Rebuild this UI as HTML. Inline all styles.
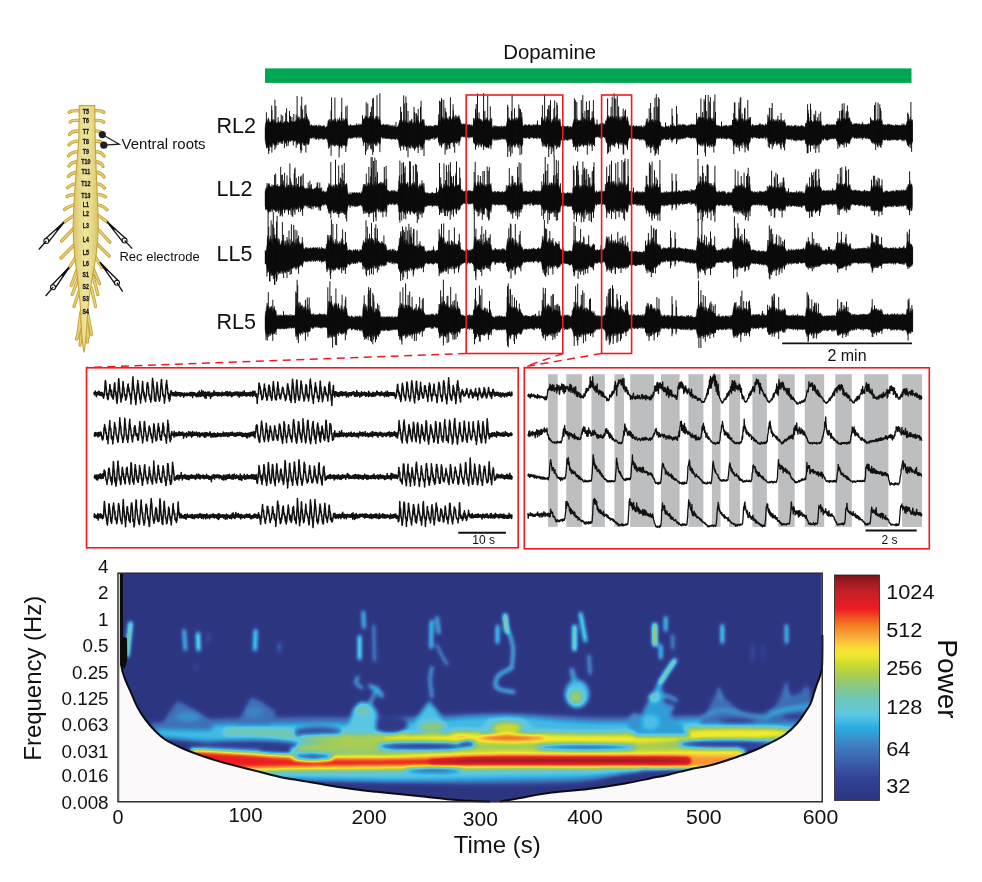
<!DOCTYPE html><html><head><meta charset="utf-8"><title>Dopamine figure</title><style>html,body{margin:0;padding:0;background:#fff;}svg{display:block;}</style></head><body><svg width="982" height="882" viewBox="0 0 982 882" font-family='"Liberation Sans", Arial, sans-serif' fill="#111"><defs><linearGradient id="cg" x1="0" x2="1" y1="0" y2="0"><stop offset="0" stop-color="#D9C467"/><stop offset="0.25" stop-color="#E6D988"/><stop offset="0.5" stop-color="#EDE49D"/><stop offset="0.75" stop-color="#E6D988"/><stop offset="1" stop-color="#D9C467"/></linearGradient></defs><path d="M83 111.2 Q72 109.9 69.4 112.3 M91 111.2 Q101 109.9 103.7 112.3 M83 120.7 Q72 119.4 70.3 122.0 M91 120.7 Q101 119.4 103.7 122.0 M83 131.3 Q72 130.0 69.5 134.5 M91 131.3 Q101 130.0 102.0 133.8 M83 141.3 Q72 140.0 69.0 144.8 M91 141.3 Q101 140.0 103.0 144.5 M83 151.8 Q72 150.5 68.5 155.8 M91 151.8 Q101 150.5 104.0 156.0 M83 162.0 Q72 160.7 69.0 166.0 M91 162.0 Q101 160.7 103.0 166.5 M83 172.5 Q72 171.2 68.5 176.5 M91 172.5 Q101 171.2 104.0 177.0 M83 183.8 Q72 182.5 67.5 187.8 M91 183.8 Q101 182.5 104.5 188.0 M83 194.8 Q72 193.5 67.0 196.5 M91 194.8 Q101 193.5 105.5 196.8 M83 204.5 Q72 203.2 64.5 209.5 M91 204.5 Q101 203.2 107.0 209.8 M77 213 L63.9 222.5 M95 213 L107.5 222.3 M76 226 L61.6 241 M96 227 L109.8 242.2 M76 243 L61 258 M95 242 L109.3 256 M77 255 L69 268 M94 254.5 L101.9 267.5 M78.5 266 L71.2 285.5 M79 276 L72.3 294.5 M80.5 287 L74 306.5 M92 266 L99.5 283.5 M93 276 L97.8 294.5 M91.5 288 L95.5 306.5 M81 312 L77.4 338 M87.5 313 L91.6 334.5 M83 318 L76.5 339 M86 318 L88.5 337 M82.5 325 L80 345 M85.5 325 L87.5 342" fill="none" stroke="#C9A136" stroke-width="3.3" stroke-linecap="round"/><path d="M83 111.2 Q72 109.9 69.4 112.3 M91 111.2 Q101 109.9 103.7 112.3 M83 120.7 Q72 119.4 70.3 122.0 M91 120.7 Q101 119.4 103.7 122.0 M83 131.3 Q72 130.0 69.5 134.5 M91 131.3 Q101 130.0 102.0 133.8 M83 141.3 Q72 140.0 69.0 144.8 M91 141.3 Q101 140.0 103.0 144.5 M83 151.8 Q72 150.5 68.5 155.8 M91 151.8 Q101 150.5 104.0 156.0 M83 162.0 Q72 160.7 69.0 166.0 M91 162.0 Q101 160.7 103.0 166.5 M83 172.5 Q72 171.2 68.5 176.5 M91 172.5 Q101 171.2 104.0 177.0 M83 183.8 Q72 182.5 67.5 187.8 M91 183.8 Q101 182.5 104.5 188.0 M83 194.8 Q72 193.5 67.0 196.5 M91 194.8 Q101 193.5 105.5 196.8 M83 204.5 Q72 203.2 64.5 209.5 M91 204.5 Q101 203.2 107.0 209.8 M77 213 L63.9 222.5 M95 213 L107.5 222.3 M76 226 L61.6 241 M96 227 L109.8 242.2 M76 243 L61 258 M95 242 L109.3 256 M77 255 L69 268 M94 254.5 L101.9 267.5 M78.5 266 L71.2 285.5 M79 276 L72.3 294.5 M80.5 287 L74 306.5 M92 266 L99.5 283.5 M93 276 L97.8 294.5 M91.5 288 L95.5 306.5 M81 312 L77.4 338 M87.5 313 L91.6 334.5 M83 318 L76.5 339 M86 318 L88.5 337 M82.5 325 L80 345 M85.5 325 L87.5 342" fill="none" stroke="#E4D37E" stroke-width="1.5" stroke-linecap="round"/><path d="M79.3 105.6 L94.8 105.6 L95.2 140 C96 175, 98 200, 98.2 225 C98.3 245, 96 258, 93.5 270 C91.5 282, 89.5 295, 88 308 C87 325, 86 342, 84 352.5 C82 342, 81 325, 80.5 308 C79.5 295, 78 282, 76.5 270 C74.5 258, 73 245, 73.2 225 C73.5 200, 76 175, 78.8 140 Z" fill="url(#cg)" stroke="#C9A136" stroke-width="1.1"/><text x="85.8" y="113.7" font-size="6.4" font-weight="bold" text-anchor="middle" stroke="#111" stroke-width="0.25" transform="translate(85.8 0) scale(0.82 1) translate(-85.8 0)">T5</text><text x="85.8" y="122.9" font-size="6.4" font-weight="bold" text-anchor="middle" stroke="#111" stroke-width="0.25" transform="translate(85.8 0) scale(0.82 1) translate(-85.8 0)">T6</text><text x="85.8" y="133.8" font-size="6.4" font-weight="bold" text-anchor="middle" stroke="#111" stroke-width="0.25" transform="translate(85.8 0) scale(0.82 1) translate(-85.8 0)">T7</text><text x="85.8" y="144.2" font-size="6.4" font-weight="bold" text-anchor="middle" stroke="#111" stroke-width="0.25" transform="translate(85.8 0) scale(0.82 1) translate(-85.8 0)">T8</text><text x="85.8" y="153.8" font-size="6.4" font-weight="bold" text-anchor="middle" stroke="#111" stroke-width="0.25" transform="translate(85.8 0) scale(0.82 1) translate(-85.8 0)">T9</text><text x="85.8" y="163.9" font-size="6.4" font-weight="bold" text-anchor="middle" stroke="#111" stroke-width="0.25" transform="translate(85.8 0) scale(0.82 1) translate(-85.8 0)">T10</text><text x="85.8" y="174.2" font-size="6.4" font-weight="bold" text-anchor="middle" stroke="#111" stroke-width="0.25" transform="translate(85.8 0) scale(0.82 1) translate(-85.8 0)">T11</text><text x="85.8" y="186" font-size="6.4" font-weight="bold" text-anchor="middle" stroke="#111" stroke-width="0.25" transform="translate(85.8 0) scale(0.82 1) translate(-85.8 0)">T12</text><text x="85.8" y="197.8" font-size="6.4" font-weight="bold" text-anchor="middle" stroke="#111" stroke-width="0.25" transform="translate(85.8 0) scale(0.82 1) translate(-85.8 0)">T13</text><text x="85.8" y="206.9" font-size="6.4" font-weight="bold" text-anchor="middle" stroke="#111" stroke-width="0.25" transform="translate(85.8 0) scale(0.82 1) translate(-85.8 0)">L1</text><text x="85.8" y="215.8" font-size="6.4" font-weight="bold" text-anchor="middle" stroke="#111" stroke-width="0.25" transform="translate(85.8 0) scale(0.82 1) translate(-85.8 0)">L2</text><text x="85.8" y="227.6" font-size="6.4" font-weight="bold" text-anchor="middle" stroke="#111" stroke-width="0.25" transform="translate(85.8 0) scale(0.82 1) translate(-85.8 0)">L3</text><text x="85.8" y="242" font-size="6.4" font-weight="bold" text-anchor="middle" stroke="#111" stroke-width="0.25" transform="translate(85.8 0) scale(0.82 1) translate(-85.8 0)">L4</text><text x="85.8" y="254.7" font-size="6.4" font-weight="bold" text-anchor="middle" stroke="#111" stroke-width="0.25" transform="translate(85.8 0) scale(0.82 1) translate(-85.8 0)">L5</text><text x="85.8" y="265.8" font-size="6.4" font-weight="bold" text-anchor="middle" stroke="#111" stroke-width="0.25" transform="translate(85.8 0) scale(0.82 1) translate(-85.8 0)">L6</text><text x="85.8" y="276.8" font-size="6.4" font-weight="bold" text-anchor="middle" stroke="#111" stroke-width="0.25" transform="translate(85.8 0) scale(0.82 1) translate(-85.8 0)">S1</text><text x="85.8" y="289.1" font-size="6.4" font-weight="bold" text-anchor="middle" stroke="#111" stroke-width="0.25" transform="translate(85.8 0) scale(0.82 1) translate(-85.8 0)">S2</text><text x="85.8" y="301.5" font-size="6.4" font-weight="bold" text-anchor="middle" stroke="#111" stroke-width="0.25" transform="translate(85.8 0) scale(0.82 1) translate(-85.8 0)">S3</text><text x="85.8" y="313.9" font-size="6.4" font-weight="bold" text-anchor="middle" stroke="#111" stroke-width="0.25" transform="translate(85.8 0) scale(0.82 1) translate(-85.8 0)">S4</text><path d="M63.9 222.3 L44.6 239.4 M63.9 222.3 L48.0 242.6" stroke="#111" stroke-width="1.35" fill="none"/><path d="M64.3 222.7 L63.5 221.9 L55.4 229.4 L57.3 231.2 Z" fill="#111"/><circle cx="46.3" cy="241.0" r="2.5" fill="#fff" stroke="#111" stroke-width="1.1"/><line x1="46.3" y1="241.0" x2="38.8" y2="249.5" stroke="#111" stroke-width="1.3"/><path d="M107.0 221.7 L122.9 242.1 M107.0 221.7 L126.3 238.9" stroke="#111" stroke-width="1.35" fill="none"/><path d="M107.4 221.3 L106.6 222.1 L113.6 230.6 L115.5 228.8 Z" fill="#111"/><circle cx="124.6" cy="240.5" r="2.5" fill="#fff" stroke="#111" stroke-width="1.1"/><line x1="124.6" y1="240.5" x2="132.3" y2="248.6" stroke="#111" stroke-width="1.3"/><path d="M69.0 267.5 L51.2 285.7 M69.0 267.5 L54.8 288.7" stroke="#111" stroke-width="1.35" fill="none"/><path d="M69.5 267.9 L68.5 267.1 L61.1 275.2 L63.1 276.9 Z" fill="#111"/><circle cx="53.0" cy="287.2" r="2.5" fill="#fff" stroke="#111" stroke-width="1.1"/><line x1="53.0" y1="287.2" x2="45.7" y2="296" stroke="#111" stroke-width="1.3"/><path d="M100.0 262.4 L115.2 284.2 M100.0 262.4 L118.8 281.2" stroke="#111" stroke-width="1.35" fill="none"/><path d="M100.5 262.0 L99.5 262.8 L106.1 271.7 L108.1 270.0 Z" fill="#111"/><circle cx="117.0" cy="282.7" r="2.5" fill="#fff" stroke="#111" stroke-width="1.1"/><line x1="117.0" y1="282.7" x2="122.6" y2="291.7" stroke="#111" stroke-width="1.3"/><circle cx="102.3" cy="134.6" r="3.6" fill="#231F20"/><circle cx="103.8" cy="145.2" r="3.6" fill="#231F20"/><path d="M102.3 134.6 L119.2 144.2 L103.8 145.2" fill="none" stroke="#231F20" stroke-width="1.2"/><text x="121.6" y="148.8" font-size="14.2" textLength="84" lengthAdjust="spacingAndGlyphs">Ventral roots</text><text x="119.4" y="260.6" font-size="12.9" textLength="80.5" lengthAdjust="spacingAndGlyphs">Rec electrode</text><text x="549.7" y="59.4" font-size="20.5" text-anchor="middle" textLength="93" lengthAdjust="spacingAndGlyphs">Dopamine</text>
<rect x="265" y="68.4" width="646.5" height="14.5" fill="#00A651"/>
<text x="216.6" y="133" font-size="21.5">RL2</text>
<text x="216.6" y="195.7" font-size="21.5">LL2</text>
<text x="216.6" y="261.1" font-size="21.5">LL5</text>
<text x="216.6" y="329.1" font-size="21.5">RL5</text>
<path d="M265 128.6l.5 -5l.5 -1.4l.5 -3.4l.5 3.7l.5 -1.5l.5 -2.1l.5 -1.2l.5 2.3l.5 2.8l.5 -1.5l.5 1.3l.5 -.6l.5 -3.3l.5 1.3l.5 .9l.5 -1.6l.5 .1l.5 2.9l.5 -.1l.5 -2.6l.5 2l.5 1.4l.5 .5l.5 -1.2l.5 .1l.5 .6l.5 -1.7l.5 .4l.5 1l.5 -.4l.5 -1.8l.5 2.1l.5 -.4l.5 1.3l.5 0l.5 -.5l.5 -.1l.5 -1l.5 -.6l.5 2.4l.5 -3l.5 1.2l.5 0l.5 -.8l.5 .6l.5 .7l.5 .2l.5 0l.5 1l.5 -2.9l.5 .9l.5 -1l.5 .9l.5 .2l.5 .4l.5 -.8l.5 .8l.5 .2l.5 -.9l.5 .6l.5 -.4l.5 -1.9l.5 1.2l.5 -.2l.5 -3.1l.5 -1.5l.5 2.2l.5 -.5l.5 -.7l.5 4.3l.5 -2.6l.5 1.2l.5 -.8l.5 -1.3l.5 -.3l.5 2.6l.5 -2l.5 .7l.5 -1.7l.5 3.3l.5 -1.9l.5 1.8l.5 -2.1l.5 2l.5 -3.9l.5 4.7l.5 -1.8l.5 1.4l.5 1.1l.5 3.7l.5 .2l.5 -.4l.5 -.8l.5 .9l.5 .3l.5 .6l.5 -.5l.5 -.9l.5 1l.5 .5l.5 -1.3l.5 .6l.5 -.9l.5 1l.5 .6l.5 .4l.5 -1.4l.5 -.8l.5 1.9l.5 -1.1l.5 .1l.5 1l.5 -.3l.5 .1l.5 0l.5 -.5l.5 .1l.5 -.7l.5 1.4l.5 -.2l.5 1.5l.5 -.7l.5 -1.1l.5 .8l.5 -1.8l.5 -4.3l.5 -.9l.5 1.9l.5 -2.9l.5 4.2l.5 -3.9l.5 3.8l.5 -.1l.5 -3.4l.5 1.7l.5 -.3l.5 -.8l.5 -.9l.5 3.1l.5 -2.8l.5 -1.3l.5 2.4l.5 1.7l.5 -.4l.5 -3.2l.5 2.1l.5 -.5l.5 -.9l.5 -2.1l.5 2.7l.5 1.7l.5 -1.4l.5 2.1l.5 -.4l.5 -1.2l.5 -2.7l.5 3.5l.5 -2.2l.5 .3l.5 2l.5 -3.1l.5 -.2l.5 -.1l.5 1.3l.5 2.9l.5 2.8l.5 .6l.5 -.7l.5 .9l.5 -.6l.5 -1.2l.5 .8l.5 1.1l.5 -1.2l.5 .7l.5 .2l.5 -.7l.5 .3l.5 -.4l.5 .1l.5 .3l.5 .1l.5 -2.3l.5 1.1l.5 1.2l.5 -.9l.5 1.1l.5 -2.3l.5 2.3l.5 -1.3l.5 0l.5 .8l.5 -1.2l.5 -.5l.5 -1.8l.5 -2.9l.5 1.1l.5 -1.7l.5 1l.5 -2.8l.5 -.9l.5 1.8l.5 0l.5 -1.1l.5 2.4l.5 -.8l.5 .1l.5 1.3l.5 -3.1l.5 .3l.5 -.5l.5 4.7l.5 -3l.5 -.3l.5 -1.3l.5 1.3l.5 2l.5 .6l.5 -1.6l.5 1.9l.5 -2.9l.5 -1.4l.5 1.2l.5 -1.2l.5 2l.5 1.7l.5 .1l.5 -3.3l.5 2.4l.5 .9l.5 1.8l.5 3.4l.5 .1l.5 .1l.5 -.8l.5 1.1l.5 -1.5l.5 .3l.5 1.1l.5 -.6l.5 .2l.5 -.5l.5 .1l.5 1l.5 -1l.5 -.4l.5 1.2l.5 .5l.5 -.4l.5 -.9l.5 1.3l.5 .5l.5 -1l.5 .3l.5 -.3l.5 1l.5 .9l.5 -2.5l.5 1.5l.5 .5l.5 -.5l.5 .4l.5 .8l.5 -.3l.5 -.9l.5 .3l.5 -2l.5 -1.2l.5 -3.2l.5 2.2l.5 -2.8l.5 3.6l.5 -3.1l.5 -.4l.5 3.3l.5 -1.8l.5 -1.2l.5 -.9l.5 4l.5 -.4l.5 -1.3l.5 -1l.5 .9l.5 1.1l.5 .6l.5 -.3l.5 1.7l.5 -2.6l.5 -1.2l.5 2.5l.5 -2l.5 -.7l.5 -1.1l.5 -.4l.5 5.6l.5 -1.6l.5 -.9l.5 2.1l.5 -2l.5 .8l.5 .9l.5 -3.4l.5 -2l.5 2.4l.5 -.3l.5 1.2l.5 -1.6l.5 3.6l.5 -.4l.5 -1.2l.5 -1.1l.5 .9l.5 0l.5 -1.7l.5 -.8l.5 -.3l.5 2.5l.5 -2.3l.5 4.7l.5 2.3l.5 0l.5 -1l.5 .6l.5 .1l.5 .5l.5 -.2l.5 -.2l.5 -.7l.5 .6l.5 .7l.5 -1.2l.5 .7l.5 .1l.5 -.4l.5 .5l.5 -.5l.5 1.7l.5 -2.6l.5 .6l.5 -.2l.5 -.3l.5 .3l.5 -.2l.5 1l.5 -.6l.5 -.7l.5 -2.6l.5 -1.7l.5 -1.1l.5 2.6l.5 .3l.5 -5.1l.5 .1l.5 2.3l.5 -3.1l.5 4l.5 -1.4l.5 -1.3l.5 2.5l.5 -2.1l.5 .7l.5 -.3l.5 -1.4l.5 .8l.5 1.6l.5 -2.2l.5 3.5l.5 -2.2l.5 -2.8l.5 2.6l.5 -1.5l.5 3l.5 -1.3l.5 1.7l.5 -4.1l.5 3.6l.5 -3.7l.5 4.2l.5 -3.8l.5 .4l.5 -2.3l.5 5.2l.5 -4.3l.5 2.3l.5 -1.3l.5 1.7l.5 -2.1l.5 -1.1l.5 2.5l.5 1.5l.5 1.3l.5 3.4l.5 -.3l.5 .9l.5 -.3l.5 0l.5 -.3l.5 -.2l.5 .5l.5 .1l.5 -.6l.5 -.1l.5 -.6l.5 1.4l.5 .3l.5 .4l.5 -.2l.5 -.6l.5 .2l.5 .8l.5 -.4l.5 .9l.5 -1.2l.5 1.3l.5 0l.5 -1l.5 -1.6l.5 -1.8l.5 -2.3l.5 -1.1l.5 .2l.5 -.2l.5 -.1l.5 2.3l.5 -.1l.5 -1.6l.5 -.6l.5 .8l.5 1.2l.5 -1l.5 0l.5 1.9l.5 -1.3l.5 2.1l.5 -.1l.5 -1.1l.5 -2.6l.5 1.9l.5 1.8l.5 -1.6l.5 .1l.5 -1.7l.5 1.5l.5 -2.6l.5 3.7l.5 -1.2l.5 1.6l.5 -.8l.5 1.9l.5 -3.2l.5 2l.5 -3.7l.5 5.4l.5 3.6l.5 .4l.5 1.2l.5 -2.1l.5 -.8l.5 1.7l.5 -1l.5 -.3l.5 1.9l.5 -1.4l.5 -.4l.5 .7l.5 .3l.5 -.5l.5 .8l.5 -.2l.5 -.8l.5 1.5l.5 -1.5l.5 -.4l.5 2.3l.5 -1.5l.5 .4l.5 -.9l.5 1.3l.5 -1.6l.5 1.2l.5 -.5l.5 0l.5 -1.9l.5 -3.1l.5 .5l.5 -2.9l.5 .4l.5 -2l.5 1.1l.5 1.5l.5 1.1l.5 -1.1l.5 -.7l.5 2.3l.5 -3l.5 2.8l.5 -2.7l.5 1.4l.5 .4l.5 .7l.5 -3.5l.5 3.5l.5 -3.9l.5 3.1l.5 -2.2l.5 .3l.5 -.7l.5 -1.6l.5 5.3l.5 -1.1l.5 -1.7l.5 1.2l.5 -2l.5 -1.1l.5 5.7l.5 3.8l.5 -.3l.5 -.7l.5 .5l.5 -1.8l.5 .9l.5 .6l.5 -.8l.5 .9l.5 .1l.5 -.2l.5 -1.1l.5 .7l.5 -.5l.5 -.1l.5 1.7l.5 -1l.5 -.2l.5 1.1l.5 -.4l.5 -1.5l.5 .5l.5 0l.5 .3l.5 .4l.5 -.8l.5 .9l.5 -.6l.5 -1.1l.5 1.8l.5 -.9l.5 .6l.5 -.1l.5 -.1l.5 -.1l.5 -.1l.5 1.7l.5 -2.7l.5 -1.4l.5 -2.4l.5 1l.5 -.5l.5 -2.2l.5 2.3l.5 1.4l.5 -.6l.5 -5.4l.5 2.5l.5 .7l.5 -1.9l.5 1.4l.5 1.3l.5 .1l.5 1.2l.5 -.8l.5 .8l.5 .3l.5 1.7l.5 -4.3l.5 1.9l.5 .3l.5 -3.4l.5 3.4l.5 -4.2l.5 6.2l.5 -5.7l.5 5.8l.5 -2.4l.5 -.2l.5 .4l.5 -.3l.5 -.5l.5 -1.8l.5 3.6l.5 -3.3l.5 3.4l.5 4.9l.5 -.8l.5 -.3l.5 1.7l.5 -1.9l.5 -.7l.5 2.3l.5 -1.7l.5 1.1l.5 .2l.5 -1.1l.5 .9l.5 -.6l.5 -.2l.5 0l.5 .3l.5 1.5l.5 -.2l.5 -1.8l.5 .9l.5 0l.5 .6l.5 -.7l.5 -1l.5 -2.7l.5 -1.8l.5 -2.1l.5 .2l.5 .8l.5 -.3l.5 2.1l.5 .6l.5 -4.2l.5 1.3l.5 1.2l.5 -.3l.5 -.1l.5 .9l.5 -1.6l.5 0l.5 1.7l.5 .4l.5 -2.3l.5 -.1l.5 2.8l.5 -5.1l.5 1.9l.5 -.1l.5 .3l.5 2.5l.5 -4.1l.5 .1l.5 3l.5 -.3l.5 3.1l.5 -4.8l.5 -2l.5 4.4l.5 .9l.5 -2.2l.5 2.1l.5 -3.8l.5 0l.5 -.3l.5 .7l.5 -2l.5 1.1l.5 3.9l.5 4.2l.5 -1.2l.5 -.7l.5 1.3l.5 -.4l.5 -1l.5 2l.5 -1l.5 .2l.5 -1.2l.5 1l.5 -1.1l.5 -.1l.5 1.5l.5 -1.9l.5 -.1l.5 .3l.5 1.6l.5 -1.5l.5 1.4l.5 -.5l.5 -3.6l.5 .8l.5 -2.1l.5 -1.4l.5 -2.2l.5 3.5l.5 -4l.5 2.6l.5 -1.1l.5 .7l.5 -1.6l.5 1.1l.5 1.9l.5 -1.8l.5 -1l.5 0l.5 1.8l.5 .8l.5 -1.1l.5 1.5l.5 -1.1l.5 -1.8l.5 .3l.5 2.3l.5 1.3l.5 .4l.5 -5.5l.5 5.8l.5 -3.3l.5 -1l.5 2.1l.5 2.8l.5 -3.9l.5 -1.4l.5 2.2l.5 -1.4l.5 2l.5 -3.4l.5 1.5l.5 -.3l.5 2.6l.5 2.5l.5 -2.8l.5 -2.6l.5 .4l.5 3.8l.5 1.3l.5 3l.5 .9l.5 -.1l.5 1l.5 -1.9l.5 1.4l.5 0l.5 .1l.5 0l.5 -1.2l.5 .9l.5 .2l.5 .3l.5 .1l.5 -1.1l.5 .2l.5 .5l.5 .6l.5 -.3l.5 -.7l.5 .7l.5 -.7l.5 1.5l.5 -.4l.5 -1.6l.5 .8l.5 .4l.5 .4l.5 1.1l.5 -1.3l.5 -1.4l.5 1.7l.5 -1.2l.5 -.2l.5 -3.5l.5 -3.2l.5 4.2l.5 -4.8l.5 5.7l.5 -1.9l.5 0l.5 -2.1l.5 2.5l.5 -1l.5 -1.1l.5 -.2l.5 1.2l.5 -2.4l.5 1.1l.5 2.8l.5 -2.9l.5 .9l.5 1l.5 -2.3l.5 4.5l.5 -3.9l.5 2.8l.5 -2.5l.5 .3l.5 -2.3l.5 3.7l.5 -1.1l.5 1.9l.5 -.9l.5 4l.5 .2l.5 .8l.5 -.9l.5 1.8l.5 -1.4l.5 .9l.5 -.1l.5 -.9l.5 .1l.5 -.6l.5 .2l.5 -.3l.5 1.5l.5 -1.1l.5 -.4l.5 0l.5 1.2l.5 1.2l.5 -2.1l.5 -1.5l.5 1.1l.5 .2l.5 -.1l.5 -.2l.5 .4l.5 .2l.5 -.8l.5 .6l.5 .5l.5 0l.5 -1.4l.5 .1l.5 .1l.5 -.1l.5 .2l.5 -1.7l.5 1.9l.5 -1.1l.5 0l.5 1.1l.5 -.2l.5 -.5l.5 -1l.5 1.1l.5 -.5l.5 -.2l.5 .7l.5 -.6l.5 .8l.5 .8l.5 -.7l.5 1l.5 -1l.5 0l.5 .2l.5 -1.2l.5 1.2l.5 -.5l.5 -.3l.5 -.6l.5 -.5l.5 .9l.5 .3l.5 .2l.5 -1.2l.5 1.2l.5 -.3l.5 .1l.5 -.1l.5 -.1l.5 -3.4l.5 1.5l.5 -3.8l.5 -.1l.5 -2l.5 .1l.5 1l.5 -1.7l.5 1.6l.5 .3l.5 -.7l.5 1.2l.5 -.6l.5 .6l.5 -1.4l.5 .1l.5 1.5l.5 1.7l.5 -4.5l.5 5l.5 -1.9l.5 2.2l.5 -1.3l.5 -2.1l.5 -.6l.5 3.5l.5 -3.2l.5 1.4l.5 -2.4l.5 3.5l.5 -1.6l.5 -.4l.5 .4l.5 3l.5 -.5l.5 -4.1l.5 3.9l.5 .7l.5 .4l.5 4l.5 -1.1l.5 .4l.5 0l.5 1.5l.5 -1.6l.5 1.2l.5 -.7l.5 .4l.5 .6l.5 -.1l.5 -1l.5 -.2l.5 1.3l.5 .5l.5 -1.4l.5 -.3l.5 .5l.5 -.2l.5 -.4l.5 -.2l.5 -.1l.5 1.3l.5 -.5l.5 .3l.5 .7l.5 -2l.5 1.2l.5 .1l.5 -1.2l.5 .5l.5 -.2l.5 -.3l.5 -1.2l.5 -.7l.5 -3.6l.5 .7l.5 1.3l.5 -1.3l.5 -2l.5 -.4l.5 3.5l.5 -2.4l.5 2.9l.5 -.3l.5 -1.9l.5 1.1l.5 -3.4l.5 4.2l.5 -.5l.5 -1.2l.5 -1.4l.5 .4l.5 .8l.5 -1.3l.5 3.9l.5 -3.1l.5 .8l.5 .8l.5 .8l.5 -1.8l.5 -.2l.5 2.2l.5 -2.1l.5 1.7l.5 -3l.5 2l.5 -3.1l.5 2.7l.5 4.4l.5 2.2l.5 -.6l.5 -1l.5 -.9l.5 .9l.5 .3l.5 1.5l.5 -1.3l.5 -.1l.5 .1l.5 -.5l.5 .1l.5 .6l.5 .1l.5 -1l.5 .4l.5 -.2l.5 -1.2l.5 1.3l.5 -.8l.5 1.5l.5 -.6l.5 -1.1l.5 .8l.5 .1l.5 0l.5 .1l.5 .7l.5 .3l.5 -2.4l.5 .5l.5 1l.5 .4l.5 -.7l.5 -2.9l.5 -.8l.5 -1.4l.5 -.4l.5 1l.5 -.1l.5 1.9l.5 -4.4l.5 4.1l.5 -.3l.5 -1.8l.5 -.7l.5 .6l.5 1.3l.5 .4l.5 -.4l.5 -1.7l.5 2.2l.5 -1.8l.5 -.1l.5 3.5l.5 -1.2l.5 -2.3l.5 .5l.5 0l.5 2.4l.5 -3.2l.5 1.1l.5 1l.5 1.2l.5 -2.5l.5 1.6l.5 -.3l.5 -1.8l.5 4l.5 -.8l.5 2.8l.5 1.7l.5 -1.4l.5 .1l.5 -.9l.5 1.2l.5 -.8l.5 .7l.5 -.2l.5 -.1l.5 1.5l.5 -2.4l.5 2.3l.5 -1.1l.5 -.1l.5 .2l.5 -.5l.5 -.3l.5 0l.5 .6l.5 -1.3l.5 2.4l.5 -.7l.5 -.2l.5 .3l.5 -.8l.5 0l.5 1l.5 .4l.5 -1.4l.5 .6l.5 -1.1l.5 -.2l.5 1.4l.5 -.1l.5 -.1l.5 .2l.5 1.1l.5 -1.1l.5 -.7l.5 -2.3l.5 .3l.5 -3.4l.5 2.8l.5 -2.3l.5 .2l.5 0l.5 .2l.5 1l.5 -1.3l.5 .3l.5 -1.2l.5 1.2l.5 1.2l.5 -1.1l.5 .1l.5 .9l.5 -.3l.5 -1.3l.5 0l.5 -.7l.5 .9l.5 .8l.5 1l.5 -1.9l.5 1.3l.5 -1.1l.5 1.3l.5 -2.4l.5 2.5l.5 -1.6l.5 3.4l.5 2.2l.5 -1.2l.5 .3l.5 -.3l.5 .1l.5 1.8l.5 -1.8l.5 0l.5 -.7l.5 .3l.5 -1.2l.5 .8l.5 0l.5 .1l.5 1.2l.5 -1.3l.5 .1l.5 .8l.5 -.6l.5 -.1l.5 -.1l.5 .4l.5 -.3l.5 -.1l.5 .2l.5 -.4l.5 1.3l.5 -.9l.5 .3l.5 -1.7l.5 -1.3l.5 -1.8l.5 -2.3l.5 3.1l.5 -2.6l.5 2.9l.5 -2.5l.5 2.9l.5 -.8l.5 -2l.5 1.4l.5 -1.3l.5 -1.2l.5 2.1l.5 -2.3l.5 .4l.5 .8l.5 .3l.5 1.8l.5 -1.9l.5 .8l.5 -1.6l.5 -.4l.5 .8l.5 -1.1l.5 0l.5 1.6l.5 2l.5 1.7l.5 -1.2l.5 2l.5 .7l.5 .2l.5 -.4l.5 -.7l.5 .1l.5 .2l.5 .3l.5 -.8l.5 .5l.5 -.4l.5 1.4l.5 -1.4l.5 1.4l.5 -1.2l.5 .3l.5 0l.5 .8l.5 -.4l.5 -.1l.5 0l.5 -2.3l.5 2.3l.5 0l.5 .2l.5 -.2l.5 1.2l.5 -1l.5 -.4l.5 1.1l.5 -1.1l.5 .5l.5 -.1l.5 -1.1l.5 .6l.5 -.1l.5 1l.5 -2.4l.5 -.9l.5 -2.3l.5 1.1l.5 .4l.5 -.3l.5 .2l.5 .8l.5 -2l.5 3.1l.5 -2.3l.5 1.9l.5 -1.5l.5 -.5l.5 -1.6l.5 1.1l.5 2.6l.5 -2.3l.5 -.8l.5 -.1l.5 1l.5 1.8l.5 -1.3l.5 -.9l.5 4.5l.5 .9l.5 -.5l.5 .5l.5 -.1l.5 -.5l.5 0l.5 .5l.5 .9l.5 -1.1l.5 -.3l.5 -.7l.5 1.3l.5 -1l.5 .2l.5 .2l.5 .6l.5 -.1l.5 -.1l.5 .1l.5 .4l.5 -.4l.5 .5l.5 0l.5 .5l.5 -.3l.5 -1.4l.5 1.2l.5 -.3l.5 0l.5 -.1l.5 -.1l.5 1l.5 -1l.5 .3l.5 .5l.5 -.3l.5 -.1l.5 .5l.5 -2.3l.5 1.9l.5 -.5l.5 0l.5 -1.4l.5 2.2l.5 -.8l.5 .6l.5 -.4l.5 -1.5l.5 -2.4l.5 .4l.5 -.6l.5 -1.5l.5 0l.5 -.5l.5 2.2l.5 .2l.5 -.4l.5 -1.6l.5 2l.5 2.2L912.5 140.7l-.5 2.6l-.5 1.7l-.5 -.8l-.5 -2.4l-.5 2.6l-.5 -1.2l-.5 2.9l-.5 .7l-.5 -2.9l-.5 1.3l-.5 -2.2l-.5 -1.6l-.5 -1.6l-.5 -.3l-.5 .7l-.5 -1l-.5 2.3l-.5 -1.7l-.5 -.1l-.5 .9l-.5 .7l-.5 -2l-.5 .4l-.5 -.4l-.5 -.1l-.5 .4l-.5 .2l-.5 0l-.5 .5l-.5 -.2l-.5 .6l-.5 -.8l-.5 -.1l-.5 .2l-.5 -.5l-.5 -.2l-.5 .9l-.5 -.3l-.5 -.4l-.5 0l-.5 .8l-.5 -1l-.5 1l-.5 -.3l-.5 .6l-.5 -.2l-.5 -.6l-.5 -.3l-.5 1.6l-.5 -.7l-.5 -.5l-.5 -1l-.5 .5l-.5 .8l-.5 -.1l-.5 0l-.5 .2l-.5 -.7l-.5 -.2l-.5 2l-.5 3.6l-.5 -.1l-.5 -3.4l-.5 1.3l-.5 2.8l-.5 -.4l-.5 -2.2l-.5 -.4l-.5 3.6l-.5 -.4l-.5 -.8l-.5 -1.2l-.5 -1.7l-.5 2.2l-.5 -2.7l-.5 2.7l-.5 -.6l-.5 -1.3l-.5 0l-.5 1.1l-.5 -1.4l-.5 .4l-.5 -2l-.5 -.3l-.5 -1.7l-.5 .2l-.5 .2l-.5 .2l-.5 -.8l-.5 -.8l-.5 1.4l-.5 -1.2l-.5 1.3l-.5 -.5l-.5 -1.9l-.5 1.2l-.5 .1l-.5 .1l-.5 -.3l-.5 2.2l-.5 -2.6l-.5 1.1l-.5 -.9l-.5 .3l-.5 .6l-.5 -.8l-.5 .7l-.5 -1.4l-.5 1.8l-.5 -1.9l-.5 1.9l-.5 0l-.5 -1.1l-.5 .3l-.5 0l-.5 .8l-.5 -.6l-.5 -.5l-.5 -1l-.5 .7l-.5 .1l-.5 1.3l-.5 .6l-.5 .7l-.5 2.3l-.5 1.3l-.5 .7l-.5 -1.3l-.5 -.3l-.5 .5l-.5 -1.2l-.5 1.7l-.5 .1l-.5 -2.3l-.5 .9l-.5 -.7l-.5 2.9l-.5 -2.5l-.5 2.9l-.5 -1.1l-.5 -.5l-.5 -.4l-.5 -.2l-.5 .7l-.5 .3l-.5 -1.8l-.5 3.4l-.5 -1.4l-.5 -.2l-.5 -1.7l-.5 -1.5l-.5 -1.6l-.5 -1.7l-.5 1.6l-.5 -1.7l-.5 1.7l-.5 -.6l-.5 1l-.5 -.5l-.5 -.4l-.5 -.1l-.5 .8l-.5 -.2l-.5 -.4l-.5 .6l-.5 .7l-.5 -1.9l-.5 1.8l-.5 .4l-.5 .4l-.5 -.2l-.5 -.4l-.5 .4l-.5 -1l-.5 -.5l-.5 -1.4l-.5 2.2l-.5 .9l-.5 -1l-.5 0l-.5 -.5l-.5 3.3l-.5 .5l-.5 1.3l-.5 -.2l-.5 -1.2l-.5 2.5l-.5 -.3l-.5 -1.1l-.5 1.9l-.5 -2.3l-.5 1.4l-.5 .6l-.5 -.9l-.5 .9l-.5 -2.7l-.5 1.4l-.5 .9l-.5 -.2l-.5 .7l-.5 -.2l-.5 -.4l-.5 -.5l-.5 .5l-.5 .8l-.5 -.8l-.5 -1.4l-.5 1.5l-.5 .9l-.5 -1.4l-.5 2.6l-.5 -4.2l-.5 1.1l-.5 -2.7l-.5 -.8l-.5 -1.3l-.5 .5l-.5 .4l-.5 -.4l-.5 .1l-.5 .5l-.5 .8l-.5 -.8l-.5 .1l-.5 -.3l-.5 -.3l-.5 .8l-.5 -.4l-.5 -.7l-.5 .3l-.5 .9l-.5 -1.2l-.5 2.1l-.5 -1.5l-.5 .1l-.5 .1l-.5 -.1l-.5 .3l-.5 -.6l-.5 -.9l-.5 -.6l-.5 2.1l-.5 -2.2l-.5 .9l-.5 .2l-.5 -.2l-.5 .2l-.5 -.1l-.5 .2l-.5 -.6l-.5 .4l-.5 -1.8l-.5 1.5l-.5 1.5l-.5 3.6l-.5 -1.2l-.5 1.6l-.5 -1.7l-.5 -1.2l-.5 1l-.5 2.3l-.5 -1.2l-.5 -1.9l-.5 -1l-.5 4.4l-.5 -2l-.5 -.1l-.5 .5l-.5 -.4l-.5 1.2l-.5 -1.2l-.5 .6l-.5 .2l-.5 -3l-.5 .1l-.5 2.8l-.5 -.2l-.5 1l-.5 -.8l-.5 -2.2l-.5 -.5l-.5 3.2l-.5 -1.4l-.5 .8l-.5 -2.2l-.5 .9l-.5 -1.3l-.5 1.1l-.5 -.2l-.5 -3.4l-.5 -2.1l-.5 1.3l-.5 .4l-.5 1.4l-.5 -3.7l-.5 1.5l-.5 .1l-.5 1l-.5 -.9l-.5 .7l-.5 -.3l-.5 .1l-.5 -1.2l-.5 1.2l-.5 -.4l-.5 1.2l-.5 -1l-.5 .3l-.5 .4l-.5 -1.2l-.5 -.3l-.5 1.1l-.5 -.2l-.5 -.8l-.5 .2l-.5 .1l-.5 -.5l-.5 -.2l-.5 1.3l-.5 0l-.5 .2l-.5 -1.2l-.5 -.2l-.5 2l-.5 3.5l-.5 -.3l-.5 1.5l-.5 1.2l-.5 -1.6l-.5 1.9l-.5 .4l-.5 -2.7l-.5 .8l-.5 1.8l-.5 1.9l-.5 -5.1l-.5 3.3l-.5 -3.5l-.5 .1l-.5 .8l-.5 -.2l-.5 2.7l-.5 -1.4l-.5 -1.3l-.5 -.1l-.5 3.1l-.5 -3l-.5 3.6l-.5 -1.7l-.5 -.6l-.5 1.3l-.5 -2.4l-.5 3.9l-.5 -4.4l-.5 .9l-.5 1.5l-.5 -.1l-.5 1.2l-.5 -5.3l-.5 .4l-.5 -2.2l-.5 .2l-.5 0l-.5 .3l-.5 -1.2l-.5 .2l-.5 .5l-.5 -1.5l-.5 .9l-.5 .4l-.5 -.6l-.5 1.5l-.5 -.6l-.5 -.2l-.5 -.7l-.5 .3l-.5 .6l-.5 -.9l-.5 -.9l-.5 1l-.5 1l-.5 -.6l-.5 -.3l-.5 -1.2l-.5 1.5l-.5 -.5l-.5 0l-.5 .6l-.5 -1.5l-.5 1.4l-.5 -1.2l-.5 1.7l-.5 -1.6l-.5 4.5l-.5 4.3l-.5 -.8l-.5 .5l-.5 -2.5l-.5 3.6l-.5 -2.6l-.5 -.7l-.5 3.4l-.5 -1l-.5 -.8l-.5 -1.3l-.5 3.7l-.5 -3.4l-.5 1.5l-.5 -.1l-.5 .7l-.5 -.3l-.5 -4.7l-.5 1.8l-.5 4.2l-.5 -4.9l-.5 2l-.5 -.8l-.5 -.2l-.5 -.3l-.5 2l-.5 1.1l-.5 -4.1l-.5 3.5l-.5 -.3l-.5 -1l-.5 0l-.5 -.8l-.5 -.6l-.5 2.5l-.5 -.8l-.5 -2l-.5 -2.5l-.5 -2.7l-.5 1l-.5 -1.4l-.5 1l-.5 -1.2l-.5 1.5l-.5 -1.2l-.5 .2l-.5 .6l-.5 .2l-.5 .3l-.5 -.4l-.5 -.5l-.5 -.8l-.5 1.2l-.5 -1.1l-.5 .6l-.5 -.7l-.5 -.4l-.5 1.2l-.5 -.5l-.5 .3l-.5 1.4l-.5 -2l-.5 1.2l-.5 .5l-.5 .1l-.5 .4l-.5 -.5l-.5 -.5l-.5 .3l-.5 1l-.5 -.8l-.5 -.1l-.5 1.6l-.5 -1.5l-.5 .3l-.5 -.4l-.5 .6l-.5 -.5l-.5 -.3l-.5 -.1l-.5 .4l-.5 0l-.5 .2l-.5 .6l-.5 -.3l-.5 .1l-.5 .1l-.5 .7l-.5 .4l-.5 -1.8l-.5 -1.5l-.5 1.2l-.5 1.5l-.5 -.1l-.5 -.1l-.5 -.9l-.5 .7l-.5 .5l-.5 .1l-.5 -.3l-.5 -.9l-.5 -.4l-.5 .5l-.5 .8l-.5 -1.7l-.5 1.8l-.5 -.1l-.5 .2l-.5 1l-.5 4.2l-.5 1.3l-.5 -1.7l-.5 .5l-.5 2.2l-.5 1.3l-.5 -2l-.5 1.8l-.5 .9l-.5 -1.7l-.5 -1.3l-.5 -.7l-.5 2.1l-.5 1l-.5 -3.7l-.5 -.5l-.5 2.2l-.5 -.8l-.5 1.9l-.5 -.9l-.5 -1.3l-.5 2.4l-.5 -3.9l-.5 2l-.5 .7l-.5 -2.5l-.5 0l-.5 3.8l-.5 -2.3l-.5 -1.1l-.5 -3.7l-.5 -.2l-.5 -2.1l-.5 1.7l-.5 -1l-.5 -.1l-.5 -.3l-.5 .1l-.5 0l-.5 1.2l-.5 -1.6l-.5 .4l-.5 1.3l-.5 -2.5l-.5 1.2l-.5 -.2l-.5 -.5l-.5 .6l-.5 -.3l-.5 .8l-.5 -.7l-.5 -.7l-.5 -.2l-.5 .8l-.5 .3l-.5 -1.4l-.5 1l-.5 -.7l-.5 -.4l-.5 1.4l-.5 -1.8l-.5 1.1l-.5 -.6l-.5 .3l-.5 2.1l-.5 1.5l-.5 5.3l-.5 .5l-.5 -2.4l-.5 -.9l-.5 .9l-.5 .4l-.5 -2.5l-.5 .8l-.5 2.7l-.5 -.5l-.5 -3.4l-.5 0l-.5 1l-.5 1.4l-.5 -2.8l-.5 2.4l-.5 -2.3l-.5 0l-.5 4.7l-.5 -2.7l-.5 -.5l-.5 -.9l-.5 -1.5l-.5 1.8l-.5 .1l-.5 .2l-.5 1.6l-.5 .2l-.5 -.3l-.5 1.1l-.5 -2.3l-.5 -2.1l-.5 2.8l-.5 .9l-.5 -.6l-.5 2.3l-.5 -4.4l-.5 0l-.5 0l-.5 1.7l-.5 -1.4l-.5 -.2l-.5 .3l-.5 -1.7l-.5 -1.9l-.5 -2.6l-.5 .9l-.5 -.4l-.5 -.9l-.5 .6l-.5 .8l-.5 -.3l-.5 -1.1l-.5 0l-.5 2.2l-.5 -2.6l-.5 2l-.5 -1.5l-.5 .9l-.5 -1.5l-.5 1.2l-.5 -.3l-.5 .3l-.5 .3l-.5 .1l-.5 -1l-.5 4.5l-.5 2.5l-.5 .5l-.5 .6l-.5 -2.9l-.5 5l-.5 -2l-.5 -2l-.5 1.7l-.5 -1.4l-.5 2.9l-.5 -.2l-.5 -4.8l-.5 3.6l-.5 1.4l-.5 -1.4l-.5 -1.8l-.5 2.6l-.5 -1.4l-.5 1.5l-.5 -.8l-.5 .3l-.5 1.9l-.5 -.4l-.5 -2.7l-.5 1.1l-.5 -1.8l-.5 3.1l-.5 -.6l-.5 1l-.5 .5l-.5 -3.9l-.5 .3l-.5 2.5l-.5 -1.3l-.5 2.9l-.5 -.4l-.5 -2.2l-.5 .6l-.5 -1.1l-.5 -1l-.5 1.5l-.5 -.4l-.5 .1l-.5 -3.8l-.5 -1.7l-.5 -.4l-.5 .5l-.5 -.6l-.5 1.6l-.5 -1.3l-.5 -.5l-.5 1.5l-.5 .4l-.5 .1l-.5 -.4l-.5 -.1l-.5 .2l-.5 -.8l-.5 0l-.5 1.5l-.5 -2.2l-.5 1.6l-.5 .4l-.5 -2.3l-.5 1.9l-.5 .1l-.5 -1.4l-.5 4.8l-.5 2.4l-.5 1.2l-.5 0l-.5 -2.9l-.5 2.9l-.5 -1l-.5 1.5l-.5 -4.4l-.5 2.6l-.5 -1.8l-.5 1.5l-.5 -.7l-.5 -2.4l-.5 5.4l-.5 -2.6l-.5 2.9l-.5 -2l-.5 .3l-.5 -.5l-.5 1.2l-.5 -1.1l-.5 -.3l-.5 -2.3l-.5 .3l-.5 -1.2l-.5 1.5l-.5 2.4l-.5 .8l-.5 -.4l-.5 -.8l-.5 -2.8l-.5 2.4l-.5 .7l-.5 -.8l-.5 -3.9l-.5 4.8l-.5 -2.8l-.5 -3.8l-.5 -2.8l-.5 1.3l-.5 -.6l-.5 .5l-.5 0l-.5 -.6l-.5 -.3l-.5 .2l-.5 1.4l-.5 -1.2l-.5 0l-.5 .3l-.5 -.5l-.5 0l-.5 .6l-.5 .6l-.5 -.7l-.5 -.6l-.5 -.8l-.5 1.1l-.5 -.3l-.5 -.8l-.5 2.3l-.5 -1.2l-.5 1l-.5 -.7l-.5 -1l-.5 .4l-.5 -.6l-.5 1.4l-.5 -.2l-.5 -.3l-.5 .4l-.5 -.5l-.5 .1l-.5 -.2l-.5 -.8l-.5 5.8l-.5 3.5l-.5 -.1l-.5 .9l-.5 -3.1l-.5 .6l-.5 -2.3l-.5 3l-.5 -.6l-.5 -.1l-.5 2.6l-.5 -3.9l-.5 -.1l-.5 1.7l-.5 .5l-.5 2.2l-.5 -.5l-.5 -3.3l-.5 1.2l-.5 .6l-.5 -.7l-.5 2.2l-.5 -2.7l-.5 -1.6l-.5 2l-.5 -1.5l-.5 .2l-.5 3.1l-.5 -1.8l-.5 2.1l-.5 -.8l-.5 -3l-.5 -1.5l-.5 -1.6l-.5 -.7l-.5 -.9l-.5 1.3l-.5 -.9l-.5 .6l-.5 -.1l-.5 -.1l-.5 -1.1l-.5 .8l-.5 .9l-.5 -.8l-.5 .9l-.5 -.6l-.5 -.8l-.5 1.8l-.5 -1.2l-.5 .6l-.5 .8l-.5 -.3l-.5 -1.7l-.5 1.2l-.5 1l-.5 -2l-.5 1.8l-.5 -.9l-.5 -1.6l-.5 1.3l-.5 .5l-.5 4.2l-.5 5.4l-.5 -3.2l-.5 -1.4l-.5 0l-.5 3.8l-.5 -.5l-.5 -1l-.5 .5l-.5 -.3l-.5 .5l-.5 -.1l-.5 -.5l-.5 -1.3l-.5 -.8l-.5 1.8l-.5 -.9l-.5 -2.1l-.5 .3l-.5 .5l-.5 2.6l-.5 -.2l-.5 -2.4l-.5 -1.7l-.5 1.9l-.5 0l-.5 2.6l-.5 -5.8l-.5 3.4l-.5 -1.4l-.5 1.8l-.5 1.1l-.5 -2.8l-.5 -.2l-.5 .8l-.5 -1.9l-.5 -2.8l-.5 -1.9l-.5 -.9l-.5 -.1l-.5 .7l-.5 -.3l-.5 .3l-.5 -.9l-.5 1l-.5 .9l-.5 -1.1l-.5 -.2l-.5 -.1l-.5 1l-.5 -.4l-.5 .5l-.5 -.5l-.5 -1.1l-.5 .3l-.5 .4l-.5 -.3l-.5 -.3l-.5 -.3l-.5 .1l-.5 .8l-.5 -1l-.5 3.4l-.5 2l-.5 .1l-.5 4.1l-.5 -4.7l-.5 -.1l-.5 2.1l-.5 -.8l-.5 1.5l-.5 -3.5l-.5 2.5l-.5 -1.6l-.5 2.2l-.5 -2.8l-.5 2.9l-.5 -2.1l-.5 .9l-.5 .8l-.5 -.3l-.5 -.8l-.5 1.4l-.5 -2.1l-.5 1.6l-.5 -.4l-.5 .7l-.5 2.4l-.5 -.9l-.5 -1.9l-.5 0l-.5 -1.3l-.5 3.8l-.5 -3.2l-.5 .4l-.5 .4l-.5 .6l-.5 .1l-.5 -.9l-.5 2.8l-.5 .3l-.5 -1.8l-.5 -3.4l-.5 1.2l-.5 3.9l-.5 -2.3l-.5 -2.5l-.5 -2.8l-.5 -.6l-.5 -1l-.5 1.8l-.5 -.2l-.5 .6l-.5 -.7l-.5 .5l-.5 1.5l-.5 -3.2l-.5 1l-.5 .9l-.5 .2l-.5 -.6l-.5 .4l-.5 .9l-.5 -.8l-.5 .4l-.5 1.7l-.5 -1.1l-.5 -.8l-.5 .7l-.5 0l-.5 .1l-.5 .5l-.5 -1.2l-.5 .7l-.5 2.5l-.5 1.7l-.5 .1l-.5 4l-.5 -2.7l-.5 2l-.5 -.9l-.5 -.2l-.5 -1.4l-.5 2.7l-.5 -3.1l-.5 -.6l-.5 2.1l-.5 1.5l-.5 .6l-.5 -3.1l-.5 .6l-.5 -.9l-.5 4.1l-.5 -1l-.5 -.9l-.5 .8l-.5 -2.2l-.5 2.7l-.5 -1.9l-.5 1.5l-.5 -2.9l-.5 -.1l-.5 3.8l-.5 0l-.5 -1.2l-.5 -.3l-.5 -2.2l-.5 3.2l-.5 -1.6l-.5 -1l-.5 1l-.5 0l-.5 .5l-.5 -1.1l-.5 -1.8l-.5 2.7l-.5 -1.1l-.5 -1.4l-.5 1.6l-.5 .5l-.5 -.6l-.5 0l-.5 -.8l-.5 -.9l-.5 4l-.5 -3.3l-.5 -3.5l-.5 -1.5l-.5 -.4l-.5 -.7l-.5 -.7l-.5 1l-.5 1l-.5 -1.6l-.5 .7l-.5 .4l-.5 -1l-.5 .7l-.5 -.3l-.5 -.6l-.5 1.4l-.5 -1.3l-.5 .4l-.5 .4l-.5 -.6l-.5 -.4l-.5 .4l-.5 .5l-.5 -.5l-.5 -.8l-.5 .9l-.5 .1l-.5 -.4l-.5 -.2l-.5 -.8l-.5 1.4l-.5 -.7l-.5 -.7l-.5 1l-.5 -.9l-.5 -.7l-.5 .3l-.5 4.8l-.5 2.7l-.5 -1.4l-.5 .3l-.5 -.4l-.5 -1.5l-.5 .2l-.5 4.3l-.5 -2.5l-.5 1.8l-.5 .3l-.5 -2.7l-.5 1.3l-.5 -1.7l-.5 -.1l-.5 .1l-.5 1.3l-.5 -3.9l-.5 3.9l-.5 -.7l-.5 -.3l-.5 1l-.5 1.2l-.5 -3.4l-.5 4.9l-.5 -4.2l-.5 1.1l-.5 -1.9l-.5 .9l-.5 -.7l-.5 -.2l-.5 -.2l-.5 1l-.5 -.1l-.5 3.7l-.5 -4l-.5 -2.1l-.5 -2.3l-.5 .2l-.5 -1.4l-.5 .8l-.5 .8l-.5 -1.9l-.5 2.3l-.5 -2.3l-.5 1.2l-.5 -.1l-.5 .4l-.5 1l-.5 -1.6l-.5 -.3l-.5 1l-.5 -.1l-.5 -.5l-.5 .5l-.5 .1l-.5 .3l-.5 .4l-.5 -.8l-.5 1.2l-.5 -.5l-.5 .2l-.5 -.9l-.5 .4l-.5 .3l-.5 0l-.5 2.1l-.5 5.4l-.5 -.9l-.5 2.1l-.5 -1.8l-.5 .5l-.5 -.3l-.5 -1l-.5 1l-.5 .4l-.5 -2.6l-.5 3.8l-.5 .5l-.5 -3.6l-.5 1.9l-.5 -.2l-.5 .7l-.5 .2l-.5 -2.7l-.5 2.3l-.5 -.6l-.5 -1.1l-.5 .3l-.5 .3l-.5 1.1l-.5 -2.1l-.5 2.5l-.5 -.9l-.5 -1.2l-.5 1.4l-.5 -.8l-.5 -2.1l-.5 2.2l-.5 -1.6l-.5 1.4l-.5 1.5l-.5 .7l-.5 1.3l-.5 .2l-.5 -5.4l-.5 -2.2l-.5 -2.5l-.5 1l-.5 -1.4l-.5 -.2l-.5 1.2l-.5 -.2l-.5 .8l-.5 -1.1l-.5 1.2l-.5 -1l-.5 -.3l-.5 0l-.5 0l-.5 .4l-.5 -.5l-.5 -.5l-.5 2.3l-.5 -.6l-.5 -1.7l-.5 .3l-.5 .4l-.5 1l-.5 -.9l-.5 1l-.5 -2.6l-.5 .9l-.5 .8l-.5 -1.2l-.5 -.4l-.5 .9l-.5 .1l-.5 .3l-.5 -.6l-.5 .1l-.5 -.3l-.5 2.7l-.5 3.6l-.5 .6l-.5 .2l-.5 -2.1l-.5 2.2l-.5 -3.4l-.5 2.4l-.5 -1l-.5 2.3l-.5 -.1l-.5 -1.6l-.5 -.2l-.5 -1.6l-.5 .9l-.5 1.5l-.5 -.5l-.5 -.8l-.5 .8l-.5 1l-.5 -1.9l-.5 1l-.5 -1.4l-.5 .7l-.5 2.1l-.5 -1.6l-.5 .1l-.5 -2.7l-.5 -1.1l-.5 1.2l-.5 .6l-.5 -.4l-.5 -.8l-.5 -.5l-.5 0l-.5 1.4l-.5 -1.5l-.5 .8l-.5 .7l-.5 .7l-.5 -1.2l-.5 -.2l-.5 -.6l-.5 1.1l-.5 -.7l-.5 -.4l-.5 2.5l-.5 .4l-.5 -1.3l-.5 -1.9l-.5 3l-.5 -2.2l-.5 -.2l-.5 0l-.5 1.4l-.5 -.1l-.5 -.5l-.5 -.3l-.5 .9l-.5 .7l-.5 -1.3l-.5 2.1l-.5 -1.3l-.5 -1.7l-.5 .8l-.5 4.5l-.5 -2.3l-.5 1.8l-.5 -.3l-.5 .8l-.5 -.3l-.5 -1.2l-.5 .4l-.5 -2l-.5 .9l-.5 3.5l-.5 .3l-.5 -2.8l-.5 3l-.5 -1.1l-.5 -1.3l-.5 -.8l-.5 2.3l-.5 1.4l-.5 -1.6l-.5 2.1l-.5 -1.2l-.5 -2.1l-.5 -2l-.5 -4.5Z" fill="#0b0b0b" stroke="#0b0b0b" stroke-width="0.4"/>
<path d="M266.4 112.3V133.5M266.8 133.4V148.1M268.6 133.3V153.9M269.2 133.2V151M271.7 105.6V146.6M271.9 110V152.6M274.9 99.7V149.9M275.9 105.9V147.7M277.3 132.2V141.7M278.1 117.2V144.9M281.2 114.4V143.8M281.4 131.8V143.2M282.7 115.8V143.8M284.4 131.5V148.1M285.7 112.9V143.6M286.6 108.3V146.4M288.1 131.2V146M288.5 131.2V143.2M289.5 110.9V131.1M290.5 116.2V131M292 117V131M293.3 130.9V145.5M293.8 114V130.9M296.2 114.5V147.8M297.1 96V130.9M300.5 130.9V149.9M301 105.8V153.1M301.7 96.7V150.6M302.6 109.3V131M303.6 131.1V145.2M304.9 105.6V146M305.9 104.8V152.6M306.5 113.5V131.2M331.1 110.3V155.8M331.6 97.4V132.9M334.9 97.5V132.8M339.1 132.7V157.4M339.6 132.6V148.4M340.5 132.6V146.1M341.4 112.1V145.7M341.8 97.8V148.3M345.8 106.6V152M347.1 105.5V132.1M362.5 115.3V139.3M365.5 130.6V154.9M366.2 102.2V151.4M367.8 103.5V149.5M370.6 112V148.5M371.4 106.7V149.6M372.7 98.7V154.9M373.4 97.9V151.9M377 95.2V130.8M379.9 93.2V152.1M396 122V132.9M400.6 106.8V150.7M401.5 111.8V133.5M403.7 95.4V149.6M404.3 103.4V133.7M405.9 96.5V133.8M406.6 102.9V150.7M408 111V157.2M414 106.9V148.8M414.6 112V150.7M416.1 113.8V147.5M416.3 113.2V133.9M416.9 133.9V146.3M417.6 115.6V133.8M418.2 108.8V153M420.5 106.9V133.6M421.1 100.7V150.2M422.7 133.4V149.6M424 133.3V156.1M438.7 114.3V142.1M439.6 100.7V131.3M440.3 101.6V145.5M441.5 98.2V147.6M441.9 99.7V131M443.8 99.8V130.8M445.1 107.9V154.6M445.7 111.3V130.6M446.2 130.6V148.1M446.3 112.4V150.1M447.8 130.5V149.3M448.5 130.4V144.8M449.5 130.4V148.2M449.9 130.3V148.8M450.4 97.3V130.3M453.1 104.2V130.2M453.3 110.3V146.8M454.7 130.2V152.7M473.5 118.1V142.7M475.5 108.9V149.8M476.2 104.1V131.7M477 113.4V131.8M477.5 93.5V131.9M479.1 112.4V132M483.6 93.1V149.9M483.8 111.8V132.5M484.9 110.9V132.6M487.7 96.1V132.7M490.3 106.3V145M491.7 118.7V145.1M507.7 104.8V157.1M507.9 106.9V132.6M509.2 132.5V151.6M510.7 132.4V156.5M511.4 111.1V147.2M512.1 94.4V153.5M514.5 108.2V132.1M518.8 104.5V148.3M519.4 108.3V131.8M520 131.8V155.1M520.5 109.1V144.8M521.7 112.2V154.3M522.6 131.7V145.1M537.5 120.4V131.6M541.5 117.3V141M542.4 105.2V131.8M544.6 94.3V131.9M547.6 109.1V132.2M548.7 105.4V157.1M549 110.2V149.3M549.9 104.7V132.3M550.5 100.2V132.4M551.3 132.4V154.1M553.1 132.5V151.6M553.9 108.3V156.5M554.7 100.4V132.6M556.3 115.3V149.3M556.9 102.4V132.8M557.3 105V132.8M573.5 132.9V147.2M574.4 98.4V146.7M575.6 100.3V150.4M576.8 102.1V132.7M577.7 132.7V151.8M579.1 132.6V146.3M581.3 100.1V132.4M582.7 113V132.3M582.8 95.1V132.3M584.9 110.8V132.1M586.4 101.4V145.2M587.3 110V154.7M588.4 109.9V131.7M589.4 100.7V131.6M592.2 111.3V151M593.4 100.2V144.9M594.5 131.1V146.1M597 119.5V130.9M607.6 98.4V153.8M608.5 130.3V152.5M609.3 130.3V146.7M610.2 130.3V151.6M611.1 106.8V144.1M612.2 96.8V144.7M614.1 93.3V130.4M614.7 98.5V147.2M615.8 98.5V130.5M617.3 95.6V130.6M618.6 106.4V148.7M623.2 108.5V153.7M623.7 131.1V154.7M624.9 110.9V131.3M625.5 109.5V131.3M627.5 131.5V149.7M649.2 108.3V133.5M650.6 103V147.2M650.8 112.7V152.9M654.1 107.1V150.5M655 97.9V155.7M655.5 133.5V154.2M656.3 94.1V153.3M657.2 107V148.3M658.1 106.4V150.8M658.3 97.1V154.7M659.2 98.8V133.4M665.5 122.4V133.1M670.5 124.7V132.7M673 123.3V132.5M696.6 113V131.2M697.5 131.2V155.1M700.9 98.4V131.3M702.6 112.1V145.1M704.1 99.3V145.9M704.9 101.6V152.7M705.5 95V156.4M706.7 111.1V131.4M708.2 94.8V131.5M709.3 101.6V131.6M710.4 97.1V131.6M713.8 101.3V152.5M714.9 94.5V145.4M715.5 112V142.8M721.5 121.6V132.1M732.5 119.9V132.2M733.8 113.1V154.1M734.4 102.4V132.2M734.9 102.4V132.1M736.4 132.1V147.2M738 132.1V147.8M738.9 102.5V132.1M739.4 108.7V151.3M740.2 98.3V132M740.4 115V145.6M740.8 97.1V132M742.1 113.4V148.1M744.6 108.7V144.2M745 107.6V152.4M746.9 131.8V147.9M747.8 100.1V149.5M748.3 131.7V150.9M750.5 117.2V131.6M760 123.2V131.4M767.6 122.4V131.4M767.9 114.7V131.4M768.3 116.8V146.7M769.4 107.7V148.1M770.4 131.5V144.2M771.2 108V131.5M772.2 103V149.1M773.3 131.6V146.4M776.8 131.8V145.5M777.9 115.8V131.8M780.6 132V147.7M781.1 112.9V149.5M783.5 132.2V147.4M784.6 132.3V150.4M805.7 123V143.7M807.2 133.2V153M807.6 104.3V153.4M808 110V153M808.5 113.5V133.2M808.9 117.4V133.2M810.5 103.6V151.6M810.9 109.5V146M814 114V149.1M814.7 115.6V133M815.7 110.7V152.9M816.6 132.9V145.8M817 132.9V148.5M817.6 117.3V132.9M819 113.9V152.6M820.7 111.6V132.7M836.6 121.2V140.8M837.9 131.3V148.9M839.7 110.9V147.3M839.9 131.2V145.6M841.4 110.5V144.1M842.2 103.6V144.9M842.5 110.3V131M842.9 109.4V131M844.1 103.2V147.6M846.1 113.4V130.9M846.4 111.2V146.9M847.4 105.5V130.8M848.1 111.5V130.8M870.5 117.4V131.5M874.5 105.1V131.7M875.7 102.2V150M878 102.6V147.6M879.8 104.2V132M880.4 108.1V147.1M881 110.8V147.8M907.7 112.6V144.3M908.4 114.3V145.9M910.2 116.8V148M910.9 102V132.4M911.6 132.4V151.8M912.3 119.6V142M672 108.5V142.5M672.6 115.7V140.5M676.5 106.2V144.2M677.1 114V141.8" stroke="#0b0b0b" stroke-width="0.95" fill="none"/>
<path d="M265 191.7l.5 -1.9l.5 -2.1l.5 1l.5 -5.8l.5 5.8l.5 -5.1l.5 .9l.5 -1.4l.5 1.3l.5 1.4l.5 1.1l.5 -.3l.5 .3l.5 -2.6l.5 3.1l.5 -1.8l.5 -.5l.5 1.6l.5 -2.9l.5 .6l.5 2.9l.5 -2.4l.5 1.6l.5 -.3l.5 -2.2l.5 1.8l.5 1.6l.5 -1.5l.5 .9l.5 -1l.5 .8l.5 -2.4l.5 2.4l.5 -2.7l.5 .4l.5 .3l.5 1.7l.5 -1.1l.5 .3l.5 1.4l.5 .8l.5 .3l.5 -4.7l.5 5l.5 -2.5l.5 -.3l.5 -.6l.5 -.2l.5 1.6l.5 -.3l.5 1l.5 0l.5 -3.4l.5 2.6l.5 -1.3l.5 3.7l.5 -3l.5 -.2l.5 1.8l.5 .8l.5 -1.7l.5 -.7l.5 2.1l.5 -.1l.5 -3.6l.5 0l.5 2.2l.5 .7l.5 .4l.5 -.6l.5 -1l.5 -.4l.5 2.2l.5 -2.2l.5 1.9l.5 -1.1l.5 2.4l.5 0l.5 -.8l.5 1.2l.5 -.6l.5 .5l.5 .1l.5 -1.4l.5 1.4l.5 -.4l.5 .2l.5 -.2l.5 .9l.5 -1.1l.5 1.3l.5 -.4l.5 -1.3l.5 1.6l.5 -.8l.5 .7l.5 .2l.5 -.8l.5 -.5l.5 0l.5 0l.5 -.8l.5 .7l.5 .6l.5 .7l.5 -1.6l.5 .6l.5 -.2l.5 .3l.5 1.7l.5 -2.5l.5 .6l.5 2.8l.5 1.4l.5 -1.2l.5 .6l.5 -1.6l.5 1.8l.5 -.2l.5 -.6l.5 1.1l.5 -.1l.5 -1.7l.5 1.5l.5 -1.4l.5 -2.8l.5 -2.4l.5 -2.5l.5 2.7l.5 -1.7l.5 2.7l.5 -.1l.5 -1.2l.5 1.3l.5 .9l.5 -3.1l.5 1.3l.5 -.7l.5 3.9l.5 -4.8l.5 1.6l.5 -.1l.5 -1.7l.5 1.5l.5 -.4l.5 3.6l.5 -5.5l.5 -.9l.5 2.6l.5 -1.5l.5 .5l.5 5.1l.5 -2.5l.5 2.3l.5 -1.6l.5 -3.4l.5 .4l.5 2.1l.5 .3l.5 -2.7l.5 .2l.5 1.4l.5 -2.5l.5 1.2l.5 6l.5 2.9l.5 .8l.5 1l.5 -1l.5 -1.8l.5 1.5l.5 1l.5 -.8l.5 -1.6l.5 1l.5 -.7l.5 .7l.5 -.9l.5 .2l.5 0l.5 .6l.5 -.5l.5 -.5l.5 .9l.5 0l.5 -.3l.5 .8l.5 -1.4l.5 .4l.5 .5l.5 .3l.5 0l.5 -1.9l.5 1.9l.5 -3.7l.5 -3l.5 -2.7l.5 1.1l.5 -.9l.5 2.3l.5 -2.3l.5 1.7l.5 .9l.5 -.4l.5 -1.4l.5 -2.5l.5 .5l.5 1.1l.5 3.3l.5 -4.3l.5 .9l.5 -2.3l.5 4.4l.5 -1.8l.5 .5l.5 1.8l.5 1.1l.5 -2l.5 -4l.5 4.6l.5 -1.5l.5 1.6l.5 -1.4l.5 -3.1l.5 3.3l.5 -1l.5 -.5l.5 -.5l.5 .1l.5 .2l.5 -1.8l.5 3.2l.5 -2.4l.5 .1l.5 .5l.5 1.9l.5 -2.7l.5 1.3l.5 .9l.5 2.1l.5 0l.5 -1.4l.5 3.1l.5 1.4l.5 1.1l.5 -.6l.5 .3l.5 .4l.5 1l.5 -.7l.5 .7l.5 -1.4l.5 .8l.5 -1.4l.5 .9l.5 1.2l.5 -1l.5 -.7l.5 -.1l.5 1.6l.5 -.7l.5 .4l.5 .1l.5 .6l.5 -.3l.5 -2.3l.5 -.1l.5 -1.2l.5 -4.9l.5 1.3l.5 -2l.5 3.5l.5 .4l.5 -3.4l.5 1.8l.5 -1.5l.5 1.9l.5 -.3l.5 -1.9l.5 -.5l.5 .1l.5 1.2l.5 .6l.5 -.7l.5 -1.6l.5 -.2l.5 5.2l.5 .3l.5 -1.9l.5 -1.6l.5 -.2l.5 1.2l.5 1.3l.5 -2.9l.5 -.5l.5 1l.5 1.3l.5 -.1l.5 -3.2l.5 2.9l.5 2.1l.5 -2.9l.5 2.4l.5 2.8l.5 -1.6l.5 -1.9l.5 3.8l.5 -3.5l.5 -.3l.5 -2.4l.5 3.8l.5 -1.9l.5 .3l.5 -1.7l.5 2l.5 -3l.5 6l.5 -5.7l.5 7.2l.5 2.2l.5 -.2l.5 1.3l.5 -.9l.5 -.1l.5 0l.5 .2l.5 .2l.5 1.5l.5 -1l.5 -.6l.5 .3l.5 .6l.5 -1.2l.5 -.5l.5 .1l.5 .8l.5 .5l.5 -.4l.5 -.2l.5 .6l.5 -.6l.5 -.4l.5 -.4l.5 1.9l.5 -2.1l.5 .6l.5 -2l.5 -.8l.5 -3.2l.5 -.2l.5 .4l.5 -1.4l.5 -1.8l.5 5.2l.5 -.6l.5 0l.5 -2.2l.5 -2.3l.5 1.3l.5 3.3l.5 -1.3l.5 -3.2l.5 2.2l.5 1.6l.5 -2.7l.5 1.6l.5 -.8l.5 2.1l.5 -1.7l.5 .9l.5 .9l.5 -.7l.5 -3l.5 -.8l.5 -.2l.5 2.3l.5 .2l.5 .7l.5 .9l.5 -1.7l.5 .2l.5 .5l.5 .7l.5 -.4l.5 -1.8l.5 1.3l.5 -1.5l.5 -.1l.5 .2l.5 .3l.5 2.3l.5 3.5l.5 -.8l.5 -.6l.5 1.6l.5 -.1l.5 .7l.5 -.4l.5 .2l.5 -.4l.5 .3l.5 -1.5l.5 1.7l.5 -.9l.5 1.1l.5 -.7l.5 -1.1l.5 1.4l.5 -.7l.5 .6l.5 -.4l.5 -.1l.5 .9l.5 -.5l.5 -.1l.5 .8l.5 -1.7l.5 -3.6l.5 -4.3l.5 -.1l.5 2.1l.5 2.1l.5 -.5l.5 -.3l.5 -3.7l.5 2.3l.5 -1l.5 2.2l.5 1.3l.5 -5.3l.5 4l.5 1l.5 -3.8l.5 2l.5 -.7l.5 .9l.5 .8l.5 -.4l.5 .6l.5 .9l.5 -.6l.5 -2l.5 2.8l.5 -.5l.5 -2l.5 1.2l.5 -.3l.5 -1.3l.5 .9l.5 -.2l.5 .3l.5 -1.7l.5 5.1l.5 3.3l.5 .7l.5 -.7l.5 1.1l.5 -.4l.5 -1.1l.5 -.1l.5 .2l.5 1.6l.5 -.9l.5 0l.5 -.7l.5 -.1l.5 1.1l.5 -1.1l.5 .5l.5 .5l.5 .2l.5 -.4l.5 .4l.5 -1.1l.5 .4l.5 0l.5 1l.5 -.8l.5 .2l.5 -1l.5 .3l.5 .4l.5 -2.5l.5 .7l.5 -3.9l.5 .4l.5 -1.5l.5 1.1l.5 -.7l.5 1l.5 .8l.5 -3.8l.5 3.5l.5 -1.3l.5 -3.1l.5 3.5l.5 -1.1l.5 -1.1l.5 -1.4l.5 .8l.5 -1l.5 4.9l.5 -2.2l.5 .8l.5 -3.8l.5 5.3l.5 -2.6l.5 2.2l.5 -.3l.5 -2.9l.5 -.7l.5 .7l.5 2.7l.5 -4l.5 4.5l.5 4.9l.5 -.5l.5 .8l.5 -.3l.5 -1l.5 .3l.5 .8l.5 -1.1l.5 1.2l.5 -.1l.5 -.1l.5 0l.5 .2l.5 .2l.5 -1.6l.5 1.4l.5 -.1l.5 1.4l.5 -2.1l.5 -.2l.5 -.2l.5 -.8l.5 .1l.5 .4l.5 1.3l.5 -.8l.5 -.1l.5 .3l.5 .3l.5 .2l.5 -1l.5 1.2l.5 -1.3l.5 2.3l.5 -2l.5 .8l.5 -.9l.5 -1.3l.5 -1.1l.5 -1.8l.5 -1.4l.5 .8l.5 -2.2l.5 2.8l.5 -4.7l.5 -.3l.5 2.3l.5 1.1l.5 .7l.5 .8l.5 -.9l.5 0l.5 -.6l.5 -2.4l.5 2.1l.5 1.6l.5 -3.4l.5 0l.5 -.1l.5 3.2l.5 -2.8l.5 3.9l.5 -1.4l.5 .3l.5 -2.9l.5 3.9l.5 -3.6l.5 -.4l.5 .3l.5 .6l.5 4.3l.5 -2.6l.5 -.1l.5 2l.5 2.1l.5 -1.1l.5 4.1l.5 .9l.5 -.9l.5 .3l.5 -.5l.5 1.3l.5 -1l.5 .7l.5 .4l.5 -.5l.5 .1l.5 .2l.5 -1.1l.5 -.2l.5 1.8l.5 -1l.5 -.4l.5 .6l.5 -.3l.5 .9l.5 -1.5l.5 1.9l.5 -.5l.5 -.8l.5 -5.6l.5 .7l.5 -.8l.5 2.2l.5 -3.4l.5 .5l.5 -1.3l.5 4.6l.5 -4.6l.5 .7l.5 1.9l.5 -1.2l.5 -2.1l.5 4.3l.5 -2.3l.5 -1.2l.5 4.3l.5 -3.6l.5 .9l.5 -1.9l.5 1.7l.5 -2.1l.5 4l.5 -3.7l.5 1.5l.5 -.9l.5 -.5l.5 .9l.5 1.2l.5 -.5l.5 -1.2l.5 2.8l.5 -.5l.5 -1.6l.5 -2.7l.5 4.3l.5 -.1l.5 -1.8l.5 -.4l.5 -1.8l.5 4.3l.5 -1.6l.5 -3.1l.5 7.1l.5 2.3l.5 .3l.5 -1.8l.5 -.4l.5 1l.5 1.2l.5 -1.3l.5 .3l.5 -.2l.5 .2l.5 -1.6l.5 1.6l.5 0l.5 -1.1l.5 -.2l.5 .8l.5 0l.5 -.1l.5 .4l.5 -.7l.5 .3l.5 -2.6l.5 -2l.5 -4.2l.5 .6l.5 -.3l.5 -1.1l.5 4.5l.5 -3.9l.5 -.3l.5 4.7l.5 -4.1l.5 -.7l.5 .7l.5 -1.3l.5 3.7l.5 -3.9l.5 1.9l.5 -2.1l.5 3.7l.5 .5l.5 -1.5l.5 -1.2l.5 2l.5 2.6l.5 .1l.5 -2.9l.5 2.8l.5 -4.7l.5 2.3l.5 .2l.5 -3.6l.5 3.7l.5 -.2l.5 -2.2l.5 .7l.5 2.7l.5 -2.2l.5 2.3l.5 .7l.5 -4.4l.5 4.2l.5 .2l.5 -1.9l.5 -.6l.5 .2l.5 -1.6l.5 4.6l.5 4.6l.5 -1l.5 .7l.5 -1l.5 .6l.5 -.3l.5 1l.5 .4l.5 -.9l.5 -.5l.5 1.6l.5 .4l.5 -.5l.5 -.2l.5 .1l.5 -.7l.5 -.9l.5 .6l.5 1l.5 .7l.5 -1.5l.5 1.5l.5 -1.6l.5 .8l.5 .5l.5 -.4l.5 .2l.5 -1.3l.5 1.7l.5 -1.2l.5 .5l.5 -.5l.5 1.8l.5 -3.5l.5 -3.8l.5 -2l.5 1.1l.5 -1.2l.5 2.4l.5 1.8l.5 -3.2l.5 -1.1l.5 3.4l.5 .4l.5 -2l.5 3.1l.5 -.4l.5 -5.1l.5 5.3l.5 -2.9l.5 -2.7l.5 1.6l.5 .8l.5 2.2l.5 -3.6l.5 .1l.5 -.4l.5 5l.5 -1.6l.5 0l.5 .3l.5 -.9l.5 -2.8l.5 6.6l.5 2.7l.5 -.5l.5 .4l.5 -.4l.5 0l.5 .6l.5 -1.7l.5 .3l.5 1.6l.5 -1.2l.5 .7l.5 -2l.5 1.3l.5 .1l.5 .3l.5 -1l.5 .9l.5 -.1l.5 -.7l.5 .8l.5 -1.3l.5 .5l.5 .7l.5 -.4l.5 .6l.5 -1l.5 1.2l.5 -1.1l.5 -1l.5 1.1l.5 .3l.5 -.5l.5 .3l.5 .1l.5 -.7l.5 .2l.5 -1.6l.5 1.2l.5 -.1l.5 .6l.5 -.1l.5 .7l.5 -1.1l.5 -.4l.5 .2l.5 .6l.5 -1.1l.5 .2l.5 -.3l.5 .5l.5 -.3l.5 .3l.5 -.1l.5 -.3l.5 0l.5 1.6l.5 -1.6l.5 .4l.5 1.5l.5 -.8l.5 -2.5l.5 1.6l.5 -.9l.5 1.4l.5 -1.5l.5 .8l.5 .2l.5 -.1l.5 -1.2l.5 -.4l.5 .9l.5 -.6l.5 -3.6l.5 -1.7l.5 -.3l.5 -.8l.5 -1.3l.5 1.8l.5 1.2l.5 -3.8l.5 3.9l.5 .8l.5 -3.9l.5 1.2l.5 -2.3l.5 1.2l.5 -.8l.5 2l.5 1.9l.5 -3.3l.5 1.4l.5 -1.4l.5 1.1l.5 .8l.5 -.8l.5 .3l.5 2.8l.5 -2.6l.5 2.8l.5 -2.8l.5 3.7l.5 -3.4l.5 4.3l.5 -2.7l.5 1.4l.5 .6l.5 -4.6l.5 .8l.5 2.6l.5 1.6l.5 3.5l.5 1.2l.5 -.7l.5 1.6l.5 -.7l.5 -.1l.5 -1.7l.5 1.3l.5 -.3l.5 .9l.5 -.5l.5 -.1l.5 -.5l.5 .5l.5 -.5l.5 1.5l.5 -2.2l.5 1.5l.5 -.4l.5 .4l.5 1.7l.5 .1l.5 -.2l.5 -1.2l.5 -.4l.5 .9l.5 -1.5l.5 1.8l.5 -.6l.5 0l.5 -.1l.5 .2l.5 -.4l.5 -1.5l.5 -2.4l.5 .7l.5 -.5l.5 .6l.5 -4.4l.5 1.5l.5 .4l.5 -1.3l.5 2.1l.5 -.8l.5 -.1l.5 -2l.5 2.4l.5 -1.9l.5 .6l.5 -.5l.5 2.2l.5 -3.9l.5 -.3l.5 1.9l.5 3l.5 -1.6l.5 -1.2l.5 2.9l.5 .1l.5 0l.5 -1.3l.5 1.6l.5 -3.2l.5 -.1l.5 -2.8l.5 5.9l.5 -2l.5 .2l.5 -2.1l.5 5.2l.5 1.7l.5 -.4l.5 .5l.5 -.4l.5 .8l.5 .3l.5 1l.5 -1.9l.5 .4l.5 .3l.5 -.3l.5 1.5l.5 -1.7l.5 .1l.5 2l.5 -1.3l.5 -.7l.5 -.9l.5 1l.5 -.4l.5 -.6l.5 1l.5 .5l.5 -.5l.5 .3l.5 .4l.5 -1.4l.5 1.4l.5 -1l.5 -.7l.5 -.2l.5 .9l.5 -.3l.5 -1.3l.5 -.4l.5 -2.6l.5 -.2l.5 -1.5l.5 -.4l.5 2.2l.5 -.2l.5 .3l.5 -1.5l.5 2.6l.5 -.2l.5 -1.5l.5 1l.5 -1l.5 -.5l.5 2.7l.5 .5l.5 -2.1l.5 1.7l.5 -1.8l.5 .6l.5 -.2l.5 .9l.5 -1l.5 .5l.5 .9l.5 -3.4l.5 3.3l.5 -1.2l.5 -.5l.5 -1l.5 3.3l.5 -1.8l.5 -.1l.5 .3l.5 1.8l.5 2.8l.5 -.9l.5 2.1l.5 -1.9l.5 -.2l.5 1.3l.5 -.6l.5 2.2l.5 -2.4l.5 .5l.5 .2l.5 -.4l.5 .2l.5 .7l.5 -.7l.5 .5l.5 -.7l.5 .1l.5 .9l.5 -.7l.5 .5l.5 -2.3l.5 1.6l.5 1.1l.5 -.7l.5 -.8l.5 .3l.5 -1.2l.5 2.7l.5 -2l.5 .6l.5 0l.5 -1.1l.5 2l.5 .2l.5 -.7l.5 1l.5 .3l.5 -2l.5 -1.5l.5 -.3l.5 -3l.5 -3.8l.5 2.7l.5 2l.5 -1.6l.5 1l.5 1l.5 -1l.5 -.3l.5 -.2l.5 -1.7l.5 0l.5 3.7l.5 -.2l.5 -3.7l.5 2.5l.5 1.1l.5 -2.6l.5 2.1l.5 -1.8l.5 -.6l.5 .5l.5 2.5l.5 -3.4l.5 1l.5 1.8l.5 -.8l.5 -.4l.5 -.1l.5 1.3l.5 1l.5 2l.5 0l.5 -.6l.5 -.1l.5 -.3l.5 .7l.5 .2l.5 -.1l.5 -.1l.5 -.1l.5 .1l.5 -.6l.5 .8l.5 -.2l.5 -1l.5 2.1l.5 -.8l.5 -.8l.5 .2l.5 .8l.5 -1.1l.5 -2l.5 2.3l.5 -.1l.5 -.1l.5 .2l.5 .4l.5 -1.6l.5 1.9l.5 -2.7l.5 -2.4l.5 -2.7l.5 .6l.5 .9l.5 .5l.5 -2.1l.5 .5l.5 1.4l.5 .9l.5 .1l.5 -2.1l.5 .6l.5 -.7l.5 2.5l.5 -2.3l.5 -.4l.5 -.6l.5 4.3l.5 -4l.5 0l.5 3.2l.5 1l.5 -2.7l.5 -.5l.5 1.8l.5 -.9l.5 -1.1l.5 3.8l.5 2.7l.5 -1.5l.5 1.3l.5 -.1l.5 .3l.5 -.2l.5 -.1l.5 -.2l.5 -.3l.5 .1l.5 -.5l.5 1.1l.5 .5l.5 -.7l.5 1l.5 -1.1l.5 -.2l.5 .4l.5 .7l.5 0l.5 -.4l.5 .7l.5 .3l.5 -.8l.5 .1l.5 .5l.5 -1.6l.5 -.3l.5 .8l.5 1l.5 .1l.5 -1.1l.5 .8l.5 -.7l.5 .7l.5 0l.5 -.5l.5 .8l.5 -.6l.5 .3l.5 -3.7l.5 -2.8l.5 .8l.5 3.2l.5 -2.7l.5 4l.5 -3.2l.5 -.3l.5 1l.5 -1.9l.5 -1l.5 2.5l.5 .2l.5 -.3l.5 2.3l.5 -2.9l.5 -.9l.5 2.6l.5 -2.1l.5 2.7l.5 -3.8l.5 1.2l.5 2.4l.5 .6l.5 2.6l.5 .4l.5 .4l.5 -.4l.5 -1.2l.5 1l.5 -1.6l.5 .8l.5 -.7l.5 1.1l.5 -.5l.5 1l.5 -.3l.5 -.4l.5 .8l.5 -1l.5 -.4l.5 .7l.5 -1l.5 1.4l.5 -1.7l.5 .5l.5 .9l.5 -.2l.5 -.3l.5 .9l.5 -2.4l.5 .5l.5 .8l.5 -1.1l.5 1.6l.5 -.4l.5 -1.2l.5 1.1l.5 -.3l.5 .9l.5 -1.8l.5 0l.5 1.6l.5 -.8l.5 .2l.5 -1.3l.5 1.2l.5 .1l.5 -.6l.5 -.6l.5 1.4l.5 -1.3l.5 -2.7l.5 .5l.5 -3.1l.5 -.1l.5 1.7l.5 -1.9l.5 1.6l.5 -1l.5 -1.1l.5 .4l.5 .8l.5 3.3L912.5 205.4l-.5 5.1l-.5 -.4l-.5 -2.2l-.5 -.3l-.5 1l-.5 3.3l-.5 -2.3l-.5 .1l-.5 -1.4l-.5 -.4l-.5 1.6l-.5 -3.1l-.5 -2.3l-.5 1.8l-.5 -.7l-.5 0l-.5 0l-.5 1.1l-.5 .2l-.5 -.8l-.5 -.8l-.5 1.7l-.5 -.7l-.5 -.1l-.5 0l-.5 -.2l-.5 1.3l-.5 -.8l-.5 -.5l-.5 1.4l-.5 -.8l-.5 .6l-.5 .2l-.5 -1.8l-.5 .4l-.5 .5l-.5 -.8l-.5 1.3l-.5 .7l-.5 -1.8l-.5 1.2l-.5 -.1l-.5 .4l-.5 -.7l-.5 -.8l-.5 .9l-.5 -.4l-.5 .6l-.5 -.4l-.5 .3l-.5 .5l-.5 -.7l-.5 1.7l-.5 -1.3l-.5 .6l-.5 -1.3l-.5 -.4l-.5 1l-.5 -.3l-.5 2.4l-.5 2.6l-.5 0l-.5 .8l-.5 -.8l-.5 -1.5l-.5 1.7l-.5 .7l-.5 -.6l-.5 -2.4l-.5 1.5l-.5 -.3l-.5 .4l-.5 -.3l-.5 .3l-.5 0l-.5 -2.4l-.5 .9l-.5 1.6l-.5 -.4l-.5 .7l-.5 -.8l-.5 -1.1l-.5 1.7l-.5 -5.4l-.5 .7l-.5 -.5l-.5 .8l-.5 -1.3l-.5 .5l-.5 .5l-.5 -.2l-.5 1.3l-.5 -2.3l-.5 .1l-.5 1.1l-.5 .4l-.5 -.3l-.5 -1l-.5 .2l-.5 .2l-.5 -1.5l-.5 .6l-.5 .9l-.5 -1.1l-.5 .8l-.5 .4l-.5 -.3l-.5 0l-.5 -1.7l-.5 .9l-.5 -.1l-.5 -.2l-.5 .8l-.5 0l-.5 -.3l-.5 -.1l-.5 -.3l-.5 .2l-.5 -.7l-.5 -.2l-.5 .6l-.5 .9l-.5 -1.8l-.5 3l-.5 3.6l-.5 -.2l-.5 -2.5l-.5 2.2l-.5 .1l-.5 -2.3l-.5 1.4l-.5 1.2l-.5 -2.7l-.5 .5l-.5 2.6l-.5 .1l-.5 -4.7l-.5 .5l-.5 3.1l-.5 -2.1l-.5 1.2l-.5 .1l-.5 .7l-.5 .6l-.5 -1.4l-.5 .6l-.5 1.9l-.5 -4.4l-.5 2.4l-.5 -1l-.5 -2.4l-.5 -.7l-.5 -2l-.5 1.4l-.5 -.7l-.5 .9l-.5 -.5l-.5 .2l-.5 -.3l-.5 1.7l-.5 -2.1l-.5 .8l-.5 -.3l-.5 -.1l-.5 -.3l-.5 -.3l-.5 1.8l-.5 -.8l-.5 -.2l-.5 .8l-.5 -1l-.5 .4l-.5 -.5l-.5 .5l-.5 .5l-.5 .4l-.5 0l-.5 -.2l-.5 .5l-.5 -.4l-.5 -.6l-.5 .6l-.5 2.7l-.5 .8l-.5 3.1l-.5 -1.9l-.5 -.5l-.5 .1l-.5 1.6l-.5 -.1l-.5 -.7l-.5 1.5l-.5 -1.2l-.5 .7l-.5 -2.9l-.5 1.9l-.5 -1.1l-.5 2.4l-.5 -2.4l-.5 .1l-.5 -.5l-.5 2.9l-.5 .2l-.5 -2l-.5 1.7l-.5 -1.8l-.5 1l-.5 .9l-.5 0l-.5 -.4l-.5 -.3l-.5 .8l-.5 -2.7l-.5 -1.6l-.5 -1.4l-.5 -1l-.5 .1l-.5 .8l-.5 -1l-.5 .6l-.5 2.1l-.5 -.2l-.5 -.8l-.5 -.1l-.5 -1.7l-.5 2.2l-.5 -.9l-.5 .2l-.5 .7l-.5 -1.5l-.5 .3l-.5 1.1l-.5 -2l-.5 1.3l-.5 -.6l-.5 .5l-.5 .1l-.5 -.6l-.5 -.2l-.5 -.2l-.5 .9l-.5 .3l-.5 -.5l-.5 -.1l-.5 .8l-.5 -2.2l-.5 1.3l-.5 -.1l-.5 .9l-.5 .5l-.5 -1.6l-.5 .1l-.5 -.2l-.5 2.9l-.5 3l-.5 -2.5l-.5 .6l-.5 .3l-.5 1.2l-.5 -1.1l-.5 1.1l-.5 -1.6l-.5 -.7l-.5 -.8l-.5 2.5l-.5 -.7l-.5 1.1l-.5 -1.8l-.5 -1.2l-.5 -.3l-.5 .9l-.5 .1l-.5 -.7l-.5 1.9l-.5 .7l-.5 1.1l-.5 -3.6l-.5 .8l-.5 .2l-.5 -.4l-.5 .4l-.5 .5l-.5 .8l-.5 -1.3l-.5 2.5l-.5 .5l-.5 -2.3l-.5 -.1l-.5 -1.2l-.5 -1.9l-.5 -1.1l-.5 -.3l-.5 .6l-.5 .5l-.5 -.7l-.5 -.9l-.5 1.4l-.5 -1.6l-.5 .8l-.5 -.3l-.5 -.3l-.5 1.2l-.5 0l-.5 -.8l-.5 -.8l-.5 1.6l-.5 -.7l-.5 -.4l-.5 -1.5l-.5 2l-.5 .4l-.5 -1.5l-.5 .8l-.5 .3l-.5 .2l-.5 -.2l-.5 -1.2l-.5 1.5l-.5 -.7l-.5 .3l-.5 .7l-.5 .5l-.5 .1l-.5 1.5l-.5 3.8l-.5 -2.6l-.5 2.2l-.5 .5l-.5 2.1l-.5 -3.7l-.5 2.2l-.5 -.5l-.5 -.6l-.5 -1.2l-.5 2.5l-.5 .3l-.5 -4l-.5 -.6l-.5 4.7l-.5 1.1l-.5 -1l-.5 .2l-.5 -3.3l-.5 1.6l-.5 1.7l-.5 -2.8l-.5 1.3l-.5 -1.8l-.5 .2l-.5 1.2l-.5 .9l-.5 -2.1l-.5 3.4l-.5 -3l-.5 .3l-.5 1l-.5 -1.8l-.5 2.9l-.5 -5.4l-.5 .5l-.5 -2.7l-.5 -.1l-.5 .1l-.5 -.5l-.5 .2l-.5 -.7l-.5 2.4l-.5 -1.7l-.5 .7l-.5 -.7l-.5 -.6l-.5 -.1l-.5 .3l-.5 .7l-.5 .9l-.5 -.9l-.5 1l-.5 -1.7l-.5 1l-.5 0l-.5 .2l-.5 -.4l-.5 -.7l-.5 -.1l-.5 .9l-.5 -.2l-.5 .9l-.5 -1.2l-.5 0l-.5 -1.2l-.5 1.5l-.5 -.1l-.5 .9l-.5 .6l-.5 6.5l-.5 -3.1l-.5 -.3l-.5 1.5l-.5 .6l-.5 -2.8l-.5 .2l-.5 1.3l-.5 -.4l-.5 1.3l-.5 0l-.5 1.2l-.5 -3.4l-.5 -1.6l-.5 5l-.5 -3.2l-.5 1l-.5 1.7l-.5 -.2l-.5 -2.2l-.5 1.6l-.5 -2.3l-.5 2.7l-.5 -.9l-.5 .1l-.5 -1.1l-.5 3.1l-.5 -1.4l-.5 -3.4l-.5 1.3l-.5 -.1l-.5 1.1l-.5 2.5l-.5 -1.6l-.5 1.3l-.5 0l-.5 -4.3l-.5 -3.5l-.5 -1.4l-.5 2.8l-.5 -1.7l-.5 -.7l-.5 -1.1l-.5 .8l-.5 .6l-.5 -1.1l-.5 1l-.5 -.3l-.5 1.3l-.5 -3l-.5 .1l-.5 1.4l-.5 -.3l-.5 -.9l-.5 .9l-.5 .3l-.5 -.1l-.5 .4l-.5 .3l-.5 -.6l-.5 .2l-.5 .5l-.5 -.4l-.5 0l-.5 .8l-.5 -.1l-.5 -.1l-.5 -1.8l-.5 .8l-.5 .4l-.5 .4l-.5 .1l-.5 1.5l-.5 -2.2l-.5 .8l-.5 -1l-.5 .1l-.5 .9l-.5 -.3l-.5 .2l-.5 .7l-.5 -1l-.5 -.6l-.5 1.3l-.5 -1l-.5 1.4l-.5 -.9l-.5 .4l-.5 .7l-.5 -1.1l-.5 .4l-.5 -.4l-.5 .1l-.5 .7l-.5 .5l-.5 -.3l-.5 -.1l-.5 .8l-.5 -1.3l-.5 .6l-.5 -.4l-.5 1.1l-.5 .6l-.5 -1.9l-.5 1.1l-.5 -.3l-.5 -.6l-.5 .4l-.5 .2l-.5 3.2l-.5 4.2l-.5 .7l-.5 1.1l-.5 -3.3l-.5 3.4l-.5 -3.8l-.5 -.5l-.5 3.3l-.5 -.7l-.5 -.3l-.5 1l-.5 1l-.5 -1.4l-.5 .7l-.5 -1.3l-.5 .9l-.5 -.1l-.5 -.4l-.5 -1.3l-.5 .1l-.5 -2.1l-.5 4.6l-.5 -2.4l-.5 .2l-.5 -2.5l-.5 .4l-.5 .4l-.5 3.6l-.5 -3.9l-.5 -2.9l-.5 -2.7l-.5 1l-.5 -.5l-.5 .2l-.5 -1l-.5 1.6l-.5 -.3l-.5 -.5l-.5 -1.1l-.5 1.3l-.5 .5l-.5 -2.2l-.5 2l-.5 -1.7l-.5 .9l-.5 -.2l-.5 1.5l-.5 -1.8l-.5 0l-.5 0l-.5 -.1l-.5 -.3l-.5 .1l-.5 1l-.5 -.9l-.5 -.9l-.5 .9l-.5 .7l-.5 .4l-.5 .3l-.5 -1.6l-.5 1.2l-.5 -2.2l-.5 3.8l-.5 3l-.5 2.9l-.5 -1.5l-.5 1.1l-.5 -1.6l-.5 -1.1l-.5 -1.3l-.5 -.5l-.5 .7l-.5 0l-.5 1.2l-.5 2.9l-.5 -.5l-.5 -4.2l-.5 -.1l-.5 3.4l-.5 .5l-.5 -3.4l-.5 2.5l-.5 .5l-.5 -1.4l-.5 .7l-.5 1.2l-.5 -.9l-.5 -1.6l-.5 -.7l-.5 1.2l-.5 -2l-.5 5.4l-.5 -3.5l-.5 2.5l-.5 -1.2l-.5 -.2l-.5 1.1l-.5 -.3l-.5 -2.5l-.5 .2l-.5 2.4l-.5 -2.7l-.5 2.6l-.5 -2.5l-.5 1.5l-.5 -.7l-.5 1.1l-.5 -1.9l-.5 -3l-.5 -1.9l-.5 .8l-.5 -.9l-.5 .1l-.5 -.2l-.5 .6l-.5 .3l-.5 -.4l-.5 -.7l-.5 -.6l-.5 1.3l-.5 -.5l-.5 .4l-.5 0l-.5 .1l-.5 -1.2l-.5 1.5l-.5 .8l-.5 -.2l-.5 -1.6l-.5 -.1l-.5 3.7l-.5 4.4l-.5 1l-.5 -4.1l-.5 2.5l-.5 1.6l-.5 -1.2l-.5 -.2l-.5 2.4l-.5 -2.5l-.5 .8l-.5 -.7l-.5 2.7l-.5 -3.8l-.5 3.4l-.5 -2.3l-.5 1.3l-.5 -2.9l-.5 -.3l-.5 -.3l-.5 3.7l-.5 -1.6l-.5 0l-.5 3.4l-.5 -.7l-.5 -.9l-.5 1.5l-.5 -2.5l-.5 .4l-.5 -1.4l-.5 .4l-.5 -.1l-.5 1.3l-.5 -1.6l-.5 3.5l-.5 -1.3l-.5 -1.1l-.5 -.4l-.5 .4l-.5 .7l-.5 -1.4l-.5 -1.1l-.5 3.5l-.5 -3.7l-.5 -3.3l-.5 -.6l-.5 -.4l-.5 1.1l-.5 -1.3l-.5 .7l-.5 -.5l-.5 1.1l-.5 -.7l-.5 -1l-.5 1.6l-.5 -.4l-.5 -1.4l-.5 1l-.5 .1l-.5 -1.1l-.5 .6l-.5 .8l-.5 -.4l-.5 .3l-.5 .1l-.5 -.8l-.5 -.7l-.5 1.4l-.5 1.8l-.5 4l-.5 -2.3l-.5 3.3l-.5 -.7l-.5 -1.1l-.5 1.9l-.5 -2.3l-.5 -.5l-.5 -.8l-.5 .2l-.5 3.8l-.5 -3l-.5 -.1l-.5 2.2l-.5 -2.9l-.5 2.6l-.5 -1.9l-.5 3l-.5 -.8l-.5 1.1l-.5 -3.9l-.5 2.5l-.5 -3.1l-.5 3.6l-.5 -1.3l-.5 -.9l-.5 -1.6l-.5 .5l-.5 1.2l-.5 -.1l-.5 2.6l-.5 0l-.5 -4.5l-.5 1l-.5 -.4l-.5 .1l-.5 -2.5l-.5 -.3l-.5 -1.6l-.5 -.3l-.5 .2l-.5 -1.2l-.5 .7l-.5 0l-.5 .6l-.5 0l-.5 -1.2l-.5 .4l-.5 -.1l-.5 .5l-.5 -.5l-.5 .4l-.5 .4l-.5 .7l-.5 -.6l-.5 -.2l-.5 -.5l-.5 -2l-.5 .9l-.5 .3l-.5 2.5l-.5 -2.9l-.5 .3l-.5 .7l-.5 -.3l-.5 .3l-.5 -.8l-.5 2l-.5 -1.8l-.5 1.1l-.5 .2l-.5 -.7l-.5 .1l-.5 .3l-.5 -1l-.5 4.8l-.5 .8l-.5 0l-.5 3.5l-.5 -3.1l-.5 -.5l-.5 3.6l-.5 -.2l-.5 -3.1l-.5 .1l-.5 2.6l-.5 -.4l-.5 -.7l-.5 -1.5l-.5 2.8l-.5 -2.1l-.5 -.2l-.5 3.1l-.5 -1.1l-.5 .6l-.5 -1.6l-.5 2.3l-.5 -4.1l-.5 3.5l-.5 -1.7l-.5 -1.8l-.5 2.4l-.5 -3l-.5 1.7l-.5 -.7l-.5 2.4l-.5 -5.5l-.5 .1l-.5 -2.1l-.5 .5l-.5 .4l-.5 -.7l-.5 -.7l-.5 .5l-.5 -.2l-.5 .7l-.5 .4l-.5 -1.2l-.5 .5l-.5 -.1l-.5 -.1l-.5 .2l-.5 .8l-.5 -1l-.5 .2l-.5 .2l-.5 -.8l-.5 .3l-.5 -.5l-.5 1.7l-.5 -1l-.5 .5l-.5 -.9l-.5 -.7l-.5 1.4l-.5 -1l-.5 -.2l-.5 4.8l-.5 4.3l-.5 -3.6l-.5 2.4l-.5 -.6l-.5 1.3l-.5 -.9l-.5 -1l-.5 -.4l-.5 -.5l-.5 -.6l-.5 -1.2l-.5 0l-.5 .9l-.5 -.3l-.5 3l-.5 -.3l-.5 -1l-.5 -.2l-.5 -.6l-.5 3.7l-.5 -5.6l-.5 2.3l-.5 3.6l-.5 -3l-.5 -1l-.5 1.6l-.5 1.6l-.5 -.9l-.5 -.3l-.5 .4l-.5 -2.8l-.5 -.4l-.5 2.6l-.5 -1.8l-.5 .4l-.5 -4.5l-.5 -2.1l-.5 0l-.5 .9l-.5 -.9l-.5 1.1l-.5 -.1l-.5 -.3l-.5 .6l-.5 -1.5l-.5 1.6l-.5 -.5l-.5 -1.1l-.5 1l-.5 -.7l-.5 1.7l-.5 -2l-.5 .9l-.5 -.8l-.5 .6l-.5 -.6l-.5 1l-.5 .3l-.5 .7l-.5 .3l-.5 -.8l-.5 2.5l-.5 2.6l-.5 -.1l-.5 -.6l-.5 1.9l-.5 -3.3l-.5 1.3l-.5 1.6l-.5 1.4l-.5 -1.7l-.5 -2.6l-.5 1.3l-.5 .1l-.5 .9l-.5 0l-.5 0l-.5 -.9l-.5 1.8l-.5 .7l-.5 -3l-.5 3l-.5 -1.5l-.5 1.2l-.5 -1l-.5 2.4l-.5 -2.7l-.5 1.2l-.5 -2l-.5 1.5l-.5 .2l-.5 .9l-.5 -2.8l-.5 4l-.5 -2.9l-.5 -1.2l-.5 4.5l-.5 -5.5l-.5 1.2l-.5 1.2l-.5 3.2l-.5 -2.3l-.5 -1l-.5 -.2l-.5 -.3l-.5 -2.3l-.5 -1.8l-.5 .9l-.5 -2l-.5 2l-.5 -.2l-.5 -.8l-.5 .3l-.5 .4l-.5 -.3l-.5 -.3l-.5 .6l-.5 .9l-.5 -.5l-.5 -.5l-.5 -1.2l-.5 1l-.5 .3l-.5 -.3l-.5 -.4l-.5 .4l-.5 .1l-.5 -.4l-.5 1.3l-.5 -.2l-.5 -1.4l-.5 2.1l-.5 -1l-.5 1.4l-.5 4.2l-.5 1.2l-.5 -.2l-.5 -1.5l-.5 2.7l-.5 -2.4l-.5 -1.1l-.5 4.4l-.5 -.8l-.5 -3.6l-.5 3.3l-.5 -4.4l-.5 2.1l-.5 -1.4l-.5 .4l-.5 2.1l-.5 -.5l-.5 .8l-.5 -1l-.5 .7l-.5 .3l-.5 .4l-.5 0l-.5 -2.6l-.5 1.1l-.5 -.4l-.5 -1.6l-.5 4.2l-.5 -.9l-.5 -2.1l-.5 .1l-.5 -.5l-.5 .9l-.5 2.5l-.5 -.9l-.5 -3.6l-.5 3.1l-.5 .9l-.5 .3l-.5 -2.7l-.5 2.3l-.5 -3l-.5 -1.6l-.5 2.6l-.5 .5l-.5 -2.3l-.5 2.4l-.5 .8l-.5 -.5l-.5 -2.3l-.5 -2.1l-.5 -1.6l-.5 -.5l-.5 -1.7l-.5 -.8l-.5 .4l-.5 1l-.5 -.3l-.5 -.4l-.5 1.3l-.5 -.9l-.5 .2l-.5 -1.9l-.5 1.2l-.5 .6l-.5 -.4l-.5 1.1l-.5 -1.7l-.5 .3l-.5 -.3l-.5 1.1l-.5 .2l-.5 .8l-.5 -1.7l-.5 1.4l-.5 3l-.5 2.8l-.5 -.4l-.5 -3.1l-.5 4.2l-.5 .4l-.5 -1.6l-.5 1.2l-.5 -.2l-.5 -.2l-.5 .3l-.5 1.1l-.5 -.7l-.5 -2.5l-.5 .3l-.5 2.3l-.5 -.1l-.5 -3.8l-.5 .5l-.5 1.6l-.5 -1l-.5 -1.7l-.5 4.8l-.5 -1.5l-.5 -1.5l-.5 2.6l-.5 -3.1l-.5 3.7l-.5 .2l-.5 -2.4l-.5 2l-.5 1l-.5 -3.5l-.5 -.6l-.5 .2l-.5 1.6l-.5 2.8l-.5 -1.2l-.5 -1.1l-.5 .9l-.5 -2.7l-.5 1.5l-.5 2.2l-.5 -3.3l-.5 1.1l-.5 2.8l-.5 -.7l-.5 -3.1l-.5 -3.2l-.5 -2.6l-.5 2l-.5 -1.5l-.5 -.1l-.5 0l-.5 .6l-.5 .5l-.5 -.8l-.5 1.2l-.5 0l-.5 -1l-.5 1l-.5 -.1l-.5 .1l-.5 .3l-.5 -.2l-.5 -1.1l-.5 .4l-.5 0l-.5 .1l-.5 .7l-.5 -1.3l-.5 -.3l-.5 1.1l-.5 1.9l-.5 -3.1l-.5 -.4l-.5 1.1l-.5 .4l-.5 2.2l-.5 3.3l-.5 1.9l-.5 -2l-.5 3l-.5 -1.3l-.5 1.8l-.5 -3.6l-.5 2.4l-.5 -.9l-.5 -2.4l-.5 1.9l-.5 -2.6l-.5 .3l-.5 2.5l-.5 1.1l-.5 0l-.5 .6l-.5 -.9l-.5 -.9l-.5 -.9l-.5 2.2l-.5 -2.6l-.5 .7l-.5 .3l-.5 .8l-.5 -.1l-.5 -3.2l-.5 3.4l-.5 -3.9l-.5 .7l-.5 1.8l-.5 -1.5l-.5 .8l-.5 2.3l-.5 -3l-.5 3.7l-.5 -.8l-.5 -.4l-.5 -3.1l-.5 -2.5l-.5 -2.1l-.5 .4l-.5 -.3l-.5 -1.6l-.5 .9l-.5 .3l-.5 -.2l-.5 1.3l-.5 -1.6l-.5 .7l-.5 -1l-.5 1l-.5 1.8l-.5 .1l-.5 -.7l-.5 -.7l-.5 1.2l-.5 .6l-.5 .4l-.5 -1.9l-.5 1.1l-.5 -.8l-.5 2l-.5 -1l-.5 -1l-.5 -.2l-.5 .7l-.5 -.1l-.5 -.2l-.5 0l-.5 -.2l-.5 -.5l-.5 -.9l-.5 -.5l-.5 1.5l-.5 -.6l-.5 -.2l-.5 .9l-.5 -.5l-.5 1.2l-.5 -1.1l-.5 .5l-.5 -.5l-.5 .4l-.5 -1.2l-.5 1.6l-.5 -1.2l-.5 -.4l-.5 2.2l-.5 2.7l-.5 -2.4l-.5 2.5l-.5 -.8l-.5 -.4l-.5 0l-.5 -1.4l-.5 -1.1l-.5 3.5l-.5 .3l-.5 -1.9l-.5 1.7l-.5 -2.5l-.5 2.2l-.5 -2.1l-.5 .6l-.5 -.1l-.5 2.1l-.5 .1l-.5 -3.1l-.5 2l-.5 -1.1l-.5 1.3l-.5 -1.5l-.5 3l-.5 .4l-.5 -1l-.5 .2l-.5 1.7l-.5 -.4l-.5 -2.2l-.5 .5l-.5 -1l-.5 1.7l-.5 -.1l-.5 -.3l-.5 .7l-.5 -2.4l-.5 1.5l-.5 .1l-.5 -.2l-.5 1.8l-.5 -1l-.5 -.5l-.5 2l-.5 -2.3l-.5 -.6l-.5 2.4l-.5 -2.8l-.5 2.7l-.5 -.3l-.5 -1.9l-.5 3l-.5 -2.3l-.5 2.6l-.5 -1.8l-.5 -.6l-.5 -.3l-.5 .7l-.5 -2l-.5 3.7l-.5 -2.9l-.5 -.2l-.5 3l-.5 -1.8l-.5 2.1l-.5 -.9l-.5 -.8l-.5 3l-.5 -2.6l-.5 .2l-.5 -1.5l-.5 -.8l-.5 .7l-.5 -2.7l-.5 -.9Z" fill="#0b0b0b" stroke="#0b0b0b" stroke-width="0.4"/>
<path d="M265.6 198.4V209.7M274.6 174.8V198.3M275.7 173.6V198.3M278.7 198.2V213.1M280.2 198.1V216.4M280.7 166.9V215.7M281.7 175V214.3M282.4 174.7V216.4M283.3 180.6V198M284.6 172.8V213.1M287 175.4V197.8M288.5 197.7V214.7M289.9 163.4V197.6M290.3 178.2V197.6M291.1 181.7V214.9M292.2 197.5V216.5M292.8 197.5V216.7M294.2 173.5V212.1M294.7 169V197.4M295 167.5V214.6M296.2 197.3V209.9M296.3 177.8V197.3M298.6 176.2V212.2M300.6 176.5V211.8M301.8 175.4V209.4M302.6 197.1V215.8M303.2 173.5V197.1M303.7 186.4V208.4M306.8 197.1V206.9M308.2 182.6V208.4M309.7 185.8V208M309.9 180.7V206.9M310.5 197.2V208.3M311 185.3V205.3M311.3 184.1V209.3M313.1 197.3V209.2M316.6 186.3V197.5M317.2 182.5V197.6M317.8 182.5V197.6M319 197.7V210.5M319.8 182.6V208.5M320.6 197.8V210.6M321.7 187.5V206.4M327.7 187.4V208.5M330.8 162.1V218.5M333.4 199V213.3M335.5 159.7V199.1M337.4 199.3V214M338.7 165.5V217.6M340.4 177.6V199.4M341.3 178.9V213.2M342.1 164.8V199.5M342.8 173.1V212.6M343.5 180.7V199.5M344.3 163V199.6M345.9 199.6V218.5M346.7 199.6V221.5M366.3 173.7V198.6M366.8 198.6V213.2M368.9 166.8V217.1M369.4 198.3V214M370.3 176.5V212.9M371.1 157.2V212.9M371.5 168.4V198.2M372.2 157V198.1M373.6 161V221.9M374.8 157.8V211.8M375.7 176.8V217.3M376.1 160V221M377.5 172.2V197.7M382.9 197.5V217.3M384.3 167V197.5M384.9 179.4V197.5M386.1 165.8V216.7M386.7 178.9V212.6M398.9 180.7V212M399.3 175.6V220M399.9 160.7V222.6M401.7 174.6V220.5M401.9 162.9V198.1M403.5 162.2V211.7M403.9 167.8V218.9M404.7 172.8V198.3M405.2 166.2V214.9M405.8 198.4V219.3M409.6 161.2V198.7M410.2 172.1V214.9M410.4 161.6V212.8M413.3 165.6V211.8M414.6 199V214.2M415.4 164V199.1M416.6 164.7V199.2M417.1 174.6V216.1M417.3 171.6V223.1M418.7 199.3V219.4M422 180.2V217.7M436.5 187.8V199.1M439.5 163V215M440.7 177.4V198.9M441.2 198.8V212.9M444 163.4V198.6M444.7 198.5V216M445.6 180.2V216.1M446.4 165.2V198.4M446.9 171.8V198.3M447.4 198.3V216.2M448.7 164.6V198.2M450.2 171.3V219.7M450.4 162.2V198M451.4 176.2V198M451.8 177.2V214.7M453.5 175.9V216.7M455.7 175.4V197.7M456 172.8V213.2M456.5 161.4V214.2M459.7 167.6V197.4M460.3 177.9V197.4M474.2 172V214M475.2 161.8V197.3M478.1 175.1V216.5M479 197.5V215.8M480.4 176V197.6M482.3 197.7V219.8M482.9 171.1V213.5M483.5 197.7V214.3M484.3 171V214.7M487.2 166.5V216.8M488.2 170.9V217.9M488.7 198V220.6M489.3 167.2V219.4M506.3 185.2V198.4M509 198.3V211.6M509.3 168.1V198.3M511 198.3V214.4M512 175.7V198.3M512.7 176.1V218.6M512.8 179.4V198.2M515.9 198.2V215.8M517.6 166.7V219.3M518.3 177.3V198.1M519.1 162.2V216.6M520.9 163.3V198M541.8 181.4V215.9M543.6 173.8V219.6M545.2 156.9V198.2M545.5 171V198.2M547 170.7V198.3M547.8 163.9V223.8M549.4 198.5V220M552.2 198.6V211.9M553.5 175.5V198.7M554.2 156V216.8M555.9 175.1V216.9M556.3 159.8V220.8M557.1 172.9V199M557.6 178.8V220.2M558.3 160.6V199.1M560.4 183.3V199.2M572.4 199.7V210M573.4 165.6V199.7M574.1 169.9V219.4M574.8 199.7V214.8M576.5 165.7V221.6M577.7 161.3V199.6M578.1 170.3V199.6M578.6 175V212.8M579.6 199.5V215.5M581.3 199.4V222.4M582.1 174.5V215.7M582.9 161.5V217.4M583.8 169.4V222M584.7 167.7V199.3M584.9 170.2V219M585.9 179.7V199.2M586.7 169V215.2M588.3 174.1V199M589.1 178.5V220.8M589.8 177.2V212.7M591.1 198.7V221M591.5 198.7V222.2M592.2 171.2V211.7M593 170.9V211.5M593.5 167V217.9M594 162.3V198.5M594.6 198.4V208.4M605.3 184V197.5M606.7 166.6V217.8M607.8 197.4V212.9M608.6 176.2V197.4M608.9 176.2V212.8M609.5 175.4V213.9M609.8 164.5V197.3M611.5 160.7V218.8M615.7 163.3V219.1M617.3 197.2V210.4M617.9 161.8V211.5M619.1 177.7V217.2M621.9 160.1V212.8M623.7 162.1V218.6M624.6 161.1V220.6M625 158.4V197.5M628 159V197.7M628.3 176.1V197.7M633.5 187.6V198.1M645.3 187V208.3M646.2 175.7V199M646.8 175.9V199.1M649.2 199.1V212.7M649.4 162.6V216.6M649.8 167.5V199.2M650.7 164.8V212.7M651.7 199.2V218.3M652.1 161.5V220.8M652.9 199.2V215.7M654.5 170.2V218.5M656.1 177.3V215.7M656.9 199.2V214.5M657.4 179.5V213M657.8 199.1V220.4M659.9 160.1V220.9M696.5 185.7V197.1M698 158.9V221M699 197.1V211.3M700.2 175.8V197.1M701 177.1V220M702.6 165.8V221.2M703.3 173V216.8M705.7 175.9V214.5M707.1 164.9V197.5M707.6 164.3V218.2M708.1 165.4V197.6M711 197.8V220.4M713.6 198V215.5M714.9 165.7V221.8M735.2 169.3V199M738 171.2V214.3M741.2 176V198.9M743 198.9V215M744.1 172.6V215.9M745.4 198.8V220.2M746.6 176V217.1M747.5 173.8V198.8M748.2 167.8V220.8M749.6 176.3V198.7M750 198.7V216.2M767.3 186.1V198.3M768.9 198.3V211.4M771.1 198.4V216.1M771.6 170.7V198.4M774.3 176.7V217.8M774.8 179V217.4M775.9 172.7V198.5M777.5 174.3V198.6M778.2 183.8V209.7M780.1 182.6V211.4M782.1 182.3V217.4M783.2 177.7V198.8M783.7 177.7V198.8M784 181.4V198.8M788.5 188.3V199M806 185.5V210.2M809.6 177.3V217.9M811.6 172.5V216.5M812.2 198.8V216.9M812.6 175.2V211.1M813.5 179.9V198.7M813.9 172.2V198.6M815.5 170.4V213.3M816 168.8V212M816.9 180.6V198.4M818.8 169.1V198.2M819.5 178.7V215.8M820 198.1V212.3M836.8 182.8V197M837.9 174V214.7M839.2 196.9V215.2M840.3 167.9V196.9M840.9 176.6V209M841.8 167.2V196.9M845 197V210.5M845.6 166.4V197M846.6 170.5V212.6M848.6 169.3V209.7M871.5 179.7V198.9M873.4 175.7V199M874.6 175.8V215.2M876.2 179.8V199.1M877.5 181.6V199.1M878.1 177.7V199.2M878.9 199.2V216.5M879.3 178.5V199.2M882 179.5V215M908.3 197.7V209.9M909.6 171.4V215.1M909.9 180.5V210.3M911.3 197.5V211.1M672 173.3V210.3M672.6 180.8V207.9M676 173.9V209.9M676.6 181.1V207.5" stroke="#0b0b0b" stroke-width="0.95" fill="none"/>
<path d="M265 250.6l.5 .2l.5 .4l.5 -2.8l.5 -3.8l.5 -8.9l.5 4.7l.5 -3.6l.5 2.1l.5 3.5l.5 -5l.5 -1.6l.5 6.2l.5 -3l.5 4.1l.5 .4l.5 -5.8l.5 .4l.5 2.1l.5 -.8l.5 -.6l.5 -.4l.5 .4l.5 -.9l.5 5l.5 -2.5l.5 -2.6l.5 2.3l.5 2l.5 -3l.5 6.8l.5 -1.7l.5 .3l.5 -3l.5 -.9l.5 -.9l.5 1.3l.5 0l.5 5.3l.5 -1.6l.5 -4.1l.5 4.5l.5 -4.5l.5 5.2l.5 .1l.5 -5.5l.5 -.9l.5 5.2l.5 -1.9l.5 4.2l.5 -1.4l.5 -.7l.5 -1.7l.5 -.2l.5 .4l.5 -2.1l.5 -.4l.5 -.5l.5 7.7l.5 -5.6l.5 3.7l.5 -3.2l.5 -1.1l.5 3.1l.5 -1.5l.5 1.8l.5 -.7l.5 -2.7l.5 -.4l.5 1.5l.5 2l.5 -1.4l.5 1.1l.5 -1.4l.5 -.5l.5 -1.2l.5 1.3l.5 4.8l.5 1.2l.5 .4l.5 -.8l.5 -1.2l.5 1.1l.5 -1.1l.5 1.5l.5 -.6l.5 -.8l.5 1.8l.5 -1l.5 .3l.5 -.5l.5 -.6l.5 .3l.5 1.5l.5 -1.2l.5 .1l.5 -.2l.5 -.9l.5 1.4l.5 -.7l.5 .4l.5 -.7l.5 .7l.5 0l.5 -.3l.5 -.9l.5 2l.5 -.2l.5 .1l.5 -1.9l.5 1.5l.5 .8l.5 -.3l.5 -2l.5 1.4l.5 -.2l.5 .2l.5 .3l.5 .7l.5 -.4l.5 -.6l.5 1.8l.5 -2.7l.5 -3.5l.5 .7l.5 -9.5l.5 -.1l.5 5.7l.5 -5.7l.5 5.8l.5 -.3l.5 -2.7l.5 -.8l.5 2.5l.5 -1.9l.5 5l.5 1.1l.5 -3.4l.5 2.9l.5 1.4l.5 -2.7l.5 -2.9l.5 5.9l.5 -.6l.5 .6l.5 -3.8l.5 4.3l.5 -2.3l.5 1.2l.5 -1.7l.5 -1.9l.5 4.1l.5 1.5l.5 -3.5l.5 .6l.5 -1.2l.5 1.6l.5 .7l.5 .4l.5 -.2l.5 -1l.5 -.1l.5 .2l.5 2.2l.5 -.4l.5 4.1l.5 1.2l.5 -.9l.5 .5l.5 -1.4l.5 1l.5 .1l.5 -.3l.5 .4l.5 1.2l.5 .3l.5 -1.7l.5 -.5l.5 .5l.5 .4l.5 -.4l.5 -1.3l.5 1.4l.5 1l.5 -1.4l.5 -.6l.5 1.3l.5 .8l.5 .4l.5 -1l.5 -1.5l.5 .7l.5 .2l.5 .5l.5 -1.2l.5 -3l.5 -3.3l.5 -2.8l.5 3.2l.5 -1.3l.5 .9l.5 -5.3l.5 5.7l.5 -.8l.5 -4l.5 4.6l.5 -3.4l.5 -1l.5 -.7l.5 4.5l.5 .4l.5 -1.5l.5 -3.2l.5 2l.5 -.9l.5 -1.6l.5 3.4l.5 .1l.5 -.9l.5 5l.5 -1.7l.5 -2.1l.5 1.4l.5 .5l.5 -3l.5 3l.5 -1.6l.5 -.9l.5 .2l.5 2.8l.5 -1.5l.5 1.5l.5 -.8l.5 -.7l.5 .8l.5 -.9l.5 1.7l.5 -1.1l.5 1.4l.5 2.5l.5 -3.1l.5 .5l.5 .9l.5 2.4l.5 3.3l.5 -1l.5 .6l.5 -.6l.5 -.3l.5 .1l.5 -.2l.5 -.2l.5 2l.5 -.5l.5 -1.8l.5 -.1l.5 1l.5 .9l.5 -2.2l.5 2.8l.5 -1.3l.5 .6l.5 -.3l.5 1.2l.5 -.7l.5 -.7l.5 .5l.5 -2.4l.5 -4.1l.5 -6.4l.5 3.5l.5 -3.3l.5 1.3l.5 2.7l.5 3.5l.5 -3.8l.5 -2.4l.5 5.9l.5 -4.9l.5 1.5l.5 -1.9l.5 4.3l.5 -.2l.5 1.1l.5 -1.1l.5 -3.3l.5 .9l.5 4l.5 -1.6l.5 .5l.5 -.5l.5 .6l.5 -.9l.5 .3l.5 -.6l.5 .1l.5 1.3l.5 .3l.5 .9l.5 0l.5 .5l.5 -1.3l.5 1.6l.5 -.7l.5 1.2l.5 -2.4l.5 3.9l.5 -3l.5 -2.3l.5 1.7l.5 2.2l.5 -2.5l.5 1.4l.5 -.8l.5 1.3l.5 -.3l.5 .1l.5 0l.5 -.8l.5 2.3l.5 3.8l.5 -.8l.5 -.8l.5 2.3l.5 -1.2l.5 -.4l.5 -.4l.5 0l.5 .4l.5 -.5l.5 .2l.5 .3l.5 .5l.5 -1.4l.5 .3l.5 -.7l.5 1.2l.5 -2l.5 1.3l.5 -.2l.5 1.4l.5 -.1l.5 -.4l.5 -.9l.5 .7l.5 -.8l.5 .1l.5 -2.6l.5 -6.2l.5 -1.5l.5 -3.1l.5 0l.5 1.4l.5 3.1l.5 -.2l.5 -3.5l.5 .6l.5 -.5l.5 .7l.5 5.7l.5 -.6l.5 -1.7l.5 2.9l.5 -.5l.5 -1.7l.5 -1.5l.5 .3l.5 4l.5 -.7l.5 -3.5l.5 3.3l.5 .6l.5 .8l.5 -2.1l.5 .9l.5 -1.3l.5 -1l.5 4.5l.5 -2.4l.5 .3l.5 -1.2l.5 1.5l.5 -1.2l.5 .7l.5 1.3l.5 -1.6l.5 1.5l.5 -.6l.5 1l.5 .2l.5 .9l.5 .3l.5 2.9l.5 -.3l.5 0l.5 -.5l.5 .8l.5 .1l.5 .5l.5 .8l.5 -1.5l.5 0l.5 .7l.5 -.3l.5 .4l.5 -2l.5 1.2l.5 .9l.5 -.9l.5 .3l.5 -.6l.5 1.8l.5 -2.6l.5 1.5l.5 -1.1l.5 -.4l.5 .4l.5 -1.4l.5 -4.1l.5 -5.8l.5 -1.7l.5 .9l.5 1.5l.5 5.1l.5 -4.8l.5 1.3l.5 .4l.5 -.1l.5 -2l.5 .6l.5 5l.5 -3.7l.5 1.3l.5 2.7l.5 -5.3l.5 6.3l.5 -1l.5 .1l.5 -.9l.5 -1.8l.5 -.2l.5 4.4l.5 -2.4l.5 -3.3l.5 3.8l.5 .4l.5 -2.2l.5 1l.5 3.3l.5 -2.8l.5 -.2l.5 1.2l.5 -.5l.5 3l.5 2.2l.5 .9l.5 -1.1l.5 .5l.5 .1l.5 .3l.5 -2.7l.5 .8l.5 .5l.5 .5l.5 .4l.5 -.3l.5 -.4l.5 .3l.5 -.2l.5 -.4l.5 2.3l.5 -1.5l.5 -.1l.5 -.1l.5 -.5l.5 -.8l.5 1.8l.5 -1.5l.5 .8l.5 -.4l.5 1l.5 1.2l.5 -.9l.5 -4.3l.5 -2l.5 -5.5l.5 4.7l.5 -1.8l.5 .7l.5 -4.5l.5 1.1l.5 .5l.5 .4l.5 4.4l.5 -5.7l.5 0l.5 2.6l.5 -1.7l.5 4.6l.5 2.8l.5 -7l.5 2.3l.5 -2l.5 3.7l.5 -1l.5 .8l.5 3.7l.5 -1.5l.5 -4l.5 3.1l.5 1.2l.5 -1.9l.5 .6l.5 3l.5 -.7l.5 .8l.5 1.8l.5 1.1l.5 -1.2l.5 -.3l.5 -.1l.5 -.1l.5 .7l.5 -.9l.5 .4l.5 .6l.5 -.1l.5 .1l.5 -1.2l.5 .9l.5 .2l.5 -.5l.5 .1l.5 -.7l.5 1.1l.5 -.3l.5 -.8l.5 -.7l.5 .2l.5 1.4l.5 -.4l.5 .1l.5 .1l.5 .2l.5 -.5l.5 -.4l.5 -.4l.5 -.7l.5 .9l.5 1l.5 -.5l.5 .1l.5 -1.1l.5 -2.4l.5 -3.9l.5 -5.7l.5 4.6l.5 .8l.5 -5.1l.5 .8l.5 1.4l.5 -.2l.5 1.6l.5 3.9l.5 -2.4l.5 1.3l.5 .4l.5 -2.5l.5 -2.2l.5 4.3l.5 -3.7l.5 4.3l.5 .5l.5 -3.2l.5 .3l.5 .1l.5 3.2l.5 -.7l.5 3.4l.5 -.8l.5 .1l.5 -4.6l.5 1.1l.5 .7l.5 .2l.5 .8l.5 -.2l.5 1.9l.5 -1.9l.5 2.6l.5 1.4l.5 1.3l.5 .1l.5 .3l.5 .2l.5 .6l.5 .2l.5 -.2l.5 .3l.5 .9l.5 -1.3l.5 1l.5 0l.5 -.6l.5 1.1l.5 -.5l.5 -.2l.5 -.4l.5 .7l.5 -1.1l.5 .2l.5 .5l.5 0l.5 .3l.5 .2l.5 -2.6l.5 -4.2l.5 -1l.5 -4l.5 4.3l.5 .4l.5 -1.5l.5 -2.6l.5 2.6l.5 -.4l.5 -.7l.5 -.6l.5 2l.5 0l.5 -2.7l.5 .7l.5 5.9l.5 -2.3l.5 -1.3l.5 -1.5l.5 .1l.5 1l.5 3.4l.5 -2.2l.5 0l.5 1.1l.5 -1.3l.5 1.4l.5 -1.6l.5 2.7l.5 -2.1l.5 3l.5 -3.9l.5 2l.5 .7l.5 -.8l.5 1.8l.5 .6l.5 -1.4l.5 0l.5 -1.9l.5 .8l.5 1.1l.5 1.3l.5 .1l.5 3.3l.5 -1.3l.5 .3l.5 -.2l.5 -.5l.5 -.1l.5 .8l.5 .3l.5 -.5l.5 -.3l.5 .3l.5 -.9l.5 -.3l.5 .9l.5 -.6l.5 1.5l.5 -1.9l.5 1.5l.5 -.1l.5 -2.1l.5 .7l.5 -3.1l.5 -4.5l.5 -5l.5 3.4l.5 -1.2l.5 -1.5l.5 7.8l.5 -8.1l.5 5.3l.5 1.8l.5 -3.1l.5 2.6l.5 -3.5l.5 3.4l.5 .8l.5 -3.6l.5 1.5l.5 -.6l.5 3.5l.5 -3.8l.5 -1.3l.5 3.9l.5 -.3l.5 -.4l.5 -.4l.5 2.1l.5 -3.2l.5 1.1l.5 .1l.5 4l.5 -3.2l.5 -.5l.5 2.6l.5 -2.3l.5 4.3l.5 -2.2l.5 2.6l.5 -3.8l.5 1.7l.5 1.5l.5 -3.6l.5 1.2l.5 1.4l.5 .2l.5 -.4l.5 1l.5 2.2l.5 2.4l.5 -.1l.5 -.1l.5 -.3l.5 .1l.5 .7l.5 -.7l.5 .1l.5 1.5l.5 -1.2l.5 .1l.5 -.1l.5 -.6l.5 .5l.5 .3l.5 -1l.5 1.5l.5 -.2l.5 -.3l.5 .4l.5 .2l.5 -1l.5 .7l.5 -.2l.5 .4l.5 0l.5 -.2l.5 .7l.5 -.7l.5 -1l.5 -.2l.5 .8l.5 1.8l.5 -6.8l.5 .2l.5 -1.4l.5 -.7l.5 .7l.5 -5.7l.5 1.1l.5 1.8l.5 3.6l.5 -6.9l.5 5.9l.5 -2.2l.5 -3.1l.5 1.7l.5 2.7l.5 -1.1l.5 -.9l.5 -.2l.5 -.6l.5 4.9l.5 -1.1l.5 -1.6l.5 1.4l.5 -.5l.5 -1.1l.5 1.3l.5 1.5l.5 -2.1l.5 2.6l.5 -2.6l.5 2.2l.5 2.1l.5 .5l.5 .9l.5 -1.7l.5 .4l.5 -1.3l.5 1.7l.5 -1.3l.5 .1l.5 -.1l.5 1.5l.5 -.8l.5 .8l.5 -1.3l.5 -.6l.5 -.2l.5 .8l.5 -.9l.5 1.5l.5 -.9l.5 .7l.5 .3l.5 .6l.5 -1.7l.5 1.5l.5 -1.6l.5 1.1l.5 -1.7l.5 1.5l.5 -1l.5 .7l.5 .9l.5 -.7l.5 1l.5 -1.7l.5 -.2l.5 .7l.5 -.3l.5 -.1l.5 .8l.5 -.7l.5 .6l.5 .7l.5 -.8l.5 1.1l.5 -.5l.5 -.4l.5 1.1l.5 -.5l.5 -1l.5 0l.5 1.7l.5 -.9l.5 .2l.5 -.1l.5 .9l.5 -.9l.5 1.3l.5 -.7l.5 -.6l.5 .7l.5 1.1l.5 -1.6l.5 .4l.5 -.2l.5 .9l.5 .6l.5 -1.1l.5 .9l.5 -.6l.5 1.4l.5 -3.9l.5 -2.7l.5 -7.6l.5 4.8l.5 -1.3l.5 -.4l.5 -2.3l.5 4l.5 .6l.5 0l.5 -.9l.5 1.6l.5 -.8l.5 .6l.5 .3l.5 -3.5l.5 3.8l.5 2.1l.5 -.6l.5 1.9l.5 -3.6l.5 .4l.5 2.1l.5 1.7l.5 -3.5l.5 -2.8l.5 3l.5 .5l.5 -.2l.5 -.2l.5 .3l.5 2.1l.5 -.4l.5 -1.6l.5 1.1l.5 -1.5l.5 2.6l.5 -.3l.5 .9l.5 2.4l.5 -.2l.5 .4l.5 .6l.5 -.8l.5 -.2l.5 .1l.5 .2l.5 .3l.5 -.8l.5 .2l.5 -.8l.5 -.5l.5 -.4l.5 .2l.5 1.4l.5 .3l.5 -1.4l.5 1.1l.5 0l.5 -1.8l.5 1.8l.5 -1.9l.5 .4l.5 -1.7l.5 1.3l.5 -.3l.5 1.6l.5 .1l.5 -1.5l.5 1.3l.5 -1.4l.5 1.2l.5 -3.4l.5 -6.1l.5 1.3l.5 -2l.5 4.9l.5 -2.5l.5 -4.9l.5 1.3l.5 2.3l.5 -1.3l.5 2.2l.5 -4.2l.5 2.3l.5 1.4l.5 2l.5 -4.3l.5 2.6l.5 -1.7l.5 2.1l.5 .4l.5 1.2l.5 -2.7l.5 5.9l.5 -2.4l.5 -1.3l.5 2.6l.5 -1.7l.5 -1.5l.5 0l.5 4.2l.5 -3.2l.5 2.4l.5 -.7l.5 .3l.5 .3l.5 .1l.5 3.1l.5 2.3l.5 .5l.5 -.7l.5 -.2l.5 -.1l.5 0l.5 .4l.5 .1l.5 .2l.5 -.6l.5 .9l.5 .5l.5 .1l.5 -.3l.5 .6l.5 -1.8l.5 1.8l.5 -1.2l.5 1.8l.5 -.5l.5 -.9l.5 .4l.5 -.5l.5 1.1l.5 -.8l.5 .2l.5 -.8l.5 1.8l.5 -.4l.5 -.3l.5 .3l.5 -1l.5 -.1l.5 -2.8l.5 -3l.5 1.7l.5 -6.7l.5 3.2l.5 -1.3l.5 1l.5 -.1l.5 -.9l.5 .2l.5 .3l.5 3.3l.5 -1.8l.5 .6l.5 -.9l.5 1.9l.5 -2.4l.5 1.4l.5 3l.5 -2.7l.5 .9l.5 1l.5 -2.4l.5 1.6l.5 .9l.5 -.2l.5 -.5l.5 1.1l.5 -3.2l.5 .7l.5 2.1l.5 -.8l.5 .9l.5 -.6l.5 .4l.5 1.2l.5 .9l.5 1.9l.5 0l.5 .8l.5 -.3l.5 -.9l.5 -1.5l.5 1.6l.5 -.6l.5 1l.5 -.7l.5 -.2l.5 -1.1l.5 2.5l.5 -1.5l.5 .9l.5 -1.4l.5 1l.5 -.3l.5 .6l.5 -.9l.5 -.4l.5 -.4l.5 .6l.5 .3l.5 .3l.5 -1.5l.5 1.6l.5 -.4l.5 .2l.5 -.8l.5 -.2l.5 .3l.5 0l.5 .3l.5 -1l.5 1.1l.5 -.2l.5 .5l.5 -1l.5 -1.5l.5 -3.1l.5 -2.9l.5 .5l.5 2.6l.5 -3.3l.5 1l.5 .2l.5 -1.5l.5 3.9l.5 .6l.5 -1.8l.5 2.6l.5 -3.1l.5 3.5l.5 -2.7l.5 1.9l.5 .8l.5 -1.7l.5 .3l.5 -.9l.5 3.6l.5 -2.4l.5 -.7l.5 3.3l.5 -3.2l.5 2l.5 .3l.5 -1.6l.5 .8l.5 2.7l.5 -2.3l.5 1.1l.5 1.8l.5 .9l.5 -.1l.5 .1l.5 -.9l.5 1.2l.5 0l.5 -1.4l.5 -.9l.5 1l.5 -.1l.5 1l.5 .4l.5 -.4l.5 -.5l.5 1.2l.5 -1.2l.5 -.7l.5 1l.5 -1.1l.5 -.3l.5 2l.5 -.1l.5 -.5l.5 -.9l.5 0l.5 1l.5 -.5l.5 -.7l.5 -1.2l.5 -3l.5 -3.7l.5 4.8l.5 -3.2l.5 .4l.5 -.8l.5 .9l.5 1.6l.5 -2.6l.5 2.1l.5 -2.4l.5 2.4l.5 -.8l.5 .6l.5 -2.4l.5 2.3l.5 .6l.5 -.9l.5 1l.5 .1l.5 -.5l.5 1.2l.5 1.3l.5 -.3l.5 -1.6l.5 .6l.5 -1.9l.5 3.2l.5 .2l.5 1.6l.5 .5l.5 .2l.5 -1.6l.5 1l.5 .7l.5 .4l.5 -1.2l.5 -.1l.5 -.5l.5 1.1l.5 -.3l.5 -.7l.5 -.1l.5 .1l.5 .3l.5 -.2l.5 -.3l.5 .8l.5 -.9l.5 .4l.5 -.6l.5 .6l.5 .2l.5 -.9l.5 .2l.5 -.1l.5 .3l.5 .1l.5 -.6l.5 1.2l.5 .3l.5 -1.1l.5 1.4l.5 -1.7l.5 -.6l.5 .6l.5 1.5l.5 -2.8l.5 -3.6l.5 1.7l.5 -1.4l.5 1.5l.5 -1.4l.5 -1.4l.5 1.3l.5 -.1l.5 -1.6l.5 3.6l.5 .9l.5 -.7l.5 -3.8l.5 2.3l.5 1l.5 -.4l.5 1.1l.5 -1.4l.5 1.7l.5 -.9l.5 -1.2l.5 2l.5 -.7l.5 2.1l.5 .7l.5 .2l.5 .1l.5 -.4l.5 .8l.5 -1.5l.5 1l.5 -.7l.5 1.6l.5 -1.1l.5 1.1l.5 -1l.5 1l.5 -.4l.5 -.4l.5 -.3l.5 .2l.5 .1l.5 -.1l.5 .6l.5 -1.2l.5 .1l.5 .9l.5 .6l.5 -.9l.5 -.9l.5 1.1l.5 -.4l.5 1l.5 -.3l.5 .2l.5 .1l.5 -1.7l.5 -.1l.5 1l.5 .1l.5 -.5l.5 .5l.5 -.1l.5 -.4l.5 .5l.5 -1.4l.5 -1.1l.5 2.8l.5 -.2l.5 -.1l.5 .4l.5 -2.1l.5 -3.3l.5 -2.9l.5 4.3l.5 -3l.5 .2l.5 -.2l.5 2.4l.5 .1l.5 -.1l.5 .8l.5 0l.5 3.4L912.5 263.8l-.5 2.2l-.5 -1.8l-.5 2.7l-.5 -.6l-.5 .1l-.5 1.9l-.5 -1.8l-.5 -.1l-.5 .4l-.5 0l-.5 -.4l-.5 -1.2l-.5 -2.4l-.5 -.1l-.5 .9l-.5 -.3l-.5 1.7l-.5 -1.1l-.5 -.9l-.5 1.4l-.5 -1.4l-.5 1.2l-.5 -.5l-.5 -.1l-.5 .3l-.5 0l-.5 0l-.5 -1.2l-.5 .2l-.5 -.1l-.5 -.2l-.5 .3l-.5 0l-.5 1.6l-.5 -.9l-.5 -.5l-.5 -.4l-.5 1.7l-.5 -.7l-.5 -1l-.5 .4l-.5 .6l-.5 -.1l-.5 -.2l-.5 -.6l-.5 .4l-.5 -1l-.5 1.3l-.5 -.2l-.5 .5l-.5 -1.1l-.5 1.3l-.5 -1.1l-.5 .5l-.5 -.6l-.5 1.3l-.5 -.8l-.5 .1l-.5 .1l-.5 .2l-.5 .9l-.5 -.6l-.5 1.9l-.5 -.3l-.5 -.8l-.5 1l-.5 .4l-.5 1.2l-.5 -1.6l-.5 -.1l-.5 2.2l-.5 -1.3l-.5 -.5l-.5 .4l-.5 .9l-.5 .9l-.5 -2.4l-.5 .6l-.5 1.7l-.5 -.4l-.5 .9l-.5 -1.7l-.5 -.2l-.5 -2.7l-.5 -1.9l-.5 .8l-.5 .7l-.5 -.8l-.5 -.8l-.5 1.7l-.5 -2.2l-.5 1.2l-.5 .4l-.5 -.5l-.5 .6l-.5 -.2l-.5 -.2l-.5 .3l-.5 .2l-.5 -.3l-.5 -.9l-.5 1.5l-.5 -.2l-.5 -1l-.5 .9l-.5 -.7l-.5 .3l-.5 1.3l-.5 -1.2l-.5 0l-.5 -.3l-.5 -.1l-.5 .2l-.5 -.4l-.5 .8l-.5 -1.2l-.5 .3l-.5 .1l-.5 1.3l-.5 -1l-.5 .3l-.5 -.3l-.5 2.7l-.5 -.9l-.5 1.7l-.5 -.2l-.5 -.8l-.5 -.5l-.5 0l-.5 1.5l-.5 -1.6l-.5 2l-.5 .4l-.5 -1.4l-.5 -.3l-.5 .8l-.5 .8l-.5 .1l-.5 .5l-.5 .5l-.5 .6l-.5 -.9l-.5 .3l-.5 .2l-.5 -.5l-.5 1.3l-.5 -.2l-.5 -1.4l-.5 1.9l-.5 -2.3l-.5 -2.1l-.5 1l-.5 -1.3l-.5 -.8l-.5 -.4l-.5 .5l-.5 .3l-.5 -.5l-.5 -.7l-.5 .3l-.5 1.4l-.5 .2l-.5 -1.4l-.5 1.1l-.5 -1.1l-.5 -.6l-.5 .9l-.5 -.4l-.5 -.1l-.5 0l-.5 1.2l-.5 -.4l-.5 .5l-.5 -.4l-.5 -.4l-.5 -.1l-.5 .5l-.5 -.5l-.5 -.1l-.5 .4l-.5 -.4l-.5 1.1l-.5 .3l-.5 -.1l-.5 .9l-.5 .7l-.5 -.8l-.5 .5l-.5 .8l-.5 -2.5l-.5 2.4l-.5 -.1l-.5 -2.2l-.5 2.1l-.5 .6l-.5 -.4l-.5 -.9l-.5 .8l-.5 -1.5l-.5 1.1l-.5 .1l-.5 -.8l-.5 -.2l-.5 2.7l-.5 -.6l-.5 .3l-.5 -.7l-.5 -1.6l-.5 .8l-.5 1.3l-.5 -1.1l-.5 .5l-.5 -1l-.5 -1.7l-.5 -1.5l-.5 -.8l-.5 .7l-.5 -.3l-.5 .2l-.5 .3l-.5 .1l-.5 .1l-.5 .1l-.5 -.3l-.5 -.9l-.5 -.2l-.5 -.4l-.5 2.2l-.5 0l-.5 -.6l-.5 .3l-.5 .7l-.5 -.9l-.5 -.8l-.5 .2l-.5 .5l-.5 .4l-.5 0l-.5 -.7l-.5 .7l-.5 -1.3l-.5 2.3l-.5 -1l-.5 -.2l-.5 -1.1l-.5 1.6l-.5 -.4l-.5 1.2l-.5 -1.4l-.5 -.5l-.5 .8l-.5 1.4l-.5 -.6l-.5 .6l-.5 1.7l-.5 .1l-.5 1.1l-.5 -2.6l-.5 .8l-.5 2.1l-.5 .4l-.5 -.8l-.5 -1.1l-.5 2l-.5 1l-.5 -.5l-.5 -1.1l-.5 -1.7l-.5 1.2l-.5 2.5l-.5 -1.9l-.5 2.1l-.5 -.6l-.5 -.3l-.5 -1.6l-.5 3.2l-.5 .1l-.5 -2.7l-.5 2.7l-.5 1.3l-.5 -1l-.5 -.6l-.5 -.4l-.5 1.4l-.5 -.3l-.5 -1.6l-.5 2.6l-.5 .2l-.5 -5.7l-.5 -.1l-.5 -2.3l-.5 1l-.5 -.7l-.5 -.1l-.5 -.9l-.5 .3l-.5 1.4l-.5 -.5l-.5 -.9l-.5 0l-.5 .7l-.5 0l-.5 -.8l-.5 -.4l-.5 -.4l-.5 1.7l-.5 -1.1l-.5 .2l-.5 -.7l-.5 .5l-.5 -.1l-.5 -1.4l-.5 1l-.5 .8l-.5 -.2l-.5 -.9l-.5 .3l-.5 .7l-.5 -1.2l-.5 .6l-.5 -1l-.5 .6l-.5 .7l-.5 1.1l-.5 -.9l-.5 2.1l-.5 .5l-.5 -.9l-.5 -.7l-.5 1.8l-.5 0l-.5 -.2l-.5 -.5l-.5 -.2l-.5 -1.6l-.5 2.4l-.5 -.2l-.5 -.2l-.5 1.3l-.5 -.1l-.5 -.1l-.5 .6l-.5 .1l-.5 .4l-.5 -2.4l-.5 -.4l-.5 2l-.5 -1.6l-.5 2.3l-.5 .1l-.5 .9l-.5 -.8l-.5 .6l-.5 -1.1l-.5 1.4l-.5 -4.6l-.5 5.2l-.5 -3.5l-.5 .5l-.5 -4.9l-.5 -1.5l-.5 .9l-.5 -1.4l-.5 1.6l-.5 -1l-.5 .2l-.5 1.8l-.5 -.4l-.5 .6l-.5 -.9l-.5 .6l-.5 -2l-.5 1.1l-.5 -.9l-.5 .1l-.5 .9l-.5 -1.4l-.5 .7l-.5 1.8l-.5 -.5l-.5 0l-.5 .2l-.5 -.6l-.5 .3l-.5 -.7l-.5 .2l-.5 .8l-.5 .3l-.5 -.5l-.5 -.4l-.5 0l-.5 1l-.5 -.1l-.5 .8l-.5 2.8l-.5 .1l-.5 .7l-.5 -.3l-.5 -.8l-.5 .3l-.5 1.9l-.5 -1l-.5 .8l-.5 -1.1l-.5 .6l-.5 -.4l-.5 1.5l-.5 -1.2l-.5 .5l-.5 -.4l-.5 1.8l-.5 .4l-.5 -3.7l-.5 1.3l-.5 1.5l-.5 0l-.5 .5l-.5 1.3l-.5 -2.1l-.5 1.3l-.5 -1.5l-.5 -.1l-.5 .6l-.5 3.3l-.5 -2l-.5 .9l-.5 -3.6l-.5 4.2l-.5 .9l-.5 -2.5l-.5 -2.4l-.5 -3.6l-.5 -2l-.5 .7l-.5 -.1l-.5 .7l-.5 -1.1l-.5 .6l-.5 .6l-.5 -1.2l-.5 .3l-.5 -.7l-.5 1.1l-.5 -.8l-.5 1.1l-.5 -1.8l-.5 1l-.5 -.9l-.5 .1l-.5 -.2l-.5 1.2l-.5 -1.7l-.5 1.7l-.5 -.9l-.5 -.5l-.5 -.8l-.5 1.4l-.5 -.6l-.5 -1.2l-.5 1.1l-.5 -.6l-.5 .5l-.5 -.2l-.5 -1l-.5 1.6l-.5 -.7l-.5 0l-.5 1.2l-.5 -1.3l-.5 -.6l-.5 -.2l-.5 .2l-.5 0l-.5 .5l-.5 0l-.5 .2l-.5 -1.1l-.5 1.6l-.5 -1.6l-.5 1.6l-.5 -1.7l-.5 1.5l-.5 -.8l-.5 .8l-.5 -1.1l-.5 1.2l-.5 -.6l-.5 .7l-.5 -.3l-.5 .7l-.5 -1.8l-.5 .1l-.5 .3l-.5 .9l-.5 .9l-.5 -.5l-.5 -.9l-.5 .6l-.5 .9l-.5 .2l-.5 -1.6l-.5 .6l-.5 .6l-.5 1.3l-.5 .5l-.5 1.7l-.5 -1.2l-.5 -.3l-.5 .4l-.5 1.5l-.5 .1l-.5 .7l-.5 -.6l-.5 -.7l-.5 1.8l-.5 0l-.5 -.3l-.5 -.4l-.5 3.2l-.5 .7l-.5 -2.3l-.5 3.5l-.5 0l-.5 -.1l-.5 -.3l-.5 -1.1l-.5 2.3l-.5 -3.1l-.5 .1l-.5 .3l-.5 3.5l-.5 -4.5l-.5 1.7l-.5 -3.5l-.5 -4.2l-.5 1.7l-.5 .9l-.5 -.2l-.5 -1.2l-.5 -.8l-.5 1.2l-.5 .2l-.5 -.3l-.5 .6l-.5 0l-.5 .1l-.5 -.1l-.5 -.9l-.5 1.2l-.5 -.3l-.5 -.4l-.5 1.2l-.5 .1l-.5 -.4l-.5 .7l-.5 -1.1l-.5 -.5l-.5 .4l-.5 -.8l-.5 1.1l-.5 -.2l-.5 -.9l-.5 .2l-.5 1.1l-.5 -1.2l-.5 .5l-.5 .3l-.5 .8l-.5 1.4l-.5 -1.6l-.5 2.8l-.5 -1.2l-.5 -1.3l-.5 3.2l-.5 -2.9l-.5 1.5l-.5 .1l-.5 .5l-.5 -.4l-.5 .2l-.5 -1.8l-.5 .1l-.5 2.2l-.5 -2.1l-.5 .8l-.5 .1l-.5 1.4l-.5 0l-.5 -1l-.5 -.1l-.5 -.7l-.5 -.2l-.5 .3l-.5 1.5l-.5 -2.9l-.5 2.2l-.5 -2.7l-.5 2l-.5 2.7l-.5 -.6l-.5 -2.1l-.5 .1l-.5 -.5l-.5 2.7l-.5 -2.1l-.5 2.1l-.5 .6l-.5 -4.4l-.5 3.7l-.5 .3l-.5 -1.2l-.5 -1.4l-.5 -1.2l-.5 -1.1l-.5 -2.2l-.5 -.6l-.5 -.3l-.5 -.9l-.5 1.9l-.5 -1l-.5 .8l-.5 -.3l-.5 .3l-.5 .9l-.5 -1.3l-.5 -.3l-.5 .7l-.5 -.7l-.5 .5l-.5 .8l-.5 .5l-.5 -.6l-.5 -.2l-.5 .2l-.5 -1.2l-.5 1.8l-.5 1.6l-.5 2.2l-.5 -2l-.5 2.8l-.5 -.5l-.5 -.7l-.5 -.1l-.5 -.9l-.5 1.2l-.5 -2l-.5 .2l-.5 1l-.5 1.9l-.5 .1l-.5 -1.5l-.5 -.6l-.5 2.5l-.5 -1.3l-.5 2.3l-.5 -1.8l-.5 .4l-.5 1.4l-.5 -2.2l-.5 3.2l-.5 .5l-.5 -.1l-.5 -2.5l-.5 -1.7l-.5 2l-.5 3l-.5 -3.1l-.5 1.8l-.5 -1.5l-.5 -.8l-.5 2.1l-.5 -1.3l-.5 1.7l-.5 -1.9l-.5 1.3l-.5 2.5l-.5 -.8l-.5 -.6l-.5 -3.9l-.5 -.7l-.5 -3l-.5 .2l-.5 .6l-.5 0l-.5 .5l-.5 .4l-.5 -1.2l-.5 -.3l-.5 .3l-.5 -.6l-.5 -.4l-.5 .5l-.5 -.6l-.5 .4l-.5 .1l-.5 -.9l-.5 .1l-.5 .6l-.5 -.9l-.5 1l-.5 -.3l-.5 1l-.5 -.8l-.5 .9l-.5 2l-.5 -1.8l-.5 2.2l-.5 .4l-.5 -1l-.5 2.8l-.5 -1.8l-.5 -.4l-.5 -1.6l-.5 .4l-.5 -1l-.5 2.7l-.5 -3.1l-.5 2l-.5 -.5l-.5 3.2l-.5 -1.9l-.5 -.5l-.5 -.2l-.5 -1.4l-.5 3.5l-.5 -3.2l-.5 .3l-.5 1l-.5 -.2l-.5 -.1l-.5 -.7l-.5 3.8l-.5 -1.9l-.5 -.7l-.5 1.8l-.5 1.2l-.5 -2.2l-.5 2.4l-.5 -3l-.5 1.4l-.5 -2.5l-.5 -3l-.5 -1l-.5 -.5l-.5 -.1l-.5 0l-.5 1l-.5 .1l-.5 .5l-.5 -1.3l-.5 -.6l-.5 .4l-.5 -1.1l-.5 1l-.5 0l-.5 0l-.5 .4l-.5 1.3l-.5 -1.3l-.5 -.8l-.5 .2l-.5 .9l-.5 -.4l-.5 .6l-.5 -.7l-.5 0l-.5 .8l-.5 -.4l-.5 -.3l-.5 -.2l-.5 .6l-.5 .1l-.5 -1.2l-.5 1.4l-.5 0l-.5 .6l-.5 -.5l-.5 -1.3l-.5 1.3l-.5 1.4l-.5 .9l-.5 1l-.5 -1.3l-.5 1.2l-.5 -1.4l-.5 3.2l-.5 -.2l-.5 -.7l-.5 -1.4l-.5 1.6l-.5 -.1l-.5 1.7l-.5 -.7l-.5 -.6l-.5 2.7l-.5 -4.6l-.5 1.7l-.5 .1l-.5 3.7l-.5 -1.1l-.5 .8l-.5 -2.8l-.5 1.4l-.5 -.5l-.5 -.4l-.5 2.5l-.5 -.4l-.5 1.5l-.5 -2l-.5 1.5l-.5 -3.9l-.5 -1.7l-.5 -3.5l-.5 -.2l-.5 .2l-.5 .5l-.5 1l-.5 .1l-.5 -.8l-.5 .6l-.5 -1.1l-.5 -.2l-.5 .8l-.5 -.8l-.5 -1.5l-.5 2.6l-.5 -.5l-.5 -.1l-.5 .1l-.5 0l-.5 -.6l-.5 .5l-.5 .6l-.5 .5l-.5 1.3l-.5 -3.4l-.5 0l-.5 0l-.5 .6l-.5 -.9l-.5 .9l-.5 1.2l-.5 1.3l-.5 1.2l-.5 -.8l-.5 .5l-.5 -.3l-.5 1.8l-.5 -1l-.5 -.9l-.5 2.1l-.5 .2l-.5 .6l-.5 -2.8l-.5 -.2l-.5 4l-.5 -3.2l-.5 .3l-.5 -1l-.5 .7l-.5 2.6l-.5 .4l-.5 -1.7l-.5 2.1l-.5 -1.3l-.5 1.5l-.5 .7l-.5 -.6l-.5 -.6l-.5 -.7l-.5 .9l-.5 -.6l-.5 1.2l-.5 1.9l-.5 -3.4l-.5 2.9l-.5 -4.8l-.5 -1.5l-.5 -1.7l-.5 .7l-.5 -1.1l-.5 -.5l-.5 .7l-.5 -1.1l-.5 2l-.5 -.8l-.5 -.5l-.5 -.4l-.5 .3l-.5 1.9l-.5 -2.3l-.5 1l-.5 -.3l-.5 0l-.5 .4l-.5 -.7l-.5 .2l-.5 .2l-.5 .4l-.5 .5l-.5 .1l-.5 .8l-.5 -2l-.5 2.5l-.5 -.1l-.5 1.8l-.5 .8l-.5 1l-.5 -2.7l-.5 -.3l-.5 .8l-.5 1.4l-.5 .4l-.5 -2.2l-.5 3l-.5 -2.6l-.5 2.7l-.5 -.5l-.5 -2.5l-.5 -.6l-.5 4.1l-.5 -2.2l-.5 -1l-.5 2.2l-.5 -2.3l-.5 2.6l-.5 -.1l-.5 -.8l-.5 -2.2l-.5 1.5l-.5 2.6l-.5 1.8l-.5 -1.6l-.5 1.4l-.5 -4.2l-.5 2.3l-.5 1.8l-.5 0l-.5 1.2l-.5 -2.1l-.5 1.1l-.5 .8l-.5 1.1l-.5 -4.3l-.5 3.9l-.5 -.4l-.5 -4.8l-.5 -2.6l-.5 -1.8l-.5 -.2l-.5 -.3l-.5 .4l-.5 -.4l-.5 -.5l-.5 -.1l-.5 1.5l-.5 -.8l-.5 1.3l-.5 -1.1l-.5 .8l-.5 -.4l-.5 -.2l-.5 -.4l-.5 -.4l-.5 .7l-.5 .3l-.5 -.9l-.5 1.1l-.5 .3l-.5 -1l-.5 .2l-.5 -1.6l-.5 1.6l-.5 .2l-.5 -1.3l-.5 3.1l-.5 1l-.5 .9l-.5 -1.1l-.5 .8l-.5 .7l-.5 .9l-.5 -.7l-.5 -2.2l-.5 .3l-.5 1l-.5 1.8l-.5 -1l-.5 -1.1l-.5 2.3l-.5 .3l-.5 -1.8l-.5 .7l-.5 -.6l-.5 .3l-.5 2.3l-.5 -.5l-.5 .1l-.5 -.2l-.5 -1l-.5 .2l-.5 1.7l-.5 -3.4l-.5 1.4l-.5 -1.5l-.5 4l-.5 .1l-.5 -1.4l-.5 -.1l-.5 .6l-.5 1.8l-.5 -3.1l-.5 2.1l-.5 1.2l-.5 -3.9l-.5 2.7l-.5 -.7l-.5 -1.6l-.5 2.7l-.5 -.9l-.5 1l-.5 -2.8l-.5 3.9l-.5 -5.1l-.5 2.5l-.5 1.6l-.5 -1.9l-.5 -5.2l-.5 -1l-.5 .3l-.5 -.3l-.5 -1l-.5 .8l-.5 -.5l-.5 .5l-.5 -1.5l-.5 2.5l-.5 -2.6l-.5 .8l-.5 .8l-.5 .8l-.5 -1.9l-.5 -1.5l-.5 1.6l-.5 .7l-.5 -.9l-.5 .5l-.5 -.6l-.5 -1.1l-.5 1.3l-.5 -1.8l-.5 3.4l-.5 1.7l-.5 -.9l-.5 .5l-.5 .5l-.5 -1.5l-.5 1.2l-.5 .2l-.5 -.7l-.5 -.8l-.5 2.4l-.5 -1.8l-.5 -.8l-.5 2.6l-.5 -.9l-.5 .7l-.5 -1.8l-.5 1.7l-.5 -1.2l-.5 2.7l-.5 -2.1l-.5 -.1l-.5 3.2l-.5 -1.7l-.5 -2.8l-.5 3.9l-.5 -2.2l-.5 -1l-.5 3.3l-.5 -1.2l-.5 1.7l-.5 -.9l-.5 .8l-.5 -1.3l-.5 -.1l-.5 2.6l-.5 -.2l-.5 -.3l-.5 -2.3l-.5 -.2l-.5 -.2l-.5 2.4l-.5 .3l-.5 -3.7l-.5 3.1l-.5 -1.3l-.5 -.8l-.5 -1.7l-.5 -.1l-.5 -2.8l-.5 -.2l-.5 .6l-.5 -.1l-.5 .6l-.5 -1.3l-.5 -.1l-.5 -.4l-.5 1.1l-.5 1.2l-.5 -.4l-.5 -.9l-.5 1.1l-.5 .7l-.5 -.5l-.5 -.8l-.5 1.2l-.5 -.1l-.5 .4l-.5 -2l-.5 .2l-.5 .9l-.5 .8l-.5 .3l-.5 -.4l-.5 1.6l-.5 -1.7l-.5 .3l-.5 0l-.5 -.5l-.5 3.6l-.5 0l-.5 -.3l-.5 1l-.5 -.9l-.5 0l-.5 -.4l-.5 .5l-.5 .9l-.5 -1.1l-.5 -1.5l-.5 2.1l-.5 -.7l-.5 .4l-.5 1.2l-.5 1.4l-.5 -1.4l-.5 1.5l-.5 -1.4l-.5 -1.8l-.5 1.7l-.5 -1.6l-.5 .9l-.5 2.3l-.5 -.3l-.5 .5l-.5 -2.8l-.5 3.9l-.5 -1.9l-.5 -.3l-.5 1.1l-.5 -3.6l-.5 6.2l-.5 -1.9l-.5 -3.9l-.5 2.9l-.5 -2.9l-.5 1.2l-.5 2.1l-.5 .1l-.5 -3.9l-.5 -1.5l-.5 -1.5l-.5 -3.5l-.5 1l-.5 .1l-.5 -.4l-.5 1.1l-.5 -.4l-.5 .5l-.5 -1.1l-.5 2.1l-.5 -2.1l-.5 -.4l-.5 0l-.5 1.6l-.5 -2l-.5 .1l-.5 .1l-.5 1.1l-.5 -.8l-.5 .1l-.5 .5l-.5 .7l-.5 -1.6l-.5 .9l-.5 -.7l-.5 1.4l-.5 -1.8l-.5 .1l-.5 1.4l-.5 -1.7l-.5 1.6l-.5 .4l-.5 -.7l-.5 0l-.5 -.1l-.5 -1.1l-.5 2.3l-.5 -1l-.5 -.2l-.5 .8l-.5 -.4l-.5 .7l-.5 -.8l-.5 -.8l-.5 1l-.5 .6l-.5 1.7l-.5 1.7l-.5 .5l-.5 -2.4l-.5 .4l-.5 1l-.5 1l-.5 .2l-.5 .2l-.5 .7l-.5 1.9l-.5 -2.5l-.5 .2l-.5 1.2l-.5 .4l-.5 -1.3l-.5 1.5l-.5 -1.9l-.5 -.4l-.5 1.9l-.5 -.4l-.5 .9l-.5 .3l-.5 -1l-.5 0l-.5 .1l-.5 2.2l-.5 -2.3l-.5 1.5l-.5 2.1l-.5 .4l-.5 -1.5l-.5 1.4l-.5 -3.2l-.5 4.5l-.5 0l-.5 -1.1l-.5 .3l-.5 -1.6l-.5 -1.6l-.5 1l-.5 3.5l-.5 -3.2l-.5 .4l-.5 3.1l-.5 -2.9l-.5 2l-.5 .3l-.5 -.6l-.5 2.1l-.5 -3.7l-.5 .8l-.5 -2.5l-.5 1.6l-.5 2.7l-.5 -.1l-.5 -2.5l-.5 2.6l-.5 -2.5l-.5 3.7l-.5 -.1l-.5 .7l-.5 -4.7l-.5 5.3l-.5 -.6l-.5 -2l-.5 .6l-.5 1.3l-.5 -5.2l-.5 1.7l-.5 -1.1l-.5 2.2l-.5 -4.4l-.5 -3.1l-.5 -1.9l-.5 .5l-.5 -.2Z" fill="#0b0b0b" stroke="#0b0b0b" stroke-width="0.4"/>
<path d="M266.9 257.5V276.7M268.1 210V257.6M268.7 226.9V257.7M269.5 257.8V281.3M270 257.9V281.4M271.1 220.4V258M272.3 224.5V275.2M272.8 258.2V275.2M273.3 211.9V279M274 227.7V276.5M274.5 235.5V284.4M274.9 234.4V285.1M276 258.5V277.1M276.5 221.6V281.5M277.1 215.9V279.5M282.4 222.1V272.1M283.6 234.8V278M287 237V278.1M289 230.5V272.1M290.1 239.2V274.8M291.4 224.4V274M293.7 225V257.1M295 229.7V256.8M296 239.4V269.8M296.9 230.4V256.5M297.6 238.2V256.4M298.6 235.5V273.7M301.6 255.7V264.8M302.3 237.1V267.1M326.6 255.3V269.1M327 255.3V272.2M330.2 255.8V275.2M330.6 235.1V279M331.4 219.3V256M332.9 223.9V256.2M336.7 223.9V256.6M341 242.7V257M341.7 238.5V273.2M341.9 242.2V269.8M342.6 229.4V257M342.8 239.8V257.1M343.4 257.1V270.5M345 257.1V270.1M345.4 231.8V274M346.5 242.5V267.3M362.4 245.6V264.3M362.9 255.9V269.6M366 220.3V274.6M366.6 255.6V276.3M367.3 226.6V270.7M369.6 233.8V275.3M370.3 238.5V255.3M371.5 222.8V273.9M373.3 239.6V274.7M374.9 228V255.2M375.6 237.7V255.2M375.8 224.3V255.2M376.9 238.4V268.4M377.4 228.5V272.5M378.8 255.3V270.1M381.8 241V265.6M383.9 235.5V266.4M398.5 246.1V268.7M400.6 232.4V280.9M401 231.1V274.2M401.5 236.1V272.7M402.5 226.5V257.5M402.8 234.9V280.1M403.7 229.9V277.2M404.6 232V257.7M405.9 226.7V257.7M406.3 239.5V257.8M407.3 230.5V279.1M408.9 223.8V257.9M409.8 229.9V257.9M410.7 234.7V257.9M411 227V257.9M411.5 237.2V257.9M413.2 232.9V276.4M413.6 228.7V274M413.9 229.3V257.9M417 230.3V257.8M420 241.2V268.1M423.4 257.5V272.2M433.5 246.5V257M438.6 241.5V268.2M439.1 229.2V276.1M439.8 233.6V273.5M441.5 223.9V271.1M443.7 223.4V256.8M448.2 256.8V273.9M449 229.9V256.8M451.5 240.5V256.9M452.8 241.2V256.9M454.4 227.5V273.5M458.5 240.7V272.5M458.8 256.8V270M459.3 233.8V256.8M460.1 242.6V256.8M473.6 256.5V264.8M474.3 213.3V271.1M475.7 256.4V276.5M475.9 228.7V280.2M479.9 256.2V270M480.7 256.2V269M480.8 234.6V272M481.8 226.2V275.9M483.2 256.1V269.2M483.4 256.1V268.2M483.8 233.7V269.6M485.7 229.9V256.1M485.9 237.9V256.1M487.3 240.6V268.4M488.3 237.9V268.9M489.4 237.7V268.9M490.2 234.4V271.3M490.4 256V266M506.7 256.2V266.4M508.8 228.4V272.3M510.3 223.5V256.3M511 224.3V278.6M512.7 237.6V256.2M515.1 256.2V274.8M515.3 223.9V273.1M519.3 234.7V267.9M520.2 231V268.4M520.9 256V271.3M542.5 255.1V269.7M543.2 255.1V272.8M544.4 220V275M545.4 228.3V276.3M545.8 230.2V276.6M546.7 228.9V272.8M548.3 255.3V275.2M549.8 231.1V255.5M550.6 255.5V268.3M552.9 238V274.5M559 241.4V267.1M563 247.7V257M573.4 258V272M574 221.8V276.4M574.6 258V275.3M575.3 225.9V258.1M578.1 258.1V278.8M580.6 229V274.6M583.7 236.5V275.2M584 238.2V257.8M585.4 257.7V273.7M586.5 257.6V269M587.8 243.9V273.3M588.7 235.4V257.4M593.4 243.6V270.3M593.8 244.2V256.7M594.5 244.8V256.7M601 245.1V256M606.8 255.8V271.6M610 255.8V271.5M611.5 234.3V273.2M615.2 256.2V273.3M615.4 256.2V274.2M617.8 231.8V256.5M620 238.5V268.2M621 237.7V273M622.6 236.4V257.1M623.3 240.8V257.2M625.2 235.6V257.4M627.8 242.2V257.8M628.3 248V267.4M645.5 240.6V267.8M648.4 233V257.7M651.3 225.4V277M652.6 237.6V273.1M653.4 228.4V272.9M653.9 228.4V256.8M655.4 230.1V273.5M656.4 229.1V267.5M698.2 219V278.6M701.4 234.9V257.3M701.9 220.6V257.3M704.6 234.9V273M705.2 257.4V275.3M706.4 236.7V257.4M710.5 231.4V274.9M711.2 238.5V268.7M714.7 236.4V256.8M733.6 254.8V278.4M734.4 216.4V254.8M735.2 228.2V254.8M737.1 254.8V276.7M737.8 223.3V269.6M738.7 228.1V254.9M740.1 255V267.5M740.5 236.1V255M741.9 234.2V255.1M744.5 228.8V255.4M744.8 237.3V271.7M745.5 255.5V270.6M746.6 238.8V255.7M747.1 239.5V255.7M748.3 242.4V270.2M749 241.1V269.1M767.8 240.1V258.4M769.3 225.4V278.4M769.9 240.5V279.5M770.3 229.5V274.5M771.6 228.6V275.1M772.3 238.6V258.4M772.8 234.1V258.4M776.2 237.2V275.9M776.6 234.4V258.2M779.1 235.5V274.8M779.7 258V271.9M780.8 237.4V257.8M781.9 257.7V272.9M782.7 241.1V257.7M784.1 242V257.5M784.5 239.5V269.5M803.5 247.7V256.2M808.3 237.4V269.5M808.9 241.7V256.4M811.2 256.5V268.4M812.3 232.1V271.3M813.8 238.6V268.9M814.6 256.6V266.6M816.2 242.8V256.7M817.1 243V256.8M818.7 256.8V265.8M819.1 243.3V256.9M828.5 246.6V257.1M829.5 247V257.1M836 246.2V257M836.5 243.1V257M837.7 232.2V272.6M841.1 239.6V268M841.4 231.7V256.7M845.7 237.6V256.4M846.1 234V270.4M846.9 243.2V256.3M850.2 243.4V256.1M868 246V255.6M871.7 232.8V255.6M872.2 235.7V272.8M872.7 234.1V271M873 255.6V268.8M876 235V267.6M876.5 235.7V255.7M877 240.2V255.7M877.3 235.7V268.1M878.3 236.2V255.7M880.5 255.7V266M881.6 237.2V268.5M907.2 231.7V255.8M908 234.1V269M909.4 229.2V255.9M912.6 246.9V264.2M670.5 230.4V268.4M671.1 237.6V265.6M675 232.3V266.3M675.6 238.9V263.9" stroke="#0b0b0b" stroke-width="0.95" fill="none"/>
<path d="M265 317.1l.5 -5.7l.5 -.5l.5 -3.9l.5 -4.2l.5 2.2l.5 1.7l.5 3.8l.5 -4l.5 3.3l.5 -2.2l.5 .6l.5 -1.6l.5 3.9l.5 -3.5l.5 5l.5 -1l.5 -2.3l.5 5l.5 -4.9l.5 2.6l.5 -1l.5 -.3l.5 4.6l.5 1.4l.5 .3l.5 -2l.5 1.6l.5 -.9l.5 1.3l.5 -1.6l.5 1.3l.5 -1.5l.5 .8l.5 .8l.5 -.9l.5 .7l.5 -.3l.5 -.8l.5 .6l.5 -.8l.5 1.4l.5 -1.4l.5 .8l.5 -.7l.5 1l.5 -.8l.5 .3l.5 1l.5 -.6l.5 -1.8l.5 2.3l.5 -.1l.5 -1.2l.5 .4l.5 .3l.5 -.8l.5 .9l.5 -.2l.5 0l.5 -.6l.5 -4.2l.5 -3.8l.5 .1l.5 -2.1l.5 4.9l.5 -4.7l.5 -2.6l.5 7.1l.5 -7.4l.5 6.2l.5 -5.7l.5 2.7l.5 .6l.5 -.1l.5 -1l.5 5.4l.5 -3.2l.5 .2l.5 1.9l.5 -3.3l.5 4.8l.5 -3.7l.5 3.7l.5 -.6l.5 -.8l.5 -.4l.5 2l.5 -1.7l.5 2.5l.5 -3.9l.5 4.1l.5 2.7l.5 -.2l.5 -.1l.5 -.3l.5 .7l.5 -1.2l.5 .9l.5 .4l.5 1l.5 -1.5l.5 .6l.5 .1l.5 -.8l.5 .7l.5 0l.5 -.6l.5 .7l.5 -1.8l.5 .8l.5 .3l.5 -.4l.5 .9l.5 -.9l.5 .9l.5 .3l.5 -.8l.5 -.1l.5 -.4l.5 1.6l.5 -1l.5 -.2l.5 1.1l.5 .4l.5 -4.1l.5 -2.7l.5 -7.1l.5 -.8l.5 1.7l.5 -.6l.5 .9l.5 -.4l.5 -2.1l.5 3.8l.5 .7l.5 .9l.5 3.3l.5 -4l.5 -1.3l.5 -1.1l.5 2.6l.5 0l.5 -.7l.5 1.1l.5 4.3l.5 -5.5l.5 -.1l.5 5.5l.5 -1.6l.5 -.5l.5 4.2l.5 -6.8l.5 .9l.5 4l.5 .2l.5 -1.6l.5 1.2l.5 2.3l.5 -1.3l.5 -1.6l.5 1.4l.5 .2l.5 -3l.5 3.6l.5 3.3l.5 1.1l.5 .3l.5 0l.5 -.4l.5 1.3l.5 .3l.5 -1.3l.5 -.4l.5 .2l.5 .5l.5 .7l.5 -.1l.5 .6l.5 -.1l.5 -1.9l.5 1l.5 -.4l.5 .7l.5 -.7l.5 -.6l.5 1.6l.5 -.5l.5 -.1l.5 -1.2l.5 1l.5 .9l.5 -1.8l.5 1.8l.5 .2l.5 -2l.5 -7.9l.5 -2.2l.5 -2l.5 5.7l.5 -2.6l.5 -2.7l.5 7.3l.5 -4.6l.5 -.9l.5 6.3l.5 -1.5l.5 -5.1l.5 .2l.5 4.2l.5 -.8l.5 -2l.5 3.3l.5 1l.5 -2.8l.5 4.3l.5 -3.6l.5 4l.5 -1.3l.5 -.1l.5 1.9l.5 -5.4l.5 2.6l.5 -1.3l.5 1.3l.5 1l.5 .5l.5 -1.4l.5 .5l.5 .7l.5 -.9l.5 5.2l.5 1.1l.5 -1l.5 .4l.5 1.1l.5 -2.1l.5 2l.5 -.9l.5 .1l.5 -.8l.5 1.5l.5 -1.2l.5 .4l.5 -.3l.5 -.2l.5 .7l.5 -.3l.5 -.7l.5 .5l.5 .2l.5 .7l.5 -1.1l.5 1.1l.5 -1.8l.5 1.2l.5 .6l.5 -.1l.5 -.7l.5 .1l.5 -.2l.5 -.2l.5 .6l.5 0l.5 -.4l.5 -.2l.5 -.8l.5 -4l.5 -.5l.5 -5.9l.5 1.5l.5 0l.5 -4.1l.5 1.5l.5 0l.5 3.8l.5 -3.6l.5 2.3l.5 1.7l.5 .1l.5 -4.1l.5 5.6l.5 -3.8l.5 -1.4l.5 .4l.5 4.2l.5 -4.7l.5 .7l.5 -.3l.5 .7l.5 2.5l.5 -1.9l.5 .7l.5 3.5l.5 -3.9l.5 2l.5 1.4l.5 .6l.5 -1.9l.5 0l.5 -.1l.5 -1.5l.5 4.6l.5 -1.7l.5 -.5l.5 2.1l.5 -3l.5 -1.1l.5 .5l.5 2.5l.5 -1.5l.5 .2l.5 -1l.5 4.2l.5 -4.6l.5 3.2l.5 1l.5 -1.5l.5 2.6l.5 -.4l.5 1l.5 1.7l.5 -.3l.5 -.8l.5 .7l.5 -.4l.5 0l.5 .4l.5 -.9l.5 .9l.5 .4l.5 -.9l.5 -1l.5 .3l.5 .5l.5 -.2l.5 -.5l.5 .6l.5 .4l.5 .4l.5 .4l.5 -1.1l.5 -1.2l.5 .3l.5 1.3l.5 -.3l.5 -.7l.5 -3.2l.5 -.3l.5 -6.3l.5 3.8l.5 -3.9l.5 2.3l.5 -2.1l.5 -2.4l.5 1.7l.5 2.2l.5 -4.5l.5 .2l.5 6.9l.5 -4.6l.5 1.2l.5 2l.5 -3l.5 -1.2l.5 4.4l.5 -1.9l.5 2.2l.5 .7l.5 -1.4l.5 1.8l.5 1.7l.5 -5l.5 -.7l.5 5.3l.5 -2.1l.5 -2.2l.5 4.6l.5 -5.4l.5 2.7l.5 3.7l.5 -3.9l.5 1l.5 3.2l.5 -2.1l.5 1.3l.5 -2.1l.5 -.4l.5 1.7l.5 -1.4l.5 1.4l.5 3.6l.5 1.4l.5 .4l.5 -.1l.5 -.4l.5 1l.5 -.1l.5 .2l.5 .3l.5 .1l.5 -.3l.5 .3l.5 -.3l.5 -.8l.5 .3l.5 .7l.5 -1l.5 .5l.5 -1.4l.5 2.7l.5 -1.7l.5 1.5l.5 -1.9l.5 1.3l.5 -1.1l.5 1l.5 -2.7l.5 -4.2l.5 -.2l.5 -4.1l.5 -.2l.5 3.9l.5 .5l.5 -3.3l.5 -.3l.5 1.5l.5 -3.1l.5 1.7l.5 .1l.5 2.6l.5 2.5l.5 -2.7l.5 .7l.5 1.7l.5 -.6l.5 1.4l.5 -.9l.5 -1.2l.5 -1.9l.5 2.8l.5 -2.1l.5 5.1l.5 -2l.5 -2.7l.5 1.9l.5 2.1l.5 .4l.5 .3l.5 .3l.5 -2.8l.5 2.9l.5 -1l.5 1.8l.5 2.6l.5 -.4l.5 .1l.5 .4l.5 .2l.5 .8l.5 -.7l.5 -.4l.5 -1.1l.5 2.1l.5 -1.6l.5 -.2l.5 .7l.5 -.5l.5 -.6l.5 -.2l.5 1.6l.5 -.5l.5 .3l.5 -1.3l.5 1.7l.5 -.4l.5 -.5l.5 1l.5 -.6l.5 -.7l.5 1.2l.5 -.2l.5 .3l.5 -5.2l.5 -.2l.5 -5.3l.5 .2l.5 .3l.5 .7l.5 -4.5l.5 1l.5 2l.5 2.4l.5 -1.6l.5 -.6l.5 3.2l.5 -1.1l.5 -1.8l.5 1.8l.5 -.7l.5 1.6l.5 -2.2l.5 1.7l.5 2.2l.5 1.8l.5 -4.2l.5 2.2l.5 1.2l.5 -2.5l.5 -.5l.5 -.3l.5 .8l.5 2.9l.5 .1l.5 .4l.5 1.4l.5 1l.5 0l.5 1.2l.5 -1l.5 .5l.5 -1.2l.5 1.5l.5 -1.1l.5 .2l.5 .3l.5 .4l.5 -.2l.5 -.1l.5 .1l.5 .6l.5 .1l.5 -.6l.5 -.3l.5 .1l.5 -.9l.5 1.1l.5 -1.4l.5 1.8l.5 -1.9l.5 2.9l.5 -.2l.5 -1.9l.5 1.3l.5 -.9l.5 0l.5 .7l.5 .3l.5 -1.3l.5 0l.5 .3l.5 -.2l.5 .8l.5 -4.9l.5 -.4l.5 -2l.5 -4.9l.5 4.2l.5 -1.7l.5 1.3l.5 1.7l.5 -1l.5 -3.4l.5 5.3l.5 -4.3l.5 -.9l.5 -.6l.5 6.4l.5 -5.9l.5 2.2l.5 -1.9l.5 .9l.5 1.9l.5 -1l.5 4.7l.5 .1l.5 -1.8l.5 .1l.5 -2.1l.5 2l.5 -.5l.5 -.4l.5 .4l.5 2l.5 -1.1l.5 -.3l.5 .6l.5 -.3l.5 1l.5 1.5l.5 -3l.5 5.2l.5 .2l.5 .6l.5 -1.6l.5 1.1l.5 0l.5 .4l.5 .5l.5 -2l.5 .3l.5 .3l.5 0l.5 -.6l.5 .9l.5 -.4l.5 -.7l.5 2.1l.5 -1.4l.5 .9l.5 -.3l.5 1.6l.5 -.6l.5 -1.7l.5 1l.5 -2.9l.5 -4.4l.5 -1.3l.5 -.1l.5 .3l.5 -1.5l.5 -3.3l.5 6.9l.5 -.2l.5 -5.4l.5 5.5l.5 -2.5l.5 -1.3l.5 4.2l.5 -2.7l.5 -.4l.5 -.9l.5 -1.6l.5 1.7l.5 -.1l.5 3.9l.5 .6l.5 -1.7l.5 .2l.5 -.4l.5 -1.1l.5 .9l.5 3.8l.5 -4.7l.5 0l.5 1.2l.5 .4l.5 .6l.5 1.6l.5 -1.2l.5 1.3l.5 -1.2l.5 .9l.5 .9l.5 -1.6l.5 2.3l.5 -.1l.5 .7l.5 -2.4l.5 2.9l.5 2.5l.5 -1.9l.5 1.3l.5 .3l.5 -.6l.5 1.1l.5 -1.7l.5 1.3l.5 .4l.5 -1.2l.5 1.2l.5 -.9l.5 .5l.5 .3l.5 -.6l.5 1.7l.5 -2.3l.5 1.1l.5 -1.1l.5 -.6l.5 1.1l.5 -3.4l.5 -5.5l.5 2.6l.5 -4.7l.5 3.2l.5 .2l.5 -2.2l.5 3.8l.5 -5.6l.5 -.4l.5 .5l.5 3.3l.5 1.3l.5 -3.1l.5 2.1l.5 .2l.5 -1l.5 1.9l.5 1l.5 -3.6l.5 3.2l.5 -1.3l.5 1.8l.5 -3.8l.5 .2l.5 3.4l.5 -.6l.5 2.6l.5 -4.5l.5 .7l.5 -1l.5 4.1l.5 -2.5l.5 3.3l.5 -3.6l.5 1.1l.5 .9l.5 1.4l.5 .8l.5 -1.5l.5 -1.3l.5 .2l.5 -.6l.5 .4l.5 .7l.5 -.8l.5 3.6l.5 1.2l.5 1l.5 -.7l.5 .6l.5 -1l.5 1.6l.5 -.2l.5 -.4l.5 .7l.5 -1.9l.5 -.2l.5 1.2l.5 -.1l.5 1.1l.5 -1.5l.5 1.5l.5 -.9l.5 -.4l.5 .9l.5 -1.4l.5 1.5l.5 -.6l.5 .4l.5 -.7l.5 -.2l.5 1.3l.5 -.3l.5 -.9l.5 -.8l.5 2.7l.5 -1.8l.5 .1l.5 -1.5l.5 -1.4l.5 -5.9l.5 -.6l.5 1.1l.5 2.8l.5 -2.8l.5 -3.6l.5 4.2l.5 3.2l.5 -4.5l.5 -2.2l.5 2.5l.5 -1.6l.5 .6l.5 3.2l.5 .8l.5 -1.2l.5 1.3l.5 -1.5l.5 -.3l.5 4.1l.5 -2.1l.5 1.8l.5 -.9l.5 2l.5 -3.6l.5 .7l.5 .8l.5 1.8l.5 -1.9l.5 3.5l.5 3.5l.5 -3.1l.5 1l.5 .8l.5 0l.5 -.7l.5 .6l.5 -1.6l.5 1.5l.5 -.1l.5 .8l.5 -.5l.5 -1.1l.5 1.4l.5 -1.6l.5 .6l.5 .4l.5 -.7l.5 2l.5 .4l.5 -2l.5 -.6l.5 1.1l.5 .2l.5 .9l.5 -1.4l.5 .7l.5 -.8l.5 .1l.5 1.4l.5 -1.2l.5 .1l.5 .1l.5 -.6l.5 1.5l.5 -1l.5 .6l.5 -.1l.5 -.9l.5 .3l.5 0l.5 .6l.5 -1.6l.5 2.3l.5 -.8l.5 -.6l.5 .8l.5 -.3l.5 -.1l.5 .6l.5 .7l.5 -2.1l.5 1.1l.5 0l.5 -1.6l.5 2.8l.5 -1.2l.5 .8l.5 -1.4l.5 1l.5 -2l.5 1.9l.5 -.2l.5 -.1l.5 .5l.5 .3l.5 -.5l.5 .2l.5 .6l.5 -1.2l.5 .4l.5 -3.1l.5 -4.9l.5 .9l.5 -3.8l.5 -3.2l.5 4.6l.5 .2l.5 -3.1l.5 3.5l.5 2.5l.5 -4.1l.5 -.2l.5 1.7l.5 -1.2l.5 4.7l.5 -4.6l.5 2.2l.5 2l.5 .3l.5 -4l.5 .3l.5 4.5l.5 -1.4l.5 -2.2l.5 -.1l.5 -.1l.5 2.2l.5 2.7l.5 -3.6l.5 1.5l.5 .7l.5 .1l.5 .5l.5 -1.7l.5 3.1l.5 -.8l.5 .2l.5 1.2l.5 .4l.5 2.3l.5 -.5l.5 -.7l.5 -.1l.5 .9l.5 -1.2l.5 1.6l.5 -.2l.5 -.8l.5 1.3l.5 -.9l.5 0l.5 .1l.5 -.6l.5 -.4l.5 .3l.5 .7l.5 .8l.5 -.8l.5 -1l.5 .2l.5 .3l.5 .2l.5 .7l.5 -1.6l.5 1.3l.5 .1l.5 .9l.5 -2.4l.5 .8l.5 1l.5 -1.8l.5 0l.5 -.6l.5 -3.8l.5 -3.2l.5 -2.3l.5 -3.2l.5 3.1l.5 -2.4l.5 7.2l.5 -.7l.5 -1.6l.5 -.4l.5 -1.2l.5 4.3l.5 -5.3l.5 1.1l.5 4.5l.5 -3l.5 3.7l.5 -4.7l.5 5.1l.5 -1.7l.5 -1.1l.5 2.2l.5 -3.5l.5 1.4l.5 -.8l.5 .2l.5 1.5l.5 -.9l.5 -.4l.5 3.4l.5 -3.3l.5 2.2l.5 -.3l.5 .3l.5 1.6l.5 0l.5 2.8l.5 -.3l.5 1l.5 -.9l.5 -1.2l.5 .6l.5 -.1l.5 .7l.5 -.1l.5 -.4l.5 -.6l.5 .9l.5 -.8l.5 .9l.5 -.3l.5 -1l.5 1.2l.5 -1l.5 1.7l.5 -.2l.5 .1l.5 -.2l.5 -2.5l.5 .9l.5 .5l.5 .3l.5 -1.1l.5 1.6l.5 .5l.5 -.3l.5 -.4l.5 .1l.5 .2l.5 -3.8l.5 -1.6l.5 .2l.5 .7l.5 -5.1l.5 3.5l.5 -1.4l.5 2.6l.5 -3.2l.5 -.4l.5 .8l.5 -.9l.5 .3l.5 4.4l.5 -4.3l.5 2.4l.5 2.9l.5 -4.8l.5 1.8l.5 -.6l.5 2.7l.5 -2.1l.5 1.3l.5 -1.7l.5 3.1l.5 -3l.5 3.2l.5 -2.1l.5 .3l.5 1.6l.5 -.8l.5 -1l.5 1.4l.5 -.2l.5 -1l.5 .3l.5 3.7l.5 .7l.5 .1l.5 -.5l.5 1.2l.5 -.5l.5 .6l.5 -.4l.5 -.5l.5 .7l.5 .1l.5 -.4l.5 -.5l.5 .8l.5 .3l.5 -2l.5 1.6l.5 -.3l.5 .4l.5 -.1l.5 -.5l.5 -.2l.5 .8l.5 0l.5 -2.2l.5 1.1l.5 1.6l.5 -.5l.5 -.4l.5 .4l.5 -.1l.5 .4l.5 -.4l.5 .2l.5 -.8l.5 .6l.5 .3l.5 .6l.5 -.3l.5 .3l.5 -1.8l.5 -4l.5 -3.4l.5 2.4l.5 -.6l.5 -1.3l.5 -.1l.5 3l.5 -.3l.5 -1.3l.5 2.8l.5 -3.3l.5 1.3l.5 2.8l.5 -1.3l.5 1.6l.5 -3.7l.5 1.3l.5 .7l.5 1.2l.5 -.7l.5 -.5l.5 -.5l.5 -.1l.5 3.9l.5 -1.4l.5 0l.5 1.1l.5 -1.2l.5 .2l.5 -.8l.5 1.1l.5 1.2l.5 1.2l.5 -.7l.5 .7l.5 .5l.5 -.9l.5 0l.5 .8l.5 -.8l.5 .8l.5 -1.1l.5 .9l.5 -.7l.5 -.3l.5 .5l.5 -.2l.5 -.1l.5 .1l.5 .3l.5 -.1l.5 .3l.5 -1.4l.5 1.2l.5 -.3l.5 .7l.5 -1.6l.5 1l.5 -.3l.5 .4l.5 1.1l.5 -2.3l.5 -2.8l.5 -2.3l.5 2.5l.5 -.8l.5 -1.2l.5 -1.9l.5 3.6l.5 -.2l.5 -.2l.5 -2.7l.5 .4l.5 2l.5 1.7l.5 -3.2l.5 -.5l.5 -.3l.5 2l.5 1.6l.5 -.7l.5 -1l.5 .3l.5 .8l.5 0l.5 1.4l.5 1.1l.5 -2.1l.5 .9l.5 -.2l.5 2.4l.5 -.3l.5 -.8l.5 -.3l.5 1.9l.5 -1l.5 -.6l.5 .3l.5 -.8l.5 2.5l.5 -1.8l.5 .4l.5 .3l.5 0l.5 .2l.5 -.2l.5 -.1l.5 -.4l.5 -.3l.5 .1l.5 .5l.5 -.9l.5 1.3l.5 -1.1l.5 -.3l.5 .1l.5 .6l.5 -.3l.5 0l.5 .2l.5 .6l.5 -.7l.5 .1l.5 0l.5 -.3l.5 .3l.5 -1.4l.5 1.7l.5 -2.3l.5 .9l.5 -3.1l.5 -3l.5 1.4l.5 2.7l.5 -1.9l.5 .3l.5 1.3l.5 -4.2l.5 2.4l.5 -.3l.5 .4l.5 -1.1l.5 2.3l.5 .1l.5 -1.4l.5 .4l.5 1.3l.5 -.1l.5 -.9l.5 .4l.5 1.5l.5 -.6l.5 .3l.5 1.6l.5 1.5l.5 -.7l.5 .9l.5 .4l.5 -1.4l.5 .1l.5 .9l.5 0l.5 -.5l.5 -.9l.5 .6l.5 .9l.5 -.2l.5 .4l.5 -.6l.5 .5l.5 -1.2l.5 .9l.5 -1.3l.5 1l.5 -.1l.5 .3l.5 .1l.5 -1.8l.5 1.5l.5 .4l.5 -.3l.5 -.3l.5 1.1l.5 -2.1l.5 2.1l.5 -.6l.5 -.9l.5 1l.5 .6l.5 -1.1l.5 -.6l.5 1.1l.5 -.4l.5 -.4l.5 -.9l.5 1.7l.5 -.5l.5 -.1l.5 .6l.5 -.1l.5 .3l.5 -2.7l.5 -3.5l.5 2l.5 -2.4l.5 -.5l.5 1.9l.5 2.7l.5 .5l.5 -1.5l.5 -.6l.5 .1l.5 2l.5 .1L912.5 331.5l-.5 -.7l-.5 .8l-.5 1.2l-.5 .6l-.5 -.2l-.5 -1.6l-.5 2.1l-.5 -.9l-.5 .6l-.5 1.3l-.5 -2.1l-.5 -1.2l-.5 -2l-.5 1l-.5 -.4l-.5 -.3l-.5 0l-.5 .4l-.5 1.1l-.5 -.3l-.5 -1.1l-.5 -.2l-.5 1l-.5 -.7l-.5 -.9l-.5 1.1l-.5 -.4l-.5 -.5l-.5 -.5l-.5 1.5l-.5 -1.1l-.5 1.5l-.5 -1.4l-.5 -.3l-.5 0l-.5 1.3l-.5 -.3l-.5 -.9l-.5 1l-.5 -1.2l-.5 1.5l-.5 -1.5l-.5 1.8l-.5 -.9l-.5 -.5l-.5 -.8l-.5 0l-.5 0l-.5 .3l-.5 .8l-.5 -.6l-.5 -.4l-.5 -.7l-.5 1l-.5 .4l-.5 -1l-.5 .1l-.5 .9l-.5 -.7l-.5 1.5l-.5 1.1l-.5 -.5l-.5 -.8l-.5 1.1l-.5 .3l-.5 -.3l-.5 .1l-.5 1.2l-.5 .5l-.5 -1.3l-.5 .2l-.5 .8l-.5 -1.4l-.5 1.4l-.5 -1.1l-.5 2.7l-.5 -1.2l-.5 -.5l-.5 1.1l-.5 -2.5l-.5 1.4l-.5 .5l-.5 -.8l-.5 -2.3l-.5 .4l-.5 -1.4l-.5 1.1l-.5 .1l-.5 -.8l-.5 -.2l-.5 -.2l-.5 .5l-.5 -.6l-.5 .9l-.5 -.5l-.5 .1l-.5 0l-.5 .4l-.5 1.2l-.5 -1.7l-.5 -.6l-.5 1.3l-.5 -1l-.5 1.1l-.5 -.2l-.5 -1.1l-.5 .2l-.5 .2l-.5 -.5l-.5 -.3l-.5 .7l-.5 1.4l-.5 -.6l-.5 -2.1l-.5 2.3l-.5 -.1l-.5 .7l-.5 -1l-.5 -.6l-.5 1.6l-.5 .2l-.5 -1l-.5 -.8l-.5 2.3l-.5 -.6l-.5 .7l-.5 -.1l-.5 -.1l-.5 1.2l-.5 .7l-.5 0l-.5 .1l-.5 -1.3l-.5 .1l-.5 -.5l-.5 2.4l-.5 1.1l-.5 -2l-.5 .6l-.5 0l-.5 -.5l-.5 .1l-.5 1l-.5 -.4l-.5 1.6l-.5 -1.3l-.5 .6l-.5 1.5l-.5 -1.8l-.5 .7l-.5 -2.9l-.5 -1.7l-.5 -.9l-.5 .5l-.5 .2l-.5 -.4l-.5 1.9l-.5 -2.2l-.5 .9l-.5 -.2l-.5 1.6l-.5 -1.2l-.5 -.9l-.5 -.1l-.5 .3l-.5 -.2l-.5 .7l-.5 .2l-.5 0l-.5 .6l-.5 -1.5l-.5 1.4l-.5 -1.2l-.5 .3l-.5 -.5l-.5 .9l-.5 .1l-.5 -1l-.5 1.2l-.5 -.1l-.5 -.6l-.5 1.3l-.5 .5l-.5 1.2l-.5 -2.4l-.5 1.8l-.5 .3l-.5 .9l-.5 -.1l-.5 -.6l-.5 -1.1l-.5 2.6l-.5 -2.4l-.5 .3l-.5 1.4l-.5 -1.7l-.5 -.7l-.5 3.3l-.5 -1.5l-.5 -.5l-.5 1.6l-.5 1.4l-.5 -2.3l-.5 -1.3l-.5 1.7l-.5 -.2l-.5 1.5l-.5 .1l-.5 -1.1l-.5 .6l-.5 2l-.5 -2.3l-.5 -.8l-.5 -2.5l-.5 -1.8l-.5 -.1l-.5 -.3l-.5 .3l-.5 .7l-.5 .2l-.5 -.5l-.5 -.4l-.5 .3l-.5 -.1l-.5 -.1l-.5 .3l-.5 -.4l-.5 -.1l-.5 .1l-.5 1.6l-.5 -1.6l-.5 -.3l-.5 -.1l-.5 1.1l-.5 -.7l-.5 -.5l-.5 .3l-.5 0l-.5 1.2l-.5 -2l-.5 .9l-.5 -.2l-.5 .1l-.5 -.6l-.5 .4l-.5 .4l-.5 -1l-.5 .3l-.5 -.7l-.5 .3l-.5 1.5l-.5 -.4l-.5 -.6l-.5 .7l-.5 3.4l-.5 -.6l-.5 -2.3l-.5 .7l-.5 1l-.5 .7l-.5 -1.6l-.5 -1l-.5 .6l-.5 1.1l-.5 -.4l-.5 -.7l-.5 1.7l-.5 .3l-.5 -.5l-.5 -.5l-.5 1.9l-.5 -2.1l-.5 .4l-.5 .5l-.5 2.3l-.5 -1.4l-.5 -2l-.5 1.6l-.5 -.9l-.5 2.5l-.5 -2.8l-.5 1.8l-.5 -.8l-.5 2l-.5 0l-.5 .9l-.5 -1.4l-.5 1l-.5 -3.8l-.5 -.6l-.5 -2.8l-.5 -.8l-.5 1.3l-.5 -.8l-.5 .1l-.5 -.3l-.5 1.5l-.5 -.9l-.5 .5l-.5 .8l-.5 -.3l-.5 -1l-.5 -1.1l-.5 1.4l-.5 -.8l-.5 .9l-.5 -.7l-.5 2l-.5 -1l-.5 -.5l-.5 .3l-.5 0l-.5 .6l-.5 .1l-.5 -.9l-.5 .1l-.5 -.2l-.5 .6l-.5 .8l-.5 -1.9l-.5 -.1l-.5 .9l-.5 .2l-.5 1l-.5 2.2l-.5 .2l-.5 .4l-.5 -1.9l-.5 2.4l-.5 -.2l-.5 .3l-.5 -1.8l-.5 2.7l-.5 -1.1l-.5 -1.4l-.5 1.1l-.5 .7l-.5 -.9l-.5 .2l-.5 .8l-.5 -1.5l-.5 3.2l-.5 .4l-.5 -1l-.5 -1.1l-.5 .5l-.5 -.6l-.5 2.1l-.5 .5l-.5 .5l-.5 1.9l-.5 -4.7l-.5 3.4l-.5 -1l-.5 .9l-.5 -1.8l-.5 3.4l-.5 -1.8l-.5 -1l-.5 -5.2l-.5 -1.2l-.5 .4l-.5 -1.2l-.5 .9l-.5 .9l-.5 -2.3l-.5 .6l-.5 .1l-.5 1.3l-.5 -1l-.5 .4l-.5 .5l-.5 .1l-.5 .4l-.5 -.9l-.5 -1.5l-.5 2.1l-.5 .1l-.5 -.7l-.5 0l-.5 1.2l-.5 -.6l-.5 -.4l-.5 -.6l-.5 .7l-.5 -.6l-.5 1l-.5 .7l-.5 -1.4l-.5 .8l-.5 -.5l-.5 .3l-.5 -.5l-.5 2.1l-.5 .7l-.5 1.2l-.5 -.7l-.5 1.4l-.5 -.8l-.5 .8l-.5 -1l-.5 -.2l-.5 2.1l-.5 -2.1l-.5 -.1l-.5 -1l-.5 3.9l-.5 -.3l-.5 -1.5l-.5 3.2l-.5 -1.8l-.5 -.9l-.5 .7l-.5 .7l-.5 1.3l-.5 -3.9l-.5 4.1l-.5 -.5l-.5 -.9l-.5 -2.3l-.5 2.6l-.5 -.6l-.5 1.1l-.5 1.1l-.5 -3.1l-.5 3.5l-.5 -4.1l-.5 2.8l-.5 1.4l-.5 -2.9l-.5 -1.4l-.5 -2.7l-.5 -1.7l-.5 -.1l-.5 -.1l-.5 .1l-.5 .2l-.5 -.7l-.5 .1l-.5 1.2l-.5 -.8l-.5 .2l-.5 1.1l-.5 -1.8l-.5 1.3l-.5 -1.7l-.5 .1l-.5 -.1l-.5 1.9l-.5 -1.4l-.5 .2l-.5 .7l-.5 -.5l-.5 -.3l-.5 1.3l-.5 -2l-.5 .3l-.5 1.3l-.5 -.5l-.5 -1.2l-.5 1.7l-.5 -1l-.5 .3l-.5 .4l-.5 -.3l-.5 -.3l-.5 -.5l-.5 .5l-.5 -1.1l-.5 .7l-.5 .3l-.5 .2l-.5 .5l-.5 -1.8l-.5 .9l-.5 .4l-.5 -.5l-.5 .4l-.5 -1.2l-.5 .4l-.5 .2l-.5 .3l-.5 .4l-.5 -1.9l-.5 0l-.5 1.6l-.5 -.8l-.5 1.4l-.5 -.3l-.5 -1l-.5 .5l-.5 -.1l-.5 -.7l-.5 -.4l-.5 .7l-.5 .8l-.5 -.4l-.5 .3l-.5 -.8l-.5 -.1l-.5 .3l-.5 1l-.5 -2.6l-.5 3.1l-.5 2.2l-.5 -2.1l-.5 1.5l-.5 .2l-.5 1l-.5 -1.6l-.5 .4l-.5 -.4l-.5 1.5l-.5 .2l-.5 0l-.5 1.7l-.5 -1.3l-.5 -.9l-.5 3l-.5 -2.2l-.5 -1.2l-.5 .5l-.5 4l-.5 -.3l-.5 -4.1l-.5 1.8l-.5 3.5l-.5 -3.5l-.5 -1l-.5 1.5l-.5 2.1l-.5 -2.3l-.5 -.3l-.5 -2.6l-.5 -2.2l-.5 -.5l-.5 -.3l-.5 -1l-.5 2l-.5 -1.2l-.5 -.1l-.5 -1.4l-.5 2.4l-.5 -.8l-.5 -.6l-.5 .6l-.5 -.3l-.5 .7l-.5 .1l-.5 .5l-.5 -.2l-.5 -1l-.5 .7l-.5 -1.5l-.5 1.8l-.5 -.5l-.5 .7l-.5 -.8l-.5 -.7l-.5 .1l-.5 .7l-.5 -.9l-.5 2.2l-.5 -1.3l-.5 .4l-.5 .1l-.5 -.9l-.5 2.6l-.5 .3l-.5 -.2l-.5 1.4l-.5 -.8l-.5 .2l-.5 1.7l-.5 -1.7l-.5 .1l-.5 -.1l-.5 2.1l-.5 .3l-.5 0l-.5 -1.2l-.5 .6l-.5 .9l-.5 -.5l-.5 .8l-.5 -2l-.5 1.1l-.5 -.3l-.5 1.7l-.5 -.8l-.5 -1.4l-.5 1.5l-.5 1.3l-.5 -3.3l-.5 4l-.5 -1.5l-.5 -1.5l-.5 2.3l-.5 -2.6l-.5 1.3l-.5 0l-.5 2.2l-.5 -1.6l-.5 -.8l-.5 1l-.5 2.7l-.5 -3.3l-.5 -.5l-.5 2.7l-.5 -.3l-.5 -2l-.5 3.2l-.5 -4.4l-.5 -.7l-.5 -3.3l-.5 1.2l-.5 -.3l-.5 -1.4l-.5 .4l-.5 -1.7l-.5 1.7l-.5 -.4l-.5 -.2l-.5 .6l-.5 -.4l-.5 1l-.5 -1.1l-.5 .2l-.5 1.3l-.5 -1.6l-.5 1.2l-.5 -.6l-.5 .1l-.5 2.2l-.5 -2.6l-.5 2.5l-.5 1.6l-.5 -1.5l-.5 1.7l-.5 .1l-.5 .2l-.5 .2l-.5 -.5l-.5 2.5l-.5 -2.2l-.5 -.8l-.5 .6l-.5 .9l-.5 .7l-.5 -.9l-.5 -1l-.5 1.6l-.5 -2.2l-.5 2l-.5 .7l-.5 -2.3l-.5 3.3l-.5 -2.8l-.5 .6l-.5 -.3l-.5 -.2l-.5 1.8l-.5 2.6l-.5 -3.5l-.5 2.1l-.5 .8l-.5 0l-.5 -3.9l-.5 .7l-.5 1.2l-.5 2l-.5 -.3l-.5 -2.9l-.5 1.6l-.5 -2.4l-.5 4.2l-.5 -.4l-.5 -2.4l-.5 -2.5l-.5 -.6l-.5 -3.2l-.5 1.2l-.5 -1.5l-.5 -.9l-.5 1.7l-.5 0l-.5 .1l-.5 -1l-.5 2.3l-.5 -.7l-.5 -.1l-.5 .2l-.5 .1l-.5 -.4l-.5 .1l-.5 1l-.5 -2.8l-.5 .4l-.5 -.2l-.5 1l-.5 -.2l-.5 .2l-.5 0l-.5 -.6l-.5 4.4l-.5 -.7l-.5 1l-.5 -.3l-.5 -2.2l-.5 1.3l-.5 1.6l-.5 -.7l-.5 -.5l-.5 2.3l-.5 -1.2l-.5 .9l-.5 -1.4l-.5 2.3l-.5 -.6l-.5 -1.9l-.5 -.5l-.5 1.6l-.5 .4l-.5 1.3l-.5 -1.8l-.5 .6l-.5 1.6l-.5 -1.7l-.5 2.3l-.5 .6l-.5 -1l-.5 .7l-.5 -3.8l-.5 1.7l-.5 .8l-.5 -1.3l-.5 0l-.5 4.7l-.5 -.6l-.5 -2.8l-.5 -4.7l-.5 1.7l-.5 -4.1l-.5 .2l-.5 .9l-.5 .5l-.5 -1.2l-.5 -1l-.5 .9l-.5 -.2l-.5 .7l-.5 -.2l-.5 .1l-.5 -1.3l-.5 .6l-.5 2.4l-.5 -2.9l-.5 2.2l-.5 0l-.5 -.7l-.5 -.7l-.5 .5l-.5 -.3l-.5 -.4l-.5 0l-.5 1.3l-.5 -.5l-.5 -.1l-.5 -.3l-.5 .3l-.5 .4l-.5 .9l-.5 -1.3l-.5 .6l-.5 -.5l-.5 .6l-.5 -1.5l-.5 1.3l-.5 .9l-.5 .1l-.5 2.2l-.5 1l-.5 1.1l-.5 -.5l-.5 .5l-.5 -1.3l-.5 -1.2l-.5 .9l-.5 .8l-.5 .2l-.5 .3l-.5 .8l-.5 1.8l-.5 -2.9l-.5 1.5l-.5 -2.6l-.5 1.9l-.5 -.2l-.5 .5l-.5 -1.2l-.5 .4l-.5 0l-.5 2.2l-.5 2.6l-.5 -.2l-.5 -3.9l-.5 .5l-.5 -.6l-.5 1.8l-.5 -1.6l-.5 -1.6l-.5 -1.3l-.5 -3.7l-.5 1.2l-.5 -.8l-.5 1l-.5 -.2l-.5 -1.2l-.5 1.9l-.5 -.5l-.5 -1.1l-.5 1.7l-.5 -.6l-.5 -.6l-.5 0l-.5 .8l-.5 .3l-.5 -.6l-.5 -.5l-.5 .8l-.5 .4l-.5 -1.5l-.5 1.5l-.5 -1.7l-.5 .3l-.5 -.7l-.5 1l-.5 -.1l-.5 -.1l-.5 .5l-.5 -.7l-.5 2.5l-.5 2.3l-.5 -3.3l-.5 2.4l-.5 -.8l-.5 1.1l-.5 2.1l-.5 -3.7l-.5 1l-.5 1.9l-.5 -2l-.5 0l-.5 2l-.5 -.6l-.5 1.7l-.5 .3l-.5 -1.7l-.5 1.1l-.5 -1.7l-.5 1l-.5 .1l-.5 -.2l-.5 .6l-.5 -.1l-.5 -.4l-.5 1.5l-.5 .9l-.5 -2.7l-.5 -.1l-.5 -1.2l-.5 4.3l-.5 -1.4l-.5 1.5l-.5 -3l-.5 -1.2l-.5 -3.1l-.5 .8l-.5 -2.1l-.5 .5l-.5 -.7l-.5 1.1l-.5 -2.1l-.5 .8l-.5 -.2l-.5 2l-.5 -1.8l-.5 .2l-.5 -.2l-.5 .6l-.5 0l-.5 -.9l-.5 -.8l-.5 .5l-.5 .6l-.5 -.6l-.5 .2l-.5 .4l-.5 -.2l-.5 .7l-.5 -.9l-.5 .6l-.5 .2l-.5 1.2l-.5 2.3l-.5 1.3l-.5 -2.5l-.5 .8l-.5 0l-.5 -.8l-.5 -.4l-.5 2.1l-.5 -.4l-.5 2l-.5 -1.4l-.5 -1.6l-.5 3.7l-.5 -.5l-.5 -2.9l-.5 -.2l-.5 1.4l-.5 2.2l-.5 -3.1l-.5 1.1l-.5 -.4l-.5 -1.6l-.5 2l-.5 -2.4l-.5 4.7l-.5 -.8l-.5 -2l-.5 .9l-.5 4.1l-.5 -1l-.5 .1l-.5 -.8l-.5 -2.8l-.5 4.7l-.5 -4.5l-.5 -.9l-.5 2.1l-.5 1.6l-.5 -3.2l-.5 3.9l-.5 1.4l-.5 0l-.5 -7.4l-.5 .8l-.5 -3.2l-.5 -.7l-.5 -.6l-.5 1.3l-.5 -.2l-.5 -.6l-.5 -1.1l-.5 .2l-.5 .3l-.5 1.5l-.5 -.2l-.5 .5l-.5 -1.5l-.5 1.3l-.5 .3l-.5 -2.1l-.5 .2l-.5 .2l-.5 .7l-.5 -.7l-.5 .6l-.5 -.3l-.5 -.5l-.5 1l-.5 -.2l-.5 -.1l-.5 .9l-.5 .8l-.5 1.3l-.5 -.6l-.5 1.9l-.5 -.8l-.5 0l-.5 -1l-.5 1.7l-.5 .1l-.5 .2l-.5 -.4l-.5 1.7l-.5 -1.2l-.5 -1.5l-.5 3.3l-.5 -.9l-.5 .7l-.5 -2.9l-.5 3.1l-.5 -3.3l-.5 3.4l-.5 .4l-.5 -1.3l-.5 .2l-.5 2l-.5 -1.6l-.5 .7l-.5 -1l-.5 1l-.5 -.8l-.5 1.5l-.5 .5l-.5 -1.1l-.5 -1.3l-.5 3.6l-.5 -.3l-.5 -.9l-.5 2.6l-.5 0l-.5 -4.8l-.5 1l-.5 .9l-.5 .8l-.5 -1.4l-.5 -.2l-.5 1.9l-.5 .4l-.5 2.4l-.5 -3.2l-.5 3.9l-.5 -1.2l-.5 -4.9l-.5 -1.8l-.5 -1.3l-.5 -1.3l-.5 0l-.5 -.3l-.5 .6l-.5 0l-.5 -.6l-.5 .7l-.5 -.4l-.5 .1l-.5 0l-.5 0l-.5 1l-.5 -1.6l-.5 1.3l-.5 -.8l-.5 1.1l-.5 -.1l-.5 .5l-.5 -.6l-.5 -.4l-.5 .8l-.5 0l-.5 -1.1l-.5 .1l-.5 -.5l-.5 1.7l-.5 -.7l-.5 .4l-.5 -1.2l-.5 1.9l-.5 -2l-.5 .7l-.5 .5l-.5 -.5l-.5 .7l-.5 1.9l-.5 .7l-.5 1.1l-.5 .9l-.5 .4l-.5 -.6l-.5 -.7l-.5 .8l-.5 -.5l-.5 1l-.5 -.1l-.5 1l-.5 -3.7l-.5 3.5l-.5 -2.3l-.5 1.4l-.5 -.5l-.5 1.5l-.5 1.1l-.5 -.7l-.5 -3.2l-.5 3l-.5 -.2l-.5 -.6l-.5 -.3l-.5 .4l-.5 .6l-.5 2.3l-.5 -.8l-.5 -1.2l-.5 2.8l-.5 -.2l-.5 -4.2l-.5 1.3l-.5 -3.6l-.5 -1.8l-.5 -2.2l-.5 .9l-.5 1.2l-.5 -1.7l-.5 1.5l-.5 -.6l-.5 -.8l-.5 -.6l-.5 -.1l-.5 1.9l-.5 -.5l-.5 -1.1l-.5 .8l-.5 -.4l-.5 .7l-.5 -1l-.5 -.9l-.5 .7l-.5 -.5l-.5 .9l-.5 .3l-.5 .4l-.5 -1.2l-.5 -1l-.5 0l-.5 .2l-.5 1.1l-.5 -.4l-.5 -.6l-.5 1.8l-.5 .1l-.5 5l-.5 -3.1l-.5 1.5l-.5 -1.4l-.5 .3l-.5 -.4l-.5 1.8l-.5 -.6l-.5 -.1l-.5 1.6l-.5 -1.4l-.5 0l-.5 0l-.5 -.2l-.5 -.9l-.5 -1l-.5 4.7l-.5 -3l-.5 .9l-.5 -2.1l-.5 3l-.5 -1.9l-.5 -1.6l-.5 5.6l-.5 -1.5l-.5 1.5l-.5 -1.7l-.5 -.1l-.5 -1l-.5 1.8l-.5 1l-.5 .8l-.5 -4l-.5 3.9l-.5 -.3l-.5 -3.8l-.5 4.6l-.5 -3.2l-.5 -4.3l-.5 -3.9l-.5 1.1l-.5 .3l-.5 -.5l-.5 -.6l-.5 0l-.5 .7l-.5 -.4l-.5 -.2l-.5 .4l-.5 1.1l-.5 -1.3l-.5 .8l-.5 .1l-.5 -1.2l-.5 .6l-.5 -.7l-.5 1l-.5 -1l-.5 -.1l-.5 .9l-.5 -1.1l-.5 -.3l-.5 1.4l-.5 -1.5l-.5 1l-.5 .1l-.5 1.1l-.5 -1l-.5 1.5l-.5 -.8l-.5 -.9l-.5 -.1l-.5 1.8l-.5 2.9l-.5 -.2l-.5 -.3l-.5 .6l-.5 -.3l-.5 .3l-.5 -.3l-.5 1l-.5 -.8l-.5 1.2l-.5 -.4l-.5 -.7l-.5 .9l-.5 -.3l-.5 -2.2l-.5 4.3l-.5 -1.1l-.5 -.6l-.5 -.4l-.5 3.2l-.5 -3.3l-.5 1.5l-.5 -1.9l-.5 1.7l-.5 2.6l-.5 -.8l-.5 1.3l-.5 -3.3l-.5 .9l-.5 -3.5l-.5 -3l-.5 -.7l-.5 .5l-.5 .6l-.5 -.4l-.5 -.4l-.5 .8l-.5 .2l-.5 -.8l-.5 -.6l-.5 1.4l-.5 -.9l-.5 -.3l-.5 1l-.5 .1l-.5 -1l-.5 1.4l-.5 0l-.5 .2l-.5 -1.3l-.5 1.2l-.5 -.2l-.5 .5l-.5 -.3l-.5 -1l-.5 1.1l-.5 -1.4l-.5 1.2l-.5 .3l-.5 -.7l-.5 1l-.5 -1.5l-.5 1.1l-.5 -.5l-.5 .6l-.5 -.9l-.5 .8l-.5 .4l-.5 1.5l-.5 1.1l-.5 .2l-.5 .7l-.5 -2.2l-.5 1.6l-.5 1.9l-.5 .6l-.5 .1l-.5 -2.6l-.5 1.3l-.5 2.1l-.5 -3.1l-.5 2.2l-.5 1.6l-.5 .6l-.5 -3.4l-.5 -.2l-.5 3.5l-.5 -2l-.5 -.9l-.5 -1.7l-.5 -3.6Z" fill="#0b0b0b" stroke="#0b0b0b" stroke-width="0.4"/>
<path d="M266 322.8V340.1M267.3 322.8V340.6M268.3 292.2V322.7M271.3 306.1V322.6M272.8 299.8V340.9M274 308.2V333.8M274.3 306.2V334M276 322.4V334.9M283.5 311.2V322M295.8 291.5V336.6M296.3 293.1V321.3M297.1 279.8V339.9M297.7 285.2V321.3M298.4 321.2V343.1M305.4 299.8V340.6M307.3 297.4V321M307.9 304.7V336.7M309.2 297.5V321M327.8 287.3V337.9M329.9 281.3V321.4M331.2 295.9V321.4M332.6 321.5V347.6M335.4 321.7V344.9M335.9 288.5V335.1M336.6 303.5V345.3M338.6 303.3V321.9M342.1 294.7V322.1M344.2 306.8V322.3M345.1 305.7V322.3M345.3 299.7V340.3M345.8 296.8V333.7M364.2 295.4V323.5M368.2 294.2V340.1M368.6 287.1V323.7M369.3 290.4V323.7M370.2 297.9V323.7M370.6 287.9V340.9M371.5 306.4V341.9M372.8 293V344.3M373.7 295.3V339.5M373.9 301.7V323.8M375.5 323.8V342.3M376.5 308.7V339.4M377.6 303.4V323.8M378.4 309.5V336.9M378.9 305.2V323.8M379.8 323.8V334M398.7 308.1V336M400.1 291.7V323M401.6 322.9V341.3M401.9 322.8V344.6M402.9 287.3V322.8M405.6 283.4V322.6M408.1 295V322.4M409.7 291.4V322.3M410.1 322.3V336.4M412.1 296.8V338.5M414.4 322V341M416.3 304.1V340.9M419 306.1V321.7M419.7 297.1V334.5M422.3 299.5V336.7M423.3 298V321.4M424.1 321.4V330.8M439.1 304.1V333.2M439.7 321V335.7M440.6 290.3V321M442 296.6V336.2M443.4 279.7V345.4M444.4 301.1V335.6M447.1 296.1V343.1M447.9 295.8V321.1M448.7 321.1V342.2M450.7 287V321.2M452.9 301.3V339.5M454.3 300.1V339.7M455.4 321.4V333.5M455.9 293.7V339.2M457.4 301.7V336.8M457.9 306V321.5M473.6 310.4V333.8M474.5 322.3V344.3M475 298.9V338.1M475.5 287.9V339.1M476.1 300.9V336.7M479.4 285.6V341.4M479.9 305.2V322.6M480.3 295.2V341.7M481.9 288.9V335M488.4 322.9V339.8M489.5 300.9V335.2M490.4 309.6V323M491.2 323V335.3M507.2 296.9V341.4M507.5 286.3V345.7M508.2 296.7V339.7M508.3 283.4V347.3M510.2 288.9V323M510.4 289.6V323M512.1 294.9V322.9M514.1 322.9V341.2M514.5 297.4V344M516.5 300.3V338.9M516.8 307.5V322.8M519.3 303.5V322.7M535.5 313.7V322.3M539 310.8V322.2M542.3 300V335.8M543.2 287.7V322.1M544 293.5V322.1M545.4 288.1V340.6M548.2 303.6V322.1M548.6 322V334.4M551.2 295.8V336.2M552.1 322V333.1M552.8 294.4V340.1M553.3 294V322M554.1 322V337M555 305V338.8M556.2 305.4V331.9M557.1 303.8V336.1M557.9 304.3V322.1M558.9 305.8V322.1M559.6 306.2V331.4M560.4 322.1V330M572.3 310.4V322.3M574.2 301.9V345.9M575 322.3V336.1M575.6 286.2V335.8M577.1 302.3V340.8M577.7 283.5V345.6M578 322.4V339.9M581.3 295V322.4M582.7 290.5V334.7M583.4 322.5V343.4M584 292.9V322.5M585.7 322.5V341.3M589.5 299.2V322.5M590.5 298.4V336.1M593 322.5V337.3M606.1 322.5V340.6M606.8 296.5V340.3M608.2 293.4V322.4M609 289.5V339.4M609.3 288.9V344.9M610.1 299.7V343.2M610.6 288.1V341.5M612.5 285.2V322.3M613.2 322.3V344.1M613.3 288.6V338.4M616.9 293.9V342.8M617.4 299.1V333.9M617.9 301.1V341.5M620.5 295.1V341M621.3 306.1V338.7M625.4 304.2V322M626 322V336.2M626.8 301.3V321.9M627.4 302.2V321.9M645.5 321.7V332.1M647.3 303.1V321.7M649 321.7V340.9M651.1 321.7V336.1M651.4 304.3V334.9M654.1 321.7V340.6M656.9 297V332.4M657.5 308.2V337.1M659 298.6V335.3M659.6 309.6V321.8M688.5 315.3V322.9M698.5 280.5V323.2M698.9 323.2V348M700.7 302.2V323.2M700.9 290.2V348.1M701.8 302.6V323.2M702.5 323.2V335.5M703.2 295V338.8M705.3 296.2V341.7M709.7 305.4V323.2M709.9 303.2V338.7M710.9 301.4V323.2M711.9 303.8V323.2M713.7 305.9V337.4M715.2 304.2V332.9M715.4 323.1V333M719 313.8V323M736 302.2V322.2M740.8 296.3V341.9M741.9 290.7V321.9M743.7 301.1V321.8M744.8 321.8V336.1M746.4 301.5V335.7M748.7 301.9V333.7M749.5 300.5V336.5M749.9 304.9V321.6M750.3 308.4V331M762.5 310.8V321.3M767.6 304.7V332.1M772.1 295.6V336.5M772.4 297.1V333.9M773.7 300.6V321.5M774.1 293.8V333.5M774.3 293.8V336.7M778.7 297V339M782.8 308.8V321.8M783.6 310.4V332.7M784.6 308.4V321.9M785.2 309.7V321.9M807.1 292.3V322.9M808.1 294.5V342M808.4 295.6V340.4M808.9 298.2V334.8M810 308.2V323M811.8 299.5V323.1M813.2 323.1V338.6M813.7 306.2V334M814 323.1V337.9M814.5 302.7V323.1M814.9 303.5V323.1M816.2 302.6V323.1M816.4 305.1V338.6M816.8 323.1V335.5M818.4 303.5V333.1M836.4 312.7V322.9M837.7 299.3V335.3M841 302V322.7M841.8 302.3V322.7M842.6 322.6V337.8M843.9 305.3V322.6M845 306.8V322.5M845.6 322.5V333.2M845.9 308V337M846.5 301.5V335.2M848 307V335.7M848.5 312V332.5M872.2 299.2V336.9M872.9 321.6V337.1M874.5 305.3V321.6M876.6 321.5V335.2M879.4 321.6V332.7M881 308.8V321.6M881.9 310.2V333.8M908.1 299.7V340.6M908.6 302.3V322.5M909 298.5V322.5M910.7 308.3V322.6M911.9 305.1V322.6M912.6 309.3V332M672 296.3V336.3M672.6 304.1V333.5M676 300.4V334.4M676.6 307V332" stroke="#0b0b0b" stroke-width="0.95" fill="none"/>
<rect x="466.2" y="95" width="96.6" height="258.5" fill="none" stroke="#ED1C24" stroke-width="1.6"/>
<rect x="601.6" y="95" width="30" height="258.5" fill="none" stroke="#ED1C24" stroke-width="1.6"/>
<line x1="782.2" y1="343.4" x2="912" y2="343.4" stroke="#111" stroke-width="1.7"/>
<text x="847" y="361" font-size="16" text-anchor="middle">2 min</text>
<line x1="466.2" y1="353.5" x2="86.5" y2="367.5" stroke="#ED1C24" stroke-width="1.5" stroke-dasharray="8 5.5"/>
<line x1="563" y1="353.5" x2="524.3" y2="366.8" stroke="#ED1C24" stroke-width="1.5" stroke-dasharray="8 5.5"/>
<line x1="601.6" y1="353.5" x2="524.3" y2="366.8" stroke="#ED1C24" stroke-width="1.5" stroke-dasharray="8 5.5"/>
<rect x="86.5" y="367.8" width="431.7" height="180" fill="none" stroke="#ED1C24" stroke-width="1.6"/>
<path d="M94 392.6 L95 393.2 L96 393.5 L97 393.4 L98 393.6 L99 393.5 L100 393.6 L101 394 L102 394.8M172 393.9 L173 393.5 L174 394.2 L175 394.3 L176 394 L177 394 L178 394 L179 393.9 L180 393.9 L181 394.1 L182 394.5 L183 394.4 L184 394.5 L185 394.6 L186 394.4 L187 394.3 L188 394.3 L189 394.3 L190 394.2 L191 394.2 L192 394.1 L193 393.9 L194 394.1 L195 394.3 L196 394.5 L197 394.6 L198 394.5 L199 394.3 L200 394 L201 393.7 L202 393.4 L203 393.5 L204 393.8 L205 394 L206 394 L207 394.2 L208 394.2 L209 394.3 L210 394.4 L211 394.6 L212 394.5 L213 394.1 L214 394 L215 393.8 L216 394 L217 394 L218 394.1 L219 394.1 L220 394.1 L221 394.3 L222 394.1 L223 394.2 L224 393.9 L225 393.9 L226 393.7 L227 393.8 L228 393.7 L229 393.7 L230 393.9 L231 394.2 L232 394.2 L233 394.2 L234 393.9 L235 393.6 L236 393.6 L237 393.8 L238 394 L239 394.4 L240 394.3 L241 394.4 L242 394.1 L243 393.9 L244 394 L245 394.1 L246 394 L247 394.1 L248 394.2 L249 394 L250 393.9 L251 393.9 L252 393.9 L253 393.8 L254 394 L255 394.8M334 393.7 L335 392.8 L336 394.1 L337 394.1 L338 394.1 L339 394 L340 394 L341 394 L342 394 L343 393.8 L344 393.7 L345 393.9 L346 394.1 L347 394.2 L348 394.1 L349 394.2 L350 394 L351 393.6 L352 393.4 L353 393.5 L354 393.7 L355 393.9 L356 394.2 L357 394 L358 394.3 L359 394.1 L360 394 L361 394.2 L362 394.3 L363 393.8 L364 394 L365 394.1 L366 394.1 L367 394.4 L368 394.3 L369 394.3 L370 394.4 L371 394.5 L372 394.5 L373 394.6 L374 394.5 L375 394.1 L376 393.9 L377 393.7 L378 393.6 L379 393.7 L380 393.8 L381 393.8 L382 394 L383 394 L384 394.1 L385 393.9 L386 394 L387 393.9 L388 394 L389 394 L390 394 L391 394.1 L392 393.9 L393 394.2 L394 395M496 393.6 L497 394.1 L498 394.2 L499 394.4 L500 394.6 L501 394.7 L502 394.6 L503 394.7 L504 394.6 L505 394.6 L506 394.4 L507 394.4 L508 394.3 L509 394.3 L510 394.4 L511 394.7 L512 395" fill="none" stroke="#111" stroke-width="3.2" stroke-linejoin="round"/>
<path d="M94 391.8l.2 1.1l.2 .4l.2 1.5l.2 -.2l.2 .2l.2 -3.8l.2 2.8l.2 .9l.2 -1.1l.2 -1.1l.2 .4l.2 3.8l.2 -2.9l.2 .8l.2 -1.5l.2 .4l.2 -.2l.2 1.2l.2 -.8l.2 -.5l.2 -1.4l.2 1.6l.2 -.1l.2 -2l.2 1.3l.2 -1.2l.2 2.9l.2 .1l.2 .8l.2 -1.3l.2 .9l.2 -.3l.2 -1.2l.2 1.1l.2 -1l.2 -1.2l.2 3.1l.2 .4l.2 -1l.2 -.8l.2 -1.2l.2 1.8l.2 -1.5l.2 1.9l.2 1.9l.2 -1.5l.2 .6l.2 2.3l.2 -3l.2 .9l.2 -.3l.2 -3.7l.2 -.6l.2 -2.3l.2 -3.8l.2 -4.4l.2 -.5l.2 4.2l.2 -2.9l.2 4.7l.2 1.1l.2 1.7l.2 5.8l.2 -.3l.2 -.6l.2 -.6l.2 5l.2 -.3l.2 .9l.2 .4l.2 -.9l.2 -.8l.2 -5l.2 1.7l.2 -.9l.2 -3l.2 -1.1l.2 1.8l.2 -7l.2 .5l.2 3.4l.2 1.1l.2 .9l.2 -.5l.2 1.8l.2 4.2l.2 -4.9l.2 -.4l.2 3.1l.2 1.7l.2 2.1l.2 -2.2l.2 0l.2 1.7l.2 1.9l.2 .3l.2 -1.7l.2 -.2l.2 -4.9l.2 -3.4l.2 -2.1l.2 -2.8l.2 -.7l.2 -.4l.2 3.7l.2 3.8l.2 1.7l.2 -1l.2 3.8l.2 -2.6l.2 3.4l.2 2.6l.2 2.8l.2 -.9l.2 3.3l.2 -1.7l.2 -2.1l.2 -2l.2 -5.9l.2 .2l.2 -5.6l.2 -3.1l.2 -4l.2 -.7l.2 2.4l.2 3.6l.2 1.3l.2 3.6l.2 2.7l.2 .8l.2 1.7l.2 .8l.2 3.2l.2 -.1l.2 3.5l.2 -1.4l.2 -.8l.2 -1.7l.2 -4.4l.2 1.1l.2 2.4l.2 -5.6l.2 -3.8l.2 -1.6l.2 -4.8l.2 .9l.2 4.1l.2 .9l.2 0l.2 1.8l.2 1.4l.2 3l.2 2.1l.2 -1.3l.2 .4l.2 0l.2 .8l.2 4.6l.2 -1.4l.2 -3.8l.2 4.4l.2 -1.5l.2 -2.7l.2 1.8l.2 -2.9l.2 -5.1l.2 -.3l.2 -1.7l.2 -1l.2 -1.4l.2 -.7l.2 4.3l.2 2.9l.2 -3.6l.2 3l.2 -.8l.2 2.9l.2 1.6l.2 -.9l.2 2.7l.2 -2.1l.2 2.2l.2 2.3l.2 .2l.2 5.3l.2 -5.5l.2 1.1l.2 -3.6l.2 -3.6l.2 -1l.2 -2.1l.2 -5l.2 -2.8l.2 -2.8l.2 -1.9l.2 5.5l.2 2.5l.2 .9l.2 3.9l.2 .9l.2 -.5l.2 2.8l.2 1.9l.2 .8l.2 3.5l.2 .8l.2 -2.8l.2 4.6l.2 3.1l.2 -1.6l.2 -4.2l.2 -2.4l.2 -3.8l.2 1.7l.2 -2.2l.2 -4.9l.2 -2.4l.2 -.3l.2 -3.9l.2 3.2l.2 .5l.2 -.4l.2 5.3l.2 .9l.2 2.7l.2 .1l.2 1l.2 2l.2 3.3l.2 -.4l.2 .9l.2 -.9l.2 4.3l.2 -3.8l.2 -.1l.2 -.8l.2 -4.3l.2 -.2l.2 -1.2l.2 -2l.2 -4.3l.2 -1.8l.2 -3l.2 2l.2 3.8l.2 3.7l.2 -.9l.2 1.7l.2 3.8l.2 -2.7l.2 -.3l.2 5.3l.2 -1.3l.2 .2l.2 .6l.2 2.7l.2 -2l.2 3.6l.2 -4.3l.2 -2.5l.2 1.1l.2 -1.4l.2 -2.1l.2 -4.7l.2 -3.2l.2 -1.3l.2 -.7l.2 -.2l.2 1.2l.2 1.9l.2 2.6l.2 -1.8l.2 3.6l.2 2.9l.2 2.1l.2 1.1l.2 -.2l.2 -1.4l.2 2.7l.2 2.3l.2 -1.6l.2 .5l.2 0l.2 3.7l.2 -2.4l.2 -1.4l.2 1.1l.2 -3.8l.2 -4.3l.2 -1.8l.2 -6l.2 -2.7l.2 -2.5l.2 2.9l.2 -.3l.2 3.4l.2 1.5l.2 .6l.2 2.4l.2 2.3l.2 1.2l.2 5.4l.2 2l.2 1.1l.2 -.7l.2 .2l.2 -.6l.2 -2.1l.2 3.6l.2 -6.1l.2 -2.1l.2 .1l.2 -5.2l.2 .9l.2 -6.5l.2 3.3l.2 -.3l.2 2.9l.2 2.5l.2 2.6l.2 2.3l.2 .6l.2 .4l.2 1.2l.2 1.1l.2 .6l.2 1.7l.2 -1l.2 -.7l.2 -2.2l.2 -.1l.2 -4.1l.2 -3.2l.2 -2.4l.2 -4l.2 -1.1l.2 -2.8l.2 0l.2 5.6l.2 .4l.2 1.8l.2 .9l.2 2.7l.2 4.2l.2 -1.4l.2 2.2l.2 .1l.2 -1.1l.2 .7l.2 1.9l.2 1.1l.2 4.5l.2 -2.6l.2 -.3l.2 -2.5l.2 -.9l.2 -1.6l.2 -5.6l.2 -.5l.2 -5.1l.2 .1l.2 -.8l.2 -3.2l.2 2.5l.2 2.5l.2 -.2l.2 4.3l.2 -.7l.2 5.1l.2 .2l.2 -1l.2 1.3l.2 4.2l.2 -4.2l.2 2.5l.2 2.4l.2 2.1l.2 -1.3l.2 -3.6l.2 3.5l.2 -4.7l.2 -1.9l.2 3.3l.2 -5.2l.2 -.4l.2 -.2l.2 .4l.2 .9l.2 1.2l.2 1l.2 .1l.2 .7l.2 .1l.2 -2.4l.2 1.1l.2 1.9l.2 -2l.2 1.1l.2 -1l.2 -.9l.2 .4l.2 .8l.2 1.6l.2 -1l.2 -1.6l.2 2l.2 -.8l.2 -2.9l.2 4.5l.2 -.3l.2 -.3l.2 .2l.2 -2.9l.2 1.5l.2 1.9l.2 -1.9l.2 -1l.2 -.5l.2 1l.2 -.9l.2 .1l.2 -.2l.2 2.3l.2 -2.2l.2 2.4l.2 -1.7l.2 2l.2 -2.4l.2 .3l.2 2.6l.2 -3.1l.2 1.6l.2 2.1l.2 -3.2l.2 1.6l.2 -1.7l.2 0l.2 0l.2 1.5l.2 -.4l.2 -.8l.2 -.3l.2 .9l.2 .7l.2 -.3l.2 -.7l.2 1.4l.2 2.1l.2 -1.1l.2 .3l.2 -2.7l.2 -.8l.2 1.2l.2 -.2l.2 .2l.2 1l.2 -1.1l.2 .4l.2 .5l.2 -1.6l.2 1.4l.2 0l.2 -1.6l.2 .5l.2 2.2l.2 -2.3l.2 .1l.2 -.2l.2 .4l.2 -.2l.2 1.4l.2 .1l.2 -.8l.2 .4l.2 .5l.2 -1.8l.2 -.1l.2 1.9l.2 .4l.2 -3.1l.2 2.7l.2 -1l.2 1.5l.2 -1.2l.2 -2l.2 .1l.2 1.7l.2 1l.2 -2.6l.2 -.6l.2 2l.2 -.3l.2 3.6l.2 -4.5l.2 .3l.2 -.5l.2 .3l.2 .6l.2 1.5l.2 -.5l.2 .3l.2 -2.2l.2 .6l.2 1.4l.2 -.7l.2 -.8l.2 .5l.2 1.4l.2 .4l.2 .5l.2 -1.8l.2 2.4l.2 -2.6l.2 .6l.2 .6l.2 -2l.2 1l.2 -.6l.2 2.7l.2 -1.1l.2 -2.9l.2 2.1l.2 .7l.2 1.3l.2 -2.2l.2 -3.2l.2 3.1l.2 1.6l.2 -1.3l.2 -1.6l.2 .7l.2 0l.2 2.9l.2 -2.2l.2 -1.7l.2 .8l.2 2.6l.2 -5.7l.2 1.3l.2 1.3l.2 1l.2 -2l.2 3.7l.2 -2.4l.2 -.9l.2 1l.2 -2.1l.2 2l.2 3l.2 -3.7l.2 1.5l.2 -.1l.2 -.7l.2 2.5l.2 2.2l.2 -5.9l.2 1.9l.2 -1l.2 .7l.2 1.5l.2 3l.2 -3.8l.2 -.3l.2 -1.5l.2 .9l.2 2l.2 -1.9l.2 -1l.2 .4l.2 -1.1l.2 1.2l.2 2.2l.2 .6l.2 .2l.2 -2.5l.2 -.4l.2 2.7l.2 -3.9l.2 3.6l.2 -.1l.2 -1.9l.2 .2l.2 4.8l.2 -4.1l.2 -.2l.2 2.5l.2 -2.6l.2 -1.2l.2 1.6l.2 .7l.2 -1.2l.2 .9l.2 1.2l.2 -2.5l.2 -.1l.2 1.1l.2 .8l.2 -3.2l.2 3.1l.2 -4.6l.2 4.2l.2 -3l.2 2.7l.2 .6l.2 -2.9l.2 .1l.2 2.1l.2 .2l.2 -.4l.2 -1.7l.2 1.6l.2 -.3l.2 1.2l.2 -.3l.2 0l.2 -2.2l.2 2.8l.2 .7l.2 -1.4l.2 -.8l.2 -1.2l.2 .8l.2 -.9l.2 2.5l.2 -.7l.2 -1.2l.2 2.4l.2 -1.4l.2 .5l.2 -1.8l.2 .8l.2 .2l.2 -.2l.2 1.7l.2 -1.4l.2 -.4l.2 2.4l.2 -1.2l.2 1.1l.2 -2.4l.2 -1.6l.2 .7l.2 1.9l.2 -.1l.2 .7l.2 .2l.2 -1.3l.2 -.4l.2 1.3l.2 -1.6l.2 -.3l.2 .9l.2 .9l.2 -.4l.2 -1l.2 1l.2 -1.6l.2 1.7l.2 -2.7l.2 3.7l.2 -2.7l.2 1.3l.2 -1.3l.2 1.1l.2 .8l.2 -3.2l.2 4.4l.2 -3.2l.2 -.4l.2 2.4l.2 -2.1l.2 1.3l.2 0l.2 1.8l.2 -1.6l.2 -.2l.2 -2l.2 1.3l.2 0l.2 1l.2 .9l.2 -3.2l.2 1.9l.2 1.8l.2 -2.7l.2 1.4l.2 .3l.2 2.2l.2 -1.7l.2 -1.5l.2 -.4l.2 .8l.2 1.3l.2 .6l.2 -2.2l.2 .6l.2 -1.2l.2 1.4l.2 -1.8l.2 1.5l.2 -.6l.2 -.1l.2 1.7l.2 -3.2l.2 2.9l.2 -1.1l.2 .9l.2 -1.3l.2 -1.1l.2 1.2l.2 -.8l.2 -.2l.2 0l.2 1.5l.2 -2.3l.2 1.7l.2 2.4l.2 -.5l.2 -2.1l.2 2.2l.2 -2.7l.2 1.6l.2 -.1l.2 1.2l.2 -3.3l.2 5l.2 -2.3l.2 .1l.2 -.2l.2 -.1l.2 1l.2 -.9l.2 -1.3l.2 -1.2l.2 3.8l.2 -.9l.2 -1.4l.2 -.3l.2 1.2l.2 -1.8l.2 1.8l.2 1.1l.2 -3.6l.2 1.5l.2 1.2l.2 .6l.2 -.5l.2 -.9l.2 -1.1l.2 1.1l.2 -3.3l.2 2l.2 2.2l.2 -1.3l.2 -.4l.2 2.5l.2 -2.6l.2 1.7l.2 .2l.2 -.8l.2 -.1l.2 -1.2l.2 3.3l.2 -2.1l.2 -.7l.2 2.1l.2 -1l.2 .6l.2 -2.1l.2 2.3l.2 -1.6l.2 -.8l.2 2.1l.2 -1.6l.2 0l.2 -.4l.2 2.8l.2 -3.3l.2 .7l.2 1.2l.2 .9l.2 -3.1l.2 3.7l.2 -1.4l.2 -2.2l.2 2l.2 .1l.2 -.6l.2 .1l.2 -1.2l.2 2.3l.2 .1l.2 1.3l.2 -5.2l.2 3.4l.2 -1.1l.2 1.9l.2 -3.5l.2 -.5l.2 3.1l.2 -.6l.2 .1l.2 .8l.2 -.7l.2 -2.9l.2 2.5l.2 .9l.2 1.7l.2 -1.9l.2 .5l.2 -1.2l.2 3.1l.2 -.3l.2 1.2l.2 .6l.2 5.1l.2 -2.9l.2 -3.9l.2 .8l.2 -2.3l.2 -2l.2 1.6l.2 -5.3l.2 -2.9l.2 -3.4l.2 .2l.2 1.6l.2 .2l.2 3l.2 -.8l.2 -.4l.2 2.4l.2 4.4l.2 -1.5l.2 -1.7l.2 4.1l.2 -.1l.2 2l.2 2.1l.2 1.2l.2 -.7l.2 -.3l.2 .4l.2 -1.5l.2 -.2l.2 -2.2l.2 -1.4l.2 -2.7l.2 -2l.2 -.7l.2 -1.9l.2 -2.7l.2 2.6l.2 4l.2 -2.3l.2 .6l.2 .7l.2 2.7l.2 4.1l.2 -3.3l.2 .2l.2 4l.2 -1.7l.2 4.1l.2 .6l.2 -.4l.2 -2.2l.2 -1.3l.2 -.4l.2 .1l.2 -4.1l.2 -.7l.2 -4.2l.2 -1.3l.2 -.7l.2 1.1l.2 2.1l.2 -.3l.2 -.4l.2 5.4l.2 2.8l.2 -4.6l.2 5.4l.2 -.4l.2 1.8l.2 -.5l.2 .6l.2 1.1l.2 1.2l.2 -2.3l.2 -.4l.2 -4.9l.2 -.8l.2 -3.2l.2 -3.2l.2 -1.9l.2 -2.1l.2 4.1l.2 1.2l.2 .6l.2 2.7l.2 1.1l.2 0l.2 2.6l.2 4.2l.2 0l.2 -1.8l.2 3.4l.2 -1l.2 1l.2 -.6l.2 .9l.2 -5.1l.2 1.3l.2 -.9l.2 -7.5l.2 .3l.2 -1.2l.2 -4.8l.2 5.3l.2 -2.4l.2 5.3l.2 -1.6l.2 1.5l.2 4.9l.2 -.6l.2 -.3l.2 .1l.2 4l.2 .3l.2 -3.3l.2 2.8l.2 .9l.2 -1.3l.2 -.9l.2 -2.3l.2 -1.3l.2 -1l.2 1.2l.2 -3l.2 -.7l.2 -2.3l.2 -.1l.2 1.2l.2 -.4l.2 .1l.2 2.2l.2 .3l.2 3.5l.2 -1l.2 .7l.2 .9l.2 2.6l.2 -2.7l.2 1.5l.2 1.1l.2 3.4l.2 -3.1l.2 1.1l.2 -2.2l.2 2.8l.2 -2.6l.2 -1.4l.2 -.7l.2 -3.3l.2 -2.6l.2 -3.7l.2 .2l.2 -1.4l.2 4.5l.2 -1.7l.2 .9l.2 1.1l.2 3.4l.2 3.1l.2 0l.2 -4l.2 4.4l.2 .7l.2 3.8l.2 -2.1l.2 -2.2l.2 1.8l.2 -.1l.2 5.2l.2 -1.7l.2 -1.4l.2 -2.6l.2 -6l.2 -3.2l.2 -2.9l.2 -4l.2 -1.5l.2 5.2l.2 -1.7l.2 2.9l.2 2.2l.2 1.6l.2 1.8l.2 2.5l.2 .2l.2 5l.2 -2.3l.2 1.9l.2 .1l.2 4l.2 -4.2l.2 1.1l.2 -5.4l.2 .5l.2 -8.4l.2 -1l.2 -3.7l.2 -1.5l.2 1l.2 4.7l.2 .3l.2 3.3l.2 3.3l.2 1.6l.2 2.5l.2 -.8l.2 .6l.2 3.2l.2 .3l.2 .4l.2 -.4l.2 -1.2l.2 -1.2l.2 -1.2l.2 -4.2l.2 -1.8l.2 -3.1l.2 -2.1l.2 -4.2l.2 .6l.2 3l.2 .8l.2 -.7l.2 2.6l.2 2.7l.2 3.7l.2 -1.6l.2 2.2l.2 .1l.2 .2l.2 2.4l.2 1.4l.2 -.2l.2 2.9l.2 -1.2l.2 -.6l.2 -.2l.2 -.7l.2 -3.6l.2 .1l.2 -3.3l.2 -4.5l.2 -.6l.2 -1.9l.2 1.8l.2 1.6l.2 -2.6l.2 4.5l.2 5.5l.2 -2l.2 3.2l.2 -2.8l.2 4l.2 -1.1l.2 1.8l.2 -.2l.2 2.6l.2 -2.7l.2 -.6l.2 -2.4l.2 -.7l.2 -4.9l.2 -2.3l.2 -6.5l.2 .9l.2 -2.6l.2 3.2l.2 1.8l.2 3.2l.2 -2.1l.2 3.1l.2 .4l.2 3.9l.2 2.7l.2 .6l.2 1.3l.2 2.1l.2 -.9l.2 .8l.2 3.1l.2 1.1l.2 -7.8l.2 2.2l.2 -.3l.2 -3l.2 -.7l.2 -1.1l.2 -4.6l.2 -1.2l.2 -1.9l.2 -2.2l.2 3.5l.2 1.1l.2 -1.1l.2 5.4l.2 -4.2l.2 4l.2 -.1l.2 1l.2 1.7l.2 3.7l.2 -1l.2 -.8l.2 .3l.2 1.5l.2 -.5l.2 4.3l.2 -3l.2 -2.6l.2 1.2l.2 1.6l.2 -7.3l.2 -3.9l.2 -2.6l.2 -3.9l.2 1l.2 3.4l.2 2.1l.2 -.5l.2 3.2l.2 4.2l.2 -2.9l.2 2.6l.2 2.8l.2 .8l.2 4l.2 -2.1l.2 .6l.2 -2.9l.2 -2l.2 2.6l.2 -4.4l.2 1l.2 -2.1l.2 -1.6l.2 -3l.2 -1.2l.2 .8l.2 -.3l.2 1.3l.2 .4l.2 2l.2 3.8l.2 -.5l.2 .3l.2 -1.4l.2 1.8l.2 -.6l.2 1.5l.2 1.3l.2 -1.3l.2 1.2l.2 3.9l.2 -2.6l.2 -2.5l.2 0l.2 -3l.2 -8.2l.2 -.6l.2 -.2l.2 -1.8l.2 .1l.2 2.4l.2 2.6l.2 5.1l.2 1.8l.2 .4l.2 .3l.2 .5l.2 4.1l.2 1.6l.2 -2.4l.2 7.1l.2 -4.2l.2 -2.9l.2 -8.3l.2 5l.2 -4.4l.2 -.5l.2 -3.6l.2 -1.2l.2 3.9l.2 5.6l.2 -1l.2 .2l.2 -1l.2 1.5l.2 2.4l.2 -3.6l.2 -.1l.2 -1.7l.2 2.6l.2 -.1l.2 -2.5l.2 2.8l.2 -1.7l.2 2.9l.2 -.7l.2 -1l.2 -1.6l.2 1.5l.2 -.9l.2 3.3l.2 -1.2l.2 -.7l.2 -1.1l.2 .9l.2 -.8l.2 3.2l.2 -2l.2 -2l.2 -.1l.2 3.3l.2 -1.7l.2 -.3l.2 -2.1l.2 3.2l.2 -2.7l.2 2.4l.2 -.1l.2 .5l.2 -.7l.2 -.2l.2 -2.7l.2 2.3l.2 2.3l.2 -1.7l.2 .9l.2 -1.2l.2 -.6l.2 1l.2 -2l.2 2l.2 -1.8l.2 2.6l.2 -2.1l.2 .7l.2 -.3l.2 -1.3l.2 1.4l.2 .8l.2 0l.2 -1.2l.2 -1.5l.2 2.7l.2 2.6l.2 -1.5l.2 -2l.2 .6l.2 .6l.2 -1l.2 1.2l.2 .3l.2 -1.4l.2 .4l.2 2.7l.2 -3.6l.2 .5l.2 -1l.2 2l.2 -1.5l.2 -.5l.2 1.6l.2 -.7l.2 -.4l.2 2.3l.2 0l.2 -2l.2 -.5l.2 1.4l.2 1.3l.2 -2.6l.2 .4l.2 -.7l.2 -.2l.2 -.3l.2 .8l.2 -1.2l.2 1.4l.2 -1.4l.2 1.4l.2 -1l.2 0l.2 -.5l.2 2l.2 2.3l.2 -.1l.2 -1.5l.2 -.6l.2 -1.3l.2 3.1l.2 -2.9l.2 3.5l.2 -1.5l.2 -.4l.2 -.1l.2 .8l.2 -4.7l.2 3.1l.2 2.7l.2 -2.1l.2 0l.2 -1.8l.2 1.8l.2 .9l.2 -1.9l.2 -.6l.2 .8l.2 -.3l.2 1.3l.2 -1.1l.2 1.4l.2 2.4l.2 -1l.2 -1.4l.2 -.5l.2 0l.2 -.7l.2 1.8l.2 -1.7l.2 -1.8l.2 4.4l.2 -2.8l.2 -.8l.2 1.4l.2 .3l.2 .6l.2 -1.4l.2 1.3l.2 -.5l.2 .1l.2 -.1l.2 .2l.2 -.1l.2 -2.3l.2 .1l.2 .3l.2 2.2l.2 -.8l.2 -1.1l.2 1.8l.2 1.6l.2 -1.7l.2 -1.3l.2 3.1l.2 -3.6l.2 2.1l.2 .6l.2 -.3l.2 -1.1l.2 -.3l.2 .5l.2 -.1l.2 .2l.2 -.5l.2 2.7l.2 -5.2l.2 5.2l.2 -3.2l.2 1l.2 1.1l.2 -2.9l.2 3.1l.2 -1.9l.2 -.1l.2 .2l.2 2l.2 -2.1l.2 2l.2 -2.2l.2 .9l.2 .9l.2 1.2l.2 -3l.2 .8l.2 .2l.2 -.7l.2 -1.5l.2 3.6l.2 .4l.2 -3.8l.2 2.9l.2 -1.5l.2 -1l.2 2.9l.2 -1.6l.2 1.7l.2 -1.5l.2 1.3l.2 .3l.2 -1.9l.2 -.5l.2 1.6l.2 -.9l.2 -1.5l.2 -.6l.2 1l.2 -2.3l.2 3.1l.2 -1.2l.2 -1.3l.2 2.6l.2 0l.2 -.5l.2 1.1l.2 -1.5l.2 .2l.2 .6l.2 -.6l.2 .4l.2 .9l.2 -1.5l.2 .9l.2 1.8l.2 -1.4l.2 .5l.2 -1.9l.2 1.8l.2 -1.6l.2 -.7l.2 -1.2l.2 .6l.2 3.3l.2 -.5l.2 -1.1l.2 .1l.2 -.2l.2 .5l.2 -.7l.2 .6l.2 .7l.2 -1.2l.2 1l.2 1.2l.2 -1.3l.2 2.3l.2 -1.6l.2 -1.2l.2 -.5l.2 -.5l.2 -.8l.2 .6l.2 .9l.2 .1l.2 -.2l.2 2.9l.2 -3.7l.2 2.6l.2 -2.3l.2 -1.9l.2 1.8l.2 2.9l.2 -1.8l.2 -1.5l.2 3.6l.2 -3.7l.2 4.1l.2 -2.2l.2 1.2l.2 -.9l.2 -1.6l.2 1.8l.2 -1.6l.2 .4l.2 .4l.2 1.3l.2 -2.9l.2 .8l.2 2l.2 -.8l.2 -1.6l.2 -.1l.2 .9l.2 -.3l.2 1.6l.2 .4l.2 -1.8l.2 .4l.2 .6l.2 .8l.2 -2.7l.2 .7l.2 .8l.2 .4l.2 .3l.2 1.1l.2 -3l.2 1.9l.2 .9l.2 .2l.2 2.3l.2 .2l.2 -.9l.2 -1l.2 0l.2 -1l.2 -2.7l.2 -1.9l.2 -1.5l.2 -.5l.2 -4.2l.2 1.5l.2 -2l.2 4.6l.2 2.9l.2 -1.3l.2 .9l.2 2.3l.2 -.5l.2 2.4l.2 -3l.2 4.3l.2 -.9l.2 -.9l.2 4.5l.2 -2.1l.2 -1.2l.2 5.6l.2 -2.5l.2 .5l.2 -4.4l.2 -1.2l.2 -4.8l.2 -1.2l.2 -3.9l.2 -1l.2 3.6l.2 -1.2l.2 .8l.2 2.7l.2 1.9l.2 .6l.2 2.4l.2 1.8l.2 -1.1l.2 .5l.2 2.2l.2 -1.1l.2 -.2l.2 1.1l.2 3.2l.2 -4l.2 2.6l.2 -3.8l.2 -3l.2 -.5l.2 -3.4l.2 -5.4l.2 -1.1l.2 2.1l.2 -.4l.2 2.8l.2 2.8l.2 0l.2 1.4l.2 2l.2 3.8l.2 -.6l.2 0l.2 1.7l.2 .3l.2 1.3l.2 .8l.2 1.1l.2 -2.7l.2 .2l.2 -.1l.2 -4.9l.2 -1l.2 -3.9l.2 -3.4l.2 -2.8l.2 -1.7l.2 2.5l.2 .4l.2 1.8l.2 2.3l.2 0l.2 4.4l.2 -.7l.2 .9l.2 5l.2 -.1l.2 .7l.2 2.7l.2 -.7l.2 3l.2 -5l.2 -.2l.2 .1l.2 -3.8l.2 -.8l.2 -5.1l.2 .3l.2 -5.9l.2 -1.2l.2 .2l.2 2.8l.2 3.6l.2 1.2l.2 2.9l.2 2.5l.2 -3.7l.2 2.3l.2 1.6l.2 5.3l.2 -1.7l.2 -.3l.2 -.1l.2 1.3l.2 -3.3l.2 -.4l.2 -2.9l.2 -1.2l.2 -4.7l.2 -1.2l.2 -3.3l.2 5.8l.2 0l.2 -.7l.2 4.3l.2 .4l.2 2l.2 .4l.2 -1.6l.2 3.9l.2 .3l.2 .6l.2 .5l.2 -1.5l.2 1.3l.2 -1.4l.2 -.5l.2 -2.1l.2 -1l.2 -6.3l.2 -.8l.2 .4l.2 .2l.2 1.5l.2 -1.8l.2 5.4l.2 -.2l.2 .1l.2 -1l.2 3.7l.2 -.4l.2 .8l.2 2.1l.2 .3l.2 .7l.2 .5l.2 3.4l.2 -2.2l.2 -3.8l.2 1.3l.2 -5.8l.2 -4.6l.2 1l.2 3.3l.2 -7.8l.2 4.1l.2 -1.2l.2 3l.2 -3.7l.2 6.6l.2 .9l.2 2.8l.2 .2l.2 -1.6l.2 4.3l.2 .3l.2 2.3l.2 -2.7l.2 -2.6l.2 .1l.2 -1.3l.2 -.9l.2 1.9l.2 -5.2l.2 -1.7l.2 1.9l.2 -4.8l.2 -1.5l.2 1.9l.2 3.6l.2 .4l.2 .8l.2 2.8l.2 1.3l.2 .2l.2 -.7l.2 -.2l.2 1.6l.2 .5l.2 -1.4l.2 3.8l.2 1.9l.2 2.1l.2 -1.3l.2 -2.8l.2 -2.3l.2 .2l.2 -5.7l.2 -1.3l.2 -2.7l.2 -.6l.2 -3.9l.2 .7l.2 2.1l.2 -.9l.2 4.8l.2 -2.9l.2 4.8l.2 1.5l.2 1l.2 1.8l.2 1.1l.2 1.2l.2 -2.2l.2 2l.2 1l.2 2.3l.2 .6l.2 -.2l.2 -4.9l.2 0l.2 .1l.2 -5.3l.2 -4.7l.2 -3.4l.2 -2.1l.2 0l.2 2.2l.2 -.3l.2 3.9l.2 -.1l.2 2.2l.2 5.1l.2 .1l.2 .4l.2 1.6l.2 2.6l.2 .4l.2 -.5l.2 1.4l.2 2.4l.2 1.7l.2 -6.8l.2 3.2l.2 -6l.2 -.7l.2 -.6l.2 -4.4l.2 -3.9l.2 -2l.2 -4.8l.2 2.3l.2 5.4l.2 -.8l.2 1.3l.2 2.8l.2 3.4l.2 3.6l.2 -2.4l.2 1.9l.2 2.8l.2 -.4l.2 1.6l.2 -2.3l.2 2.6l.2 .9l.2 -1.2l.2 -1.6l.2 -2.8l.2 .2l.2 -1.2l.2 -4.9l.2 1.2l.2 -4.8l.2 1.3l.2 2.6l.2 -1.6l.2 4.1l.2 -.9l.2 4.5l.2 -2.1l.2 -1.3l.2 2.2l.2 4.6l.2 -1.5l.2 2.2l.2 4.1l.2 -2.5l.2 -.8l.2 -6.4l.2 1.9l.2 -4.3l.2 -7.3l.2 3.4l.2 -2.8l.2 -3.8l.2 -.1l.2 2.2l.2 3l.2 4l.2 -2.6l.2 .1l.2 4.1l.2 2.3l.2 1.7l.2 2.4l.2 -2l.2 -.7l.2 2.4l.2 3.9l.2 .3l.2 -5.8l.2 -3.7l.2 2.8l.2 -1.4l.2 -.5l.2 -2.4l.2 1l.2 -2.4l.2 1.3l.2 1.9l.2 -.7l.2 1l.2 1.4l.2 -3.1l.2 2.7l.2 2l.2 -.1l.2 -.6l.2 -1.2l.2 1.8l.2 -1.5l.2 .6l.2 .2l.2 -.2l.2 -.6l.2 -2.4l.2 .4l.2 -2.2l.2 .5l.2 2.4l.2 -4.8l.2 2.2l.2 .1l.2 2.7l.2 -.1l.2 .3l.2 .8l.2 -.2l.2 2.2l.2 .2l.2 1l.2 .2l.2 -1.9l.2 -1.2l.2 -1l.2 .7l.2 -.6l.2 -2.6l.2 -1l.2 2l.2 -.6l.2 -2l.2 3.9l.2 -2.3l.2 .2l.2 2.5l.2 .4l.2 1.9l.2 -.3l.2 2.1l.2 -5.2l.2 4.7l.2 -.3l.2 -1.8l.2 -1.2l.2 1.7l.2 -1.2l.2 -.8l.2 1.3l.2 -2.5l.2 1.2l.2 -2.7l.2 1.9l.2 -3.6l.2 -.9l.2 5l.2 2.7l.2 -4.1l.2 2.1l.2 1.6l.2 -.9l.2 -.2l.2 .4l.2 -.9l.2 1.2l.2 4.5l.2 -5.3l.2 0l.2 -2.1l.2 2.9l.2 -1.7l.2 -2.7l.2 -3l.2 .1l.2 .7l.2 2.2l.2 -.5l.2 2.2l.2 .4l.2 1l.2 -1.1l.2 2.8l.2 .4l.2 .4l.2 -1.1l.2 2.2l.2 -2.3l.2 -.1l.2 2.2l.2 -2.3l.2 -2.3l.2 .1l.2 2.9l.2 -4.6l.2 .2l.2 1.2l.2 -5.2l.2 3.4l.2 -.4l.2 1l.2 2.6l.2 -5l.2 6l.2 -2.7l.2 1.5l.2 -.9l.2 3.5l.2 0l.2 1.5l.2 -.3l.2 -1.8l.2 1.1l.2 -2.2l.2 .1l.2 -.7l.2 -2l.2 -.4l.2 -1.4l.2 -2.5l.2 -.6l.2 2.3l.2 1.3l.2 1.6l.2 .2l.2 1.9l.2 -2.4l.2 2.1l.2 1.4l.2 0l.2 .8l.2 -4.4l.2 3l.2 -2.6l.2 3.8l.2 2.1l.2 -3.9l.2 .1l.2 -2.1l.2 -.6l.2 3.4l.2 -6l.2 .9l.2 -.8l.2 3.6l.2 -1.6l.2 1l.2 -1.1l.2 .8l.2 2.5l.2 -1.3l.2 2.8l.2 -3.5l.2 1.3l.2 .5l.2 1l.2 -2.5l.2 1.6l.2 -1.2l.2 1.8l.2 -3l.2 1.8l.2 -1l.2 1.5l.2 .1l.2 -1.3l.2 -.3l.2 -.7l.2 1.2l.2 1.9l.2 -.8l.2 -1.6l.2 3.3l.2 -1.2l.2 .3l.2 -.5l.2 .7l.2 -2l.2 1.7l.2 -.7l.2 -1.9l.2 2l.2 2.5l.2 -3l.2 -.2l.2 .3l.2 1.2l.2 .6l.2 -2.7l.2 1.1l.2 -.6l.2 -1.1l.2 1.8l.2 .6l.2 -1.6l.2 2.2l.2 -1l.2 -.9l.2 .6l.2 -.1l.2 2.5l.2 -1.1l.2 -.7l.2 -1.7l.2 0l.2 .6l.2 .5l.2 .4l.2 .2l.2 -1l.2 0l.2 2.5l.2 -2.8l.2 .2l.2 -.6l.2 -.4l.2 1.9l.2 -2.3l.2 .5l.2 1.6l.2 .2l.2 .1l.2 .3l.2 0l.2 -.7l.2 -2.6l.2 2.6l.2 -.5l.2 -.6l.2 .7l.2 1.6l.2 -1.1l.2 .7l.2 -1.6l.2 1.3l.2 -1.4l.2 -1.6l.2 3.6" fill="none" stroke="#111" stroke-width="1.5" stroke-linejoin="round"/>
<path d="M94 435.3 L95 435 L96 434.7 L97 434.4 L98 434.4 L99 434.1 L100 434.6M172 435.4 L173 434.3 L174 434.2 L175 434.5 L176 434.4 L177 434.3 L178 434.2 L179 434.1 L180 434 L181 433.9 L182 434.2 L183 434.4 L184 434.4 L185 434.7 L186 434.5 L187 434.5 L188 434.3 L189 434.3 L190 434.3 L191 434.4 L192 434.3 L193 434.4 L194 434.3 L195 434.3 L196 434.5 L197 434.4 L198 434.3 L199 434.5 L200 434.5 L201 434.4 L202 434.6 L203 434.6 L204 434.6 L205 434.7 L206 434.7 L207 434.4 L208 434.3 L209 434.5 L210 434.7 L211 434.6 L212 434.7 L213 435 L214 435 L215 435 L216 435 L217 435.3 L218 435 L219 434.7 L220 434.8 L221 434.7 L222 434.8 L223 434.8 L224 434.7 L225 434.4 L226 434.5 L227 434.2 L228 434.2 L229 434.3 L230 434.2 L231 434.1 L232 434.3 L233 434.4 L234 434.3 L235 434.6 L236 434.5 L237 434.4 L238 434.2 L239 434.4 L240 434.3 L241 434.4 L242 434.6 L243 434.7 L244 434.6 L245 435.2 L246 434.8 L247 434.8 L248 434.8 L249 434.6 L250 434.2 L251 434.1 L252 434 L253 434.1 L254 433.3 L255 431.7M335 435.3 L336 434.6 L337 434.8 L338 434.9 L339 434.9 L340 434.7 L341 434.4 L342 434.7 L343 434.4 L344 434.6 L345 434.5 L346 434.6 L347 434.6 L348 434.6 L349 434.5 L350 434.6 L351 434.7 L352 434.6 L353 434.7 L354 434.9 L355 434.5 L356 434.6 L357 434.8 L358 434.7 L359 434.5 L360 434.4 L361 434.1 L362 434.1 L363 434 L364 434.4 L365 434.3 L366 434.6 L367 434.6 L368 434.6 L369 434.7 L370 434.7 L371 434.5 L372 434.6 L373 434.4 L374 434.1 L375 433.9 L376 434.2 L377 434.2 L378 434.2 L379 434.3 L380 434.4 L381 434.4 L382 434.5 L383 434.5 L384 434.6 L385 434.4 L386 434.2 L387 434.1 L388 434.2 L389 434.2 L390 434.1 L391 434.2 L392 434.4 L393 434.1 L394 434.4 L395 434.4 L396 434.6 L397 433.1M490 434.5 L491 435.1 L492 434.7 L493 434.5 L494 434.4 L495 434.5 L496 434.4 L497 434.5 L498 434.3 L499 434.2 L500 434.3 L501 434.4 L502 434.6 L503 434.6 L504 434.4 L505 434.4 L506 434.4 L507 434.4 L508 434.7 L509 434.7 L510 434.7 L511 434.1 L512 433.8" fill="none" stroke="#111" stroke-width="3.2" stroke-linejoin="round"/>
<path d="M94 435.8l.2 .1l.2 -.7l.2 0l.2 -2.4l.2 3.3l.2 -.6l.2 -.3l.2 -2.6l.2 2.6l.2 -1.1l.2 .4l.2 .4l.2 -.6l.2 .9l.2 -2.3l.2 .9l.2 1.1l.2 -.1l.2 -1.7l.2 3.8l.2 -2.4l.2 -1.9l.2 1.5l.2 1.8l.2 -2.7l.2 1.7l.2 -2.4l.2 3.6l.2 -1.3l.2 -2l.2 2l.2 .2l.2 -2.9l.2 1.3l.2 -1.2l.2 1.9l.2 1.7l.2 -.4l.2 .5l.2 3.1l.2 -2.8l.2 3.8l.2 -1l.2 .7l.2 -1.4l.2 .5l.2 -2.7l.2 -.6l.2 -3.1l.2 -4.4l.2 1.8l.2 -.8l.2 -4.4l.2 2.6l.2 -.8l.2 4l.2 .4l.2 -2.3l.2 4.4l.2 .5l.2 -.5l.2 -.4l.2 2.7l.2 4l.2 .3l.2 -3.3l.2 .8l.2 1.1l.2 1l.2 4.6l.2 -4.9l.2 -.9l.2 -1.1l.2 -4.2l.2 -2.3l.2 -3.3l.2 -1.4l.2 -1.8l.2 -3.4l.2 5.6l.2 1.7l.2 2l.2 -1.3l.2 .2l.2 2.7l.2 2.7l.2 4.7l.2 -1.9l.2 -.4l.2 2.5l.2 -1.5l.2 1.7l.2 2.4l.2 2.4l.2 -3.4l.2 -4.2l.2 3.5l.2 -3.3l.2 -4.4l.2 1.5l.2 -5.4l.2 -3.2l.2 -2.4l.2 2.5l.2 -.4l.2 2.7l.2 .1l.2 0l.2 .9l.2 3.8l.2 2.4l.2 1.1l.2 -.9l.2 1.8l.2 1.8l.2 .3l.2 1.2l.2 -1.7l.2 4l.2 -2l.2 1.5l.2 -3.9l.2 -2.8l.2 -1.8l.2 -1.7l.2 -1.4l.2 -3.8l.2 -5.6l.2 -3l.2 4.2l.2 .3l.2 3l.2 3l.2 -1.9l.2 4.1l.2 3.1l.2 1.3l.2 .3l.2 -.3l.2 1l.2 2.8l.2 .2l.2 -1.4l.2 5l.2 -.5l.2 -4.4l.2 2.1l.2 -2.7l.2 1.3l.2 -2.3l.2 -7.2l.2 -1.2l.2 -5.5l.2 -3.7l.2 1l.2 3.6l.2 1.6l.2 4.6l.2 -.4l.2 1l.2 5.6l.2 -.4l.2 1.9l.2 -1.9l.2 4.9l.2 -1.5l.2 1.2l.2 .5l.2 2.5l.2 -3.3l.2 -.7l.2 .5l.2 -5.9l.2 -1.7l.2 -2.8l.2 -4.4l.2 -.9l.2 -2l.2 -2l.2 5.9l.2 -.5l.2 3.3l.2 1.6l.2 -.6l.2 2.6l.2 2.7l.2 .7l.2 1.3l.2 -.9l.2 4.1l.2 -1.7l.2 4.2l.2 -.5l.2 -4l.2 0l.2 -1.1l.2 -2.2l.2 1.6l.2 -.9l.2 -2.2l.2 -5.3l.2 1.7l.2 -.5l.2 -3.2l.2 1.2l.2 .6l.2 4.8l.2 -2.8l.2 5.4l.2 -.9l.2 1.7l.2 .5l.2 -1.2l.2 1.1l.2 -2.3l.2 1.7l.2 -.4l.2 5.1l.2 -2.1l.2 1.9l.2 -.6l.2 1l.2 -3.5l.2 -2.2l.2 -1.2l.2 -3.2l.2 -3.3l.2 -.8l.2 -4.4l.2 2.4l.2 .4l.2 1.5l.2 3.6l.2 -.8l.2 3.6l.2 -1.1l.2 4.5l.2 -.3l.2 1.7l.2 .8l.2 -.1l.2 2.6l.2 2.7l.2 -1.7l.2 -1.9l.2 -1l.2 -1.3l.2 -1l.2 -4.9l.2 -4.1l.2 -3.8l.2 -1.9l.2 .6l.2 2.6l.2 4.5l.2 -1.2l.2 3.6l.2 -.2l.2 1.6l.2 .7l.2 2.9l.2 -1l.2 4.5l.2 -1.6l.2 2.6l.2 -1l.2 .7l.2 -4.1l.2 .1l.2 -.2l.2 -2.5l.2 -1l.2 -1.3l.2 -1.2l.2 -3.4l.2 -1l.2 1.6l.2 2.3l.2 -1l.2 -1l.2 1.8l.2 2.1l.2 3.2l.2 -1.5l.2 -.3l.2 1.2l.2 3.8l.2 -1.2l.2 -.2l.2 0l.2 1.6l.2 4.1l.2 -3.5l.2 -.3l.2 -2.8l.2 -.4l.2 -4.7l.2 -3.7l.2 -3.5l.2 .6l.2 1.2l.2 1.9l.2 2.6l.2 .3l.2 1.5l.2 3.8l.2 1.7l.2 .8l.2 .7l.2 2.1l.2 -1.7l.2 .9l.2 0l.2 -.1l.2 -1.8l.2 -4.7l.2 .7l.2 -4.8l.2 .5l.2 -3.9l.2 -.6l.2 -1.9l.2 3.1l.2 4.4l.2 -1.8l.2 -1.7l.2 4.6l.2 -.7l.2 5.3l.2 -1.1l.2 0l.2 3.5l.2 .1l.2 .7l.2 -1.7l.2 -1.2l.2 3.1l.2 -5.2l.2 1.5l.2 -5.5l.2 2.7l.2 -2l.2 -2.4l.2 -2.8l.2 -3.5l.2 1.6l.2 2.9l.2 1.7l.2 -2.9l.2 6.6l.2 .3l.2 1.9l.2 .9l.2 -.1l.2 -1.3l.2 .5l.2 .3l.2 1.9l.2 .2l.2 3.1l.2 1l.2 1.7l.2 -5.3l.2 .5l.2 -4.2l.2 -2.8l.2 -3.7l.2 -1l.2 -6.5l.2 4.1l.2 2l.2 -2.6l.2 1.9l.2 5.8l.2 0l.2 3.9l.2 2.5l.2 -.2l.2 -2.4l.2 5l.2 1.5l.2 -1.3l.2 -1.8l.2 -.5l.2 1.3l.2 -5.9l.2 -.3l.2 -.3l.2 -1.3l.2 2.2l.2 -.5l.2 .6l.2 .3l.2 -.2l.2 -.3l.2 .6l.2 0l.2 1l.2 -.8l.2 2.8l.2 -6l.2 2l.2 1.2l.2 1.1l.2 -2.1l.2 1l.2 -1.2l.2 2.1l.2 .7l.2 -.1l.2 -3.2l.2 .6l.2 1.9l.2 -1.1l.2 -.2l.2 1.7l.2 -2.3l.2 0l.2 2.4l.2 -2.5l.2 1.6l.2 -1.2l.2 1.1l.2 .3l.2 -3.3l.2 2.2l.2 .6l.2 -2.5l.2 1.9l.2 -.3l.2 1.9l.2 -2.8l.2 1.5l.2 .4l.2 -.2l.2 -.3l.2 -1.6l.2 1.3l.2 .3l.2 -1l.2 1.4l.2 .2l.2 -2.9l.2 2.7l.2 .3l.2 -1.7l.2 .3l.2 4.7l.2 -3.3l.2 -1l.2 -.5l.2 2.4l.2 -1.6l.2 .7l.2 .9l.2 -1.5l.2 .3l.2 -.8l.2 .3l.2 -.5l.2 1.7l.2 -2.5l.2 4.7l.2 -2.2l.2 -1.2l.2 1l.2 -.6l.2 .5l.2 -1l.2 -.5l.2 .6l.2 1.6l.2 -4.1l.2 3.4l.2 -.7l.2 .3l.2 -1.2l.2 2.2l.2 -2.4l.2 1.9l.2 -3.2l.2 3.5l.2 -.5l.2 -.4l.2 -1.3l.2 1.8l.2 1.3l.2 .9l.2 -2.5l.2 -2.4l.2 1.9l.2 -1.2l.2 -1.6l.2 4.6l.2 -.9l.2 .3l.2 -2.5l.2 .1l.2 2.1l.2 .2l.2 -1.9l.2 1.8l.2 -2.9l.2 2.8l.2 .1l.2 -.1l.2 .1l.2 -.1l.2 -.1l.2 0l.2 -1.1l.2 -1.9l.2 1.5l.2 .7l.2 -1.6l.2 1.8l.2 1l.2 -.6l.2 1.9l.2 -1.6l.2 -.4l.2 -1l.2 -.7l.2 .8l.2 .2l.2 0l.2 -1.4l.2 .9l.2 3.6l.2 -2.8l.2 2.1l.2 -2.7l.2 1.2l.2 -.3l.2 .8l.2 .1l.2 -.9l.2 .1l.2 -1.5l.2 2.1l.2 -1.4l.2 1l.2 -2l.2 1.7l.2 -.8l.2 .1l.2 1.2l.2 .7l.2 -2.6l.2 1.7l.2 -.8l.2 3.2l.2 -.5l.2 -3.6l.2 -.7l.2 3.6l.2 -1.9l.2 -1.1l.2 3.6l.2 .3l.2 -4.2l.2 2.1l.2 -1.1l.2 .6l.2 .2l.2 .1l.2 -1.7l.2 2.2l.2 -.1l.2 -1.4l.2 2.2l.2 -1.3l.2 -.9l.2 .8l.2 -.4l.2 0l.2 .7l.2 -1.8l.2 1.8l.2 -3.1l.2 1.3l.2 1l.2 1.6l.2 .8l.2 .8l.2 -2.5l.2 .3l.2 .2l.2 .5l.2 -.1l.2 -.1l.2 1.2l.2 -3.3l.2 0l.2 .3l.2 .4l.2 0l.2 2.9l.2 -2.9l.2 .7l.2 -1.9l.2 1.1l.2 -.6l.2 1.7l.2 1.3l.2 -.1l.2 .6l.2 -3.2l.2 1.8l.2 .7l.2 .3l.2 -1.4l.2 .5l.2 1.2l.2 -2l.2 .2l.2 0l.2 -2.3l.2 3.2l.2 -1l.2 -.6l.2 1.1l.2 -.2l.2 .7l.2 -1.2l.2 -.1l.2 -.7l.2 .1l.2 .6l.2 -1.2l.2 1.1l.2 .2l.2 0l.2 -1.3l.2 3.4l.2 -2.7l.2 .2l.2 1.2l.2 -.7l.2 .6l.2 -.1l.2 -.2l.2 .1l.2 -.6l.2 1.1l.2 -3.8l.2 2.9l.2 0l.2 1.3l.2 .1l.2 -.7l.2 -2.5l.2 2.8l.2 -1.9l.2 .3l.2 -.9l.2 1l.2 1.8l.2 -1.5l.2 .3l.2 -1.9l.2 -.1l.2 .5l.2 .9l.2 -1l.2 .6l.2 2.3l.2 -2.1l.2 1.3l.2 1.3l.2 -3.4l.2 .7l.2 -1.1l.2 1.1l.2 -.2l.2 .4l.2 1.8l.2 -2.5l.2 .1l.2 -.3l.2 1.3l.2 -.6l.2 -1.5l.2 2.8l.2 -.8l.2 .9l.2 -.5l.2 -.9l.2 .3l.2 .1l.2 -2.3l.2 1.2l.2 -.3l.2 1.8l.2 -1.9l.2 2.3l.2 -1l.2 1l.2 -.1l.2 .8l.2 .3l.2 -2.7l.2 1.2l.2 -1.2l.2 1.2l.2 .2l.2 -.4l.2 1.7l.2 -1.2l.2 -1.6l.2 -.5l.2 1.1l.2 .3l.2 1.6l.2 -1.9l.2 1.5l.2 -1.8l.2 -1.1l.2 2.3l.2 -.3l.2 -1.6l.2 2.5l.2 -.6l.2 -1.1l.2 1l.2 0l.2 .1l.2 -1.6l.2 -1l.2 2.3l.2 -.5l.2 1l.2 -.5l.2 -.4l.2 -.4l.2 1.6l.2 -2.6l.2 3.5l.2 -2.4l.2 -.5l.2 .6l.2 .2l.2 .5l.2 2l.2 -3.5l.2 3.3l.2 -.4l.2 -1l.2 -.5l.2 1.4l.2 -1.1l.2 .2l.2 -.5l.2 1.2l.2 -1.8l.2 -.8l.2 1.7l.2 -1.7l.2 1.1l.2 -.4l.2 .4l.2 2.8l.2 -2.2l.2 2.9l.2 -2.9l.2 3.1l.2 -4.4l.2 .5l.2 -.3l.2 .8l.2 -1.4l.2 2.2l.2 -.9l.2 -.7l.2 3.1l.2 -3.2l.2 -.6l.2 3.6l.2 -3.1l.2 .4l.2 .5l.2 .8l.2 -2.3l.2 .8l.2 2.2l.2 -3.7l.2 1.6l.2 -.3l.2 0l.2 -1.4l.2 3.2l.2 -3l.2 .6l.2 2.5l.2 -2.9l.2 2.3l.2 -2.2l.2 1l.2 0l.2 3.1l.2 -1l.2 -1.8l.2 -.3l.2 1l.2 3.2l.2 -5l.2 .4l.2 -2.4l.2 1l.2 -3.7l.2 -2.4l.2 -.6l.2 1.9l.2 -2.3l.2 1.1l.2 .5l.2 -.4l.2 6.4l.2 .4l.2 3.8l.2 -2.1l.2 2.2l.2 2.7l.2 -.2l.2 1.9l.2 -2.3l.2 3.5l.2 .1l.2 -.6l.2 -5.1l.2 -.2l.2 -1.6l.2 -1.5l.2 -3.3l.2 -3.3l.2 -.4l.2 -3.8l.2 -1.5l.2 2l.2 3.6l.2 -1.1l.2 1.7l.2 3.2l.2 -1.5l.2 5.2l.2 2l.2 1.1l.2 -.1l.2 2.5l.2 -1.7l.2 2.2l.2 1.5l.2 -1.2l.2 -1.8l.2 -1.4l.2 -1.6l.2 -2.2l.2 -1.2l.2 -3.1l.2 -1.4l.2 -4.5l.2 .9l.2 2.6l.2 4.1l.2 -.1l.2 1.7l.2 -2.5l.2 4.7l.2 3.4l.2 1.4l.2 -2.3l.2 4.2l.2 -1.2l.2 -.7l.2 -4.5l.2 1.9l.2 0l.2 -7l.2 1.2l.2 -1.7l.2 -3.3l.2 .7l.2 .9l.2 2.3l.2 .8l.2 1.6l.2 -1l.2 1l.2 1.6l.2 2l.2 1.2l.2 .9l.2 1.8l.2 -2l.2 1.5l.2 .9l.2 -.8l.2 .3l.2 -4.2l.2 -2.2l.2 -2.7l.2 -.3l.2 -4.7l.2 .5l.2 2.1l.2 .6l.2 .8l.2 1.3l.2 -.7l.2 3.6l.2 1.6l.2 .8l.2 1.5l.2 -1l.2 -1.6l.2 2.9l.2 1.6l.2 .7l.2 .1l.2 -1.4l.2 -2.5l.2 -2l.2 .2l.2 -4.3l.2 -2.1l.2 -2.5l.2 -1.7l.2 -.2l.2 .8l.2 1.5l.2 -.2l.2 1.2l.2 2.5l.2 1.8l.2 5.1l.2 -3.5l.2 2.3l.2 3.5l.2 -2.6l.2 3.7l.2 1.6l.2 -2.1l.2 3.9l.2 -4.8l.2 1.1l.2 -3.2l.2 -.9l.2 -7l.2 -.4l.2 -6.7l.2 .7l.2 2.4l.2 -.9l.2 5.6l.2 1.6l.2 .8l.2 1.4l.2 3.7l.2 -1.1l.2 1l.2 2l.2 1.4l.2 2.6l.2 -5.5l.2 .3l.2 -1.1l.2 -.1l.2 -1.8l.2 -1.9l.2 .6l.2 -3.3l.2 -3.7l.2 -1.5l.2 .8l.2 2.8l.2 .8l.2 -.1l.2 0l.2 1.7l.2 4.7l.2 .9l.2 -1.6l.2 3.6l.2 -2.7l.2 2.9l.2 -2.1l.2 3l.2 1.3l.2 1.3l.2 -3.5l.2 -.3l.2 -3.2l.2 -2l.2 -4.3l.2 -1.2l.2 -5l.2 1.5l.2 -4.5l.2 1.3l.2 3.5l.2 -.5l.2 1.7l.2 1.4l.2 6.2l.2 .5l.2 3.3l.2 -3l.2 -.4l.2 4.4l.2 3.1l.2 -.3l.2 1.1l.2 1.3l.2 -1.2l.2 -.9l.2 -1.4l.2 -2.9l.2 -1.7l.2 -4.7l.2 -2.1l.2 -1.3l.2 -5.2l.2 .3l.2 0l.2 3.3l.2 -.1l.2 7.1l.2 -3.1l.2 3l.2 2.4l.2 -1.9l.2 2.8l.2 2.8l.2 -.2l.2 .3l.2 1l.2 .5l.2 2.2l.2 -2.1l.2 -5.9l.2 1.5l.2 -3l.2 -3.6l.2 -.7l.2 -9.6l.2 6.6l.2 -2.6l.2 4.2l.2 -1.3l.2 4.8l.2 2.7l.2 -.2l.2 2.1l.2 1.7l.2 .7l.2 2.7l.2 .6l.2 2.1l.2 -3.2l.2 2.2l.2 -3.5l.2 -1.1l.2 -1.5l.2 -4l.2 -2.7l.2 -2.4l.2 -3.5l.2 -2.8l.2 1.5l.2 -1.7l.2 2l.2 3.8l.2 4.3l.2 -1l.2 .5l.2 3.2l.2 4.3l.2 2.4l.2 -2l.2 1.5l.2 2.8l.2 -.2l.2 1.9l.2 -2.2l.2 -.4l.2 -1l.2 -4.7l.2 .5l.2 -3l.2 -4.9l.2 0l.2 -1.9l.2 -2.4l.2 1.2l.2 -3.4l.2 0l.2 4.4l.2 2.6l.2 4.1l.2 1.7l.2 1.4l.2 -5.6l.2 6.1l.2 3l.2 -2l.2 -1.1l.2 2.1l.2 2.4l.2 2.8l.2 -5.6l.2 1l.2 -2.1l.2 -4.4l.2 2.4l.2 -5.4l.2 -2.6l.2 -2.1l.2 .5l.2 -2.1l.2 2.4l.2 1l.2 1.7l.2 -.4l.2 6.2l.2 .9l.2 .1l.2 2.1l.2 -4.8l.2 8.4l.2 -1.6l.2 .9l.2 2.4l.2 -3.9l.2 -.8l.2 -.2l.2 -6.2l.2 3.1l.2 -1.9l.2 -5.4l.2 0l.2 -1l.2 3.2l.2 2.1l.2 -2.2l.2 4.7l.2 -.8l.2 .8l.2 1.7l.2 3.1l.2 -.1l.2 .9l.2 -1l.2 2.1l.2 -1.1l.2 -1.6l.2 -3.1l.2 -3.9l.2 -2l.2 -6.8l.2 -1.8l.2 .1l.2 4.2l.2 .9l.2 4.4l.2 1.3l.2 -.2l.2 7l.2 -1.3l.2 .1l.2 .6l.2 4.1l.2 .4l.2 -.2l.2 -3.2l.2 -2.4l.2 .2l.2 -2.5l.2 -4.8l.2 -2.3l.2 -3.2l.2 .9l.2 -.4l.2 .2l.2 1.5l.2 .1l.2 3.5l.2 5l.2 -1l.2 .1l.2 .3l.2 3l.2 3.1l.2 .6l.2 -1.1l.2 .7l.2 -2.2l.2 1.1l.2 .3l.2 -3.9l.2 -2.7l.2 2.5l.2 -1.3l.2 -1.5l.2 -1.4l.2 3.9l.2 0l.2 2l.2 -1.9l.2 -.7l.2 .9l.2 -.7l.2 .5l.2 -.9l.2 -.7l.2 3.3l.2 -.9l.2 -.4l.2 -1.2l.2 2.9l.2 -.6l.2 -.8l.2 -1.7l.2 2.1l.2 .2l.2 -2.2l.2 -.3l.2 -2.2l.2 3.1l.2 2.2l.2 -1.7l.2 .4l.2 .1l.2 -2.4l.2 3.2l.2 -1.3l.2 -2.3l.2 2.4l.2 -4.6l.2 3.8l.2 .7l.2 .8l.2 -1.4l.2 1.3l.2 -2.7l.2 .1l.2 1.5l.2 2l.2 -.9l.2 -.4l.2 -1.5l.2 1.6l.2 -2.3l.2 .3l.2 1.2l.2 -.1l.2 -.6l.2 -.2l.2 .3l.2 .2l.2 1.2l.2 1.7l.2 -2.8l.2 -1.4l.2 1.5l.2 .1l.2 1.4l.2 .6l.2 -.7l.2 -1.2l.2 -1.2l.2 2.2l.2 -1.9l.2 -.9l.2 0l.2 1.8l.2 1.1l.2 -.9l.2 -.1l.2 .4l.2 -1.7l.2 -.4l.2 1.8l.2 -.2l.2 1.6l.2 -2.3l.2 -1.9l.2 3l.2 .3l.2 .9l.2 .4l.2 -.1l.2 -1.8l.2 1.2l.2 -2.4l.2 1.8l.2 -2l.2 1.9l.2 -2.3l.2 2.9l.2 -2.1l.2 -1.1l.2 3.2l.2 -.7l.2 -1.4l.2 .4l.2 .4l.2 .8l.2 -.5l.2 -.9l.2 2.8l.2 -1.3l.2 -.9l.2 -1.1l.2 2.5l.2 -2.6l.2 2.4l.2 -.9l.2 -1.6l.2 1.8l.2 0l.2 -.3l.2 3l.2 -3.5l.2 1.3l.2 -.1l.2 -2.2l.2 -.4l.2 1.9l.2 -3l.2 4.1l.2 -.6l.2 -.7l.2 .1l.2 .4l.2 -2.3l.2 .8l.2 -.4l.2 1.8l.2 -1.6l.2 0l.2 2.9l.2 -1.8l.2 .1l.2 -2.3l.2 2.6l.2 -1.6l.2 1.1l.2 1.4l.2 -2.4l.2 .4l.2 .8l.2 .6l.2 .4l.2 -1.4l.2 -.4l.2 -2.1l.2 3.7l.2 .9l.2 -2.4l.2 2.1l.2 0l.2 -2.2l.2 .2l.2 .7l.2 -1.1l.2 1.7l.2 -2.2l.2 2.4l.2 -.4l.2 0l.2 1.9l.2 -2.4l.2 1.8l.2 -2.1l.2 .3l.2 -.7l.2 .1l.2 -.1l.2 1l.2 1.4l.2 -3.4l.2 2.8l.2 -.9l.2 .2l.2 -.6l.2 .1l.2 1.1l.2 .6l.2 -1.1l.2 -3.2l.2 2.8l.2 .7l.2 1.5l.2 -1.9l.2 -3.1l.2 2.3l.2 .4l.2 .1l.2 -.4l.2 .9l.2 -.9l.2 .2l.2 -.8l.2 -.5l.2 -.7l.2 2.7l.2 -2.5l.2 1.6l.2 -.8l.2 .4l.2 1.9l.2 -3.1l.2 .6l.2 -.2l.2 1.1l.2 -.1l.2 1.9l.2 -.6l.2 .2l.2 1.7l.2 -3l.2 1.1l.2 -1.9l.2 .5l.2 .1l.2 0l.2 .7l.2 -1.8l.2 2l.2 -1.3l.2 -1.6l.2 2.1l.2 .1l.2 1.2l.2 -.3l.2 -2.1l.2 -.1l.2 3.2l.2 -1.3l.2 .2l.2 .3l.2 -2.1l.2 2.8l.2 .7l.2 -3.3l.2 2.1l.2 -1.7l.2 1.9l.2 -1.6l.2 -.8l.2 1.6l.2 -.1l.2 -1.1l.2 -.4l.2 .5l.2 .5l.2 0l.2 .1l.2 -.1l.2 2.2l.2 -2.5l.2 -.5l.2 .5l.2 1.9l.2 -1.4l.2 -1l.2 1.6l.2 -1.3l.2 -1.3l.2 .9l.2 1.4l.2 -.8l.2 .2l.2 0l.2 -.8l.2 -1.7l.2 1.3l.2 2.6l.2 -2.7l.2 4.1l.2 -1.9l.2 -1.7l.2 .9l.2 1.6l.2 -3.4l.2 2.5l.2 -2.3l.2 3.4l.2 -3.6l.2 3.7l.2 -3.2l.2 1.6l.2 1.3l.2 -1.7l.2 .1l.2 -1l.2 1.6l.2 .3l.2 -.8l.2 -1.4l.2 .9l.2 -2.3l.2 3.7l.2 -.1l.2 -3l.2 .1l.2 3.5l.2 .6l.2 .4l.2 -2.7l.2 1.2l.2 -2l.2 2.2l.2 -1.6l.2 -1l.2 3.8l.2 1.4l.2 -1.1l.2 -1.4l.2 -1.4l.2 -1.4l.2 -1.5l.2 -.5l.2 -4.2l.2 -6.2l.2 2.8l.2 2.4l.2 -.9l.2 4.4l.2 1.4l.2 -1.6l.2 5.1l.2 -1l.2 -.4l.2 3.2l.2 3.2l.2 1.1l.2 -1.8l.2 .6l.2 2.2l.2 1.8l.2 -4.2l.2 -.8l.2 -4.4l.2 -3.1l.2 .2l.2 .4l.2 -8l.2 -.7l.2 -.5l.2 -1.7l.2 4.2l.2 .9l.2 1.9l.2 3.8l.2 .7l.2 3.3l.2 -1l.2 1.5l.2 0l.2 5l.2 -2.6l.2 -.8l.2 4.8l.2 -3l.2 4.3l.2 -2.5l.2 -2.9l.2 -2.3l.2 .7l.2 -4.8l.2 2.4l.2 -3.9l.2 -4.1l.2 -1.1l.2 1.6l.2 .4l.2 2.3l.2 2l.2 -2l.2 6.3l.2 -5l.2 4.9l.2 .8l.2 2.6l.2 -1l.2 2.2l.2 -.9l.2 .3l.2 2.3l.2 -3.8l.2 0l.2 -2.5l.2 -5.7l.2 -1.2l.2 -1.8l.2 -4.1l.2 .5l.2 2.2l.2 .3l.2 3.2l.2 4.6l.2 .2l.2 .2l.2 .9l.2 3.6l.2 0l.2 .9l.2 1.7l.2 .6l.2 .5l.2 -4.4l.2 -1.6l.2 -2.2l.2 -3.9l.2 -5.3l.2 .8l.2 -2.4l.2 .7l.2 5.1l.2 -2.8l.2 3.6l.2 5.1l.2 .4l.2 1.6l.2 1l.2 -1.7l.2 3.1l.2 2.9l.2 1.5l.2 -4.7l.2 -.2l.2 -1l.2 -.8l.2 -3.1l.2 -3.5l.2 -.9l.2 -4.4l.2 1.2l.2 .4l.2 5l.2 -4.2l.2 5.6l.2 2.3l.2 -.5l.2 -1.8l.2 1.9l.2 .9l.2 3.7l.2 -2.4l.2 2.7l.2 0l.2 1.7l.2 -3.4l.2 -1l.2 -2.9l.2 -1.2l.2 -4.9l.2 -2.1l.2 -4.8l.2 .6l.2 -.3l.2 1.7l.2 3.3l.2 4.5l.2 2.7l.2 1.2l.2 1l.2 .2l.2 5.2l.2 -.7l.2 -.3l.2 4.2l.2 -1.5l.2 -5l.2 -1.6l.2 3l.2 -4.3l.2 0l.2 -1.7l.2 -2l.2 -5l.2 -.9l.2 -.2l.2 3.8l.2 -1.6l.2 1.1l.2 3l.2 -2.3l.2 5.2l.2 -2.7l.2 3l.2 -.4l.2 3.6l.2 -2.3l.2 2.5l.2 -.5l.2 3.9l.2 1.1l.2 -4.1l.2 3.2l.2 -2.8l.2 .5l.2 -5.6l.2 -1.8l.2 -1.8l.2 -6.1l.2 -2.4l.2 .9l.2 2.1l.2 .5l.2 4.2l.2 3.2l.2 2.2l.2 2.3l.2 -.6l.2 1.2l.2 2.3l.2 1.9l.2 1.7l.2 -1.4l.2 -3.7l.2 -.1l.2 -1.4l.2 -2.5l.2 -3.7l.2 -2l.2 -2.9l.2 -2.8l.2 -.3l.2 1.6l.2 1.6l.2 1.9l.2 1.3l.2 3.2l.2 1.7l.2 2.8l.2 .2l.2 -.2l.2 3.5l.2 -1l.2 1.4l.2 -.3l.2 1.4l.2 .4l.2 -6.4l.2 1.3l.2 1l.2 -5.3l.2 -4.1l.2 -.4l.2 -4.6l.2 -1.5l.2 -2.4l.2 6l.2 .2l.2 1.5l.2 -.4l.2 1.6l.2 2.6l.2 4.1l.2 5.2l.2 -5l.2 -.1l.2 3.6l.2 1.4l.2 0l.2 -.5l.2 .9l.2 -.2l.2 2.2l.2 -2.7l.2 -4.3l.2 -.8l.2 -7.1l.2 -1.5l.2 -3.1l.2 -2.9l.2 1.3l.2 1.7l.2 .3l.2 5.2l.2 1.8l.2 .3l.2 2.6l.2 2.2l.2 -1.7l.2 2.4l.2 1.1l.2 .8l.2 1l.2 4.8l.2 -1.4l.2 -.2l.2 -.6l.2 -5.8l.2 .2l.2 -1.6l.2 -4.5l.2 -5.7l.2 -1.2l.2 -1.7l.2 -2.4l.2 -.8l.2 5.4l.2 2.9l.2 1.9l.2 -.7l.2 4.2l.2 3.8l.2 -2.5l.2 4.3l.2 -1.7l.2 1.1l.2 1.5l.2 4.6l.2 .9l.2 -.5l.2 -3.3l.2 -2l.2 -1.5l.2 -1.3l.2 -3.2l.2 1.4l.2 -4.1l.2 -1.6l.2 -2.9l.2 -2.5l.2 .3l.2 4l.2 -.4l.2 3.2l.2 3.1l.2 1.4l.2 .5l.2 1.4l.2 -1l.2 .8l.2 .7l.2 3l.2 2l.2 -4.3l.2 1.6l.2 2.2l.2 -2.1l.2 -.2l.2 -5l.2 -4.1l.2 -2.3l.2 -2.6l.2 -3.7l.2 .6l.2 3l.2 2.1l.2 3.5l.2 -2.1l.2 4.7l.2 .2l.2 1.7l.2 .6l.2 4.4l.2 -4.6l.2 3.8l.2 .6l.2 2.4l.2 .3l.2 -4.2l.2 0l.2 -4l.2 -1.2l.2 -.4l.2 -.8l.2 -3.8l.2 -5.8l.2 3.1l.2 2.8l.2 .5l.2 2.2l.2 .2l.2 1.7l.2 2.1l.2 1.5l.2 .2l.2 2.4l.2 -.7l.2 .6l.2 1.3l.2 -2l.2 -1.7l.2 -.3l.2 .9l.2 -3.2l.2 -2.9l.2 -.9l.2 -6l.2 -2.1l.2 2l.2 5.2l.2 -.7l.2 3.5l.2 -1.6l.2 .7l.2 .9l.2 1.7l.2 1.8l.2 1.4l.2 -.4l.2 4l.2 -.9l.2 -1.4l.2 2l.2 4.4l.2 -4.2l.2 1.5l.2 -4.8l.2 -.7l.2 -4.5l.2 -2.4l.2 -4l.2 -.4l.2 -4.1l.2 1.5l.2 1.1l.2 3.1l.2 -1.2l.2 3.7l.2 2.3l.2 2.7l.2 2.9l.2 -.2l.2 .5l.2 -2.8l.2 3.1l.2 1.6l.2 1.6l.2 2.1l.2 -.5l.2 .3l.2 -3.7l.2 .3l.2 -5.1l.2 -2.9l.2 -6l.2 -1.5l.2 -2.1l.2 3.9l.2 -.4l.2 1.7l.2 1.5l.2 2l.2 3.8l.2 1.9l.2 -.8l.2 2.6l.2 .8l.2 -.4l.2 1.1l.2 3.7l.2 -3.2l.2 -1.3l.2 -1.8l.2 -2.3l.2 -3.3l.2 -4.6l.2 -3.8l.2 -3.9l.2 2.6l.2 1l.2 4.9l.2 1.3l.2 3.4l.2 2.9l.2 -.5l.2 1.6l.2 -.3l.2 1.4l.2 1.7l.2 -5.4l.2 2.1l.2 1.7l.2 -3.1l.2 1.9l.2 -.7l.2 -.4l.2 -.3l.2 2.2l.2 -3l.2 .6l.2 -.4l.2 -1.2l.2 2.4l.2 -1l.2 2.4l.2 -3.9l.2 2.1l.2 -.6l.2 1.2l.2 -1.4l.2 0l.2 -.8l.2 1.5l.2 -.1l.2 -2.1l.2 3.7l.2 -1.9l.2 .2l.2 1.1l.2 0l.2 -.3l.2 -1.1l.2 -.5l.2 3.5l.2 -2.1l.2 -3.6l.2 3.8l.2 -.6l.2 -.7l.2 .2l.2 -.4l.2 -1.3l.2 2.6l.2 -1l.2 -.2l.2 -1.3l.2 2.3l.2 .3l.2 -1.8l.2 1.6l.2 -.1l.2 -1.5l.2 2.6l.2 -.8l.2 -1.2l.2 .8l.2 0l.2 -1.2l.2 -.4l.2 .9l.2 0l.2 1.6l.2 -.8l.2 -1.5l.2 1.9l.2 .6l.2 -3.7l.2 2l.2 1.4l.2 .5l.2 -1.1l.2 -.3l.2 .9l.2 -.6l.2 1.1l.2 -.6l.2 -1.4l.2 -1.8l.2 -.8l.2 1.8l.2 .7l.2 -.6l.2 .7l.2 1.1l.2 -1.4l.2 1.1l.2 -2.1l.2 2.9l.2 -1.7l.2 -.1l.2 1.9l.2 -.6l.2 1.2l.2 .1l.2 -.6l.2 -1l.2 -.5l.2 0l.2 -.4l.2 .7l.2 .6l.2 -.1l.2 -1.8l.2 1.8l.2 -2.3l.2 .5l.2 2l.2 -1.2l.2 1.2l.2 -1.4l.2 1.1l.2 -2" fill="none" stroke="#111" stroke-width="1.5" stroke-linejoin="round"/>
<path d="M94 476.7 L95 476.8 L96 477.1 L97 476.9 L98 476.7 L99 476.7 L100 476.6 L101 476.6 L102 475.9 L103 474.9M176 477.6 L177 477.6 L178 477.2 L179 476.9 L180 476.6 L181 476.9 L182 476.8 L183 476.6 L184 477.1 L185 476.9 L186 477 L187 477 L188 477.2 L189 477.1 L190 477.1 L191 477 L192 476.6 L193 476.7 L194 476.9 L195 476.8 L196 476.9 L197 476.8 L198 476.6 L199 476.7 L200 476.7 L201 476.6 L202 476.8 L203 476.7 L204 476.9 L205 476.9 L206 477 L207 477 L208 477.2 L209 477.4 L210 477.7 L211 477.7 L212 477.2 L213 477 L214 476.6 L215 476.3 L216 476.3 L217 476.3 L218 476.3 L219 476.3 L220 476.7 L221 477 L222 477 L223 477.4 L224 477.6 L225 477.4 L226 477.2 L227 477.2 L228 477.1 L229 477 L230 477.1 L231 477.1 L232 477.1 L233 476.8 L234 476.8 L235 476.7 L236 476.6 L237 477 L238 476.9 L239 477.1 L240 477.4 L241 477.5 L242 477.1 L243 477.1 L244 477.1 L245 476.8 L246 476.9 L247 477.2 L248 477.2 L249 476.8 L250 476.8 L251 476.8 L252 476.9 L253 477 L254 477.4 L255 478M327 477.3 L328 477.3 L329 476.7 L330 476.7 L331 476.7 L332 476.9 L333 476.9 L334 476.9 L335 476.9 L336 477 L337 476.7 L338 476.9 L339 477.1 L340 477 L341 477.2 L342 477 L343 476.8 L344 476.6 L345 476.6 L346 476.3 L347 476.5 L348 476.5 L349 476.6 L350 477 L351 477.3 L352 477.3 L353 477 L354 476.8 L355 476.5 L356 476.6 L357 476.6 L358 476.6 L359 476.5 L360 476.8 L361 477.1 L362 477.2 L363 477.2 L364 477.1 L365 477 L366 476.9 L367 477.1 L368 477.2 L369 477.3 L370 477.4 L371 477.1 L372 477.1 L373 477.1 L374 477.1 L375 477.1 L376 477 L377 477 L378 476.7 L379 476.9 L380 476.7 L381 476.8 L382 476.6 L383 477.1 L384 477 L385 477.2 L386 477.1 L387 477.2 L388 477.1 L389 476.9 L390 476.9 L391 476.9 L392 476.8 L393 476.6 L394 476.8 L395 476.6 L396 476.7 L397 475.4M496 476.8 L497 476.7 L498 476.3 L499 476.5 L500 476.3 L501 476.4 L502 476.6 L503 476.7 L504 476.8 L505 476.8 L506 477 L507 476.9 L508 476.8 L509 476.9 L510 476.9 L511 476.6 L512 476.4" fill="none" stroke="#111" stroke-width="3.2" stroke-linejoin="round"/>
<path d="M94 476.5l.2 .5l.2 -.3l.2 .9l.2 -.5l.2 -2l.2 1.8l.2 1.3l.2 -2.1l.2 .7l.2 .7l.2 -1.1l.2 3.3l.2 -3.2l.2 -.5l.2 -1.3l.2 4.3l.2 -.4l.2 1.4l.2 -3.9l.2 .7l.2 0l.2 1.9l.2 -3.7l.2 1.8l.2 -1.8l.2 .7l.2 -.8l.2 2.6l.2 -1.7l.2 .8l.2 -2.9l.2 4.7l.2 -1.7l.2 .7l.2 -.4l.2 -.6l.2 .5l.2 1.5l.2 -1.1l.2 -1.6l.2 2.3l.2 -3.9l.2 4l.2 -3.3l.2 3.1l.2 .2l.2 -3.7l.2 -1.1l.2 2.8l.2 -4.9l.2 -1.3l.2 .9l.2 -.3l.2 .7l.2 .7l.2 .4l.2 3.5l.2 1.1l.2 1.2l.2 1.6l.2 .1l.2 1.1l.2 -.5l.2 1.9l.2 2.1l.2 -3.5l.2 -.2l.2 -1.2l.2 -.8l.2 -.1l.2 -6.1l.2 1.4l.2 -4.2l.2 -1.5l.2 0l.2 0l.2 2.3l.2 2.6l.2 .2l.2 2.3l.2 .8l.2 2.3l.2 .3l.2 1.9l.2 -1.6l.2 -2l.2 2.3l.2 1.9l.2 3.2l.2 -3l.2 .8l.2 -4.6l.2 -2.3l.2 -3.2l.2 -3.5l.2 -2.8l.2 -4.6l.2 1.6l.2 4.5l.2 1.9l.2 2.5l.2 -.5l.2 6.6l.2 3.4l.2 -2l.2 -2.1l.2 6.2l.2 -.3l.2 .6l.2 2.3l.2 -2.1l.2 -1.7l.2 -2.7l.2 .7l.2 -5.5l.2 -4.2l.2 -1.6l.2 -1.7l.2 -5.3l.2 -1l.2 5.7l.2 -1.4l.2 2.6l.2 2.9l.2 3.3l.2 .7l.2 4.3l.2 -3l.2 2.8l.2 1.6l.2 -.3l.2 .8l.2 3.6l.2 -3.6l.2 2.9l.2 -4.6l.2 -3.2l.2 .6l.2 -.1l.2 -5.8l.2 -2.7l.2 -.9l.2 2.4l.2 .3l.2 2.4l.2 2.4l.2 -.5l.2 -1l.2 5.8l.2 -1.3l.2 2.1l.2 0l.2 1.3l.2 2.1l.2 -3l.2 3.7l.2 -3.8l.2 -3.9l.2 .4l.2 -1.9l.2 -.5l.2 -5.6l.2 -.4l.2 -.3l.2 .5l.2 -1.3l.2 4.4l.2 2.8l.2 -.7l.2 2.3l.2 1l.2 -.2l.2 .8l.2 2.9l.2 1l.2 .6l.2 -.8l.2 2.9l.2 -1.1l.2 -5.8l.2 .2l.2 -2.2l.2 -5.2l.2 -2.7l.2 -4.7l.2 1.6l.2 -1.1l.2 4.3l.2 2.8l.2 4.1l.2 1.5l.2 -.3l.2 5.6l.2 -.2l.2 .7l.2 -2.9l.2 3.8l.2 .4l.2 1.2l.2 -3.3l.2 -.8l.2 -2.2l.2 -3.5l.2 -5.9l.2 1.8l.2 -5.8l.2 .9l.2 4l.2 -.4l.2 2.4l.2 -.5l.2 4.4l.2 2.3l.2 1.4l.2 -3.3l.2 4.2l.2 .6l.2 -1.1l.2 2.8l.2 -.7l.2 .8l.2 -2.7l.2 -.8l.2 -.4l.2 -4l.2 -2.3l.2 -2.1l.2 -4.6l.2 4.6l.2 -2.4l.2 1.7l.2 3.5l.2 -1l.2 2.8l.2 -.9l.2 .2l.2 4.7l.2 .4l.2 1.5l.2 -1.6l.2 4.5l.2 1.9l.2 -1.2l.2 -4.2l.2 1.8l.2 -4.1l.2 2.2l.2 -5l.2 .1l.2 -2.9l.2 -2.6l.2 -2.6l.2 -1.9l.2 -.1l.2 4.3l.2 2.2l.2 -.1l.2 2.5l.2 3.3l.2 -1.3l.2 2.9l.2 -.7l.2 1l.2 -1.2l.2 3.3l.2 -3l.2 2.2l.2 3.6l.2 -3.9l.2 -1.5l.2 1.1l.2 -.4l.2 -3.7l.2 .7l.2 -3.6l.2 -4l.2 -1.6l.2 5.4l.2 -1.8l.2 2.4l.2 1l.2 .5l.2 1.7l.2 2.3l.2 -1.3l.2 3.9l.2 -.4l.2 -.6l.2 .2l.2 1.6l.2 1.3l.2 1l.2 -1.5l.2 -5.1l.2 -2.3l.2 -.4l.2 -4.7l.2 -1.9l.2 -7.2l.2 5.7l.2 .3l.2 5.4l.2 -.9l.2 1.4l.2 2.6l.2 3.2l.2 .7l.2 1l.2 .3l.2 -1.6l.2 3.6l.2 .3l.2 -.5l.2 -3l.2 -.2l.2 -2.6l.2 -2.1l.2 -.4l.2 -.9l.2 -6.5l.2 -1.6l.2 1l.2 5.2l.2 -1.8l.2 2.8l.2 .6l.2 2.6l.2 .4l.2 3.2l.2 -.6l.2 1.1l.2 -1.8l.2 .3l.2 3.7l.2 -1.9l.2 1.5l.2 1.1l.2 -.2l.2 -4.5l.2 0l.2 -.8l.2 -5.7l.2 1.1l.2 -2.1l.2 -4.3l.2 0l.2 4.1l.2 -1.7l.2 2.7l.2 1l.2 3.2l.2 1l.2 1l.2 .8l.2 -1.4l.2 4.7l.2 -2.4l.2 1.4l.2 4.9l.2 .1l.2 -3.1l.2 -2.9l.2 -.2l.2 .6l.2 -2l.2 -3.9l.2 -4.6l.2 -5.7l.2 1l.2 -1l.2 2.3l.2 1l.2 5l.2 -.2l.2 3.1l.2 1.3l.2 -.4l.2 4.6l.2 -4.9l.2 4l.2 1.9l.2 2.8l.2 -.3l.2 -.9l.2 1.2l.2 -1.9l.2 -1.9l.2 1.9l.2 -7.2l.2 -.8l.2 -4.1l.2 -4.4l.2 -3.6l.2 2.7l.2 1.5l.2 -.2l.2 6l.2 -2.1l.2 4.4l.2 -.7l.2 5.8l.2 -.7l.2 1l.2 -.8l.2 1.4l.2 -2.4l.2 .8l.2 -1.9l.2 1.1l.2 .1l.2 -1.3l.2 1.8l.2 -2.9l.2 3.1l.2 .3l.2 -3.1l.2 1.5l.2 .2l.2 -2.7l.2 .7l.2 0l.2 2.6l.2 -1.6l.2 -.6l.2 3.7l.2 -4.3l.2 2.3l.2 -1.3l.2 0l.2 .8l.2 -.4l.2 .9l.2 -.4l.2 -1.2l.2 -.9l.2 -3l.2 3.5l.2 .6l.2 -.5l.2 1.8l.2 -1.5l.2 3.6l.2 -1.5l.2 -.2l.2 -.3l.2 -2.7l.2 .7l.2 .6l.2 .5l.2 .2l.2 .2l.2 -.8l.2 .8l.2 -2l.2 -1l.2 2.7l.2 1.5l.2 -1.2l.2 -1.1l.2 2.1l.2 .6l.2 -2.4l.2 -.6l.2 -.2l.2 -.4l.2 3.7l.2 -3.1l.2 1l.2 -.1l.2 -.7l.2 3.2l.2 -1.9l.2 -2.1l.2 1.7l.2 2.7l.2 -3.3l.2 1.4l.2 .8l.2 -1.6l.2 -.6l.2 .6l.2 -1.5l.2 2l.2 -2.2l.2 2.1l.2 -.2l.2 .7l.2 -3.3l.2 1.7l.2 .1l.2 1.8l.2 -2.3l.2 .5l.2 -1.1l.2 2.7l.2 -.8l.2 -.7l.2 -.9l.2 .2l.2 -.4l.2 1.2l.2 -.5l.2 -.3l.2 2.4l.2 -1.2l.2 2l.2 -3l.2 3.3l.2 -1.4l.2 -2l.2 .7l.2 1.1l.2 -3.5l.2 3.7l.2 -2.6l.2 1l.2 1l.2 -1.3l.2 .5l.2 .9l.2 .2l.2 -3.6l.2 4l.2 -2l.2 .3l.2 -1.5l.2 1l.2 2.7l.2 -3.6l.2 2.1l.2 1.8l.2 -.6l.2 -1.2l.2 -1.5l.2 1.2l.2 .1l.2 -.8l.2 .1l.2 .3l.2 -.4l.2 1.5l.2 0l.2 -2.4l.2 2.7l.2 -1.6l.2 -1.4l.2 2.6l.2 -.3l.2 -1.7l.2 2.4l.2 .8l.2 -2.7l.2 2.8l.2 -2.2l.2 -.3l.2 .2l.2 .8l.2 .4l.2 .3l.2 -2l.2 1.3l.2 .8l.2 -3.8l.2 1.5l.2 1.2l.2 .9l.2 -1.9l.2 .5l.2 1.4l.2 -.1l.2 -.5l.2 -1.1l.2 -.3l.2 3.4l.2 -1.6l.2 .6l.2 -.4l.2 0l.2 -1.5l.2 .7l.2 2l.2 -1.4l.2 -.9l.2 1.6l.2 .1l.2 -1.4l.2 4.6l.2 -5.5l.2 1.8l.2 -1.7l.2 1l.2 1.3l.2 -.7l.2 -.4l.2 -.9l.2 -2l.2 1.1l.2 -.7l.2 1.6l.2 .1l.2 -.7l.2 -.2l.2 3.4l.2 -4.3l.2 .5l.2 1.8l.2 -.8l.2 -.4l.2 .5l.2 .5l.2 -.8l.2 1.5l.2 -1.5l.2 -.6l.2 -.9l.2 2.6l.2 -1.6l.2 1.1l.2 -1.2l.2 .6l.2 -.4l.2 1.2l.2 -1l.2 -1.1l.2 1.7l.2 2.2l.2 -3.4l.2 2.4l.2 -1.2l.2 -1l.2 .4l.2 0l.2 -.3l.2 .7l.2 -.4l.2 1.6l.2 -.3l.2 -.6l.2 2.3l.2 .5l.2 -2.8l.2 .8l.2 1.7l.2 -.9l.2 -.3l.2 -1.6l.2 -.4l.2 4.1l.2 -5.2l.2 1.7l.2 -.9l.2 2.4l.2 -.8l.2 .4l.2 1l.2 -2.3l.2 3.3l.2 -1.8l.2 -.3l.2 -2.7l.2 4.6l.2 -1.3l.2 .7l.2 -1.6l.2 -1.9l.2 2.2l.2 -.8l.2 -.8l.2 2.3l.2 -3.6l.2 2.5l.2 .6l.2 -2l.2 2.5l.2 -3.3l.2 1.8l.2 -2.5l.2 4l.2 -.3l.2 -.1l.2 -.4l.2 .9l.2 -1.8l.2 -.2l.2 1.5l.2 -.2l.2 -.3l.2 0l.2 -.3l.2 2.1l.2 -4.5l.2 2.4l.2 -.3l.2 .1l.2 1.1l.2 -3l.2 4.1l.2 -2.4l.2 -1.3l.2 2.2l.2 -3.7l.2 1.5l.2 1.3l.2 .7l.2 -1.4l.2 .6l.2 2.1l.2 -2l.2 1.7l.2 -1.4l.2 -.9l.2 .2l.2 -1.5l.2 1.4l.2 1.5l.2 -.9l.2 -.2l.2 .5l.2 -.4l.2 .6l.2 -.4l.2 -.4l.2 .4l.2 2.5l.2 -2.2l.2 -.3l.2 -.4l.2 .6l.2 .4l.2 2.2l.2 -5.8l.2 3.8l.2 -.8l.2 -.3l.2 3l.2 -4l.2 1.8l.2 .6l.2 2.4l.2 -3.6l.2 1l.2 .8l.2 -1.4l.2 -.7l.2 .2l.2 .9l.2 -1.3l.2 -.5l.2 -.2l.2 1.6l.2 -3l.2 1.8l.2 .5l.2 2.9l.2 -1.8l.2 -1.7l.2 .9l.2 -.4l.2 1.6l.2 .9l.2 -1.5l.2 1.1l.2 -1.4l.2 .2l.2 -.7l.2 -2l.2 4l.2 -1.6l.2 -1.5l.2 -.1l.2 2.7l.2 -.5l.2 -1.1l.2 -.7l.2 3l.2 -.6l.2 -.6l.2 -.7l.2 1.2l.2 -1l.2 -.9l.2 -.4l.2 0l.2 -.4l.2 .6l.2 2.7l.2 -4.1l.2 1.1l.2 .6l.2 2.3l.2 -1.7l.2 -.3l.2 1.8l.2 -1.9l.2 -2l.2 4.1l.2 -2.5l.2 2.9l.2 -2l.2 2.3l.2 -2.6l.2 -.6l.2 -1l.2 1.9l.2 2.1l.2 .1l.2 -.6l.2 -3.3l.2 1.9l.2 2.1l.2 -1.5l.2 -3l.2 3.9l.2 2.9l.2 .7l.2 1.2l.2 -.4l.2 -1.2l.2 -3l.2 -1.6l.2 .5l.2 -4.7l.2 .6l.2 -3.4l.2 -4.7l.2 1.3l.2 1.4l.2 2.1l.2 .4l.2 3l.2 2.5l.2 1.4l.2 -2.3l.2 -.2l.2 5.1l.2 -3l.2 1.1l.2 2l.2 2.8l.2 1.3l.2 -3.3l.2 -6l.2 5.3l.2 -2.1l.2 -4.3l.2 -.7l.2 .4l.2 -4l.2 -4.8l.2 -.4l.2 5.6l.2 -3.4l.2 4.9l.2 1.9l.2 2l.2 2.8l.2 .5l.2 -3.9l.2 5.4l.2 .8l.2 .9l.2 .2l.2 3.2l.2 -1.3l.2 -2.7l.2 -.4l.2 -2.9l.2 -1.5l.2 -4.3l.2 -2.8l.2 -4.9l.2 -2.1l.2 2.3l.2 2.9l.2 2.2l.2 1.3l.2 3.5l.2 -.4l.2 5l.2 .2l.2 1.2l.2 1.9l.2 -.3l.2 1.1l.2 -3.6l.2 1.1l.2 -1.8l.2 -2.1l.2 .3l.2 -8.2l.2 1.9l.2 -6.7l.2 1.6l.2 -1.1l.2 3.5l.2 .9l.2 3.5l.2 2.5l.2 2.8l.2 .3l.2 2.5l.2 -.7l.2 3l.2 -1l.2 .5l.2 3.1l.2 -7l.2 1l.2 -.2l.2 -4.7l.2 -4.1l.2 0l.2 -5.2l.2 -1.9l.2 1.7l.2 4.1l.2 1.6l.2 2.6l.2 .4l.2 1.4l.2 2.6l.2 1.2l.2 -.3l.2 3.3l.2 -2.2l.2 .2l.2 -.4l.2 -.5l.2 -.6l.2 -2.7l.2 -1l.2 -4.5l.2 -.7l.2 -.9l.2 2.9l.2 -2.5l.2 3.9l.2 2.1l.2 .5l.2 -1.3l.2 5.8l.2 -3.8l.2 .9l.2 .9l.2 2.2l.2 1.2l.2 2.8l.2 -.7l.2 -1.6l.2 -2.8l.2 -2.4l.2 -4l.2 -3.1l.2 -4.4l.2 -5l.2 2l.2 -.8l.2 8.1l.2 -.8l.2 1.2l.2 3.3l.2 3.3l.2 .8l.2 .4l.2 3.1l.2 .7l.2 -.3l.2 6.4l.2 -2.1l.2 -3.9l.2 -2.8l.2 1l.2 .8l.2 -5.5l.2 -2.2l.2 -2l.2 -5.3l.2 -2.8l.2 .7l.2 4.1l.2 2.6l.2 1.3l.2 .3l.2 1.4l.2 4.1l.2 -1.2l.2 2.4l.2 2.2l.2 -2.2l.2 2.8l.2 -.8l.2 3.2l.2 1.2l.2 -1.8l.2 -1.7l.2 -3.9l.2 -1.3l.2 -4.2l.2 -1.6l.2 -2.4l.2 -3.4l.2 -3.1l.2 1.3l.2 4.1l.2 -.9l.2 5l.2 2.2l.2 -1.5l.2 7.5l.2 -1.7l.2 2.2l.2 -.5l.2 2.7l.2 .4l.2 1.1l.2 -2.8l.2 4.3l.2 -2.9l.2 -5.6l.2 .6l.2 1l.2 -5.9l.2 -2.4l.2 -8l.2 -2.3l.2 3.4l.2 3.1l.2 -1.1l.2 2.6l.2 4.3l.2 .2l.2 4l.2 -1.6l.2 4.8l.2 -2.4l.2 3.2l.2 -1.4l.2 3.8l.2 1.1l.2 1.4l.2 -.8l.2 -1.2l.2 -2.4l.2 .6l.2 -2.4l.2 -.5l.2 -2.7l.2 -1.6l.2 -3.3l.2 -6.1l.2 -2.6l.2 2.1l.2 .3l.2 -.2l.2 6.7l.2 1.5l.2 -1.4l.2 1.9l.2 2.6l.2 .4l.2 3.2l.2 -.8l.2 1.9l.2 -.8l.2 2.4l.2 1l.2 -2.3l.2 .1l.2 -1.1l.2 1.4l.2 .3l.2 -3.8l.2 -2.8l.2 -.8l.2 -.8l.2 -3.3l.2 .6l.2 -5.1l.2 2.3l.2 1.3l.2 4.6l.2 -3l.2 2.3l.2 3.3l.2 1.9l.2 -1.1l.2 1.3l.2 1.4l.2 2.7l.2 -2.7l.2 1.1l.2 1.4l.2 .5l.2 -1.5l.2 -.1l.2 -2.9l.2 -.6l.2 -1.8l.2 1.3l.2 -6.8l.2 -.9l.2 -3.3l.2 1.7l.2 4.7l.2 -3.4l.2 3.3l.2 1.4l.2 2.8l.2 .8l.2 1.4l.2 -2.9l.2 3.7l.2 1.6l.2 -.2l.2 -1.2l.2 3.5l.2 -.7l.2 -1.8l.2 -1.4l.2 -1.1l.2 -3.7l.2 -1.8l.2 -5.7l.2 -3.4l.2 3.2l.2 -4.2l.2 7.1l.2 1.5l.2 3.1l.2 -.3l.2 1.1l.2 -.1l.2 2.7l.2 1.2l.2 -2.7l.2 3.5l.2 1.3l.2 1.5l.2 1.6l.2 .2l.2 .7l.2 -6.6l.2 -1.1l.2 -2.7l.2 .8l.2 -5.6l.2 -2.4l.2 -.1l.2 .2l.2 -1.3l.2 4.5l.2 1.6l.2 .8l.2 1.7l.2 2.5l.2 2.8l.2 -2l.2 -1.2l.2 1.3l.2 .3l.2 1l.2 -.2l.2 -2.6l.2 1.1l.2 -1l.2 -.8l.2 2.1l.2 -1.8l.2 .2l.2 1.1l.2 -2l.2 -.2l.2 1l.2 .7l.2 .8l.2 -2.5l.2 -.5l.2 2.7l.2 -.8l.2 .8l.2 1l.2 -2.2l.2 -2.1l.2 2.5l.2 -.9l.2 1.2l.2 -.5l.2 0l.2 1.3l.2 -.5l.2 -1.1l.2 -.3l.2 1.9l.2 -.7l.2 -1.4l.2 -.8l.2 2.4l.2 -.3l.2 -.2l.2 -.7l.2 3.6l.2 -2.3l.2 -2.3l.2 2l.2 -1.5l.2 .8l.2 2.2l.2 -2.8l.2 .6l.2 -1.2l.2 2.4l.2 -1.3l.2 -1.1l.2 2.8l.2 -.2l.2 -1.7l.2 2.7l.2 -2.3l.2 2.1l.2 -3.1l.2 0l.2 -1.1l.2 .6l.2 3l.2 -2.2l.2 .1l.2 1.9l.2 -.8l.2 2l.2 -2.9l.2 1.1l.2 -.6l.2 -.9l.2 1.5l.2 .6l.2 1.4l.2 -2.3l.2 1.3l.2 0l.2 -1.6l.2 -2.1l.2 2.2l.2 -.6l.2 1.8l.2 -.2l.2 -2.8l.2 2l.2 -1.8l.2 1.1l.2 -.4l.2 -.6l.2 1.3l.2 -1.2l.2 -.1l.2 1.4l.2 .2l.2 -1.2l.2 3.5l.2 -1.4l.2 -2.1l.2 1.6l.2 .1l.2 -1.3l.2 1.4l.2 -.4l.2 -2.9l.2 -.8l.2 3.6l.2 -1l.2 1.1l.2 -3l.2 1.8l.2 -1.1l.2 3.3l.2 .4l.2 -2.7l.2 1.6l.2 -2.3l.2 1.6l.2 .5l.2 -.2l.2 .6l.2 .2l.2 .1l.2 .4l.2 -2.1l.2 1.4l.2 -.4l.2 .7l.2 -1.1l.2 .5l.2 .7l.2 -.4l.2 .4l.2 -2.8l.2 1.8l.2 .7l.2 -2.1l.2 -.2l.2 1.3l.2 2l.2 -2.2l.2 -1.8l.2 .3l.2 1.5l.2 .1l.2 .1l.2 -2.2l.2 3.8l.2 -1.6l.2 -.9l.2 2.2l.2 -.1l.2 -2.1l.2 -1l.2 1.2l.2 2.3l.2 -.7l.2 -.5l.2 -2l.2 1.7l.2 -2.2l.2 2l.2 2.4l.2 -2.9l.2 -.3l.2 1.6l.2 -2.1l.2 1.4l.2 -1.9l.2 .9l.2 .5l.2 1.6l.2 -.6l.2 -1.2l.2 .9l.2 -1.3l.2 2.8l.2 .3l.2 -.7l.2 .5l.2 -2l.2 1.9l.2 -3.1l.2 2.9l.2 1.2l.2 -2.6l.2 .7l.2 -1.6l.2 1.8l.2 -1.5l.2 .4l.2 -2.4l.2 2.7l.2 -.3l.2 .6l.2 .8l.2 -2.6l.2 1.3l.2 .2l.2 -1.1l.2 1.2l.2 1.7l.2 -3.7l.2 4.3l.2 -1.9l.2 -.8l.2 -.5l.2 1.9l.2 .7l.2 -3.4l.2 3.7l.2 -.6l.2 -1.9l.2 -.6l.2 .3l.2 1.9l.2 -1.2l.2 .6l.2 -.3l.2 -.6l.2 -.7l.2 1.5l.2 -.1l.2 1.3l.2 -.8l.2 -1.8l.2 2.1l.2 -1.3l.2 1.3l.2 -1.1l.2 -.2l.2 -1.6l.2 2.1l.2 -.9l.2 1.5l.2 -.8l.2 -1.2l.2 2.4l.2 -4.3l.2 3l.2 -.7l.2 1.9l.2 -.5l.2 -1.5l.2 1.4l.2 1.1l.2 -.9l.2 -1.8l.2 .8l.2 .2l.2 -.9l.2 .5l.2 .6l.2 0l.2 -.6l.2 -1.7l.2 3.5l.2 -2.7l.2 1.9l.2 -1.5l.2 .2l.2 -1.2l.2 4l.2 -1.9l.2 .1l.2 0l.2 -.5l.2 -.9l.2 .9l.2 -2.5l.2 1.9l.2 0l.2 .8l.2 1.5l.2 -.8l.2 -1.8l.2 2l.2 -2.3l.2 1.3l.2 -1.7l.2 .7l.2 .7l.2 -.3l.2 -.2l.2 1.3l.2 .5l.2 -2.4l.2 .4l.2 0l.2 1.4l.2 2.1l.2 -2.3l.2 -.4l.2 1.7l.2 .5l.2 -1.7l.2 -.4l.2 2.3l.2 -1.4l.2 -1.7l.2 2.4l.2 -1.7l.2 1.3l.2 -1.7l.2 -2.9l.2 2.7l.2 1.3l.2 -2l.2 .6l.2 .6l.2 1.8l.2 -2.2l.2 1.5l.2 -.7l.2 .8l.2 -1.4l.2 1.5l.2 -1.4l.2 2.1l.2 -1.6l.2 1.5l.2 -1.2l.2 -2.6l.2 -1.3l.2 6.3l.2 -2.9l.2 -3.5l.2 4.7l.2 -.4l.2 -1.3l.2 0l.2 1.5l.2 -3.8l.2 2.3l.2 1.4l.2 -.3l.2 0l.2 -.6l.2 -.3l.2 -1.6l.2 1.5l.2 -1.4l.2 1.5l.2 1.6l.2 -.2l.2 -.8l.2 .4l.2 -2.9l.2 3.1l.2 -2.8l.2 .4l.2 .9l.2 1.4l.2 .6l.2 -2.3l.2 2.6l.2 -1.6l.2 0l.2 -1.3l.2 1.2l.2 -3.9l.2 -1.9l.2 -3.6l.2 .1l.2 4.1l.2 0l.2 0l.2 .5l.2 5.1l.2 3.2l.2 -1.9l.2 .2l.2 .7l.2 1.6l.2 -1l.2 1.8l.2 .5l.2 -.5l.2 .3l.2 1.8l.2 -5.5l.2 -.5l.2 -2.7l.2 -4l.2 -4.8l.2 -2.5l.2 -.1l.2 0l.2 1.6l.2 4l.2 2.4l.2 3l.2 -.8l.2 2l.2 3.4l.2 .3l.2 1.2l.2 1.1l.2 -1.3l.2 4.9l.2 -.1l.2 -5.5l.2 -1.4l.2 -.4l.2 -6.9l.2 .5l.2 -1.6l.2 -3.8l.2 -2.2l.2 6.7l.2 1.3l.2 1.5l.2 1.1l.2 1.7l.2 -3.3l.2 6.8l.2 -.1l.2 .8l.2 1.8l.2 -2.2l.2 5.8l.2 -6.6l.2 2.6l.2 -5.3l.2 .6l.2 -2.8l.2 -1.9l.2 -1.6l.2 -3.7l.2 2.5l.2 -.1l.2 1.3l.2 1.4l.2 4.4l.2 1.3l.2 -2.2l.2 2.8l.2 .2l.2 2.4l.2 -.3l.2 4.1l.2 -.1l.2 -1.9l.2 -5.4l.2 1.6l.2 -5.2l.2 .2l.2 -4.8l.2 -4l.2 -1.5l.2 -2l.2 1.4l.2 2.3l.2 2.5l.2 1.6l.2 2.7l.2 1.1l.2 -.3l.2 2.7l.2 2l.2 .7l.2 -.5l.2 2.5l.2 .9l.2 3.8l.2 .8l.2 -4.1l.2 -2.3l.2 -1.7l.2 2.5l.2 -2.4l.2 -2l.2 -2.2l.2 -3.5l.2 -3.3l.2 -1.7l.2 3.6l.2 -.3l.2 4.8l.2 -.8l.2 .1l.2 2.1l.2 -.2l.2 3.3l.2 1.4l.2 -1.1l.2 2.5l.2 -.7l.2 .9l.2 -1.5l.2 2.5l.2 4.7l.2 -4.4l.2 -2.2l.2 -1.1l.2 .2l.2 -8.3l.2 -1.1l.2 -1.1l.2 -4.8l.2 -.8l.2 .6l.2 3.6l.2 2.2l.2 -1l.2 1.4l.2 3.1l.2 4.4l.2 .9l.2 1.3l.2 -1.2l.2 -1.9l.2 4.6l.2 3.4l.2 -3.3l.2 3.7l.2 -6.3l.2 3.7l.2 -1.6l.2 -2.8l.2 1.5l.2 -3.3l.2 -2.2l.2 0l.2 -3.6l.2 -6.9l.2 4.4l.2 1.3l.2 -2.2l.2 5.5l.2 -.9l.2 1.5l.2 4l.2 -2.6l.2 0l.2 5.9l.2 -2l.2 2.8l.2 -3.1l.2 2.8l.2 2.6l.2 -2.2l.2 2.9l.2 -1.6l.2 -4.1l.2 4.1l.2 -4.3l.2 -1.5l.2 -7.9l.2 2.7l.2 -7.4l.2 1l.2 -.9l.2 4l.2 -.9l.2 .7l.2 1.6l.2 3.4l.2 -.3l.2 5l.2 -.3l.2 -.6l.2 1.2l.2 .2l.2 2.6l.2 2.2l.2 -.2l.2 .1l.2 -4.2l.2 4.3l.2 -3.5l.2 -3.2l.2 -.7l.2 -4.8l.2 -4.1l.2 -2.2l.2 1.4l.2 .6l.2 .6l.2 4.8l.2 -.1l.2 3.1l.2 3.4l.2 -1.4l.2 3.7l.2 -1.8l.2 -.2l.2 1l.2 2.1l.2 -2.9l.2 -.7l.2 1.9l.2 -3.1l.2 -.8l.2 -2.7l.2 1.6l.2 -1.8l.2 -1.8l.2 -3.4l.2 2.3l.2 .2l.2 2.6l.2 -.2l.2 .8l.2 1l.2 1.4l.2 -.6l.2 2.2l.2 2.3l.2 2.1l.2 -3.9l.2 1.8l.2 1l.2 3.3l.2 -4.3l.2 -1.5l.2 -2.1l.2 -.5l.2 -3.4l.2 -5.2l.2 -3.2l.2 .8l.2 5.6l.2 -3.1l.2 2.6l.2 1.5l.2 3.8l.2 2.8l.2 .1l.2 .4l.2 .6l.2 2.7l.2 .6l.2 -.8l.2 1.2l.2 -2.9l.2 -.5l.2 -.1l.2 .2l.2 -3.3l.2 -2.8l.2 -2.3l.2 1.4l.2 -3.6l.2 -2.2l.2 1.9l.2 .5l.2 1.7l.2 .2l.2 .1l.2 2.1l.2 2.9l.2 0l.2 -.2l.2 .3l.2 2.4l.2 -2l.2 6.3l.2 -2.1l.2 .1l.2 3.2l.2 -2.8l.2 1.2l.2 -3.1l.2 -3l.2 -.9l.2 -1.7l.2 -2.1l.2 -1.1l.2 -3l.2 -4l.2 2.3l.2 .3l.2 2.7l.2 1.4l.2 0l.2 4.7l.2 1.5l.2 .6l.2 -.1l.2 .9l.2 .6l.2 3.3l.2 -1.1l.2 1.1l.2 .6l.2 1l.2 .3l.2 -4.9l.2 -1.6l.2 -.2l.2 -2.7l.2 -.8l.2 -3.2l.2 -1.4l.2 -5l.2 -1.9l.2 .9l.2 2.9l.2 2.5l.2 4.1l.2 1.1l.2 .4l.2 5l.2 -1.6l.2 1.1l.2 .8l.2 .6l.2 2.2l.2 -.2l.2 .3l.2 3.3l.2 -2l.2 -4.5l.2 -1.8l.2 -2.8l.2 -1.2l.2 -5.1l.2 -5.4l.2 -5l.2 4.8l.2 1.8l.2 4.8l.2 1.8l.2 3.3l.2 1.3l.2 .9l.2 1.9l.2 0l.2 4.1l.2 1.5l.2 -2.9l.2 3l.2 -1.5l.2 -3.8l.2 2.7l.2 -2.8l.2 -1.5l.2 -4.4l.2 -2.2l.2 -.8l.2 -5.9l.2 2.7l.2 .3l.2 .5l.2 5.1l.2 -.3l.2 2.8l.2 -1.1l.2 4.3l.2 -.1l.2 -.2l.2 -.8l.2 4.9l.2 -2.2l.2 4.8l.2 -2.3l.2 1.6l.2 -2.2l.2 -2.3l.2 0l.2 -2.7l.2 -3.7l.2 -2.2l.2 -3l.2 -3.3l.2 1.3l.2 -.3l.2 2.1l.2 4.1l.2 1.1l.2 -.9l.2 3.5l.2 2.9l.2 2.4l.2 -.1l.2 .1l.2 -.8l.2 .4l.2 3.9l.2 .9l.2 -1.9l.2 -2.5l.2 -1.4l.2 -2.2l.2 -4l.2 .6l.2 -4.7l.2 .3l.2 -3l.2 -.4l.2 2.5l.2 -2.1l.2 4l.2 -1.3l.2 3.7l.2 2.4l.2 .9l.2 1.2l.2 .7l.2 1.1l.2 1.1l.2 1.8l.2 -.5l.2 1.4l.2 -.6l.2 -.1l.2 -1.4l.2 .7l.2 -1.9l.2 -4.8l.2 -4l.2 -2.7l.2 -3.8l.2 -2.6l.2 4.5l.2 2.8l.2 1.3l.2 4.7l.2 -1.4l.2 .9l.2 4.8l.2 -.5l.2 .4l.2 .6l.2 2.9l.2 2l.2 -2l.2 -3.8l.2 -3.5l.2 -2l.2 -2.7l.2 1.7l.2 -2.4l.2 -2.4l.2 2.1l.2 -.4l.2 5l.2 .2l.2 2.3l.2 1.1l.2 2.3l.2 -2.6l.2 .8l.2 -.4l.2 .4l.2 1.2l.2 -2.5l.2 -.5l.2 -.3l.2 -1l.2 -.4l.2 2.7l.2 -3.6l.2 .5l.2 2.5l.2 .3l.2 -.4l.2 -.7l.2 -1.5l.2 .5l.2 2.5l.2 -2.2l.2 .5l.2 1.2l.2 0l.2 -2.1l.2 1.3l.2 .5l.2 .8l.2 -2.3l.2 1l.2 1.4l.2 -.5l.2 -1.3l.2 -1l.2 -.8l.2 1.4l.2 1l.2 -.3l.2 1.1l.2 -1.8l.2 2l.2 -2.6l.2 1.5l.2 -.4l.2 -.8l.2 1.8l.2 1.4l.2 0l.2 -2.3l.2 2.6l.2 -3.3l.2 .2l.2 2.6l.2 -2.6l.2 .7l.2 .6l.2 -.1l.2 1.2l.2 -.7l.2 -2.9l.2 3.2l.2 -3.5l.2 3.3l.2 -.4l.2 .4l.2 .9l.2 -3.3l.2 1.2l.2 2.3l.2 -1.1l.2 .4l.2 -2.5l.2 1.2l.2 -2.1l.2 4.2l.2 -5.5l.2 5.4l.2 -3.5l.2 .7l.2 1.7l.2 -1.3l.2 2.7l.2 -1.5l.2 0l.2 -.5l.2 2l.2 -3.1" fill="none" stroke="#111" stroke-width="1.5" stroke-linejoin="round"/>
<path d="M94 516.1 L95 516.3 L96 516.3 L97 516.4 L98 516.2 L99 516.2 L100 515.9 L101 516.1 L102 515.1M180 513.7 L181 516 L182 516.5 L183 516.6 L184 516.6 L185 516.6 L186 516.5 L187 516.5 L188 516.4 L189 516.2 L190 516.3 L191 516.1 L192 516.3 L193 516.3 L194 516.3 L195 516.3 L196 516.3 L197 516 L198 516 L199 515.9 L200 516.1 L201 516.1 L202 516.3 L203 516.2 L204 516.3 L205 516.3 L206 516.2 L207 516.3 L208 516.5 L209 516.3 L210 516.3 L211 516 L212 516 L213 516 L214 516 L215 516.2 L216 516.4 L217 516.4 L218 516.4 L219 516.4 L220 516.2 L221 516 L222 516.2 L223 516.2 L224 516.3 L225 516.5 L226 516.4 L227 516.5 L228 516.3 L229 516.5 L230 516.4 L231 516.2 L232 516.2 L233 516.2 L234 515.8 L235 515.8 L236 515.8 L237 515.7 L238 515.4 L239 515.8 L240 516.2 L241 516.4 L242 516.3 L243 516.4 L244 516.3 L245 516 L246 516 L247 515.9 L248 515.8 L249 516.3 L250 516.7 L251 516.8 L252 516.8 L253 516.7 L254 516.3 L255 516.1 L256 516 L257 515.9 L258 516.3M334 517.2 L335 516.2 L336 516.1 L337 516.5 L338 516.5 L339 516.4 L340 516.3 L341 516 L342 516.1 L343 515.8 L344 515.7 L345 515.8 L346 515.9 L347 515.8 L348 515.9 L349 515.8 L350 515.8 L351 515.9 L352 516.2 L353 516.4 L354 516.6 L355 516.6 L356 516.6 L357 516.2 L358 516.1 L359 516 L360 515.8 L361 515.5 L362 515.5 L363 515.6 L364 515.7 L365 515.9 L366 515.9 L367 516.2 L368 516.3 L369 516.2 L370 516.3 L371 516.5 L372 516.4 L373 516.4 L374 516.5 L375 516.4 L376 516.3 L377 516.3 L378 516.6 L379 516.5 L380 516.4 L381 516.1 L382 516.2 L383 516.1 L384 516.1 L385 516.4 L386 516.2 L387 516.3 L388 516.5 L389 516.3 L390 516.7 L391 516.5 L392 516.6 L393 516.4 L394 516.2 L395 516.1 L396 516.5 L397 517.1M470 515.1 L471 515.9 L472 516.3 L473 516.2 L474 516.2 L475 516.3 L476 515.9 L477 515.9 L478 515.8 L479 515.8 L480 515.9 L481 516.2 L482 516 L483 516.1 L484 516 L485 515.8 L486 516.1 L487 516.2 L488 516.3 L489 516.3 L490 516.4 L491 516.2 L492 516.2 L493 516.2 L494 516.1 L495 516 L496 515.9 L497 515.8 L498 516 L499 516.1 L500 516.2 L501 516.2 L502 516.2 L503 516.4 L504 516.4 L505 516.7 L506 516.7 L507 516.5 L508 516.6 L509 516.6 L510 516.3 L511 515.9 L512 515.6" fill="none" stroke="#111" stroke-width="3.2" stroke-linejoin="round"/>
<path d="M94 516.1l.2 .6l.2 -3l.2 3.8l.2 -.2l.2 -1.8l.2 .1l.2 -.4l.2 1.1l.2 .3l.2 1l.2 -1.9l.2 1.6l.2 -1l.2 2l.2 -.4l.2 -2.4l.2 .7l.2 -1.1l.2 -1.4l.2 1.8l.2 4.6l.2 -3.9l.2 2.5l.2 -4.1l.2 1.7l.2 -1.3l.2 .8l.2 -1.3l.2 .4l.2 1.2l.2 -1.7l.2 -.7l.2 3.3l.2 .1l.2 1l.2 -1.3l.2 -2.4l.2 1.4l.2 -.4l.2 -.1l.2 .5l.2 2.2l.2 .7l.2 -.1l.2 -1.5l.2 -.3l.2 .7l.2 -3.3l.2 -3.2l.2 -3.4l.2 -3.6l.2 -2.6l.2 2.8l.2 .5l.2 3.9l.2 .8l.2 4.1l.2 1.3l.2 1.5l.2 -1.6l.2 3.3l.2 -1l.2 4.3l.2 -1.2l.2 3.8l.2 -2l.2 3l.2 -1.9l.2 -1.8l.2 -3.3l.2 -.5l.2 -3.1l.2 -4.5l.2 -3.9l.2 -2.2l.2 .6l.2 2.1l.2 .9l.2 4.2l.2 -.9l.2 3.9l.2 -.3l.2 4.4l.2 2.8l.2 -1.6l.2 .6l.2 2.2l.2 .6l.2 -1.4l.2 -4.2l.2 .5l.2 -1.3l.2 -4.2l.2 -5.1l.2 .3l.2 -2.2l.2 -.5l.2 -2l.2 4l.2 -1.2l.2 3.4l.2 .2l.2 3.5l.2 1.9l.2 -3.4l.2 7.8l.2 -.1l.2 -1.2l.2 -.5l.2 2.6l.2 -.8l.2 1.6l.2 2.8l.2 -.7l.2 -.2l.2 -1l.2 -2.6l.2 -4l.2 .8l.2 -5.5l.2 -.5l.2 -5.4l.2 -1.2l.2 3.2l.2 -1.6l.2 1.6l.2 4l.2 -.6l.2 2.5l.2 2.3l.2 1.9l.2 1.3l.2 1.7l.2 .4l.2 .8l.2 .5l.2 -.6l.2 2.8l.2 .3l.2 -1.6l.2 -3.6l.2 -3l.2 -2.5l.2 -5.7l.2 -2.4l.2 -5.5l.2 1.8l.2 5.6l.2 .4l.2 4l.2 .2l.2 5.3l.2 .5l.2 -1.3l.2 4.3l.2 1.5l.2 1.5l.2 3.3l.2 -7.4l.2 1.3l.2 -.9l.2 -3.8l.2 -2.1l.2 -2.3l.2 -3.4l.2 -1.4l.2 0l.2 1.5l.2 4.4l.2 -.3l.2 .7l.2 1.6l.2 .7l.2 2.9l.2 2.4l.2 -2.4l.2 .7l.2 1.6l.2 .2l.2 1.6l.2 .2l.2 -7.8l.2 1.7l.2 -4.7l.2 -3l.2 -2.9l.2 -2.8l.2 .3l.2 -.3l.2 1.7l.2 1.8l.2 3.3l.2 2.4l.2 3.3l.2 6l.2 -1.3l.2 -.3l.2 -.4l.2 2.4l.2 5l.2 -3.1l.2 1.7l.2 -4.4l.2 -2.2l.2 -.1l.2 -6.1l.2 -2.7l.2 -1.9l.2 -3.4l.2 -4.6l.2 .2l.2 .1l.2 9.6l.2 -1.5l.2 1.4l.2 2.7l.2 2.1l.2 1.5l.2 -.4l.2 3.4l.2 .3l.2 .9l.2 1.2l.2 1.8l.2 -.1l.2 -.3l.2 1.6l.2 -2.1l.2 -3.2l.2 -2.7l.2 -1.1l.2 -4.2l.2 -3.4l.2 -2.4l.2 -3.2l.2 -2.4l.2 5.8l.2 .3l.2 2l.2 2.8l.2 1.9l.2 1.7l.2 -2l.2 5.7l.2 -.5l.2 2.4l.2 .4l.2 2.2l.2 -.7l.2 3.3l.2 -2l.2 .3l.2 -.3l.2 -2.5l.2 -1.2l.2 -4.8l.2 -1.6l.2 -1.4l.2 -5.1l.2 -2.1l.2 -.4l.2 1.1l.2 .4l.2 3l.2 -.4l.2 .2l.2 5.7l.2 .4l.2 3.6l.2 .5l.2 -1.9l.2 2.8l.2 .9l.2 1l.2 1.8l.2 3.3l.2 -1.9l.2 1.4l.2 -6.3l.2 -1.1l.2 -1.5l.2 -8.3l.2 -2.5l.2 -1.2l.2 -3.4l.2 -3.1l.2 3.1l.2 3.4l.2 -1.9l.2 5l.2 2.9l.2 2.7l.2 1.2l.2 1.4l.2 0l.2 3.9l.2 -1.8l.2 2.3l.2 2.5l.2 -.3l.2 -1.8l.2 -1.5l.2 -1.1l.2 1.8l.2 -6.3l.2 .1l.2 -3.2l.2 -1.3l.2 -2.1l.2 .5l.2 .5l.2 2.1l.2 -1.6l.2 3.5l.2 6.4l.2 -4.6l.2 3.3l.2 .7l.2 2.9l.2 -1.1l.2 -1.7l.2 1.9l.2 1.1l.2 -.5l.2 .2l.2 -3.5l.2 -4.6l.2 -6.5l.2 -5.9l.2 -2l.2 2.4l.2 2.9l.2 2.8l.2 5.1l.2 -.2l.2 4.5l.2 -1.3l.2 4.6l.2 -2.3l.2 4.7l.2 2.1l.2 -2.4l.2 -1.8l.2 4.6l.2 -4.7l.2 -3.6l.2 -1.7l.2 -4.4l.2 -1.1l.2 -5.5l.2 -2.1l.2 1.6l.2 3.7l.2 1.4l.2 3.3l.2 -.2l.2 5.1l.2 2l.2 -1.1l.2 1.7l.2 .5l.2 1.1l.2 3.4l.2 -1.8l.2 1.1l.2 -1.7l.2 -.9l.2 -2.4l.2 -2.7l.2 -.3l.2 -1.7l.2 -2.6l.2 -3.7l.2 2.1l.2 3.3l.2 -4l.2 4.2l.2 2.4l.2 1.1l.2 2.1l.2 -.4l.2 2.1l.2 -2.9l.2 4.2l.2 -1.2l.2 4.9l.2 -1.4l.2 -3.8l.2 -2.3l.2 -.5l.2 -2.9l.2 .8l.2 -4.7l.2 -3.2l.2 -1l.2 -2.4l.2 4.8l.2 .8l.2 2.1l.2 -.9l.2 3.5l.2 -1l.2 2.8l.2 -2.1l.2 6l.2 -1.8l.2 1l.2 1.7l.2 -.6l.2 .8l.2 -2.8l.2 4.6l.2 -.7l.2 -2.8l.2 1.4l.2 -4.4l.2 -3l.2 .7l.2 -4.3l.2 -4.7l.2 -2.7l.2 4.4l.2 1.8l.2 2.8l.2 3l.2 1.6l.2 -3.2l.2 5.3l.2 -1.9l.2 .4l.2 1.6l.2 -1.6l.2 -1.5l.2 2l.2 -.4l.2 1.5l.2 -1.7l.2 1l.2 -1.7l.2 2.6l.2 -2.2l.2 0l.2 1.2l.2 .1l.2 -.2l.2 -1l.2 1l.2 -.1l.2 1.3l.2 -1.5l.2 -.9l.2 -.4l.2 -.7l.2 3.6l.2 -1.6l.2 .7l.2 -2.8l.2 .6l.2 1.7l.2 2.5l.2 -1.8l.2 -.2l.2 -2.2l.2 2.6l.2 -1.7l.2 .7l.2 -2.8l.2 2.5l.2 .9l.2 -1.5l.2 1l.2 -.7l.2 .8l.2 -.7l.2 .5l.2 -1l.2 .2l.2 .9l.2 -1.4l.2 .1l.2 .7l.2 .9l.2 -1l.2 1.5l.2 -2.7l.2 .4l.2 2.3l.2 -1.5l.2 .8l.2 -2.7l.2 4.3l.2 -3.9l.2 .1l.2 .8l.2 .2l.2 2.5l.2 -1.8l.2 -.2l.2 1.7l.2 -.7l.2 -1.1l.2 .5l.2 2.1l.2 -4l.2 1l.2 .2l.2 -.9l.2 2.3l.2 -1.9l.2 1l.2 .6l.2 -1.2l.2 -.2l.2 1.8l.2 -2.3l.2 -.7l.2 1.4l.2 .7l.2 -.4l.2 -1l.2 3.2l.2 -2.4l.2 1.5l.2 -.9l.2 -.4l.2 -.4l.2 -1.5l.2 2.6l.2 -.6l.2 -2.6l.2 3.3l.2 -2.7l.2 3.1l.2 -2.8l.2 1.9l.2 -1l.2 2.6l.2 .3l.2 -4.1l.2 2l.2 .1l.2 1l.2 -.1l.2 -2l.2 1.5l.2 1.3l.2 .7l.2 -2.2l.2 -2l.2 1.1l.2 1.7l.2 -2.6l.2 .1l.2 1.7l.2 -1.8l.2 1.1l.2 -1.1l.2 3.9l.2 .3l.2 -2.3l.2 0l.2 1l.2 -.9l.2 -2.9l.2 2.3l.2 0l.2 -.9l.2 -.3l.2 3.3l.2 -1l.2 -.2l.2 -1l.2 .3l.2 .4l.2 -.9l.2 -.1l.2 1l.2 2l.2 -2.1l.2 -1.8l.2 2.4l.2 -1.7l.2 .2l.2 1.3l.2 .4l.2 -1.1l.2 .5l.2 -1.8l.2 1.5l.2 -1.6l.2 -.7l.2 1.1l.2 1.4l.2 -.7l.2 -1.3l.2 -.7l.2 3.6l.2 -.7l.2 -.3l.2 .4l.2 -2.4l.2 3.3l.2 -2.1l.2 .6l.2 -.8l.2 -.7l.2 1.9l.2 -.6l.2 -1.4l.2 2.5l.2 .3l.2 -.9l.2 0l.2 .6l.2 -.3l.2 -2l.2 3.7l.2 -2.6l.2 .5l.2 -2.3l.2 2l.2 .6l.2 2.6l.2 -5.8l.2 1l.2 3.7l.2 -1.4l.2 -2.9l.2 3l.2 -2.3l.2 1.8l.2 .6l.2 0l.2 -1.7l.2 .2l.2 1l.2 -1l.2 .7l.2 0l.2 -1.3l.2 .7l.2 -.7l.2 -.2l.2 1.5l.2 -.9l.2 1.4l.2 -2l.2 3.4l.2 -2.5l.2 1.7l.2 -1.5l.2 -1.1l.2 1.6l.2 .3l.2 -.6l.2 3.1l.2 -3.4l.2 .3l.2 1.9l.2 -.9l.2 -2.2l.2 -1.1l.2 1.3l.2 2.2l.2 1.7l.2 -1.6l.2 -2.1l.2 -.4l.2 1.8l.2 -.6l.2 -.2l.2 .6l.2 -1l.2 2l.2 -2.2l.2 .7l.2 -.3l.2 2.5l.2 -2.5l.2 0l.2 .4l.2 2.1l.2 -2l.2 -1l.2 1l.2 .9l.2 .8l.2 .8l.2 -3.1l.2 .5l.2 -3l.2 3.7l.2 -.7l.2 .2l.2 -1.6l.2 -1.9l.2 4.7l.2 -2.6l.2 .5l.2 -.3l.2 2.7l.2 -2.3l.2 -.3l.2 1.6l.2 1.7l.2 -1.2l.2 -1.8l.2 .5l.2 -3.7l.2 3.2l.2 -.1l.2 1.2l.2 -1.5l.2 1.5l.2 -.7l.2 -1.1l.2 -.9l.2 .5l.2 2.5l.2 -.5l.2 -1.6l.2 -1.3l.2 2.2l.2 -1l.2 2.6l.2 -1.5l.2 -.9l.2 1.9l.2 -1.7l.2 -.2l.2 .7l.2 2.5l.2 -.7l.2 1.5l.2 -4.8l.2 .4l.2 2.9l.2 0l.2 0l.2 -2.6l.2 2.9l.2 -1.6l.2 .6l.2 -1.3l.2 .5l.2 1.2l.2 -.9l.2 -.5l.2 0l.2 .1l.2 .1l.2 .4l.2 1.9l.2 -1.7l.2 -1.3l.2 -.2l.2 .3l.2 1.2l.2 -.2l.2 .7l.2 -1.4l.2 .2l.2 -1.8l.2 1.6l.2 -1.3l.2 2.5l.2 -1l.2 -.8l.2 2.2l.2 -1.2l.2 .6l.2 -2.1l.2 1.4l.2 .2l.2 1l.2 -1.9l.2 -1.1l.2 1.8l.2 -2.1l.2 1.7l.2 1.7l.2 .3l.2 .2l.2 -.2l.2 1.4l.2 -.4l.2 -1l.2 -.1l.2 -1.4l.2 2l.2 -1.1l.2 .2l.2 .1l.2 -1.4l.2 1.2l.2 -1.9l.2 2.3l.2 .4l.2 -2l.2 -.4l.2 -1.3l.2 2.7l.2 -.6l.2 -2.2l.2 3.4l.2 -2.7l.2 -.4l.2 2.4l.2 -1.3l.2 1l.2 .3l.2 -1.9l.2 3l.2 -1.8l.2 -.4l.2 .8l.2 -.7l.2 2.2l.2 .3l.2 -2.8l.2 -1.6l.2 .7l.2 -1.8l.2 3.2l.2 1.3l.2 -1.7l.2 1l.2 -1.6l.2 1.3l.2 3.2l.2 .9l.2 1.8l.2 2.1l.2 -2.4l.2 -3.6l.2 -.4l.2 -1.4l.2 1.3l.2 -5.4l.2 -1.5l.2 -2.4l.2 -2.8l.2 -1.2l.2 5.8l.2 -1l.2 1.8l.2 .8l.2 -1.6l.2 3.4l.2 2.5l.2 1.7l.2 -.3l.2 .7l.2 1.6l.2 2.4l.2 -2.7l.2 3.8l.2 -3l.2 -1.4l.2 -.2l.2 .4l.2 -3.2l.2 -.4l.2 -2.8l.2 -1.6l.2 -4.6l.2 0l.2 -.1l.2 -.2l.2 3.2l.2 .6l.2 3l.2 -3.4l.2 3.4l.2 .5l.2 2.5l.2 -1l.2 2.2l.2 3.6l.2 -2.5l.2 4.2l.2 -2.5l.2 .1l.2 -.2l.2 -.7l.2 -.6l.2 -.3l.2 -.5l.2 -4.1l.2 .2l.2 -.2l.2 -6.6l.2 -.6l.2 .8l.2 3l.2 -.1l.2 2.6l.2 .7l.2 1.4l.2 .3l.2 2.6l.2 .8l.2 -4.5l.2 5.6l.2 .3l.2 0l.2 .5l.2 .3l.2 5.6l.2 -2.9l.2 -3.4l.2 -1.1l.2 -2.4l.2 -1.6l.2 -5.5l.2 -1.8l.2 -2.4l.2 -4.4l.2 .5l.2 3.8l.2 .1l.2 2.1l.2 -2.5l.2 6.1l.2 .7l.2 1.6l.2 5.1l.2 .6l.2 -1.2l.2 1.1l.2 4.2l.2 .4l.2 -.6l.2 -.1l.2 -.4l.2 -2.1l.2 -2.5l.2 1.5l.2 -4.9l.2 3.4l.2 -3.6l.2 -4.5l.2 .4l.2 -3.3l.2 .6l.2 -1.5l.2 1.2l.2 2.8l.2 3.3l.2 1.5l.2 -1.2l.2 -.2l.2 2.8l.2 .2l.2 2.1l.2 1.5l.2 1.5l.2 -4.9l.2 1.1l.2 5.1l.2 1.2l.2 -3.9l.2 2l.2 -1.3l.2 -2.3l.2 -2.7l.2 -1.5l.2 -.6l.2 -4.1l.2 -.8l.2 -3.8l.2 2.7l.2 -.2l.2 2.1l.2 3.9l.2 .5l.2 .4l.2 3.8l.2 0l.2 1.6l.2 -2.8l.2 -1.4l.2 4.4l.2 1l.2 .2l.2 1.3l.2 -2.7l.2 -.5l.2 1.3l.2 -3.4l.2 -3.9l.2 2.2l.2 -4.7l.2 -3.4l.2 .1l.2 .4l.2 .7l.2 -2.2l.2 6.2l.2 -1.7l.2 3.1l.2 1.4l.2 4.6l.2 -2l.2 -.1l.2 .2l.2 .2l.2 1.1l.2 1.9l.2 2l.2 .5l.2 -7.7l.2 .9l.2 -4.5l.2 -3.5l.2 -1.2l.2 -9.2l.2 1.6l.2 5.9l.2 .5l.2 4.2l.2 .8l.2 2.1l.2 5.1l.2 -1.6l.2 .8l.2 2.7l.2 5.1l.2 -3.3l.2 -.1l.2 -1.8l.2 -.4l.2 -2.8l.2 -5.5l.2 -1.8l.2 -3.7l.2 -4.7l.2 1l.2 5.2l.2 1.8l.2 -.2l.2 3.6l.2 1.1l.2 .4l.2 4.3l.2 -.1l.2 1.9l.2 2.1l.2 -2.5l.2 .5l.2 .7l.2 -3.4l.2 -.3l.2 -3.5l.2 -.2l.2 -3.9l.2 -.2l.2 -2.7l.2 -3.3l.2 2.6l.2 4.2l.2 .3l.2 .7l.2 2.2l.2 .3l.2 .6l.2 -1l.2 3l.2 -.9l.2 1.8l.2 -.4l.2 3.6l.2 .7l.2 1.7l.2 1.4l.2 -.7l.2 -5.9l.2 .6l.2 -6.3l.2 -3.5l.2 -4l.2 -5.2l.2 3.4l.2 -.2l.2 3.2l.2 -.2l.2 7.7l.2 -.8l.2 2.8l.2 2.3l.2 .8l.2 1.3l.2 1.7l.2 1l.2 4.8l.2 -3l.2 -2.2l.2 -5.9l.2 .9l.2 -1.5l.2 -2.2l.2 -5.2l.2 -1.3l.2 -5l.2 -2.8l.2 5l.2 .1l.2 1.5l.2 1.4l.2 3l.2 1.1l.2 4.1l.2 .9l.2 4.7l.2 -1.9l.2 -.3l.2 2.7l.2 1.5l.2 .5l.2 -4.7l.2 3.3l.2 -.5l.2 -3.1l.2 -3.3l.2 -.6l.2 -.1l.2 -1.5l.2 -5.8l.2 .9l.2 -4.3l.2 2.5l.2 -.8l.2 2.5l.2 3.9l.2 -1l.2 .8l.2 2l.2 2.6l.2 -.9l.2 4.7l.2 -.6l.2 2.3l.2 -.1l.2 -1.8l.2 3.9l.2 -1l.2 .6l.2 -3.7l.2 -5.5l.2 1.1l.2 -2.6l.2 -4.7l.2 1l.2 -6l.2 1.5l.2 3.6l.2 -.3l.2 4.7l.2 1.7l.2 3.2l.2 -2.4l.2 2.4l.2 1.3l.2 -1.4l.2 3.6l.2 .1l.2 1.3l.2 -3.4l.2 -.6l.2 -1.2l.2 -.7l.2 -.9l.2 -4.8l.2 1.4l.2 -6.5l.2 -.7l.2 1.1l.2 3.9l.2 1.7l.2 -.5l.2 .6l.2 7.5l.2 -5.4l.2 2.4l.2 1.7l.2 2.7l.2 -1.2l.2 1.8l.2 -2.9l.2 3.6l.2 -.8l.2 -.4l.2 -.2l.2 -2.9l.2 .6l.2 -2.2l.2 .3l.2 -3l.2 .5l.2 1.6l.2 -.3l.2 .7l.2 -2.1l.2 2.4l.2 -3l.2 4.7l.2 -.6l.2 .1l.2 -.6l.2 1.6l.2 -1.6l.2 -.4l.2 .4l.2 -1.3l.2 -1l.2 2l.2 1l.2 -1.1l.2 -.3l.2 -1.2l.2 -.1l.2 3.5l.2 -.7l.2 -.8l.2 -.8l.2 -1.9l.2 3l.2 -1.1l.2 -.7l.2 1.6l.2 0l.2 .4l.2 -1.8l.2 3.1l.2 -4.1l.2 2.6l.2 -1.3l.2 1l.2 -.1l.2 -3.2l.2 2.2l.2 -.3l.2 1.3l.2 -4.5l.2 3.7l.2 -.7l.2 1.7l.2 -1.2l.2 -.5l.2 0l.2 3.3l.2 -4.4l.2 1.7l.2 -.5l.2 .5l.2 -.6l.2 .3l.2 1.9l.2 -1.7l.2 -.3l.2 -.3l.2 3.5l.2 -3.7l.2 1l.2 .7l.2 -2.5l.2 .7l.2 .5l.2 1.2l.2 -.6l.2 -.4l.2 .7l.2 -.7l.2 -.3l.2 -.5l.2 .7l.2 0l.2 1.6l.2 -1l.2 -.6l.2 1.8l.2 -2l.2 .3l.2 .9l.2 -.6l.2 .2l.2 -1.9l.2 -.5l.2 2.9l.2 -.4l.2 .7l.2 -1.6l.2 2.4l.2 1.5l.2 -6.5l.2 2.7l.2 2.7l.2 -1.2l.2 -2.1l.2 3.2l.2 -.3l.2 -.7l.2 2.4l.2 -2.4l.2 -2.6l.2 2.5l.2 0l.2 -.7l.2 2l.2 -1.4l.2 -3.2l.2 3.1l.2 0l.2 1l.2 -2.9l.2 1.5l.2 -.1l.2 -.5l.2 2.2l.2 -1l.2 -1.4l.2 1.9l.2 -2l.2 -.3l.2 .7l.2 -.1l.2 1.8l.2 -.8l.2 -1.9l.2 -.8l.2 .9l.2 1.7l.2 -.6l.2 -.7l.2 1.1l.2 -.7l.2 -1.1l.2 .5l.2 .1l.2 -.1l.2 0l.2 -1l.2 .7l.2 2l.2 -.4l.2 -.7l.2 .7l.2 -.6l.2 1l.2 -.6l.2 -1.2l.2 -1.1l.2 4.2l.2 -2.7l.2 1.1l.2 -1.1l.2 .2l.2 1.3l.2 .5l.2 -3.6l.2 1.3l.2 .4l.2 1.1l.2 .4l.2 -2.6l.2 .4l.2 2.1l.2 .1l.2 -.7l.2 -1l.2 .8l.2 .6l.2 .5l.2 .4l.2 -.5l.2 .6l.2 -2.5l.2 2.3l.2 -.6l.2 1.2l.2 -3.2l.2 -.6l.2 .5l.2 .3l.2 -1l.2 2.4l.2 -2.1l.2 4.2l.2 -1.8l.2 -.2l.2 1.1l.2 -2.4l.2 1.4l.2 .9l.2 .3l.2 -.8l.2 -2.3l.2 2.9l.2 -1.2l.2 .9l.2 -.4l.2 -.7l.2 -1.8l.2 1.5l.2 .7l.2 -.4l.2 -1.6l.2 -.8l.2 2.1l.2 1.9l.2 -.3l.2 -1.8l.2 1.9l.2 -3.6l.2 2.6l.2 .5l.2 -.2l.2 -1.7l.2 -.1l.2 1.5l.2 1.9l.2 -1.7l.2 .2l.2 1.4l.2 -3.1l.2 -1.6l.2 -.3l.2 2.6l.2 1.8l.2 .4l.2 -.9l.2 -.3l.2 -.9l.2 .5l.2 -.4l.2 .7l.2 -1l.2 .2l.2 -.5l.2 -1.2l.2 .9l.2 -.4l.2 -1.3l.2 2.3l.2 2l.2 -1.4l.2 -2.4l.2 3.1l.2 .3l.2 -1.8l.2 -1l.2 2l.2 .1l.2 -2.3l.2 3.6l.2 -1.5l.2 -.7l.2 1.3l.2 0l.2 .5l.2 -2.6l.2 1.6l.2 -1.3l.2 .3l.2 -.6l.2 .7l.2 -.8l.2 1.5l.2 -1.7l.2 1.2l.2 .1l.2 .4l.2 .6l.2 .1l.2 -.7l.2 -.4l.2 1.6l.2 -2.1l.2 3.1l.2 -1.4l.2 .1l.2 -1.4l.2 -2.2l.2 2.1l.2 .4l.2 -1.3l.2 1l.2 1.8l.2 -.6l.2 1l.2 -.8l.2 -.5l.2 -2.1l.2 1.3l.2 -.2l.2 -1.5l.2 3.2l.2 0l.2 -.9l.2 .5l.2 -.9l.2 -2.2l.2 2.7l.2 -1.5l.2 -.5l.2 2.6l.2 -3.2l.2 .1l.2 -.4l.2 2.3l.2 .6l.2 1.5l.2 -2.1l.2 1.4l.2 -2.3l.2 .6l.2 .2l.2 1.3l.2 .1l.2 -1.2l.2 5.3l.2 -3.9l.2 3.6l.2 -.5l.2 -.5l.2 -5.3l.2 -1.2l.2 -6.4l.2 -6l.2 5l.2 1.4l.2 .4l.2 .9l.2 3.3l.2 4.6l.2 -.5l.2 2.2l.2 -.1l.2 2.8l.2 3l.2 .7l.2 -1.2l.2 -3.1l.2 -1.3l.2 -1.4l.2 -1.9l.2 -5.3l.2 -3.8l.2 -3.1l.2 -2l.2 1.3l.2 -.5l.2 1.6l.2 5.5l.2 3.6l.2 -.4l.2 3.1l.2 2.2l.2 -.1l.2 -1.1l.2 3.8l.2 5.3l.2 -6.7l.2 -1.1l.2 -.6l.2 2.8l.2 -3.8l.2 -.8l.2 -4.2l.2 -1.5l.2 -.5l.2 -6.7l.2 .2l.2 3.6l.2 0l.2 2.6l.2 2.5l.2 -.5l.2 2.4l.2 2.1l.2 2l.2 .7l.2 .3l.2 .5l.2 .1l.2 3.4l.2 -2l.2 3.9l.2 -6.7l.2 2.8l.2 -4.7l.2 1.2l.2 -2l.2 -5.5l.2 2.9l.2 -5.5l.2 -2.7l.2 -.3l.2 1.3l.2 2.1l.2 6.5l.2 -6.5l.2 6.4l.2 -.5l.2 2.9l.2 .3l.2 4.7l.2 -4.3l.2 -.9l.2 4.3l.2 1.8l.2 .4l.2 -1.2l.2 -1.5l.2 -1.3l.2 -3.1l.2 -1.1l.2 -1.2l.2 -.4l.2 -3.7l.2 -3.3l.2 -2.1l.2 2.3l.2 2.6l.2 2.6l.2 -.6l.2 .8l.2 3.4l.2 -1.1l.2 2.6l.2 .3l.2 3.4l.2 -3.8l.2 3.9l.2 -.8l.2 1l.2 1.8l.2 2.5l.2 -2.6l.2 -3.3l.2 -2l.2 -1.4l.2 -.9l.2 -5.8l.2 -5.7l.2 .6l.2 -2.5l.2 5.5l.2 2.2l.2 2.3l.2 3.5l.2 2.9l.2 .2l.2 -1.1l.2 .1l.2 3.2l.2 6.1l.2 -2.6l.2 -4.8l.2 1.8l.2 -2.1l.2 .5l.2 -4.7l.2 1.2l.2 -3.6l.2 -4.8l.2 -.9l.2 3.3l.2 .5l.2 2.1l.2 -.4l.2 -.1l.2 1.1l.2 2.2l.2 2l.2 1.9l.2 .1l.2 .4l.2 -1.8l.2 3l.2 -.9l.2 3.1l.2 -1.5l.2 -2.7l.2 -1l.2 -2.8l.2 -3.8l.2 -3.2l.2 -2l.2 -1.1l.2 3.8l.2 -.4l.2 .9l.2 .9l.2 5.5l.2 1.4l.2 2.9l.2 -.1l.2 -1.7l.2 5l.2 1.9l.2 -1.6l.2 -3.3l.2 -.5l.2 -1l.2 -2.1l.2 -4.2l.2 -2l.2 1.3l.2 -6.9l.2 -1.5l.2 2.6l.2 .9l.2 -.1l.2 3.9l.2 -2.7l.2 3.9l.2 3.6l.2 -.7l.2 1.7l.2 3.9l.2 -2.4l.2 -.5l.2 .5l.2 3.5l.2 -1l.2 1l.2 -1l.2 .8l.2 -3.6l.2 -1.4l.2 -3.1l.2 -2l.2 -2.2l.2 2.3l.2 -1.6l.2 .5l.2 3l.2 -2.3l.2 1.7l.2 4.1l.2 -1.6l.2 .2l.2 3.2l.2 0l.2 3.6l.2 -5l.2 1.7l.2 3.4l.2 -2.7l.2 -1.6l.2 .3l.2 -4.8l.2 1.9l.2 -6.6l.2 -2.3l.2 1.3l.2 2l.2 1.9l.2 2.2l.2 .8l.2 .3l.2 1.7l.2 2.8l.2 -1.9l.2 .7l.2 2.2l.2 -.3l.2 1.7l.2 2.3l.2 -5l.2 -1.8l.2 2.1l.2 -3.8l.2 -.2l.2 -4.8l.2 -1.8l.2 -5.2l.2 -.1l.2 .4l.2 1.7l.2 4.1l.2 .7l.2 4.7l.2 -1.2l.2 .8l.2 3.3l.2 -1.5l.2 .8l.2 4.4l.2 -.5l.2 1.1l.2 1.9l.2 -2.2l.2 -1.8l.2 -.3l.2 -.6l.2 -4.3l.2 -2.9l.2 1.4l.2 -5.6l.2 -.7l.2 2.3l.2 -1l.2 1.2l.2 .5l.2 -.2l.2 1.2l.2 3.7l.2 .7l.2 1.8l.2 .8l.2 .3l.2 .6l.2 -.8l.2 1l.2 .3l.2 -.3l.2 0l.2 4l.2 -2.3l.2 -1.4l.2 -.4l.2 -1.1l.2 -7.6l.2 1.9l.2 -8.7l.2 -.7l.2 3.3l.2 3.2l.2 5.5l.2 .8l.2 -.8l.2 3.4l.2 -2.2l.2 2.4l.2 -2.2l.2 2.4l.2 -1.9l.2 2.1l.2 -1.3l.2 2.8l.2 .2l.2 -3.2l.2 1.4l.2 .3l.2 -5.3l.2 .7l.2 1.4l.2 -3l.2 -.1l.2 -1.8l.2 4l.2 -1.8l.2 4.5l.2 -1.4l.2 -2.2l.2 4.5l.2 -2.5l.2 2.8l.2 -2.4l.2 4.1l.2 -3.1l.2 2.6l.2 -2.6l.2 .2l.2 .1l.2 -2l.2 1l.2 -1.9l.2 -1.6l.2 -.2l.2 -2.7l.2 3l.2 .5l.2 1.7l.2 -1.7l.2 1.9l.2 .9l.2 .1l.2 1l.2 -2.7l.2 1.8l.2 .5l.2 -1.2l.2 -.1l.2 -1.1l.2 3.1l.2 -2.3l.2 -1l.2 -1.2l.2 4.2l.2 -1l.2 .2l.2 1.1l.2 0l.2 -.7l.2 -1.2l.2 .1l.2 -.3l.2 .2l.2 .2l.2 -.7l.2 .6l.2 1.2l.2 -2.5l.2 2.4l.2 -.4l.2 -.9l.2 -1.4l.2 2.8l.2 -2l.2 .9l.2 -1.1l.2 2l.2 -1.5l.2 .4l.2 1.4l.2 -3.3l.2 1.6l.2 -1.7l.2 .8l.2 0l.2 1.6l.2 .6l.2 -.7l.2 -.1l.2 -.1l.2 .4l.2 -.6l.2 -.4l.2 -.2l.2 .8l.2 -1l.2 1.4l.2 -1l.2 .5l.2 0l.2 2.1l.2 .8l.2 -4l.2 2.9l.2 -1.8l.2 -1.9l.2 1.7l.2 .6l.2 -1.4l.2 .1l.2 1.5l.2 -1.4l.2 .4l.2 2.3l.2 -1.7l.2 -.1l.2 .8l.2 -1.2l.2 -1.5l.2 2.3l.2 -.3l.2 -1l.2 -.8l.2 2.7l.2 -1.2l.2 -.3l.2 1.5l.2 -3.4l.2 3.9l.2 -.4l.2 -1l.2 -.6l.2 1.8l.2 .6l.2 -.5l.2 -1.1l.2 -.6l.2 .9l.2 -.2l.2 -1l.2 .4l.2 -.1l.2 1.7l.2 -3.8l.2 4.2l.2 -.9l.2 -.1l.2 -3.5l.2 3.1l.2 1l.2 -1.9l.2 .4l.2 .6l.2 -.4l.2 -.1l.2 2l.2 -2.7l.2 .6l.2 -.3l.2 -.5l.2 2l.2 -1.7l.2 .8l.2 1.7l.2 -.5l.2 -3.1l.2 3.6l.2 -4.2l.2 -.4l.2 3.2l.2 .5l.2 -1.5l.2 .1l.2 .2l.2 -1.3l.2 1l.2 .1l.2 .6l.2 -1.2l.2 .7l.2 -.2l.2 -.1l.2 2.2l.2 -1.1l.2 -1.3l.2 2.7l.2 -2.4l.2 -.9l.2 3.1l.2 -1l.2 -1.1l.2 -1.6l.2 3.1l.2 -1l.2 .1l.2 -1l.2 .1l.2 2l.2 -1.6l.2 1.7l.2 -3.2l.2 2.7l.2 -1l.2 .7l.2 -1.7l.2 2.1l.2 1.1l.2 -3.1l.2 1.5l.2 -.4l.2 -2.1l.2 3.5l.2 .7l.2 -1.2l.2 -.4l.2 -.5l.2 -.9l.2 2.2l.2 -1.9l.2 .1l.2 -.2l.2 2.8l.2 -1.7l.2 -.1l.2 -.9l.2 2.3l.2 -.1l.2 .3l.2 -2.7l.2 1.5l.2 -1.5l.2 2l.2 .9l.2 -1.4l.2 -1.4l.2 2.5l.2 -4.8l.2 3.3l.2 1.2l.2 -2.4l.2 .7l.2 -.8l.2 2.2l.2 -.6l.2 -.5l.2 -.1l.2 -.3l.2 2l.2 -2l.2 2.5l.2 -2.7l.2 -1" fill="none" stroke="#111" stroke-width="1.5" stroke-linejoin="round"/>
<line x1="458.3" y1="532.8" x2="505.9" y2="532.8" stroke="#111" stroke-width="2"/>
<text x="483.7" y="543.8" font-size="12" text-anchor="middle">10 s</text>
<rect x="524.3" y="367.8" width="405" height="181" fill="none" stroke="#ED1C24" stroke-width="1.6"/>
<rect x="548.1" y="374.2" width="9.6" height="152.7" fill="#BCBEC0"/>
<rect x="566.3" y="374.2" width="15.6" height="152.7" fill="#BCBEC0"/>
<rect x="591.5" y="374.2" width="13.3" height="152.7" fill="#BCBEC0"/>
<rect x="614.4" y="374.2" width="9.6" height="152.7" fill="#BCBEC0"/>
<rect x="630.2" y="374.2" width="23.8" height="152.7" fill="#BCBEC0"/>
<rect x="661" y="374.2" width="18.6" height="152.7" fill="#BCBEC0"/>
<rect x="688.4" y="374.2" width="15.0" height="152.7" fill="#BCBEC0"/>
<rect x="711.9" y="374.2" width="8.6" height="152.7" fill="#BCBEC0"/>
<rect x="729.1" y="374.2" width="10.9" height="152.7" fill="#BCBEC0"/>
<rect x="752.4" y="374.2" width="14.5" height="152.7" fill="#BCBEC0"/>
<rect x="778.2" y="374.2" width="16.5" height="152.7" fill="#BCBEC0"/>
<rect x="804.8" y="374.2" width="19.4" height="152.7" fill="#BCBEC0"/>
<rect x="835.3" y="374.2" width="16.5" height="152.7" fill="#BCBEC0"/>
<rect x="864.2" y="374.2" width="24.2" height="152.7" fill="#BCBEC0"/>
<rect x="902.1" y="374.2" width="19.9" height="152.7" fill="#BCBEC0"/>
<path d="M527.7 394.9l.25 .9l.25 .5l.25 -2.1l.25 2.4l.25 -.7l.25 .8l.25 -.7l.25 1.2l.25 -2.7l.25 3.6l.25 -.7l.25 -2.4l.25 1.7l.25 -.2l.25 -2.8l.25 3l.25 -1.4l.25 .4l.25 -.4l.25 .3l.25 .6l.25 .1l.25 -2l.25 1.6l.25 -1.3l.25 .2l.25 1.1l.25 1.5l.25 -.2l.25 -1.5l.25 -.1l.25 -.1l.25 1.2l.25 1l.25 -1l.25 .8l.25 -.4l.25 1.4l.25 -4l.25 -.1l.25 2.2l.25 1l.25 -1.1l.25 .9l.25 -1.7l.25 -.1l.25 .7l.25 1.7l.25 -.1l.25 -1.5l.25 1l.25 -.9l.25 .8l.25 -1.2l.25 1.2l.25 -.7l.25 .8l.25 -.6l.25 -.2l.25 1l.25 -.4l.25 .4l.25 -.4l.25 1.1l.25 -1.4l.25 1.6l.25 .6l.25 -1.6l.25 2.1l.25 .3l.25 -1.6l.25 -1.7l.25 -.2l.25 1.4l.25 1.8l.25 -1.5l.25 -.5l.25 -2.2l.25 -2l.25 -1.7l.25 -2.2l.25 .5l.25 .6l.25 -1.8l.25 .8l.25 -2.5l.25 2.6l.25 -.5l.25 -5l.25 1.5l.25 .8l.25 3.5l.25 -4.7l.25 3.8l.25 -.2l.25 1.1l.25 .8l.25 -3.6l.25 -2.5l.25 5.5l.25 -2.1l.25 .7l.25 -.5l.25 -2.3l.25 -.9l.25 6l.25 .3l.25 -.3l.25 -1.7l.25 .1l.25 -1.6l.25 1.2l.25 -1.1l.25 -.3l.25 1.7l.25 3.6l.25 -8.6l.25 5.9l.25 .2l.25 -4.6l.25 3.6l.25 -.5l.25 -1.4l.25 -.1l.25 -2.2l.25 7.5l.25 1.5l.25 -1.8l.25 -4.6l.25 1.3l.25 .2l.25 -2.9l.25 1.3l.25 1.9l.25 -2.4l.25 -3.3l.25 1.2l.25 3.7l.25 -1.5l.25 .1l.25 4.1l.25 -7.1l.25 1.9l.25 1.6l.25 5.5l.25 -8.3l.25 7.4l.25 -.9l.25 -4.1l.25 -.5l.25 4.4l.25 -3.1l.25 -2l.25 2.3l.25 -.6l.25 .4l.25 -.9l.25 -.9l.25 1.1l.25 -1.4l.25 2.3l.25 1.4l.25 .1l.25 .3l.25 .9l.25 -1.8l.25 -3.3l.25 4.2l.25 -6.4l.25 2.5l.25 2.7l.25 -4.7l.25 7.8l.25 -5.7l.25 -1l.25 1.9l.25 .2l.25 1.9l.25 -.1l.25 2.8l.25 -2.5l.25 .9l.25 -2.3l.25 3.3l.25 -2.4l.25 -2.2l.25 6.7l.25 -4.5l.25 .1l.25 .6l.25 3.1l.25 -6.6l.25 5l.25 2l.25 2.5l.25 -3.8l.25 .8l.25 -1.4l.25 5l.25 -3.4l.25 .3l.25 .5l.25 -1.5l.25 1.6l.25 -1.7l.25 4.3l.25 -2.3l.25 .2l.25 2.1l.25 -3.2l.25 3.8l.25 .3l.25 -2.9l.25 2l.25 -.8l.25 1.4l.25 -.9l.25 -.9l.25 1.9l.25 -.9l.25 .5l.25 .7l.25 .1l.25 -1.1l.25 -3.1l.25 2.5l.25 -1.8l.25 1.6l.25 -2.3l.25 2.2l.25 -4.8l.25 1.6l.25 .2l.25 -4.4l.25 4.1l.25 -1.3l.25 -3l.25 2.8l.25 -.6l.25 -.3l.25 -1.5l.25 1.8l.25 -.3l.25 -2.2l.25 -.8l.25 -1.5l.25 -.8l.25 2.9l.25 -3.7l.25 -7.3l.25 8.8l.25 2.2l.25 -4.5l.25 3.3l.25 -1.2l.25 -4.3l.25 4.2l.25 -1.1l.25 2.6l.25 -10.1l.25 11l.25 0l.25 -4.6l.25 5.9l.25 -3.2l.25 1.2l.25 2.1l.25 1.5l.25 -3l.25 1.6l.25 -.4l.25 -2.8l.25 6.3l.25 -2l.25 -1.3l.25 2.4l.25 -1l.25 -6.4l.25 7.9l.25 -1.9l.25 1.4l.25 1l.25 .2l.25 2.1l.25 -3.3l.25 -.5l.25 -.8l.25 .4l.25 2.8l.25 -.3l.25 -2.1l.25 .7l.25 .6l.25 3.7l.25 -4l.25 2.4l.25 -3l.25 2.5l.25 2.7l.25 -3.8l.25 3.9l.25 -4.2l.25 3l.25 -1.3l.25 1.7l.25 -.1l.25 1.6l.25 -.5l.25 .2l.25 -.6l.25 1.3l.25 -1.1l.25 .4l.25 .3l.25 1.4l.25 1.8l.25 -1.9l.25 1.9l.25 -2.2l.25 .6l.25 1.1l.25 .1l.25 0l.25 .5l.25 -1.7l.25 .7l.25 -1.2l.25 -3.5l.25 1.3l.25 0l.25 .3l.25 .2l.25 -1.5l.25 1.8l.25 -3.8l.25 1l.25 1.1l.25 -3.9l.25 3.7l.25 -.9l.25 -2.5l.25 -.1l.25 -.7l.25 -.2l.25 2.3l.25 -2l.25 -4.9l.25 -.9l.25 4.7l.25 -8.6l.25 2.2l.25 2l.25 1.1l.25 3.4l.25 -3.7l.25 9.4l.25 -10.2l.25 1.5l.25 0l.25 -3.8l.25 2.8l.25 -1.6l.25 -1.5l.25 -3l.25 .1l.25 3.3l.25 -3l.25 .9l.25 -.3l.25 -.4l.25 -.7l.25 2l.25 1.1l.25 2.1l.25 -2.1l.25 -2.8l.25 .2l.25 4.3l.25 -6l.25 3.5l.25 5.1l.25 -3.6l.25 -.5l.25 6l.25 -10.8l.25 7.9l.25 -.6l.25 .4l.25 4.1l.25 1.8l.25 -.5l.25 -.8l.25 -.3l.25 -3.3l.25 3.5l.25 -3l.25 2.8l.25 2.7l.25 -1l.25 2.2l.25 -3.7l.25 2.2l.25 -.2l.25 1.2l.25 .9l.25 .4l.25 -.7l.25 1.4l.25 -.2l.25 .8l.25 3.2l.25 -3.5l.25 .9l.25 -.7l.25 2.4l.25 -2.4l.25 .1l.25 1.3l.25 1.4l.25 -1.5l.25 -.9l.25 -2.2l.25 -1.2l.25 3.9l.25 .1l.25 1.3l.25 -.8l.25 -.8l.25 1.7l.25 .5l.25 -2.6l.25 1.7l.25 .3l.25 -2.2l.25 1.5l.25 -.7l.25 1.4l.25 -.1l.25 -3.6l.25 2.1l.25 1.8l.25 -1l.25 -1.7l.25 .6l.25 -.6l.25 1.5l.25 -1.8l.25 2.8l.25 -.4l.25 .9l.25 -.7l.25 0l.25 -.2l.25 -.3l.25 -2.8l.25 2.7l.25 -1.4l.25 -1.8l.25 4.4l.25 -1.8l.25 -1.8l.25 2.2l.25 .1l.25 -.3l.25 1.4l.25 -2.8l.25 2.2l.25 -2.1l.25 1.6l.25 .2l.25 -1.2l.25 3.3l.25 -4.8l.25 .3l.25 1.2l.25 -.5l.25 2.3l.25 -2l.25 2.2l.25 -2l.25 1.4l.25 0l.25 -.8l.25 .7l.25 -.4l.25 1.9l.25 .3l.25 -3l.25 .9l.25 .8l.25 -.7l.25 1.6l.25 .7l.25 -5.2l.25 1.6l.25 2.1l.25 -1.2l.25 -1.8l.25 .1l.25 -.1l.25 1.7l.25 -4.7l.25 1.3l.25 1.7l.25 -1.3l.25 -2.9l.25 -.9l.25 -4l.25 -.6l.25 1.2l.25 3.7l.25 -.4l.25 1l.25 -1.1l.25 -5.2l.25 3l.25 -5.3l.25 7.9l.25 -4.4l.25 -3.9l.25 5.9l.25 -1.1l.25 6.3l.25 -7.5l.25 1.6l.25 -4.3l.25 5l.25 -1.2l.25 -3.1l.25 3.1l.25 -4.2l.25 5.4l.25 -2.7l.25 2.4l.25 -3.3l.25 .6l.25 1.8l.25 2.8l.25 -1.7l.25 -6.2l.25 7.9l.25 -1.8l.25 2.1l.25 1.4l.25 -.6l.25 -3.6l.25 1.1l.25 2.2l.25 1.3l.25 -3.9l.25 .5l.25 -.6l.25 3.3l.25 -2.3l.25 6.7l.25 -5.9l.25 3.8l.25 -1.1l.25 -2.2l.25 -3.7l.25 8.1l.25 -2.1l.25 -4l.25 9.1l.25 -3.8l.25 1.7l.25 -3.1l.25 -2.5l.25 1.9l.25 2.9l.25 -4.7l.25 2.8l.25 3l.25 0l.25 -1.4l.25 -3.9l.25 3.7l.25 2.5l.25 -.5l.25 -1.6l.25 1.3l.25 .4l.25 -1.1l.25 -.3l.25 .3l.25 0l.25 1.1l.25 .3l.25 .9l.25 .1l.25 -.6l.25 -2l.25 3.1l.25 -1.3l.25 2.6l.25 -2.5l.25 2.2l.25 -3l.25 .2l.25 -4.1l.25 -5.2l.25 .4l.25 -1.5l.25 -.9l.25 3.1l.25 -5.5l.25 6.3l.25 -3.4l.25 2.6l.25 -4.3l.25 3.1l.25 -4.7l.25 3.1l.25 1.4l.25 -4.9l.25 5.1l.25 1.1l.25 .2l.25 -5.4l.25 4.6l.25 -3.2l.25 2.2l.25 0l.25 7.1l.25 -2.5l.25 .5l.25 .6l.25 -4.7l.25 1.7l.25 -3.2l.25 4.6l.25 -4.5l.25 2.8l.25 3.3l.25 -.2l.25 -3.1l.25 .4l.25 4.7l.25 -1.6l.25 -1.7l.25 1.4l.25 .1l.25 -2.1l.25 1.2l.25 -2.7l.25 4.5l.25 -.1l.25 1.8l.25 .2l.25 -2.4l.25 3.6l.25 -3.7l.25 2.9l.25 -4.8l.25 -1.3l.25 3.1l.25 2l.25 3.7l.25 -3l.25 .6l.25 -1l.25 1.4l.25 .3l.25 0l.25 1.3l.25 -1.7l.25 .8l.25 1.5l.25 -1l.25 -1.4l.25 2.5l.25 -.6l.25 -1.4l.25 .2l.25 .6l.25 1.4l.25 -.3l.25 .8l.25 1.5l.25 -.6l.25 -1.3l.25 -.5l.25 1.9l.25 -1.6l.25 .2l.25 .7l.25 .4l.25 -.2l.25 .5l.25 -1.7l.25 1.7l.25 .4l.25 .5l.25 0l.25 -.1l.25 1.5l.25 -.6l.25 0l.25 0l.25 .3l.25 -.5l.25 .1l.25 .8l.25 -.9l.25 .9l.25 -.8l.25 0l.25 -1l.25 -1.4l.25 -.8l.25 -.5l.25 1l.25 -.6l.25 -2.6l.25 -.3l.25 -2.1l.25 2.7l.25 -2.6l.25 -2.4l.25 -2.1l.25 2.9l.25 2.3l.25 -4.7l.25 -3.2l.25 -.7l.25 0l.25 -5.3l.25 8.3l.25 -4.6l.25 -4.1l.25 -3.7l.25 9.5l.25 -.8l.25 3.3l.25 -1.6l.25 -4.6l.25 -4.2l.25 5.4l.25 -2.7l.25 1.6l.25 -5.3l.25 3.5l.25 -.1l.25 -3.4l.25 -1.3l.25 -1.2l.25 7.4l.25 4.1l.25 -3l.25 -6.9l.25 8.3l.25 -4.1l.25 6.4l.25 4.8l.25 -3.1l.25 -6.8l.25 9.9l.25 -1l.25 4.1l.25 -2.4l.25 1.1l.25 -8.9l.25 11.4l.25 -3.7l.25 -.3l.25 4.5l.25 .9l.25 1.5l.25 .3l.25 -.1l.25 .6l.25 1.1l.25 .3l.25 .8l.25 -.5l.25 1.5l.25 .2l.25 .5l.25 -.7l.25 .5l.25 -.5l.25 -1.3l.25 .2l.25 -.1l.25 -1.3l.25 -1.3l.25 1l.25 0l.25 -.6l.25 .6l.25 -1.1l.25 1l.25 -2.6l.25 2l.25 -2.5l.25 .6l.25 -3.4l.25 .9l.25 2.4l.25 -2l.25 -.4l.25 -2.3l.25 2.8l.25 -3.4l.25 3.9l.25 -1.8l.25 -2.6l.25 -.9l.25 .2l.25 1.4l.25 -.6l.25 -4.5l.25 4l.25 -3.7l.25 6.5l.25 -9.3l.25 6.5l.25 -10.2l.25 8.1l.25 1.8l.25 -2.3l.25 -4.9l.25 -1.5l.25 8.4l.25 -6.8l.25 4.5l.25 1.2l.25 -8.3l.25 10.6l.25 -6.1l.25 -.2l.25 -2.2l.25 3.6l.25 .7l.25 1.7l.25 0l.25 0l.25 -3.2l.25 .1l.25 .7l.25 .4l.25 3.3l.25 -.6l.25 -2.4l.25 -1.4l.25 -1.8l.25 4.7l.25 1.1l.25 -3.6l.25 -.9l.25 6.6l.25 .4l.25 -2.5l.25 2l.25 -3.5l.25 7.1l.25 -.4l.25 3.9l.25 -4l.25 3.3l.25 -1.4l.25 .6l.25 1.5l.25 -2.3l.25 1.3l.25 2.7l.25 .1l.25 .9l.25 -.2l.25 0l.25 1l.25 -.5l.25 .1l.25 -.3l.25 -.8l.25 1.1l.25 -1.1l.25 -.8l.25 -.3l.25 -1.2l.25 -.3l.25 0l.25 -.3l.25 -3.2l.25 3.5l.25 -4.6l.25 .9l.25 -1.1l.25 1.6l.25 -3.3l.25 3.8l.25 -.9l.25 -3.5l.25 2.9l.25 -2.5l.25 .6l.25 -2.9l.25 .6l.25 1.4l.25 -4.2l.25 1.7l.25 -1l.25 2.9l.25 -1.3l.25 -2.9l.25 2.8l.25 2.7l.25 -2.6l.25 -6.8l.25 3.1l.25 -3.7l.25 .8l.25 2l.25 -.1l.25 -5.6l.25 .5l.25 .2l.25 .5l.25 1.9l.25 1.8l.25 -2.7l.25 1.9l.25 -3.3l.25 5.5l.25 1.7l.25 -1.8l.25 -2.3l.25 10.8l.25 -7.9l.25 3.5l.25 -5.9l.25 3.9l.25 2.4l.25 -.1l.25 -2.1l.25 3.2l.25 -1.3l.25 .2l.25 1.8l.25 -.5l.25 .6l.25 2.1l.25 .1l.25 -.7l.25 2.8l.25 -1.4l.25 .2l.25 1.8l.25 -.4l.25 -1.9l.25 2.9l.25 -1.9l.25 1.8l.25 1.1l.25 .7l.25 -1l.25 .9l.25 1.3l.25 1.2l.25 .2l.25 -.4l.25 .8l.25 -.7l.25 .5l.25 .8l.25 .2l.25 -1.2l.25 1.2l.25 -1.3l.25 0l.25 -.9l.25 0l.25 .5l.25 -2l.25 .1l.25 .1l.25 .1l.25 .7l.25 -1.8l.25 .6l.25 -3.2l.25 .7l.25 -2.7l.25 4l.25 -2.6l.25 1.3l.25 -2.8l.25 -.5l.25 -.3l.25 .1l.25 .2l.25 -2.8l.25 2.7l.25 .5l.25 -4.9l.25 -4.3l.25 4.7l.25 .1l.25 5.2l.25 -2.4l.25 -4.9l.25 8.8l.25 -4.8l.25 -5.4l.25 -6l.25 9.3l.25 -5.7l.25 4.4l.25 1.6l.25 -5.1l.25 -.2l.25 -.7l.25 6l.25 -2.3l.25 -.9l.25 .8l.25 -2.7l.25 -1.8l.25 3.1l.25 2.1l.25 -2.8l.25 .2l.25 -1.7l.25 7l.25 -4.4l.25 1.8l.25 .4l.25 .8l.25 -.4l.25 2.6l.25 -1.6l.25 1.7l.25 -1.2l.25 -1.1l.25 4.2l.25 -2.4l.25 3.8l.25 -3.7l.25 0l.25 -1.9l.25 4l.25 -1.2l.25 3.9l.25 -3.7l.25 3.9l.25 -6.9l.25 5.9l.25 2.4l.25 -2.2l.25 1.5l.25 .7l.25 -2.3l.25 4.7l.25 -4l.25 1.5l.25 .8l.25 .5l.25 .8l.25 .5l.25 -2.1l.25 1.3l.25 -1.3l.25 2.2l.25 -.4l.25 1l.25 -1l.25 .7l.25 1.2l.25 .4l.25 -.3l.25 .2l.25 .2l.25 .3l.25 .3l.25 1.8l.25 -.6l.25 -.9l.25 .7l.25 -.2l.25 .6l.25 .9l.25 -.5l.25 -.7l.25 .1l.25 -.4l.25 -.5l.25 .1l.25 .8l.25 -1.5l.25 1.4l.25 .4l.25 -1.2l.25 .4l.25 -.6l.25 -.3l.25 -1l.25 .6l.25 1l.25 -.8l.25 -.3l.25 .9l.25 -.9l.25 -1.1l.25 .6l.25 1l.25 -.4l.25 -1.2l.25 .2l.25 -1.3l.25 1.5l.25 -2.3l.25 -.3l.25 -1.6l.25 .1l.25 -1.4l.25 -1.8l.25 -1.8l.25 -.8l.25 -.4l.25 1.2l.25 -.9l.25 1.3l.25 -4.4l.25 .6l.25 -6.5l.25 3.4l.25 -.2l.25 1.4l.25 .1l.25 -2.1l.25 2.3l.25 -2.8l.25 1.3l.25 -1.8l.25 2.7l.25 -2l.25 1.4l.25 -1.4l.25 -1.1l.25 7.5l.25 -5.2l.25 5.1l.25 -3.4l.25 1.1l.25 .6l.25 -2l.25 -1.7l.25 6.2l.25 -1l.25 -3.9l.25 2.4l.25 .6l.25 3.9l.25 -.9l.25 -.8l.25 2.5l.25 -1.1l.25 -1.8l.25 -.9l.25 4.6l.25 -4.3l.25 5.2l.25 -4.6l.25 2.2l.25 3.2l.25 -.3l.25 .7l.25 -3.4l.25 1.9l.25 .7l.25 -.1l.25 .1l.25 1.3l.25 0l.25 -.7l.25 .7l.25 .7l.25 .5l.25 .1l.25 -.7l.25 1.6l.25 .6l.25 1l.25 -1l.25 1.1l.25 -.5l.25 1.2l.25 -.3l.25 .4l.25 .1l.25 .5l.25 .4l.25 -.6l.25 1.1l.25 -.8l.25 .2l.25 .3l.25 -.9l.25 -.6l.25 .8l.25 -.4l.25 -.4l.25 -.4l.25 -.6l.25 -.6l.25 -1.5l.25 0l.25 -.3l.25 1.3l.25 1l.25 -1.8l.25 -1.4l.25 1.4l.25 -1.9l.25 -.6l.25 -.1l.25 1.2l.25 -.1l.25 -1.6l.25 -2.3l.25 2.5l.25 -2.9l.25 -.6l.25 .2l.25 -1.3l.25 .2l.25 4.2l.25 -5.4l.25 1.4l.25 -3.3l.25 1l.25 .6l.25 .7l.25 -.4l.25 -.7l.25 -1.8l.25 4.8l.25 -2.1l.25 -3.4l.25 .4l.25 -.9l.25 .8l.25 -2l.25 3.5l.25 .5l.25 -3l.25 -1.3l.25 .5l.25 5.2l.25 -4.1l.25 2.6l.25 -.1l.25 -2.9l.25 -1.8l.25 2.9l.25 -.4l.25 1.2l.25 1.6l.25 -4.2l.25 3.8l.25 5.1l.25 -5.9l.25 4.7l.25 -.2l.25 -2.7l.25 5.6l.25 -1l.25 -1.6l.25 .5l.25 -.4l.25 1.2l.25 -1.6l.25 3l.25 0l.25 -1.9l.25 -1.3l.25 4.1l.25 -1.1l.25 -1.2l.25 3.3l.25 -1.3l.25 -1.7l.25 3.1l.25 -2.1l.25 -.4l.25 1.5l.25 .8l.25 -1.2l.25 4.1l.25 -1.6l.25 .2l.25 0l.25 .6l.25 -.4l.25 .6l.25 1.1l.25 -.5l.25 .6l.25 0l.25 1.4l.25 -.1l.25 -.2l.25 .2l.25 -.2l.25 -.2l.25 1l.25 -2.8l.25 .7l.25 -.1l.25 .2l.25 -1.8l.25 .2l.25 .5l.25 -2l.25 1.5l.25 1.2l.25 -3l.25 -1.4l.25 2.3l.25 -1.2l.25 2.2l.25 -3l.25 -.6l.25 1.9l.25 -.1l.25 -.4l.25 1.3l.25 -2.5l.25 -1.1l.25 -1.1l.25 .3l.25 -.8l.25 -.5l.25 -1.2l.25 -2.5l.25 4.5l.25 -.3l.25 -4.2l.25 4.5l.25 -7.4l.25 4.2l.25 1l.25 -1.3l.25 2l.25 .8l.25 -.3l.25 -2.7l.25 3.2l.25 -5l.25 -.9l.25 -.6l.25 -.6l.25 .4l.25 -2.8l.25 -1.3l.25 8.6l.25 -2.8l.25 -1.4l.25 1l.25 -3.5l.25 6.6l.25 -1.1l.25 -4.6l.25 5.2l.25 -6.5l.25 7.8l.25 -4l.25 4.6l.25 -3.8l.25 4.5l.25 -1.2l.25 .9l.25 -.3l.25 .8l.25 -2.3l.25 3.4l.25 -5l.25 .3l.25 3.5l.25 .7l.25 .7l.25 3.4l.25 -1.7l.25 -2.3l.25 1.6l.25 2.1l.25 -2l.25 1.8l.25 -.6l.25 1.2l.25 -.5l.25 .2l.25 -.3l.25 -.7l.25 2.1l.25 -1l.25 -.4l.25 1.5l.25 -1.5l.25 -.4l.25 .2l.25 -.8l.25 -.6l.25 3l.25 -3.2l.25 2.4l.25 -1l.25 -2.1l.25 1l.25 -.7l.25 .8l.25 1l.25 -2.3l.25 -.1l.25 -.5l.25 3.5l.25 -1.9l.25 .2l.25 -.3l.25 -1.9l.25 3.8l.25 -4l.25 -1.6l.25 4.1l.25 -2.5l.25 2.7l.25 -.5l.25 -1l.25 .8l.25 0l.25 -2l.25 -.5l.25 -.9l.25 1.3l.25 -.7l.25 -.6l.25 -2.9l.25 8.7l.25 -3.2l.25 -3.6l.25 5l.25 -6.3l.25 2.7l.25 -2.2l.25 -.4l.25 .6l.25 1.6l.25 1.1l.25 -6.8l.25 2.6l.25 -1.3l.25 2.8l.25 -4.2l.25 -.9l.25 .9l.25 .1l.25 3.9l.25 -2.7l.25 -.4l.25 .7l.25 .3l.25 2.3l.25 3.9l.25 -7l.25 2.5l.25 2.6l.25 -4.6l.25 5.4l.25 .3l.25 -.3l.25 -1.9l.25 5.5l.25 -2.2l.25 -.3l.25 2.4l.25 -3.3l.25 1.5l.25 -1l.25 2.5l.25 .7l.25 -.1l.25 .5l.25 1.2l.25 -1.1l.25 .3l.25 -1l.25 1.5l.25 -1.2l.25 1.7l.25 -2.7l.25 .9l.25 -.5l.25 -2.4l.25 2.3l.25 -.6l.25 .4l.25 -.4l.25 -4.2l.25 4.7l.25 -2.2l.25 .4l.25 -5.2l.25 -.3l.25 -.1l.25 2.8l.25 0l.25 1l.25 -1l.25 -3.4l.25 2.5l.25 3.7l.25 -.6l.25 -5l.25 2.5l.25 -2.1l.25 -1.2l.25 6l.25 -.3l.25 -3.4l.25 1.1l.25 .7l.25 3.5l.25 -2.5l.25 -.3l.25 .1l.25 .3l.25 -1.8l.25 -.4l.25 1.1l.25 .5l.25 -.5l.25 2.3l.25 -1l.25 -3.3l.25 2.2l.25 -2.7l.25 3.2l.25 2.3l.25 -1l.25 -4.2l.25 3.1l.25 -.1l.25 .7l.25 -.5l.25 1l.25 -.7l.25 .2l.25 2.2l.25 -.9l.25 -.6l.25 -1.6l.25 .8l.25 .5l.25 1.5l.25 -2.8l.25 2.7l.25 1.6l.25 -1.5l.25 -2l.25 3.2l.25 -1.2l.25 .9l.25 .4l.25 -.3l.25 -.9l.25 -.9l.25 3.9l.25 -3.6l.25 2.2l.25 -2.1l.25 2.7l.25 .8l.25 -1.2l.25 -1.8l.25 .6l.25 2.1l.25 0" fill="none" stroke="#111" stroke-width="1.3" stroke-linejoin="round"/>
<path d="M527.7 435.8l.25 -.3l.25 -1.2l.25 1l.25 -2.1l.25 -1.9l.25 5.4l.25 -1.9l.25 -4l.25 1.5l.25 .6l.25 1.5l.25 1.6l.25 -1.7l.25 -1.3l.25 1.5l.25 -1.2l.25 -1.6l.25 .8l.25 -1l.25 4.1l.25 -2.7l.25 .7l.25 -1.3l.25 .1l.25 .2l.25 1.7l.25 .9l.25 -1.2l.25 -1.9l.25 5.7l.25 -3.4l.25 .1l.25 -2.6l.25 .5l.25 1.4l.25 -4.2l.25 1.7l.25 2l.25 3.6l.25 -3.6l.25 -2.7l.25 -.4l.25 3.9l.25 -3.2l.25 .8l.25 4.1l.25 -3.5l.25 -.8l.25 -.8l.25 3.8l.25 -.1l.25 -3.7l.25 -1.4l.25 2.3l.25 2.8l.25 -1.8l.25 -3.2l.25 2.9l.25 .8l.25 -1.6l.25 .3l.25 -.3l.25 -1l.25 -.4l.25 -1.4l.25 .3l.25 -1.2l.25 4.3l.25 0l.25 -.9l.25 .7l.25 -.8l.25 -1.7l.25 1.9l.25 -1l.25 .7l.25 -2.8l.25 3.9l.25 2.7l.25 -.2l.25 .2l.25 -.2l.25 1.6l.25 2.8l.25 -1.9l.25 2.1l.25 -1.2l.25 1.8l.25 -1.1l.25 1.2l.25 .5l.25 .3l.25 -.7l.25 .8l.25 .1l.25 .8l.25 .2l.25 .2l.25 .6l.25 -.8l.25 .2l.25 0l.25 .2l.25 -.3l.25 .7l.25 -.9l.25 1.5l.25 -.9l.25 .5l.25 -1.1l.25 .4l.25 .2l.25 .8l.25 -.9l.25 .7l.25 -1.1l.25 1.1l.25 -1.1l.25 -.6l.25 -.1l.25 1.1l.25 -.2l.25 .2l.25 -.2l.25 .3l.25 .6l.25 -1l.25 .3l.25 -.4l.25 -.7l.25 .7l.25 .9l.25 -1.2l.25 1.4l.25 -1.4l.25 -.7l.25 -.6l.25 -2.1l.25 -1.4l.25 .5l.25 -4.5l.25 -.5l.25 -3.4l.25 1.5l.25 5.8l.25 -4.5l.25 -4.8l.25 -1.4l.25 5.6l.25 .7l.25 -2.3l.25 4.3l.25 -1.4l.25 1l.25 .5l.25 -2.5l.25 .9l.25 -.2l.25 3.6l.25 -2.4l.25 -1.6l.25 2.7l.25 -1.2l.25 1.3l.25 4.7l.25 -5.6l.25 .1l.25 -1.1l.25 2l.25 -1.3l.25 1.9l.25 .2l.25 .7l.25 -.9l.25 -1.8l.25 1.9l.25 .4l.25 .3l.25 1.5l.25 -2.9l.25 1.2l.25 -.4l.25 -.2l.25 2l.25 -1.5l.25 3.3l.25 -5.3l.25 5l.25 -2l.25 -1.1l.25 1.8l.25 .1l.25 1l.25 .4l.25 -2.1l.25 1l.25 .5l.25 -.1l.25 -.4l.25 1.8l.25 -.9l.25 -1.5l.25 1.7l.25 -.4l.25 .1l.25 1.1l.25 -.2l.25 -.3l.25 0l.25 .2l.25 -1.9l.25 .1l.25 .6l.25 -3.4l.25 -.9l.25 -1.4l.25 1.9l.25 -3.9l.25 2.1l.25 -3.9l.25 .8l.25 -.1l.25 -1.9l.25 -.8l.25 4.7l.25 -2.7l.25 2.3l.25 .6l.25 -4.1l.25 5.8l.25 -1.9l.25 -.6l.25 .2l.25 0l.25 1.6l.25 3.4l.25 -3.9l.25 -1.7l.25 1.6l.25 4.3l.25 -3.5l.25 3.4l.25 -4.7l.25 -3.5l.25 3l.25 .5l.25 1.6l.25 -1.8l.25 -.9l.25 1.3l.25 .4l.25 .8l.25 2.9l.25 .3l.25 -1.7l.25 .6l.25 -2.4l.25 1.9l.25 -3.2l.25 -.6l.25 3.9l.25 .9l.25 -1.4l.25 .1l.25 -1.2l.25 -1.8l.25 -1l.25 1.7l.25 2.3l.25 .2l.25 -1.5l.25 -.5l.25 2.4l.25 -.5l.25 1.5l.25 .7l.25 1.1l.25 -.8l.25 -2.4l.25 1.2l.25 2.9l.25 -3.8l.25 .8l.25 2.2l.25 -.8l.25 -1.5l.25 1.3l.25 -1l.25 1.9l.25 -1.2l.25 .3l.25 .3l.25 -2.6l.25 2.2l.25 .7l.25 -.4l.25 -.8l.25 .5l.25 1.8l.25 -.9l.25 -1.7l.25 2.1l.25 -1l.25 -1.1l.25 -1.9l.25 2.6l.25 -3l.25 1.4l.25 .4l.25 -1.4l.25 -4.3l.25 -.5l.25 2.4l.25 .3l.25 -2.8l.25 -.4l.25 4.7l.25 .1l.25 -2.3l.25 -.5l.25 2.7l.25 -2.6l.25 3.2l.25 .7l.25 2l.25 -.7l.25 -3l.25 5.3l.25 -1.6l.25 -3.2l.25 .8l.25 3.1l.25 -2.3l.25 2.8l.25 -2l.25 -.4l.25 3.8l.25 .3l.25 -2l.25 2.3l.25 -1.2l.25 .4l.25 -.5l.25 1l.25 .9l.25 .2l.25 .7l.25 0l.25 -.8l.25 -.7l.25 1.2l.25 .1l.25 -.6l.25 -.3l.25 .5l.25 -.2l.25 .6l.25 .8l.25 .7l.25 -.3l.25 -.2l.25 .3l.25 .3l.25 .9l.25 -.4l.25 -.8l.25 1l.25 -.9l.25 .5l.25 .4l.25 -.6l.25 .4l.25 .6l.25 -1.1l.25 .9l.25 -.1l.25 -.5l.25 -1.5l.25 .2l.25 -1.7l.25 -1.2l.25 -2.4l.25 .2l.25 -5.8l.25 1.4l.25 -.7l.25 3.6l.25 -11.1l.25 .6l.25 2.6l.25 1.8l.25 -1.9l.25 4l.25 -1.4l.25 1.3l.25 -2.4l.25 3.9l.25 -.2l.25 2.7l.25 -1.1l.25 1.4l.25 -1.9l.25 -1.7l.25 2.7l.25 -3.6l.25 .4l.25 1.4l.25 2.5l.25 .5l.25 -4.2l.25 2.4l.25 2.4l.25 -2.2l.25 -1.6l.25 2.6l.25 2l.25 -2.6l.25 .3l.25 3.7l.25 -1.7l.25 -2.2l.25 2.7l.25 .7l.25 -1.8l.25 .9l.25 .9l.25 -.5l.25 1.6l.25 -.1l.25 -.3l.25 .9l.25 -1.9l.25 -.3l.25 -.4l.25 1l.25 -.4l.25 1.1l.25 1.2l.25 .6l.25 -.7l.25 0l.25 -.3l.25 .2l.25 -.9l.25 -.1l.25 -.5l.25 .8l.25 .6l.25 -.5l.25 .3l.25 1.6l.25 -1.3l.25 .1l.25 -.5l.25 .4l.25 -1.4l.25 1.4l.25 .2l.25 .1l.25 -2.1l.25 1.1l.25 1.4l.25 -.5l.25 -2l.25 .5l.25 -.3l.25 1.4l.25 .4l.25 -1l.25 -1.3l.25 1.6l.25 -1.9l.25 2.7l.25 -1.8l.25 0l.25 -.2l.25 1l.25 .1l.25 .3l.25 -.5l.25 0l.25 1.1l.25 .3l.25 -1l.25 .3l.25 .2l.25 -.9l.25 -.3l.25 -.7l.25 .8l.25 1.9l.25 -2.1l.25 -.5l.25 .9l.25 .5l.25 0l.25 -1.4l.25 1l.25 -1.4l.25 -.5l.25 -.3l.25 -1.5l.25 -.1l.25 1.2l.25 -3.1l.25 .4l.25 .8l.25 -.9l.25 -.6l.25 -3l.25 -.6l.25 1.8l.25 -.7l.25 -2.1l.25 3.5l.25 1.1l.25 2.1l.25 -2.5l.25 .1l.25 -.7l.25 1.9l.25 -.6l.25 3.9l.25 -4l.25 3.2l.25 -2l.25 -1.3l.25 2.4l.25 -.1l.25 1.9l.25 -1.1l.25 -.9l.25 -.6l.25 -.3l.25 .9l.25 .5l.25 -1.4l.25 .2l.25 1.6l.25 -1.7l.25 1.1l.25 -.1l.25 -.5l.25 2.8l.25 -.4l.25 -1.2l.25 -1.6l.25 2l.25 -.4l.25 .1l.25 .2l.25 -.6l.25 3.5l.25 -1.9l.25 -.9l.25 .6l.25 -.8l.25 -.3l.25 -.1l.25 1.6l.25 .9l.25 .4l.25 -1.2l.25 .1l.25 -2.2l.25 -.2l.25 1.8l.25 1.4l.25 .5l.25 -1.5l.25 -1l.25 1l.25 .3l.25 -.9l.25 .8l.25 1.2l.25 -1.4l.25 .6l.25 2l.25 -1.3l.25 .1l.25 -.9l.25 1.4l.25 -2.2l.25 2.7l.25 -1.2l.25 -.7l.25 .2l.25 .5l.25 -2l.25 1.8l.25 .2l.25 -1.4l.25 1.5l.25 .7l.25 -2.5l.25 .6l.25 1.3l.25 1.4l.25 -2.9l.25 .1l.25 -1.9l.25 -.2l.25 -.7l.25 -3.2l.25 .9l.25 4.2l.25 -4.5l.25 -5.3l.25 -.2l.25 -4.9l.25 2.8l.25 -.5l.25 -.7l.25 -2.2l.25 9.3l.25 -2.1l.25 -3.4l.25 5l.25 .4l.25 -3.9l.25 5.9l.25 -6.8l.25 6.7l.25 -3.5l.25 3l.25 -8.3l.25 8.1l.25 1.9l.25 .4l.25 -2l.25 -4.6l.25 3.3l.25 .7l.25 1l.25 -2.2l.25 3l.25 -1l.25 1.4l.25 .8l.25 -1.6l.25 -1.2l.25 2.6l.25 -1.6l.25 1.1l.25 .3l.25 -1.7l.25 2.9l.25 -2.6l.25 1.8l.25 1.5l.25 -.2l.25 -.2l.25 2.2l.25 -2.3l.25 .6l.25 1.2l.25 -3.5l.25 1.9l.25 1.7l.25 -.3l.25 -1.3l.25 1.5l.25 .2l.25 -.5l.25 1.5l.25 -2.7l.25 2.3l.25 -.8l.25 0l.25 -1.7l.25 4.7l.25 -5.2l.25 3l.25 -.2l.25 2.2l.25 -2.3l.25 .5l.25 .5l.25 .7l.25 .5l.25 -.4l.25 -2.5l.25 1.4l.25 1.2l.25 0l.25 .3l.25 -1.6l.25 .3l.25 .1l.25 .2l.25 -.3l.25 -2.4l.25 .6l.25 -3l.25 -.5l.25 -5.5l.25 -.9l.25 4.2l.25 -5.5l.25 4.9l.25 -1l.25 -5.9l.25 4.1l.25 1.9l.25 -.1l.25 -2.4l.25 5.7l.25 -.1l.25 -1.6l.25 2.2l.25 .1l.25 4.2l.25 -2.2l.25 -1.5l.25 1.4l.25 -2.1l.25 3.7l.25 -.6l.25 2l.25 -1.2l.25 2l.25 .3l.25 -2.5l.25 1.2l.25 .8l.25 .1l.25 -.3l.25 .9l.25 .3l.25 1.1l.25 -.5l.25 .6l.25 1l.25 -.1l.25 -.3l.25 0l.25 1l.25 -.3l.25 1l.25 -.2l.25 -.5l.25 1.2l.25 -.8l.25 .7l.25 -.2l.25 .1l.25 -1.2l.25 .6l.25 .2l.25 1.3l.25 -.8l.25 -.2l.25 .4l.25 -.7l.25 0l.25 -.4l.25 .5l.25 -1.3l.25 .3l.25 1.3l.25 0l.25 -.4l.25 -.3l.25 .9l.25 -.6l.25 -1.8l.25 -.4l.25 -1l.25 -3.1l.25 -4.2l.25 .1l.25 -.6l.25 -1.4l.25 -5l.25 .8l.25 -2l.25 1.5l.25 -4.7l.25 2.2l.25 4.5l.25 -2.7l.25 3.4l.25 2.3l.25 .2l.25 -1.3l.25 5l.25 -4l.25 .1l.25 2.2l.25 1.4l.25 -.5l.25 -1.6l.25 -.5l.25 3l.25 -.1l.25 -1.4l.25 .8l.25 2.9l.25 -.4l.25 -4.1l.25 2.6l.25 2.7l.25 -1.9l.25 -1.5l.25 1.4l.25 2.7l.25 -1.9l.25 2l.25 -1.6l.25 2.3l.25 -.9l.25 .8l.25 .1l.25 -.2l.25 -1.4l.25 3l.25 .2l.25 .1l.25 .5l.25 -.7l.25 .9l.25 -.8l.25 .2l.25 1.2l.25 -.8l.25 1.6l.25 -.3l.25 .3l.25 -.4l.25 .5l.25 .2l.25 -1l.25 .2l.25 .7l.25 -1l.25 1l.25 -.8l.25 .2l.25 .5l.25 0l.25 -.9l.25 1.4l.25 -1.1l.25 -.1l.25 .7l.25 -.3l.25 .8l.25 -1.3l.25 -.6l.25 -.3l.25 .9l.25 .3l.25 -.3l.25 -.8l.25 -.7l.25 -2.8l.25 -2.5l.25 3.4l.25 -2l.25 -7.2l.25 -.6l.25 -3l.25 4.7l.25 -2.3l.25 -9.7l.25 6.6l.25 -1l.25 3.2l.25 -1.3l.25 2.6l.25 -1.3l.25 4.8l.25 -2.3l.25 3.6l.25 -3.9l.25 3.7l.25 .4l.25 -.4l.25 -.6l.25 -1.1l.25 1.1l.25 -.6l.25 3.2l.25 -.5l.25 .6l.25 .6l.25 -2.6l.25 .9l.25 .3l.25 -.1l.25 .1l.25 -.1l.25 1.2l.25 3.3l.25 -1.8l.25 .2l.25 .1l.25 -1.4l.25 1.8l.25 -.3l.25 .5l.25 -.4l.25 2.5l.25 -2.9l.25 1.3l.25 0l.25 .4l.25 1.6l.25 .4l.25 -.6l.25 -.8l.25 1.5l.25 -.4l.25 -.8l.25 1.6l.25 -.2l.25 .4l.25 .6l.25 .6l.25 -1.1l.25 .9l.25 .2l.25 0l.25 -.1l.25 .7l.25 -1.1l.25 .3l.25 1l.25 -.9l.25 .4l.25 .5l.25 -1.3l.25 -.5l.25 -.6l.25 1.3l.25 0l.25 -.2l.25 .6l.25 .3l.25 -.5l.25 -.5l.25 -.5l.25 .7l.25 .1l.25 .5l.25 -1.2l.25 0l.25 -.6l.25 .8l.25 .8l.25 .1l.25 -.7l.25 -.5l.25 .5l.25 -1.3l.25 -1l.25 1.1l.25 -4.9l.25 -.9l.25 -2.4l.25 -.2l.25 -5.3l.25 -1.1l.25 2.4l.25 -6.1l.25 -.7l.25 .1l.25 -1.3l.25 .1l.25 7.4l.25 -3l.25 2.2l.25 4.6l.25 -.5l.25 -2.2l.25 3.9l.25 -.9l.25 -.9l.25 4.8l.25 -3.8l.25 .6l.25 1.2l.25 .1l.25 .3l.25 -.5l.25 .3l.25 1.3l.25 -.9l.25 .6l.25 1.5l.25 .2l.25 -.9l.25 -.2l.25 2.7l.25 -3.1l.25 2.2l.25 .3l.25 -1.5l.25 .5l.25 2.9l.25 -.6l.25 -.6l.25 .5l.25 .6l.25 -1l.25 2l.25 -1.8l.25 1.7l.25 -.3l.25 .3l.25 .9l.25 -.3l.25 1.3l.25 .3l.25 .3l.25 -.4l.25 -.7l.25 .6l.25 -1.4l.25 1.8l.25 -.9l.25 -.4l.25 -1.5l.25 1.5l.25 -.9l.25 -.1l.25 -.8l.25 -1.5l.25 1.4l.25 .4l.25 -.9l.25 .8l.25 .2l.25 -1.4l.25 .8l.25 -1.6l.25 -.2l.25 -.3l.25 .2l.25 1.2l.25 -1.6l.25 -.7l.25 .8l.25 -2l.25 .2l.25 2.1l.25 .3l.25 0l.25 -2.9l.25 1.1l.25 0l.25 1.1l.25 -.5l.25 -1.5l.25 -1.3l.25 1.9l.25 -1.5l.25 3.7l.25 -2.1l.25 2l.25 -2.1l.25 -3.2l.25 -1.4l.25 -4.1l.25 4.2l.25 2.4l.25 -6.5l.25 -.2l.25 -2.6l.25 .2l.25 3.7l.25 1.3l.25 -4.7l.25 2.9l.25 -5.7l.25 4.3l.25 1.6l.25 3.6l.25 -3l.25 4.8l.25 -4.4l.25 0l.25 .1l.25 .3l.25 -3.1l.25 3.3l.25 1.1l.25 2l.25 -1.1l.25 -1.9l.25 3l.25 -5.5l.25 3l.25 2.1l.25 -1.1l.25 .2l.25 -1.9l.25 -.8l.25 2.9l.25 2.1l.25 -2.6l.25 1.3l.25 1.2l.25 -3.5l.25 3.8l.25 -1.3l.25 -1l.25 2.6l.25 .5l.25 -1.3l.25 2.1l.25 -.8l.25 2.2l.25 -.9l.25 .8l.25 .9l.25 -.3l.25 1.8l.25 0l.25 1.8l.25 -.2l.25 .4l.25 .2l.25 .5l.25 .4l.25 -.4l.25 .6l.25 .3l.25 -.8l.25 .6l.25 0l.25 -.4l.25 -.6l.25 .6l.25 -.1l.25 -.3l.25 0l.25 1.3l.25 -1l.25 .1l.25 -.4l.25 .6l.25 .1l.25 -.4l.25 .2l.25 -.8l.25 .9l.25 -.1l.25 .2l.25 -.5l.25 .1l.25 .3l.25 -.2l.25 -.7l.25 .6l.25 1.2l.25 -1.1l.25 .2l.25 -.1l.25 -.1l.25 0l.25 -.3l.25 .4l.25 -.3l.25 .1l.25 .5l.25 -.8l.25 -.1l.25 -.1l.25 -.5l.25 1.2l.25 -.7l.25 -1.1l.25 .5l.25 -1.4l.25 -1.5l.25 .4l.25 -2.8l.25 .8l.25 -1.8l.25 .2l.25 -2.1l.25 -1.2l.25 -2l.25 -.2l.25 -.8l.25 -7.4l.25 1.7l.25 3.1l.25 -5.9l.25 -4.1l.25 6.3l.25 1.4l.25 5.2l.25 -1.4l.25 3.1l.25 1.8l.25 -.5l.25 1.8l.25 -3.8l.25 1.5l.25 2.9l.25 -1.5l.25 -2l.25 -1.4l.25 1.7l.25 .4l.25 2.1l.25 -.8l.25 2.7l.25 .7l.25 1.2l.25 -5l.25 .7l.25 1.9l.25 1.2l.25 .7l.25 .1l.25 -.9l.25 1.4l.25 -.9l.25 2.3l.25 -2l.25 2.5l.25 -1.8l.25 1l.25 -.3l.25 .3l.25 .9l.25 -.1l.25 1l.25 .6l.25 -.4l.25 -.5l.25 .8l.25 .3l.25 .7l.25 -1.6l.25 2l.25 -.3l.25 .3l.25 .8l.25 -.1l.25 -1l.25 .3l.25 .3l.25 .1l.25 -.1l.25 .9l.25 -.4l.25 .4l.25 -1.6l.25 1l.25 .5l.25 -1.8l.25 .9l.25 -.3l.25 0l.25 .2l.25 -.8l.25 .5l.25 -.3l.25 .7l.25 .2l.25 .2l.25 -1.3l.25 .6l.25 .1l.25 -.5l.25 .8l.25 -.4l.25 -.3l.25 .7l.25 -.4l.25 1l.25 -1.6l.25 .5l.25 0l.25 .5l.25 -1.1l.25 1.3l.25 -1.8l.25 1l.25 .2l.25 .4l.25 -.8l.25 .6l.25 -1.5l.25 0l.25 -1.5l.25 -.8l.25 -3.6l.25 .6l.25 -1.7l.25 -2.9l.25 1.3l.25 -6.4l.25 4.7l.25 -2.1l.25 2.7l.25 .3l.25 -4.2l.25 2.2l.25 -1.2l.25 -2.3l.25 6.5l.25 1.5l.25 -2.2l.25 3.1l.25 -5.6l.25 4.4l.25 -1.7l.25 .2l.25 -.1l.25 1.8l.25 .6l.25 -2.5l.25 3l.25 -1l.25 .5l.25 -.8l.25 -.7l.25 3.4l.25 -1.1l.25 .5l.25 .8l.25 0l.25 .3l.25 .9l.25 .5l.25 -.8l.25 .5l.25 1.4l.25 -2.1l.25 1.7l.25 -2.4l.25 1.6l.25 -1.2l.25 .9l.25 .8l.25 .5l.25 -.4l.25 1l.25 -.1l.25 .6l.25 -1.8l.25 2.4l.25 -.8l.25 -.4l.25 .9l.25 .9l.25 -.6l.25 -.5l.25 2l.25 -1l.25 .7l.25 -.7l.25 .1l.25 .3l.25 .5l.25 -1.1l.25 .1l.25 -.3l.25 -.4l.25 1.6l.25 -.7l.25 -.9l.25 -.4l.25 -.5l.25 1.2l.25 -.4l.25 .2l.25 .6l.25 -.2l.25 -.9l.25 -.8l.25 .2l.25 .7l.25 -.8l.25 0l.25 1.4l.25 -.1l.25 -1l.25 .4l.25 .4l.25 -.9l.25 .6l.25 -.8l.25 .6l.25 -1.7l.25 .5l.25 1.7l.25 -.4l.25 -2.3l.25 2l.25 -.6l.25 .1l.25 -.6l.25 1.8l.25 -2.4l.25 1.2l.25 .2l.25 -2.1l.25 1.2l.25 .9l.25 -2.1l.25 .5l.25 .5l.25 1l.25 -.6l.25 -2l.25 .4l.25 -.4l.25 2.6l.25 -2.3l.25 .3l.25 .8l.25 0l.25 -.1l.25 .9l.25 -.9l.25 -1.3l.25 .7l.25 .7l.25 -.7l.25 .1l.25 .1l.25 -1.5l.25 1l.25 -2.3l.25 2l.25 .8l.25 -2.9l.25 1.1l.25 -.8l.25 1.3l.25 1.9l.25 -1.8l.25 -.6l.25 .7l.25 -.7l.25 .9l.25 -.4l.25 -2.1l.25 .3l.25 -.3l.25 2.2l.25 -2.1l.25 2.4l.25 -1.1l.25 -2.3l.25 2.6l.25 .9l.25 -.9l.25 -1.8l.25 1.6l.25 2.4l.25 .8l.25 -4.3l.25 .8l.25 0l.25 1.3l.25 .7l.25 -1.9l.25 0l.25 -1.6l.25 -1.2l.25 1.9l.25 -4.2l.25 .1l.25 .3l.25 .2l.25 -5.4l.25 3.1l.25 -.9l.25 -.1l.25 -1.2l.25 2l.25 1.8l.25 -4.2l.25 -.4l.25 1.5l.25 -1.7l.25 1.6l.25 2.9l.25 .2l.25 -1.8l.25 -1.6l.25 4.5l.25 -.2l.25 .4l.25 .7l.25 1.7l.25 -.9l.25 -3.3l.25 -3.5l.25 5.7l.25 .6l.25 -1.4l.25 .5l.25 1.4l.25 -1.3l.25 -2.3l.25 4.1l.25 -.8l.25 -1l.25 1.9l.25 -.9l.25 .4l.25 -5.8l.25 5.5l.25 -3.1l.25 2.6l.25 3l.25 1.3l.25 -.9l.25 -3.6l.25 -1.8l.25 3.8l.25 .6l.25 1.2l.25 -.8l.25 -1.7l.25 1.9l.25 -1.6l.25 .2l.25 -2.3l.25 2.7l.25 1.3l.25 -3.2l.25 1.8l.25 -2.7l.25 3.8l.25 -1.1l.25 -.8l.25 2l.25 -.6l.25 -1.3l.25 1.9l.25 -1.6l.25 2.7l.25 -.7l.25 -2.2l.25 -.2l.25 .1l.25 .3l.25 .3l.25 3l.25 -1.9l.25 -2.2l.25 2.7l.25 0l.25 1.5l.25 -1.7l.25 -1.1l.25 1.7l.25 .3l.25 -2.4l.25 1.4l.25 -.8l.25 1.2l.25 -.4l.25 1l.25 -1.8l.25 -.2l.25 .1l.25 1.7l.25 2.8l.25 -1.5l.25 -.3l.25 -1.2l.25 .3l.25 .1l.25 1.9l.25 .8l.25 -.5" fill="none" stroke="#111" stroke-width="1.3" stroke-linejoin="round"/>
<path d="M527.7 475.6l.25 -.9l.25 1.2l.25 -.5l.25 -1.6l.25 2.6l.25 -1l.25 .7l.25 1.3l.25 -1.5l.25 -1.3l.25 .4l.25 1.7l.25 -2.3l.25 1.7l.25 .1l.25 -1.4l.25 1.3l.25 .4l.25 -1.2l.25 .3l.25 1.1l.25 -1.7l.25 .4l.25 1.8l.25 -.8l.25 -1.3l.25 1.3l.25 1.8l.25 -3.1l.25 2.2l.25 0l.25 -.8l.25 .7l.25 -1.1l.25 2l.25 .2l.25 -2.2l.25 .6l.25 .4l.25 -.6l.25 .8l.25 -1.1l.25 1.4l.25 -.7l.25 .3l.25 .5l.25 .4l.25 -1.6l.25 1.6l.25 .1l.25 -.8l.25 1.4l.25 -1.8l.25 .2l.25 .8l.25 -.8l.25 1.7l.25 -.9l.25 1.2l.25 -2.1l.25 .1l.25 1.8l.25 -1.8l.25 1.7l.25 -1.4l.25 .9l.25 .7l.25 -.9l.25 -.7l.25 .5l.25 1.2l.25 -.6l.25 .4l.25 -.4l.25 .2l.25 -.3l.25 -.6l.25 1.2l.25 -.2l.25 -1.6l.25 1.4l.25 .6l.25 .6l.25 -2.8l.25 0l.25 -1.5l.25 -2.3l.25 -5.5l.25 -1.6l.25 -4.4l.25 -.7l.25 -1.5l.25 2.6l.25 .1l.25 2.9l.25 .5l.25 2.9l.25 2l.25 -2.4l.25 -.6l.25 1.2l.25 0l.25 -1.2l.25 2.9l.25 -.3l.25 2.4l.25 -1l.25 1.8l.25 -3.8l.25 2.8l.25 .7l.25 .2l.25 .5l.25 1.8l.25 -1l.25 .6l.25 0l.25 2.5l.25 -1.2l.25 .6l.25 -.1l.25 1.3l.25 -.5l.25 .3l.25 -.8l.25 .3l.25 1.3l.25 .3l.25 -1.7l.25 1.3l.25 0l.25 2l.25 -2.9l.25 .2l.25 -.3l.25 1.4l.25 .1l.25 -1l.25 1.3l.25 .4l.25 -1.9l.25 .8l.25 -.6l.25 -.3l.25 .1l.25 .1l.25 -.8l.25 .9l.25 .6l.25 -1.3l.25 -.5l.25 -1.9l.25 -1l.25 -3.5l.25 -2l.25 -5.2l.25 -4.7l.25 3.3l.25 -2.2l.25 3.9l.25 -.2l.25 -6.3l.25 2.3l.25 5l.25 -.7l.25 -1.8l.25 4l.25 3.9l.25 -.5l.25 -2l.25 2.3l.25 1.4l.25 -1.6l.25 3.1l.25 -3.4l.25 4.3l.25 -.7l.25 -1.2l.25 -.2l.25 0l.25 -1.1l.25 2.8l.25 .5l.25 -.4l.25 -.4l.25 0l.25 -1.1l.25 .6l.25 -.7l.25 2.5l.25 -1.4l.25 2.2l.25 -1.4l.25 2.5l.25 .3l.25 .2l.25 -.2l.25 -1.3l.25 .2l.25 -.1l.25 1.2l.25 1.5l.25 -2.3l.25 3.3l.25 -2.4l.25 -.3l.25 1.5l.25 .8l.25 -.9l.25 -.3l.25 2.3l.25 -1.8l.25 1.7l.25 -.4l.25 -.1l.25 .5l.25 -.5l.25 .2l.25 1.1l.25 -.5l.25 .3l.25 1.4l.25 .4l.25 -.2l.25 .1l.25 -.5l.25 .2l.25 -.4l.25 -1.1l.25 1.5l.25 0l.25 .4l.25 -1.1l.25 1.1l.25 -.8l.25 -.4l.25 .5l.25 .6l.25 -.5l.25 .2l.25 -.7l.25 .7l.25 .2l.25 -1l.25 .7l.25 -.9l.25 .8l.25 -.9l.25 .9l.25 -.2l.25 -.6l.25 .7l.25 -.7l.25 .6l.25 -1.5l.25 -1l.25 -3.7l.25 -1.2l.25 -5.8l.25 -3.4l.25 -6.7l.25 -3.2l.25 2.7l.25 6.8l.25 -5.3l.25 6l.25 1l.25 -2.8l.25 1.8l.25 3.8l.25 -2l.25 -1.5l.25 2.3l.25 1.4l.25 0l.25 -2.4l.25 3.5l.25 1.7l.25 -1.6l.25 .3l.25 .2l.25 .3l.25 -.7l.25 -.9l.25 1.5l.25 1.7l.25 -1.3l.25 2.6l.25 -2.7l.25 .2l.25 2.7l.25 .3l.25 -1.4l.25 2.7l.25 .6l.25 -.8l.25 -1.4l.25 2.8l.25 -1.2l.25 .4l.25 .9l.25 -.8l.25 2.2l.25 -1.5l.25 1.7l.25 0l.25 1l.25 -.7l.25 .5l.25 -.6l.25 .4l.25 .1l.25 1.1l.25 -.5l.25 1.5l.25 -.7l.25 -.2l.25 .5l.25 1.1l.25 -.7l.25 .6l.25 -1.1l.25 1l.25 .1l.25 -.1l.25 .1l.25 -.9l.25 -.3l.25 .1l.25 1.1l.25 -.3l.25 .2l.25 -.7l.25 .7l.25 -1.2l.25 1l.25 -.8l.25 .3l.25 .5l.25 .1l.25 -.5l.25 -.1l.25 .8l.25 -.1l.25 -.9l.25 .5l.25 -.3l.25 .6l.25 -.8l.25 -1.3l.25 -2.4l.25 -3.7l.25 -1.7l.25 -4.6l.25 -8l.25 -.9l.25 4.8l.25 -1.1l.25 1.5l.25 2.1l.25 3l.25 -1.2l.25 2.8l.25 1.9l.25 -.2l.25 .5l.25 -1.2l.25 2.4l.25 -1.1l.25 1.6l.25 -2l.25 3.3l.25 -1.6l.25 1.1l.25 1.5l.25 -.6l.25 .1l.25 .8l.25 1.5l.25 .4l.25 .1l.25 -.4l.25 .6l.25 1l.25 .2l.25 -.8l.25 .1l.25 .8l.25 .2l.25 -.6l.25 -.8l.25 1.7l.25 -1l.25 .3l.25 -1.7l.25 .9l.25 .3l.25 .3l.25 -.8l.25 -.4l.25 -.1l.25 .8l.25 .4l.25 -.1l.25 -1.3l.25 .7l.25 .3l.25 .7l.25 -.3l.25 -.2l.25 -2.1l.25 .7l.25 -3.2l.25 -2.4l.25 -5l.25 -2.2l.25 -2.4l.25 -1.5l.25 -6.3l.25 8.4l.25 .9l.25 -2.7l.25 -.1l.25 .5l.25 1.5l.25 3.8l.25 -2.6l.25 4.1l.25 -5.3l.25 .8l.25 .9l.25 .2l.25 2.4l.25 2.5l.25 -4l.25 1.9l.25 1.8l.25 1.9l.25 -3.6l.25 1.4l.25 .7l.25 -1.9l.25 .9l.25 -1.4l.25 -.7l.25 .6l.25 2.9l.25 .4l.25 -1.6l.25 -2.2l.25 1.5l.25 .6l.25 2.4l.25 -2l.25 -1.7l.25 1.4l.25 -.4l.25 3.4l.25 -5.5l.25 2.5l.25 .6l.25 -2.4l.25 -.3l.25 4.3l.25 .4l.25 .1l.25 -1.1l.25 1.5l.25 -1.8l.25 .8l.25 .4l.25 -.1l.25 .7l.25 -1.4l.25 .8l.25 -.5l.25 1l.25 .4l.25 -1.2l.25 2.8l.25 .7l.25 -1.6l.25 -.4l.25 -.7l.25 .6l.25 .1l.25 1.1l.25 -.7l.25 1l.25 -.1l.25 -1l.25 -.8l.25 .3l.25 .2l.25 1.2l.25 1.4l.25 -2.1l.25 1.8l.25 -.7l.25 1.7l.25 1.3l.25 -.7l.25 0l.25 .8l.25 1.3l.25 -.4l.25 .5l.25 1.3l.25 1.5l.25 -.5l.25 1.5l.25 .2l.25 -.3l.25 -.2l.25 -.5l.25 .3l.25 .6l.25 .2l.25 -.7l.25 .1l.25 -.2l.25 1.6l.25 -1.9l.25 -.1l.25 1.2l.25 -1.1l.25 1.1l.25 -1l.25 .9l.25 .2l.25 -1l.25 -.4l.25 -1.9l.25 -1.1l.25 -3.9l.25 -4.7l.25 -1.4l.25 -2.4l.25 -2.3l.25 -1.3l.25 3.1l.25 -2.5l.25 .4l.25 1.9l.25 2l.25 -.8l.25 .4l.25 .1l.25 1.1l.25 .9l.25 4.2l.25 -4.6l.25 2.1l.25 .9l.25 -1l.25 -.1l.25 2.3l.25 1.2l.25 -.2l.25 -1.1l.25 -.3l.25 1.4l.25 -2.4l.25 1.1l.25 2.7l.25 -.9l.25 -.1l.25 -.2l.25 0l.25 -.2l.25 1.6l.25 .1l.25 .2l.25 -2.6l.25 3.7l.25 -.2l.25 .8l.25 -1.7l.25 -1.2l.25 1l.25 .5l.25 2.5l.25 -1.9l.25 .4l.25 1.3l.25 .1l.25 .2l.25 -.8l.25 1.8l.25 -.8l.25 -.7l.25 1l.25 -.9l.25 .3l.25 .6l.25 -.1l.25 .6l.25 .1l.25 .3l.25 0l.25 1.2l.25 -.9l.25 .4l.25 0l.25 .4l.25 -.2l.25 1.9l.25 -1l.25 .8l.25 -.5l.25 -.4l.25 .5l.25 -.1l.25 -.3l.25 .7l.25 .7l.25 -.7l.25 .4l.25 .1l.25 -1.6l.25 1.9l.25 -1.7l.25 1.6l.25 -.8l.25 .1l.25 .8l.25 -.6l.25 -1.3l.25 -.1l.25 .3l.25 1l.25 -.3l.25 .3l.25 -.3l.25 .4l.25 -1.2l.25 -1.2l.25 -1.2l.25 -1.5l.25 -5.2l.25 -6.6l.25 -1l.25 0l.25 -1.8l.25 -2l.25 .4l.25 -2.3l.25 2.3l.25 7.2l.25 -3.4l.25 4.5l.25 -3.8l.25 2.1l.25 .6l.25 1.3l.25 -2.1l.25 4.4l.25 -1.8l.25 -2.2l.25 3.9l.25 -.4l.25 -1.5l.25 1.7l.25 1.4l.25 .1l.25 -.2l.25 -.9l.25 1.3l.25 1.4l.25 1.2l.25 -1.4l.25 .4l.25 .4l.25 -1l.25 -1.2l.25 1.4l.25 .6l.25 .6l.25 0l.25 -.4l.25 .4l.25 .5l.25 -.3l.25 .3l.25 -.4l.25 1.2l.25 .6l.25 -.3l.25 .5l.25 .5l.25 -.5l.25 .5l.25 .1l.25 1.1l.25 -.6l.25 .8l.25 -.7l.25 2.1l.25 -.4l.25 -.4l.25 .6l.25 1.3l.25 -.7l.25 -.5l.25 .8l.25 -.1l.25 .6l.25 -.2l.25 -.9l.25 .9l.25 .4l.25 .2l.25 -.5l.25 .7l.25 -.2l.25 -.3l.25 .3l.25 -2l.25 1.9l.25 0l.25 -.7l.25 .4l.25 -.7l.25 .2l.25 0l.25 -.5l.25 .4l.25 -.8l.25 .8l.25 .9l.25 .1l.25 -1l.25 .9l.25 -.7l.25 -1.7l.25 -1.5l.25 -2.4l.25 -3.5l.25 -3.5l.25 -5.7l.25 -1.7l.25 -1.8l.25 2.2l.25 2.1l.25 .8l.25 2.6l.25 1.2l.25 -1.5l.25 3.4l.25 -2.1l.25 1.9l.25 -.4l.25 1.7l.25 0l.25 .8l.25 0l.25 .2l.25 .8l.25 .2l.25 -.3l.25 -.2l.25 2.5l.25 1.1l.25 -1.4l.25 1.6l.25 -.3l.25 1l.25 .9l.25 .1l.25 0l.25 -.8l.25 1.1l.25 .1l.25 .7l.25 -1.1l.25 .3l.25 .2l.25 .6l.25 -1.4l.25 1.1l.25 -.5l.25 -.4l.25 -.4l.25 .2l.25 1l.25 -.8l.25 -.2l.25 .3l.25 .9l.25 -.2l.25 -.1l.25 .1l.25 -.1l.25 -.7l.25 -.4l.25 1.3l.25 -.8l.25 .1l.25 -.3l.25 .3l.25 -.4l.25 -2.9l.25 -1.8l.25 -3.1l.25 -2.2l.25 -3.4l.25 -1.4l.25 -2l.25 1.5l.25 -.6l.25 3.6l.25 -.7l.25 3.9l.25 -3l.25 .4l.25 3.5l.25 .2l.25 -2.4l.25 3.1l.25 -.9l.25 1.9l.25 -1.7l.25 1.6l.25 .8l.25 -1.8l.25 1.3l.25 .8l.25 1.6l.25 -1l.25 .7l.25 -.7l.25 .3l.25 .1l.25 -.5l.25 -1.4l.25 .4l.25 2.2l.25 .3l.25 -.1l.25 -.4l.25 .3l.25 -.4l.25 2.3l.25 -2.1l.25 2.9l.25 -1.4l.25 2.5l.25 -1.3l.25 -.4l.25 .6l.25 -.2l.25 1.5l.25 -.7l.25 .3l.25 -.4l.25 1.1l.25 -.9l.25 .7l.25 1.2l.25 -1.5l.25 1.4l.25 .5l.25 -.5l.25 .7l.25 -.2l.25 -.3l.25 -1.1l.25 .5l.25 .1l.25 .6l.25 -.5l.25 -.1l.25 -.5l.25 .5l.25 .2l.25 -1.4l.25 1.2l.25 .2l.25 -.3l.25 0l.25 -.2l.25 .7l.25 -.7l.25 .8l.25 -.4l.25 -1.2l.25 .8l.25 .3l.25 .3l.25 -.4l.25 -.2l.25 .5l.25 .4l.25 -1.7l.25 -.2l.25 .1l.25 -2.9l.25 -4.1l.25 .1l.25 -1.9l.25 -5.6l.25 .8l.25 -1.6l.25 1.3l.25 1.8l.25 -1.4l.25 1.1l.25 .4l.25 -1.3l.25 .4l.25 4.8l.25 -.3l.25 -2.1l.25 3.7l.25 -1.7l.25 -.2l.25 2.1l.25 -.2l.25 2.1l.25 -3.5l.25 1.8l.25 -1.1l.25 3.9l.25 -2.6l.25 1.5l.25 -2.9l.25 1.5l.25 2l.25 -1l.25 0l.25 1.5l.25 -.3l.25 .2l.25 .3l.25 -.4l.25 1.9l.25 -.2l.25 -.8l.25 .1l.25 -1l.25 .8l.25 2.1l.25 -1.7l.25 .8l.25 1.7l.25 -.3l.25 -.2l.25 .2l.25 -.2l.25 .5l.25 .1l.25 .9l.25 -.1l.25 -.6l.25 1.3l.25 0l.25 .3l.25 .3l.25 0l.25 -.1l.25 .7l.25 .1l.25 -.6l.25 .1l.25 .2l.25 .1l.25 -.3l.25 -.7l.25 1.3l.25 -.9l.25 -.3l.25 .1l.25 .5l.25 -.2l.25 -1l.25 .3l.25 0l.25 .4l.25 .4l.25 -.4l.25 1.3l.25 -.6l.25 .3l.25 -.4l.25 -1l.25 .9l.25 -1l.25 .2l.25 .6l.25 -.1l.25 .3l.25 -.4l.25 .6l.25 -.1l.25 -.3l.25 -1.1l.25 -1.4l.25 -.9l.25 -.7l.25 -7.1l.25 -2.3l.25 -4.2l.25 -4.7l.25 5.4l.25 -.6l.25 1.5l.25 -1.9l.25 .2l.25 4.8l.25 -3.8l.25 3.2l.25 .7l.25 -1.4l.25 -.8l.25 1.5l.25 -3.1l.25 2.6l.25 0l.25 -1.5l.25 1.9l.25 2l.25 2.4l.25 -5.1l.25 2.5l.25 .1l.25 -.9l.25 -.3l.25 1.8l.25 .5l.25 -3l.25 -.3l.25 2.5l.25 .5l.25 -.8l.25 2.6l.25 -3.3l.25 1.3l.25 1l.25 -1.3l.25 1.1l.25 1.1l.25 1l.25 -1.6l.25 -.2l.25 1.3l.25 -.2l.25 -1.2l.25 2.5l.25 -.9l.25 .1l.25 2.7l.25 .4l.25 -.4l.25 1.8l.25 -.6l.25 .4l.25 -.1l.25 1.6l.25 -.4l.25 .8l.25 -.9l.25 .8l.25 -.4l.25 .8l.25 .5l.25 .3l.25 -.3l.25 1.5l.25 -1l.25 1.5l.25 -.5l.25 .6l.25 -1l.25 .4l.25 .1l.25 .7l.25 -.9l.25 .5l.25 -.7l.25 .4l.25 -.8l.25 0l.25 .3l.25 -1.2l.25 -.2l.25 .7l.25 .9l.25 -.4l.25 -.8l.25 .2l.25 -.3l.25 0l.25 .5l.25 -1.5l.25 -.2l.25 -.5l.25 .5l.25 1l.25 -.7l.25 -.9l.25 .3l.25 0l.25 .9l.25 -.5l.25 -.1l.25 .5l.25 -.6l.25 .3l.25 -1.4l.25 -.2l.25 .2l.25 1.3l.25 -3.7l.25 -.3l.25 -1.5l.25 -4.3l.25 -7.2l.25 8.9l.25 -4.4l.25 -.6l.25 1.6l.25 -.1l.25 -2.2l.25 -.1l.25 2.8l.25 -.6l.25 -2.1l.25 2.2l.25 5.9l.25 -2.9l.25 2.4l.25 -3.4l.25 .6l.25 -.4l.25 .9l.25 .6l.25 -1.2l.25 -.7l.25 .6l.25 .8l.25 1.5l.25 -3.2l.25 1.1l.25 1.7l.25 1.3l.25 -2.3l.25 1.1l.25 -.6l.25 0l.25 .6l.25 -.8l.25 .5l.25 0l.25 2.4l.25 -1.9l.25 2.2l.25 -2.1l.25 .4l.25 -1.1l.25 1.3l.25 1.6l.25 .3l.25 -3.1l.25 4.2l.25 -2.4l.25 .3l.25 .7l.25 -1l.25 -.9l.25 1.1l.25 -.4l.25 2.6l.25 -1.9l.25 -2.4l.25 3.9l.25 -.7l.25 -.6l.25 -1.8l.25 5.5l.25 -3.7l.25 .1l.25 -.1l.25 1l.25 .1l.25 .8l.25 .6l.25 .2l.25 1.4l.25 -1l.25 2l.25 .1l.25 .4l.25 .9l.25 .1l.25 .3l.25 -.2l.25 -.1l.25 -.4l.25 .1l.25 .3l.25 .7l.25 -.5l.25 .2l.25 -.6l.25 -.3l.25 .8l.25 1.1l.25 -1.7l.25 1.2l.25 -1.3l.25 0l.25 .1l.25 0l.25 .8l.25 -.3l.25 -.1l.25 -.3l.25 .7l.25 .4l.25 -.7l.25 -.3l.25 -.4l.25 .4l.25 -.5l.25 1.3l.25 -1.1l.25 .9l.25 -1.1l.25 1l.25 -.2l.25 .1l.25 -.2l.25 -.7l.25 1.8l.25 -2.7l.25 .3l.25 -2.7l.25 -3.4l.25 -.9l.25 -1.3l.25 -2.2l.25 -4.9l.25 .8l.25 2.9l.25 .4l.25 1.6l.25 -1.1l.25 -1.5l.25 1.6l.25 2.7l.25 -1.2l.25 .1l.25 2.7l.25 1.1l.25 -2.2l.25 .8l.25 .3l.25 1.3l.25 -1.1l.25 .2l.25 .4l.25 -1l.25 2.8l.25 .5l.25 -1.3l.25 .2l.25 .3l.25 .1l.25 -.6l.25 1.5l.25 .3l.25 .4l.25 -1.5l.25 1.2l.25 -1l.25 2.7l.25 -2.5l.25 1.3l.25 1.5l.25 -2.2l.25 1.5l.25 -1l.25 2l.25 -.7l.25 .1l.25 0l.25 1.1l.25 -.1l.25 .5l.25 .3l.25 -.6l.25 .7l.25 .7l.25 -.2l.25 .1l.25 0l.25 -.2l.25 .3l.25 -.1l.25 1.3l.25 -1.4l.25 -.3l.25 .6l.25 -.3l.25 -.2l.25 .7l.25 -.5l.25 -.3l.25 .7l.25 .6l.25 -.3l.25 -.5l.25 0l.25 -.2l.25 .4l.25 -.5l.25 .3l.25 -.3l.25 .2l.25 -1.1l.25 1l.25 -.3l.25 .1l.25 .3l.25 -.8l.25 .2l.25 .5l.25 -.1l.25 .4l.25 -.3l.25 -.9l.25 1l.25 -.3l.25 .1l.25 .4l.25 -.4l.25 -.2l.25 -.7l.25 .6l.25 .6l.25 -.2l.25 -.8l.25 -.1l.25 .4l.25 .4l.25 -.5l.25 .9l.25 -.2l.25 -3.2l.25 .6l.25 -2.1l.25 -7.6l.25 -2l.25 .6l.25 -.8l.25 -1.9l.25 1.8l.25 1.6l.25 -2.6l.25 -2l.25 3.5l.25 2.1l.25 1.3l.25 -.4l.25 -5.7l.25 2.7l.25 1.9l.25 -.8l.25 2.3l.25 0l.25 .8l.25 .9l.25 -2.8l.25 3.4l.25 -4.5l.25 -2l.25 2.6l.25 .4l.25 2.3l.25 1.4l.25 -4.3l.25 3.2l.25 .7l.25 -1.2l.25 -3.1l.25 3.5l.25 .7l.25 -3.6l.25 1.8l.25 2.2l.25 -.9l.25 1.1l.25 .3l.25 -3.3l.25 .2l.25 2.8l.25 -1.5l.25 1.6l.25 -.4l.25 -1.7l.25 2.3l.25 -.5l.25 -1.3l.25 .2l.25 0l.25 1.1l.25 .9l.25 -.5l.25 -.8l.25 -1.4l.25 1.8l.25 -.1l.25 -.6l.25 -.2l.25 2.9l.25 0l.25 -3.3l.25 2.8l.25 -.6l.25 1.6l.25 -2.9l.25 2.1l.25 -1.6l.25 .4l.25 .5l.25 .9l.25 -.8l.25 -1.8l.25 2.7l.25 -.9l.25 -.1l.25 -1.6l.25 1.5l.25 1.7l.25 .2l.25 -.8l.25 -1.3l.25 1.8l.25 -1.6l.25 1.9l.25 -.7l.25 -.1l.25 2.8l.25 1.1l.25 1.3l.25 .8l.25 1l.25 1.9l.25 -.1l.25 1.1l.25 0l.25 -1.4l.25 .4l.25 -1.3l.25 1.4l.25 -.3l.25 .4l.25 -.3l.25 -.1l.25 -.2l.25 .1l.25 .9l.25 -.3l.25 .8l.25 -.7l.25 -.6l.25 -.1l.25 1.1l.25 -1.8l.25 1l.25 -.2l.25 -.9l.25 1.5l.25 -.5l.25 -.1l.25 -.4l.25 .4l.25 0l.25 .5l.25 -.6l.25 1.3l.25 -1.5l.25 .4l.25 -.4l.25 .5l.25 -1.2l.25 .1l.25 -1.4l.25 -1.8l.25 -3.2l.25 -.4l.25 -1.8l.25 -.9l.25 -4.5l.25 1.1l.25 -1.6l.25 -3l.25 -.5l.25 -2.4l.25 -1.1l.25 -.7l.25 1.5l.25 6.9l.25 -4.9l.25 .5l.25 -1.2l.25 1.6l.25 1.4l.25 -2.1l.25 -.1l.25 2.3l.25 3.7l.25 -2.9l.25 5l.25 -2.1l.25 -.8l.25 -1.7l.25 -.4l.25 6.1l.25 -6.7l.25 2.9l.25 2.1l.25 -1l.25 -1.2l.25 -.8l.25 2.2l.25 -3.9l.25 5.4l.25 -3.8l.25 -1.6l.25 2.5l.25 .4l.25 -.2l.25 -1.8l.25 1.4l.25 2.3l.25 -.5l.25 1.2l.25 -1.2l.25 -1.6l.25 1.1l.25 .7l.25 .3l.25 .2l.25 .1l.25 .7l.25 .1l.25 -1.9l.25 2.7l.25 -.6l.25 -3.9l.25 3.6l.25 -.4l.25 .6l.25 -5.4l.25 3l.25 3.4l.25 -1.3l.25 2.2l.25 .3l.25 -1.3l.25 1.9l.25 -3.1l.25 1.4l.25 -1.6l.25 1.8l.25 1.2l.25 -1l.25 .3l.25 -1.3l.25 1.4l.25 -1l.25 1.1l.25 -.8l.25 1.9l.25 -.3l.25 -.1" fill="none" stroke="#111" stroke-width="1.3" stroke-linejoin="round"/>
<path d="M527.7 514.9l.25 -1.5l.25 4.9l.25 -2.7l.25 .2l.25 -1.1l.25 .4l.25 .3l.25 -.2l.25 -1l.25 -1.6l.25 3l.25 -.8l.25 -.7l.25 -.2l.25 -.2l.25 1.7l.25 -.8l.25 1.5l.25 -2.2l.25 2l.25 -.9l.25 -.7l.25 2l.25 -1.1l.25 .8l.25 .4l.25 -.8l.25 -1.2l.25 .8l.25 1.1l.25 -2.1l.25 1.5l.25 -.9l.25 -.4l.25 -.1l.25 -.7l.25 1.1l.25 .8l.25 -3l.25 -.5l.25 3.3l.25 -.8l.25 1.4l.25 -1.9l.25 1.9l.25 .1l.25 -.5l.25 -1.5l.25 3.2l.25 -2.5l.25 .9l.25 -1.9l.25 .4l.25 1.4l.25 -2.3l.25 2.3l.25 1.7l.25 -4l.25 1.4l.25 1.4l.25 -1.5l.25 1.5l.25 -.8l.25 -2.4l.25 -1.1l.25 2.9l.25 -1.5l.25 .8l.25 2.6l.25 -3.6l.25 2.9l.25 -1.1l.25 .1l.25 -.3l.25 -.4l.25 .7l.25 -1.3l.25 2.6l.25 -2.6l.25 2.2l.25 -2.1l.25 -.3l.25 2.4l.25 -.4l.25 -.4l.25 2.1l.25 -3.4l.25 2.1l.25 -1l.25 1.8l.25 -3.9l.25 -3.5l.25 4l.25 -.6l.25 -1l.25 1.7l.25 0l.25 -.7l.25 1.2l.25 -1.5l.25 4.5l.25 -.7l.25 0l.25 1l.25 -.8l.25 .2l.25 .5l.25 .3l.25 .7l.25 1.9l.25 -1l.25 2.1l.25 -.5l.25 1.6l.25 -1.5l.25 .1l.25 .2l.25 -1.1l.25 2l.25 -.3l.25 -.3l.25 -.1l.25 .6l.25 -1.5l.25 .9l.25 0l.25 .2l.25 .5l.25 -.9l.25 -1l.25 1l.25 -.8l.25 .3l.25 -1l.25 .5l.25 .1l.25 -.2l.25 .6l.25 1l.25 -1.6l.25 -.8l.25 .4l.25 1.2l.25 -1l.25 .8l.25 -.8l.25 .7l.25 -2l.25 .5l.25 -3.1l.25 -2.1l.25 -1.8l.25 -10l.25 5.4l.25 1.1l.25 -6.4l.25 -.4l.25 1.6l.25 2.7l.25 -1l.25 -1.5l.25 1.2l.25 -.5l.25 2.7l.25 .3l.25 -.4l.25 4.1l.25 -.3l.25 1.4l.25 -3.9l.25 4.9l.25 1.2l.25 -2.9l.25 -1.3l.25 -.6l.25 4.6l.25 -1.4l.25 1l.25 -.7l.25 -1.9l.25 1.8l.25 .9l.25 -.9l.25 1.8l.25 -1.2l.25 2.4l.25 -3.6l.25 3.4l.25 -2.6l.25 3.6l.25 .7l.25 -.7l.25 -.2l.25 -.8l.25 2.2l.25 -.9l.25 .5l.25 -.3l.25 .5l.25 -.7l.25 3.6l.25 -2.2l.25 -.4l.25 .1l.25 1l.25 -.5l.25 1.3l.25 -.4l.25 .4l.25 .9l.25 -.5l.25 .3l.25 .3l.25 .9l.25 -1l.25 1.2l.25 -.2l.25 0l.25 -1l.25 1.2l.25 -.9l.25 .8l.25 .4l.25 .1l.25 -.3l.25 1.6l.25 -.6l.25 1.1l.25 -.7l.25 -1l.25 1.9l.25 -.3l.25 .4l.25 -1.2l.25 -1l.25 1.2l.25 -.7l.25 .1l.25 -.1l.25 -.1l.25 1.3l.25 -1.3l.25 -.7l.25 2.3l.25 -1.5l.25 -.2l.25 1.2l.25 -.4l.25 -1.2l.25 1.6l.25 -.1l.25 -.3l.25 -1.4l.25 1.1l.25 -1.1l.25 1.2l.25 -.7l.25 -1.6l.25 -4.6l.25 -.8l.25 -7.2l.25 -4.2l.25 -4l.25 1.1l.25 -.3l.25 -1.1l.25 -.9l.25 5.5l.25 -1.8l.25 -2.9l.25 4.9l.25 -.3l.25 -3.3l.25 3.1l.25 1.1l.25 -3.7l.25 4.5l.25 3.6l.25 -.9l.25 -2l.25 3.8l.25 -1l.25 2.8l.25 -1.9l.25 -.8l.25 1.8l.25 -.6l.25 1.7l.25 -1.8l.25 3.1l.25 -2.2l.25 -1.3l.25 1.2l.25 .5l.25 2.1l.25 -.5l.25 -.5l.25 1.5l.25 -.6l.25 1l.25 -1.7l.25 2.8l.25 -4.5l.25 1l.25 2l.25 1.2l.25 1l.25 -1.4l.25 0l.25 .6l.25 -.1l.25 -.1l.25 -1.3l.25 .7l.25 1.1l.25 -1.5l.25 1.8l.25 1.4l.25 -1.4l.25 -.5l.25 -.3l.25 .9l.25 1.1l.25 1l.25 -.8l.25 .7l.25 .3l.25 -.6l.25 -.3l.25 2.2l.25 -.6l.25 .9l.25 -1.6l.25 .3l.25 .7l.25 -.4l.25 -.4l.25 .5l.25 -.2l.25 1l.25 -1.2l.25 2.1l.25 .4l.25 -1.8l.25 1.2l.25 .6l.25 -.7l.25 1l.25 .5l.25 -.5l.25 1.1l.25 -.3l.25 -.7l.25 .4l.25 1.5l.25 .2l.25 -.4l.25 .7l.25 -1.2l.25 1.7l.25 .2l.25 -.8l.25 .2l.25 -.3l.25 2.1l.25 -1.3l.25 0l.25 -.2l.25 .1l.25 0l.25 .7l.25 -.2l.25 -.7l.25 .5l.25 -.5l.25 .4l.25 -1.4l.25 2.2l.25 -.7l.25 -.6l.25 .9l.25 -.5l.25 -.2l.25 1l.25 -.7l.25 .2l.25 .3l.25 -.5l.25 -.2l.25 -.1l.25 -.5l.25 .9l.25 -1.3l.25 1.3l.25 .1l.25 -.2l.25 -.3l.25 -.5l.25 .6l.25 -.2l.25 -1.9l.25 -2.1l.25 -4.9l.25 -4.4l.25 -1.9l.25 -8.1l.25 .7l.25 -2.9l.25 -.3l.25 5.6l.25 1.1l.25 -1.2l.25 -.7l.25 -1.2l.25 2.7l.25 -1.1l.25 3.7l.25 -4.4l.25 2.3l.25 4.3l.25 -4.4l.25 3.5l.25 -1.6l.25 -4.8l.25 6.3l.25 0l.25 -2.4l.25 3l.25 1.7l.25 -2.3l.25 1.2l.25 -2.2l.25 4.1l.25 -2.5l.25 .5l.25 -6.9l.25 5.9l.25 .6l.25 1.3l.25 -2l.25 -1.5l.25 -.3l.25 4.6l.25 -2.6l.25 1.4l.25 3.2l.25 -4.7l.25 1l.25 3l.25 -1.3l.25 1.5l.25 .1l.25 -2.5l.25 .4l.25 2.1l.25 -.9l.25 -.5l.25 1.9l.25 -.7l.25 -3.6l.25 6.1l.25 -.9l.25 -3.1l.25 2.8l.25 -2.2l.25 -2.5l.25 3.8l.25 1.1l.25 .9l.25 -3.4l.25 2.8l.25 -4.4l.25 4l.25 -.7l.25 .5l.25 -2l.25 3.2l.25 -1.6l.25 1.3l.25 -1.3l.25 1.8l.25 .2l.25 -.9l.25 -1l.25 .5l.25 1.1l.25 1.2l.25 -1l.25 0l.25 .9l.25 -3.1l.25 2l.25 1.4l.25 -.4l.25 .1l.25 .7l.25 -2.6l.25 2.4l.25 -.2l.25 -3l.25 4.4l.25 -1.4l.25 1.9l.25 1.4l.25 .2l.25 1.1l.25 1l.25 .6l.25 1.2l.25 .2l.25 1.9l.25 -.4l.25 .2l.25 .7l.25 -.2l.25 -.5l.25 .1l.25 1l.25 -.7l.25 -.4l.25 .3l.25 .2l.25 -.3l.25 .5l.25 -.5l.25 1l.25 .2l.25 -1.2l.25 -.9l.25 0l.25 .4l.25 .6l.25 -2.5l.25 -2l.25 -3l.25 -9.5l.25 1.1l.25 .2l.25 -7.9l.25 2.6l.25 1.5l.25 .9l.25 -.9l.25 -.8l.25 3.7l.25 .6l.25 -5.1l.25 .7l.25 4.5l.25 3.2l.25 -3.7l.25 3.1l.25 .1l.25 1.1l.25 -2.4l.25 -.2l.25 -.8l.25 2.4l.25 .6l.25 -.6l.25 1.7l.25 -.3l.25 1l.25 -1.6l.25 .7l.25 .7l.25 -1.1l.25 -1.1l.25 3.4l.25 -.6l.25 2.4l.25 -1.7l.25 -1.2l.25 2.9l.25 -.3l.25 -.9l.25 1.9l.25 -.7l.25 0l.25 -.5l.25 -.9l.25 2.3l.25 -.3l.25 1l.25 -.5l.25 1.1l.25 -.3l.25 .1l.25 0l.25 .1l.25 -.7l.25 -.7l.25 1.6l.25 .1l.25 .9l.25 -.5l.25 1.8l.25 -.6l.25 -.6l.25 .5l.25 0l.25 .9l.25 .3l.25 .8l.25 -1.9l.25 1.3l.25 .2l.25 -.3l.25 .6l.25 .4l.25 .5l.25 -.7l.25 .4l.25 .8l.25 -1l.25 .4l.25 -.2l.25 .7l.25 -2l.25 .5l.25 -.2l.25 .7l.25 .1l.25 .5l.25 -.3l.25 -1l.25 .7l.25 .2l.25 -.6l.25 .8l.25 -.3l.25 .6l.25 -1.3l.25 1l.25 -.4l.25 .3l.25 -1.2l.25 -2.1l.25 -3.3l.25 -1.9l.25 -6.9l.25 -.4l.25 -5.3l.25 -4.1l.25 4.7l.25 -1.6l.25 .2l.25 2.8l.25 -3.4l.25 3.4l.25 3l.25 -1.3l.25 2.8l.25 -2.9l.25 1.5l.25 3.4l.25 -7.9l.25 9l.25 1.8l.25 -3.8l.25 4.2l.25 -3l.25 3.1l.25 -1.9l.25 .1l.25 -2.9l.25 3.6l.25 -2.4l.25 3l.25 -1.8l.25 1.1l.25 1.8l.25 -2l.25 .9l.25 1.4l.25 1l.25 -.1l.25 -1.2l.25 .5l.25 -.3l.25 1.4l.25 -.5l.25 0l.25 0l.25 .9l.25 -.5l.25 .2l.25 1.2l.25 .3l.25 -1.3l.25 2.1l.25 -1.3l.25 .5l.25 1.1l.25 -.5l.25 -.4l.25 1.8l.25 -.6l.25 .3l.25 .7l.25 .4l.25 .3l.25 -.1l.25 -.6l.25 .7l.25 .1l.25 .4l.25 -.6l.25 .9l.25 .4l.25 .6l.25 -1l.25 1.3l.25 .1l.25 -.3l.25 .2l.25 .3l.25 .3l.25 1.1l.25 -1l.25 .4l.25 .1l.25 .3l.25 -.3l.25 1l.25 -1.4l.25 .3l.25 0l.25 .1l.25 .4l.25 -.5l.25 -.2l.25 -.2l.25 .3l.25 -.3l.25 .7l.25 -.4l.25 -.9l.25 .5l.25 .4l.25 .1l.25 .1l.25 -.6l.25 1.1l.25 -1.4l.25 .1l.25 .1l.25 .1l.25 .1l.25 .4l.25 -.6l.25 1l.25 -1.1l.25 -1.6l.25 -1.1l.25 -3.6l.25 -3.8l.25 -3.2l.25 -3.4l.25 -2.3l.25 2l.25 -5.8l.25 4.7l.25 -2.5l.25 5.5l.25 -2l.25 3l.25 0l.25 -.7l.25 .7l.25 2.3l.25 -.4l.25 .2l.25 -.6l.25 1.4l.25 -1.5l.25 2.6l.25 -1.3l.25 1.2l.25 -.7l.25 1.5l.25 -.2l.25 -.2l.25 1.8l.25 0l.25 -2.5l.25 1.5l.25 1.3l.25 1.1l.25 -2.1l.25 .3l.25 .2l.25 .7l.25 -.2l.25 .3l.25 .7l.25 -.6l.25 .4l.25 .6l.25 0l.25 2l.25 -3.4l.25 2.7l.25 .4l.25 0l.25 .4l.25 -1.2l.25 0l.25 .9l.25 .1l.25 1l.25 -.2l.25 .5l.25 .6l.25 .9l.25 -.9l.25 .1l.25 .4l.25 0l.25 .4l.25 -.3l.25 -.1l.25 .7l.25 .3l.25 .6l.25 -1.1l.25 .9l.25 -.2l.25 0l.25 .4l.25 -.3l.25 1.8l.25 -1.8l.25 .6l.25 .1l.25 .4l.25 -.5l.25 -.5l.25 1.2l.25 -.7l.25 .1l.25 -.7l.25 -.3l.25 .6l.25 0l.25 .4l.25 -.1l.25 -.3l.25 .5l.25 -.4l.25 -.9l.25 .1l.25 .9l.25 -.8l.25 .5l.25 -.4l.25 .2l.25 -.5l.25 -.1l.25 -1.9l.25 -3l.25 -3.3l.25 -5.4l.25 -3.6l.25 3.7l.25 -1.7l.25 -5.5l.25 .3l.25 -1.6l.25 5.9l.25 -1.9l.25 3.7l.25 .2l.25 .9l.25 2l.25 -2.5l.25 1.6l.25 2.6l.25 -3.4l.25 3.4l.25 3l.25 -.5l.25 -1.8l.25 1.3l.25 1.3l.25 -1.7l.25 -3.7l.25 3.5l.25 0l.25 .4l.25 -.2l.25 1.7l.25 .6l.25 .9l.25 -2l.25 1.9l.25 -2.5l.25 1.2l.25 0l.25 -.5l.25 -2.1l.25 5.2l.25 -1l.25 0l.25 -1.4l.25 2.3l.25 -.3l.25 -.2l.25 1.1l.25 -1l.25 2.7l.25 -3l.25 3.2l.25 -2.4l.25 1.7l.25 -.7l.25 1.8l.25 -.9l.25 .8l.25 -.8l.25 -.2l.25 .6l.25 .9l.25 -.6l.25 0l.25 1.5l.25 -.1l.25 -.8l.25 .7l.25 0l.25 1.4l.25 -1.3l.25 .6l.25 .4l.25 -1l.25 1.8l.25 -.2l.25 -.5l.25 1.3l.25 -.3l.25 -.9l.25 -.5l.25 .5l.25 .3l.25 -.7l.25 1.2l.25 -.7l.25 .4l.25 -1.9l.25 -2.2l.25 -1.3l.25 -4.3l.25 -2.8l.25 -6.8l.25 1.6l.25 -1.2l.25 -3.2l.25 1.8l.25 1.5l.25 -3.5l.25 5.3l.25 2.1l.25 -2.3l.25 3.7l.25 -3.7l.25 .5l.25 4.8l.25 -1.8l.25 -1.2l.25 1l.25 3.7l.25 -3.5l.25 3.4l.25 -2.1l.25 .9l.25 -1.2l.25 1.1l.25 3l.25 -2.6l.25 -.1l.25 -.9l.25 3.7l.25 -1.8l.25 -.3l.25 .1l.25 2.4l.25 -.4l.25 -1.4l.25 1.2l.25 -2l.25 3.4l.25 0l.25 -1l.25 1.3l.25 -1.6l.25 1.2l.25 .8l.25 -1.8l.25 3.5l.25 -.9l.25 .2l.25 .4l.25 .5l.25 -.6l.25 .9l.25 -1.2l.25 .5l.25 1.7l.25 .2l.25 .1l.25 .6l.25 -1.5l.25 1.5l.25 -.7l.25 2.3l.25 -1.3l.25 .5l.25 -.8l.25 1.1l.25 0l.25 .2l.25 -.5l.25 .1l.25 -1l.25 -.1l.25 1l.25 -.3l.25 .6l.25 -.4l.25 -.3l.25 .4l.25 -.1l.25 -.2l.25 .9l.25 -.7l.25 0l.25 -.2l.25 -.9l.25 .9l.25 -.2l.25 -.2l.25 -.1l.25 .3l.25 -.3l.25 .4l.25 -.6l.25 .3l.25 -1.7l.25 -2.3l.25 -2.7l.25 -2.9l.25 -1.3l.25 -4.6l.25 -5.3l.25 -1.1l.25 5.1l.25 -.6l.25 3l.25 -.2l.25 .9l.25 -1.9l.25 5.9l.25 -2.4l.25 -5l.25 4.1l.25 -2.9l.25 1.8l.25 2l.25 -.6l.25 3.9l.25 -3l.25 .4l.25 1.6l.25 -2.9l.25 1l.25 .6l.25 .9l.25 -2.6l.25 1l.25 1.2l.25 1.6l.25 -3.1l.25 5.4l.25 -6.4l.25 2.2l.25 3.5l.25 -2l.25 1.2l.25 -5.1l.25 2.9l.25 1.7l.25 -1.4l.25 1.2l.25 .2l.25 -1.6l.25 -1.3l.25 2.6l.25 -.3l.25 .9l.25 1.1l.25 -2.5l.25 .8l.25 1.5l.25 -.8l.25 .8l.25 -1.2l.25 1.2l.25 .4l.25 -1.2l.25 1.6l.25 1.3l.25 -2.4l.25 1.6l.25 -2l.25 2.1l.25 .4l.25 1.2l.25 1.2l.25 -.7l.25 1.2l.25 -.1l.25 .5l.25 2.6l.25 -.7l.25 .3l.25 .3l.25 .2l.25 -.3l.25 -.5l.25 -.4l.25 1.3l.25 .6l.25 -.9l.25 .8l.25 -.4l.25 -.4l.25 0l.25 0l.25 .6l.25 -.1l.25 -.6l.25 .7l.25 -1.9l.25 1.1l.25 .5l.25 -.5l.25 .3l.25 1.3l.25 -1.3l.25 .3l.25 -.7l.25 -.6l.25 1.1l.25 -.7l.25 .3l.25 .1l.25 .4l.25 -.2l.25 -.7l.25 -1.4l.25 -3.4l.25 -2.2l.25 -3.2l.25 -4.9l.25 -2.7l.25 2.6l.25 -.9l.25 .2l.25 -.8l.25 1l.25 .7l.25 -3.5l.25 4l.25 3.2l.25 -.3l.25 -4.5l.25 .4l.25 2.5l.25 -2.1l.25 1.3l.25 .6l.25 4.9l.25 -3.4l.25 -1.4l.25 3.3l.25 -.2l.25 -.3l.25 -.3l.25 -1l.25 .8l.25 0l.25 -3.6l.25 3.4l.25 1.1l.25 -1.5l.25 2.5l.25 -.6l.25 -1.8l.25 3.6l.25 -2.6l.25 2.6l.25 -2.9l.25 3.7l.25 -3.4l.25 -2l.25 2.8l.25 2.2l.25 -.2l.25 .4l.25 -1.4l.25 1.6l.25 -1.6l.25 1.6l.25 -1.6l.25 1.7l.25 -.9l.25 -1.6l.25 2.1l.25 -.7l.25 1.1l.25 .2l.25 -.5l.25 .5l.25 .2l.25 1.2l.25 -.5l.25 2.5l.25 -.4l.25 -.1l.25 1.6l.25 .1l.25 .1l.25 1.2l.25 0l.25 -.3l.25 1.2l.25 1.5l.25 -.3l.25 0l.25 .6l.25 0l.25 -.6l.25 -.6l.25 .3l.25 .2l.25 .4l.25 -.4l.25 -.1l.25 -.2l.25 -.2l.25 .1l.25 .6l.25 -.7l.25 .3l.25 -.6l.25 -.1l.25 0l.25 1l.25 -1.6l.25 1.7l.25 -.3l.25 -.7l.25 0l.25 1l.25 -1l.25 -.4l.25 .8l.25 -.6l.25 -2.8l.25 -1.2l.25 -4.8l.25 -4.3l.25 -2.1l.25 1.4l.25 -1.2l.25 -2.1l.25 -3.1l.25 4.1l.25 .8l.25 3.2l.25 -.1l.25 .1l.25 -.7l.25 1.8l.25 -.5l.25 .1l.25 .6l.25 .8l.25 -1.5l.25 1.4l.25 -1.9l.25 .8l.25 2.3l.25 -1.8l.25 .4l.25 .7l.25 -.6l.25 1.2l.25 1.4l.25 -1.1l.25 -.4l.25 -2.7l.25 3.3l.25 -.3l.25 .7l.25 .6l.25 -.9l.25 .1l.25 .9l.25 -2.5l.25 3.8l.25 -.8l.25 0l.25 -.5l.25 2l.25 -2.8l.25 2.2l.25 0l.25 -1.6l.25 2.1l.25 .6l.25 -.2l.25 .5l.25 -2.2l.25 3.3l.25 -1.4l.25 -.7l.25 -.2l.25 .9l.25 -.3l.25 1.5l.25 .1l.25 -.2l.25 0l.25 .2l.25 .4l.25 -.2l.25 -.4l.25 1.2l.25 -.3l.25 1.1l.25 -.1l.25 .2l.25 .5l.25 -.6l.25 1l.25 .4l.25 -.2l.25 1.6l.25 -1.5l.25 1.9l.25 -.8l.25 1l.25 -.8l.25 .7l.25 -.5l.25 .8l.25 -1.7l.25 .3l.25 0l.25 .6l.25 .1l.25 -.5l.25 .4l.25 -.4l.25 -.9l.25 .5l.25 -.2l.25 .5l.25 -1.6l.25 -1l.25 -4.2l.25 .1l.25 -6.3l.25 -1.2l.25 -2.5l.25 .7l.25 4.3l.25 -.9l.25 1.5l.25 -2.4l.25 .8l.25 -1.2l.25 1.7l.25 -.7l.25 2l.25 -1.4l.25 .3l.25 1.5l.25 -3.4l.25 2.4l.25 2.4l.25 -.6l.25 -6.5l.25 6.2l.25 .8l.25 -1.4l.25 2.1l.25 -1.6l.25 1.3l.25 .1l.25 1.3l.25 -2.1l.25 .6l.25 .6l.25 -1l.25 .4l.25 0l.25 1.9l.25 -3.2l.25 1.2l.25 3l.25 -.8l.25 -.2l.25 -3.6l.25 2.5l.25 -1.1l.25 1.8l.25 -2.9l.25 5.4l.25 -2l.25 .1l.25 -3.2l.25 2.2l.25 1.3l.25 .2l.25 .1l.25 .4l.25 1.1l.25 .3l.25 -1.9l.25 -2l.25 2.4l.25 .8l.25 -.5l.25 1.5l.25 -1.6l.25 1.8l.25 -1.5l.25 1.1l.25 -.3l.25 .5l.25 .1l.25 .1l.25 2.2l.25 .2l.25 .8l.25 .1l.25 -.3l.25 .3l.25 .8l.25 .5l.25 .7l.25 -.6l.25 -.3l.25 -.2l.25 .8l.25 -.2l.25 -.5l.25 .5l.25 -.3l.25 .2l.25 .2l.25 .1l.25 -.2l.25 .4l.25 .2l.25 -.2l.25 -.1l.25 -.5l.25 -.3l.25 .7l.25 1l.25 -2l.25 1.1l.25 -1.2l.25 1.7l.25 -1.1l.25 .7l.25 -1l.25 .2l.25 0l.25 1.1l.25 -.4l.25 -.5l.25 -1.1l.25 -2.6l.25 -4l.25 -2.4l.25 -3.3l.25 -3.1l.25 -1.6l.25 -.7l.25 1.5l.25 -.2l.25 -1l.25 -2l.25 3.4l.25 -1.5l.25 4l.25 -2.3l.25 -.8l.25 .7l.25 -1l.25 1.8l.25 .6l.25 -.9l.25 1.8l.25 2.9l.25 -4.8l.25 -.9l.25 1l.25 5.4l.25 -5l.25 -1.9l.25 3.3l.25 -1l.25 2.3l.25 -3.5l.25 3.7l.25 -4.1l.25 2.5l.25 .5l.25 -.4l.25 -.1l.25 -2.3l.25 1.1l.25 1.4l.25 1.9l.25 .1l.25 -.6l.25 -.3l.25 3.3l.25 -.1l.25 -1.3l.25 .9l.25 -1.3l.25 1.5l.25 -3.2l.25 -2.7l.25 1l.25 4.6l.25 -1.6l.25 .5l.25 2.4l.25 -1.5l.25 -.5l.25 -1l.25 1.9l.25 -1.2l.25 2.8l.25 -2l.25 -.9l.25 1.7l.25 -4.3l.25 -.7l.25 4.3l.25 .8l.25 -.7l.25 -1l.25 -.3l.25 1.6l.25 -.8l.25 2l.25 -2.4l.25 1.1l.25 1l.25 -2.6l.25 .4l.25 1.2l.25 1l.25 -1.8l.25 2.2l.25 .9l.25 -2.2l.25 1.4l.25 .4" fill="none" stroke="#111" stroke-width="1.3" stroke-linejoin="round"/>
<line x1="865.5" y1="530.5" x2="916.7" y2="530.5" stroke="#111" stroke-width="2"/>
<text x="889.5" y="543.8" font-size="12" text-anchor="middle">2 s</text><defs><filter id="jet" x="0" y="0" width="1" height="1" color-interpolation-filters="sRGB"><feGaussianBlur stdDeviation="2.2"/><feComponentTransfer><feFuncR type="table" tableValues="0.173 0.179 0.186 0.193 0.200 0.211 0.222 0.233 0.238 0.242 0.246 0.225 0.190 0.178 0.265 0.351 0.387 0.411 0.434 0.475 0.529 0.583 0.646 0.721 0.796 0.871 0.946 0.978 0.982 0.982 0.971 0.959 0.949 0.939 0.929 0.879 0.829 0.779 0.690 0.592 0.494"/><feFuncG type="table" tableValues="0.208 0.222 0.235 0.249 0.263 0.303 0.344 0.384 0.425 0.467 0.509 0.562 0.622 0.680 0.727 0.775 0.782 0.780 0.777 0.780 0.786 0.792 0.806 0.830 0.855 0.884 0.914 0.867 0.769 0.673 0.586 0.500 0.376 0.243 0.110 0.115 0.120 0.125 0.113 0.098 0.082"/><feFuncB type="table" tableValues="0.502 0.524 0.545 0.567 0.588 0.618 0.647 0.676 0.706 0.735 0.765 0.804 0.850 0.888 0.894 0.901 0.851 0.787 0.724 0.639 0.541 0.443 0.350 0.265 0.180 0.185 0.190 0.207 0.231 0.241 0.188 0.136 0.130 0.136 0.141 0.149 0.156 0.163 0.145 0.119 0.094"/><feFuncA type="linear" slope="0" intercept="1"/></feComponentTransfer></filter><clipPath id="pc"><rect x="119.3" y="573.6" width="702.3000000000001" height="227.60000000000002"/></clipPath></defs><g clip-path="url(#pc)"><g filter="url(#jet)"><rect x="99.3" y="553.6" width="742.3000000000001" height="267.6" fill="#000"/><path d="M200 764 C216.7 764.2 266.7 764.8 300.0 765.0 C333.3 765.2 366.7 765.0 400.0 765.0 C433.3 765.0 470.0 765.0 500.0 765.0 C530.0 765.0 558.3 765.0 580.0 765.0 C601.7 765.0 613.3 765.0 630.0 765.0 C646.7 765.0 671.7 765.0 680.0 765.0 L680 770 C671.7 770.7 646.7 771.8 630.0 774.0 C613.3 776.2 601.7 781.2 580.0 783.0 C558.3 784.8 530.0 784.8 500.0 785.0 C470.0 785.2 433.3 784.5 400.0 784.0 C366.7 783.5 333.3 782.7 300.0 782.0 C266.7 781.3 216.7 780.3 200.0 780.0 Z" fill="rgb(51,51,51)"/><path d="M220 766 C233.3 766.0 270.0 766.0 300.0 766.0 C330.0 766.0 366.7 766.0 400.0 766.0 C433.3 766.0 470.0 766.0 500.0 766.0 C530.0 766.0 556.7 766.0 580.0 766.0 C603.3 766.0 630.0 766.0 640.0 766.0 L640 772 C630.0 773.0 603.3 776.8 580.0 778.0 C556.7 779.2 530.0 779.0 500.0 779.5 C470.0 780.0 433.3 781.0 400.0 781.0 C366.7 781.0 330.0 780.0 300.0 779.5 C270.0 779.0 233.3 778.2 220.0 778.0 Z" fill="rgb(92,92,92)"/><path d="M230 766 C241.7 766.0 268.3 766.0 300.0 766.0 C331.7 766.0 383.3 766.0 420.0 766.0 C456.7 766.0 490.0 766.0 520.0 766.0 C550.0 766.0 586.7 766.0 600.0 766.0 L600 770.5 C586.7 770.6 550.0 770.6 520.0 771.0 C490.0 771.4 456.7 772.7 420.0 773.0 C383.3 773.3 331.7 773.2 300.0 773.0 C268.3 772.8 241.7 772.2 230.0 772.0 Z" fill="rgb(120,120,120)"/><path d="M150 722 C160.0 721.3 185.0 719.0 210.0 718.0 C235.0 717.0 268.3 716.3 300.0 716.0 C331.7 715.7 366.7 716.7 400.0 716.0 C433.3 715.3 466.7 712.0 500.0 712.0 C533.3 712.0 566.7 715.7 600.0 716.0 C633.3 716.3 668.3 714.7 700.0 714.0 C731.7 713.3 771.3 713.3 790.0 712.0 C808.7 710.7 808.3 707.0 812.0 706.0 L812 730 C808.3 732.5 808.7 741.3 790.0 745.0 C771.3 748.7 731.7 750.8 700.0 752.0 C668.3 753.2 633.3 752.0 600.0 752.0 C566.7 752.0 533.3 752.3 500.0 752.0 C466.7 751.7 433.3 750.7 400.0 750.0 C366.7 749.3 331.7 749.0 300.0 748.0 C268.3 747.0 235.0 745.7 210.0 744.0 C185.0 742.3 160.0 739.0 150.0 738.0 Z" fill="rgb(51,51,51)"/><path d="M157 727 C165.8 726.6 186.2 725.2 210.0 724.5 C233.8 723.8 268.3 723.4 300.0 723.0 C331.7 722.6 366.7 723.2 400.0 722.0 C433.3 720.8 466.7 716.0 500.0 716.0 C533.3 716.0 566.7 721.5 600.0 722.0 C633.3 722.5 670.0 719.3 700.0 719.0 C730.0 718.7 762.3 720.3 780.0 720.0 C797.7 719.7 801.7 717.5 806.0 717.0 L806 731 C801.7 732.8 797.7 739.0 780.0 742.0 C762.3 745.0 730.0 747.8 700.0 749.0 C670.0 750.2 633.3 749.0 600.0 749.0 C566.7 749.0 533.3 749.3 500.0 749.0 C466.7 748.7 433.3 747.8 400.0 747.0 C366.7 746.2 331.7 745.0 300.0 744.0 C268.3 743.0 233.8 742.2 210.0 741.0 C186.2 739.8 165.8 737.7 157.0 737.0 Z" fill="rgb(89,89,89)"/><path d="M225 728.5 C230.8 728.4 247.5 727.8 260.0 728.0 C272.5 728.2 276.7 729.7 300.0 730.0 C323.3 730.3 366.7 730.0 400.0 730.0 C433.3 730.0 466.7 729.7 500.0 730.0 C533.3 730.3 566.7 732.7 600.0 732.0 C633.3 731.3 670.0 726.8 700.0 726.0 C730.0 725.2 766.7 726.8 780.0 727.0 L780 738 C766.7 739.7 730.0 745.7 700.0 748.0 C670.0 750.3 633.3 751.3 600.0 752.0 C566.7 752.7 533.3 752.0 500.0 752.0 C466.7 752.0 433.3 754.0 400.0 752.0 C366.7 750.0 323.3 742.8 300.0 740.0 C276.7 737.2 272.5 736.3 260.0 735.5 C247.5 734.7 230.8 735.1 225.0 735.0 Z" fill="rgb(120,120,120)"/><ellipse cx="318" cy="733" rx="24" ry="6" fill="rgb(31,31,31)"/><path d="M295 743 L340 742.5" fill="none" stroke="rgb(89,89,89)" stroke-width="2.5" stroke-linecap="round"/><path d="M300 735.5 C306.7 735.2 323.3 734.4 340.0 734.0 C356.7 733.6 376.7 733.5 400.0 733.0 C423.3 732.5 453.3 731.0 480.0 731.0 C506.7 731.0 533.3 732.7 560.0 733.0 C586.7 733.3 616.7 733.8 640.0 733.0 C663.3 732.2 678.3 728.8 700.0 728.0 C721.7 727.2 754.7 727.7 770.0 728.0 C785.3 728.3 788.3 729.7 792.0 730.0 L792 736 C788.3 736.5 785.3 738.2 770.0 739.0 C754.7 739.8 721.7 740.0 700.0 741.0 C678.3 742.0 663.3 744.3 640.0 745.0 C616.7 745.7 586.7 745.0 560.0 745.0 C533.3 745.0 506.7 745.2 480.0 745.0 C453.3 744.8 423.3 744.5 400.0 744.0 C376.7 743.5 356.7 742.9 340.0 742.0 C323.3 741.1 306.7 739.1 300.0 738.5 Z" fill="rgb(143,143,143)"/><path d="M385 736 C390.8 735.8 404.2 734.8 420.0 734.5 C435.8 734.2 456.7 733.9 480.0 734.0 C503.3 734.1 533.3 734.8 560.0 735.0 C586.7 735.2 616.7 736.2 640.0 735.5 C663.3 734.8 678.3 731.4 700.0 730.5 C721.7 729.6 755.0 729.8 770.0 730.0 C785.0 730.2 786.7 731.2 790.0 731.5 L790 735 C786.7 735.4 785.0 736.8 770.0 737.5 C755.0 738.2 721.7 738.2 700.0 739.0 C678.3 739.8 663.3 741.9 640.0 742.5 C616.7 743.1 586.7 742.6 560.0 742.5 C533.3 742.4 503.3 742.4 480.0 742.0 C456.7 741.6 435.8 740.5 420.0 740.0 C404.2 739.5 390.8 739.2 385.0 739.0 Z" fill="rgb(168,168,168)"/><ellipse cx="512" cy="737.8" rx="34" ry="4.3" fill="rgb(194,194,194)"/><ellipse cx="508" cy="738" rx="22" ry="3" fill="rgb(204,204,204)"/><ellipse cx="462" cy="736.5" rx="8" ry="2.5" fill="rgb(184,184,184)"/><path d="M478 734 L490 718 L505 715.5 L522 717 L537 734 Z" fill="rgb(102,102,102)" stroke-linejoin="round"/><ellipse cx="507" cy="728" rx="15" ry="6" fill="rgb(153,153,153)"/><path d="M290 745 C296.7 744.5 311.7 742.5 330.0 742.0 C348.3 741.5 371.7 742.0 400.0 742.0 C428.3 742.0 466.7 741.8 500.0 742.0 C533.3 742.2 566.7 742.5 600.0 743.0 C633.3 743.5 676.7 744.3 700.0 745.0 C723.3 745.7 733.3 746.7 740.0 747.0 L740 752 C733.3 752.0 723.3 752.0 700.0 752.0 C676.7 752.0 633.3 752.1 600.0 752.0 C566.7 751.9 533.3 751.3 500.0 751.5 C466.7 751.7 428.3 752.8 400.0 753.0 C371.7 753.2 348.3 753.2 330.0 753.0 C311.7 752.8 296.7 752.2 290.0 752.0 Z" fill="rgb(140,140,140)"/><path d="M190 748 C196.7 748.4 211.7 749.6 230.0 750.5 C248.3 751.4 271.7 753.0 300.0 753.5 C328.3 754.0 366.7 753.9 400.0 753.5 C433.3 753.1 466.7 751.3 500.0 751.0 C533.3 750.7 566.7 751.6 600.0 751.5 C633.3 751.4 675.8 750.8 700.0 750.5 C724.2 750.2 737.5 750.1 745.0 750.0 L745 769 C737.5 769.1 724.2 769.6 700.0 769.5 C675.8 769.4 633.3 768.8 600.0 768.5 C566.7 768.2 533.3 767.9 500.0 768.0 C466.7 768.1 433.3 768.7 400.0 769.0 C366.7 769.3 328.3 769.5 300.0 770.0 C271.7 770.5 248.3 772.0 230.0 772.0 C211.7 772.0 196.7 770.3 190.0 770.0 Z" fill="rgb(168,168,168)"/><path d="M195 751 C204.2 751.6 232.5 753.3 250.0 754.5 C267.5 755.7 275.0 757.3 300.0 758.0 C325.0 758.7 366.7 758.9 400.0 758.5 C433.3 758.1 466.7 755.9 500.0 755.5 C533.3 755.1 571.7 756.0 600.0 756.0 C628.3 756.0 652.5 755.4 670.0 755.5 C687.5 755.6 695.3 756.0 705.0 756.5 C714.7 757.0 724.2 758.2 728.0 758.5 L728 764.5 C724.2 764.7 714.7 765.2 705.0 765.5 C695.3 765.8 687.5 766.0 670.0 766.0 C652.5 766.0 628.3 765.6 600.0 765.5 C571.7 765.4 533.3 765.4 500.0 765.5 C466.7 765.6 433.3 765.8 400.0 766.0 C366.7 766.2 325.0 766.7 300.0 767.0 C275.0 767.3 267.5 767.7 250.0 768.0 C232.5 768.3 204.2 768.8 195.0 769.0 Z" fill="rgb(217,217,217)"/><path d="M690 755.5 C695.0 755.5 710.8 755.4 720.0 755.5 C729.2 755.6 738.3 755.8 745.0 756.0 C751.7 756.2 757.5 756.8 760.0 757.0 L760 765 C757.5 765.2 751.7 765.7 745.0 766.0 C738.3 766.3 729.2 766.8 720.0 767.0 C710.8 767.2 695.0 767.0 690.0 767.0 Z" fill="rgb(191,191,191)"/><path d="M430 760.5 C438.3 760.0 458.3 758.3 480.0 757.8 C501.7 757.3 533.3 757.5 560.0 757.5 C586.7 757.5 618.3 757.2 640.0 757.5 C661.7 757.8 681.7 758.8 690.0 759.0 L690 763 C681.7 763.2 661.7 763.8 640.0 764.0 C618.3 764.2 586.7 764.0 560.0 764.0 C533.3 764.0 501.7 763.9 480.0 763.8 C458.3 763.7 438.3 763.5 430.0 763.5 Z" fill="rgb(250,250,250)"/><ellipse cx="250" cy="745.5" rx="48" ry="4.5" fill="rgb(15,15,15)"/><ellipse cx="313" cy="757.3" rx="20" ry="2.4" fill="rgb(13,13,13)"/><ellipse cx="422" cy="746.3" rx="44" ry="3.3" fill="rgb(13,13,13)"/><ellipse cx="433" cy="769.8" rx="29" ry="1.8" fill="rgb(13,13,13)"/><ellipse cx="586" cy="747.3" rx="50" ry="2.2" fill="rgb(26,26,26)"/><ellipse cx="724" cy="744" rx="45" ry="3.6" fill="rgb(13,13,13)"/><ellipse cx="467" cy="744" rx="8" ry="3" fill="rgb(20,20,20)"/><ellipse cx="390" cy="725" rx="17" ry="8" fill="rgb(10,10,10)"/><path d="M190 748 C195.0 748.1 208.3 748.2 220.0 748.5 C231.7 748.8 253.3 749.8 260.0 750.0" fill="none" stroke="rgb(76,76,76)" stroke-width="2.2" stroke-linecap="round"/><path d="M158 729 L168 713 L177 700 L186 704 L200 712 L216 722 L210 730 Z" fill="rgb(54,54,54)" stroke-linejoin="round"/><ellipse cx="188" cy="717" rx="13" ry="5" fill="rgb(71,71,71)"/><path d="M236 725 L244 708 L251 696 L262 701 L277 712 L270 725 Z" fill="rgb(54,54,54)" stroke-linejoin="round"/><ellipse cx="254" cy="712" rx="9" ry="6" fill="rgb(64,64,64)"/><path d="M346 734 L352 710 L360 701 L372 703 L378 712 L376 734 Z" fill="rgb(97,97,97)" stroke-linejoin="round"/><ellipse cx="362" cy="709" rx="8" ry="6" fill="rgb(115,115,115)"/><path d="M370 703 C370.8 701.3 374.0 695.5 375.0 693.0 C376.0 690.5 375.8 688.8 376.0 688.0" fill="none" stroke="rgb(76,76,76)" stroke-width="5" stroke-linecap="round"/><path d="M405 734 L420 712 L429 700 L438 710 L452 734 Z" fill="rgb(92,92,92)" stroke-linejoin="round"/><ellipse cx="432" cy="727" rx="13" ry="6" fill="rgb(128,128,128)"/><ellipse cx="577" cy="694" rx="13" ry="15" fill="rgb(92,92,92)"/><path d="M572 670 L574 680" fill="none" stroke="rgb(84,84,84)" stroke-width="6" stroke-linecap="round"/><ellipse cx="576" cy="697" rx="8" ry="8" fill="rgb(122,122,122)"/><ellipse cx="576" cy="697" rx="4" ry="4" fill="rgb(143,143,143)"/><path d="M634 736 L640 716 L646 704 L652 694 L658 686 L664 690 L664 702 L676 706 L670 716 L684 728 L690 736 Z" fill="rgb(76,76,76)" stroke-linejoin="round"/><path d="M654 696 C655.0 694.0 657.8 688.0 660.0 684.0 C662.2 680.0 664.7 675.7 667.0 672.0 C669.3 668.3 672.8 663.7 674.0 662.0" fill="none" stroke="rgb(92,92,92)" stroke-width="5.5" stroke-linecap="round"/><path d="M654 698 C656.0 697.7 662.3 695.7 666.0 696.0 C669.7 696.3 674.3 699.3 676.0 700.0" fill="none" stroke="rgb(82,82,82)" stroke-width="5" stroke-linecap="round"/><ellipse cx="653.8" cy="697.3" rx="6" ry="5" fill="rgb(112,112,112)"/><ellipse cx="650" cy="722" rx="10" ry="8" fill="rgb(92,92,92)"/><ellipse cx="635" cy="722" rx="7" ry="10" fill="rgb(71,71,71)"/><path d="M700 724 L708 708 L714 695 L719 686 L725 697 L740 710 L760 716 L776 704 L782 690 L786 681 L791 695 L800 692 L806 684 L811 690 L814 712 L800 724 Z" fill="rgb(51,51,51)" stroke-linejoin="round"/><path d="M704 716 C707.0 715.0 715.2 710.3 722.0 710.0 C728.8 709.7 737.3 712.7 745.0 714.0 C752.7 715.3 764.2 717.3 768.0 718.0" fill="none" stroke="rgb(76,76,76)" stroke-width="4.5" stroke-linecap="round"/><path d="M770 714 C773.3 713.2 783.0 710.3 790.0 709.0 C797.0 707.7 808.3 706.5 812.0 706.0" fill="none" stroke="rgb(87,87,87)" stroke-width="4.5" stroke-linecap="round"/><path d="M719 688 L721 700" fill="none" stroke="rgb(66,66,66)" stroke-width="4" stroke-linecap="round"/><path d="M786 683 L788 698" fill="none" stroke="rgb(66,66,66)" stroke-width="4" stroke-linecap="round"/><ellipse cx="737" cy="721" rx="18" ry="2.2" fill="rgb(15,15,15)"/><ellipse cx="795" cy="716.5" rx="13" ry="2.2" fill="rgb(15,15,15)"/><path d="M130.6 623 L127 656" fill="none" stroke="rgb(182,182,182)" stroke-width="4" stroke-linecap="round"/><path d="M184 630 L185.5 650" fill="none" stroke="rgb(146,146,146)" stroke-width="3.2" stroke-linecap="round"/><path d="M198 633.5 L198.5 650" fill="none" stroke="rgb(162,162,162)" stroke-width="3.8" stroke-linecap="round"/><path d="M208.4 633.5 L208.4 642.7" fill="none" stroke="rgb(79,79,79)" stroke-width="2" stroke-linecap="round"/><path d="M255.6 630 L255 650" fill="none" stroke="rgb(154,154,154)" stroke-width="3.6" stroke-linecap="round"/><path d="M279.5 642.7 L279.5 651.8" fill="none" stroke="rgb(87,87,87)" stroke-width="2.6" stroke-linecap="round"/><path d="M363.3 611.5 L364 628" fill="none" stroke="rgb(154,154,154)" stroke-width="3" stroke-linecap="round"/><path d="M359.6 636 L359.6 659" fill="none" stroke="rgb(182,182,182)" stroke-width="3.2" stroke-linecap="round"/><path d="M373.8 625 L374.5 661" fill="none" stroke="rgb(103,103,103)" stroke-width="3" stroke-linecap="round"/><path d="M431.5 621 L431 648" fill="none" stroke="rgb(174,174,174)" stroke-width="2.8" stroke-linecap="round"/><path d="M437 617 L439 633.5" fill="none" stroke="rgb(134,134,134)" stroke-width="3.2" stroke-linecap="round"/><path d="M437 645 C437.8 646.8 440.2 652.7 442.0 656.0 C443.8 659.3 446.7 663.2 447.6 664.6" fill="none" stroke="rgb(103,103,103)" stroke-width="3" stroke-linecap="round"/><path d="M358 677 C357.7 678.0 355.3 681.2 356.0 683.0 C356.7 684.8 361.0 687.2 362.0 688.0" fill="none" stroke="rgb(95,95,95)" stroke-width="4" stroke-linecap="round"/><path d="M370 686 C371.3 686.7 376.0 688.3 378.0 690.0 C380.0 691.7 381.3 695.0 382.0 696.0" fill="none" stroke="rgb(95,95,95)" stroke-width="5" stroke-linecap="round"/><path d="M432 667 C431.7 669.2 430.0 675.0 430.0 680.0 C430.0 685.0 431.7 694.2 432.0 697.0" fill="none" stroke="rgb(95,95,95)" stroke-width="4" stroke-linecap="round"/><path d="M497.5 626 L497.5 642.7" fill="none" stroke="rgb(154,154,154)" stroke-width="3.4" stroke-linecap="round"/><path d="M505 615 L507 631.7" fill="none" stroke="rgb(198,198,198)" stroke-width="4" stroke-linecap="round"/><path d="M509 632 C509.7 634.7 512.5 642.3 513.0 648.0 C513.5 653.7 512.2 663.0 512.0 666.0" fill="none" stroke="rgb(134,134,134)" stroke-width="3.2" stroke-linecap="round"/><path d="M512 668 C509.7 669.3 500.5 672.7 498.0 676.0 C495.5 679.3 494.3 685.3 497.0 688.0 C499.7 690.7 511.2 691.3 514.0 692.0" fill="none" stroke="rgb(103,103,103)" stroke-width="4.5" stroke-linecap="round"/><path d="M574.5 626 L574.5 650" fill="none" stroke="rgb(199,199,199)" stroke-width="3.6" stroke-linecap="round"/><path d="M580.5 613.3 L585.5 641" fill="none" stroke="rgb(162,162,162)" stroke-width="3.6" stroke-linecap="round"/><path d="M589 655.5 L590 674" fill="none" stroke="rgb(103,103,103)" stroke-width="3.5" stroke-linecap="round"/><path d="M654.8 624.8 L654.8 644.6" fill="none" stroke="rgb(199,199,199)" stroke-width="4.6" stroke-linecap="round"/><path d="M665.7 617 L665.7 630.7" fill="none" stroke="rgb(154,154,154)" stroke-width="3.2" stroke-linecap="round"/><path d="M660.8 645 L660.8 658.5" fill="none" stroke="rgb(154,154,154)" stroke-width="3.2" stroke-linecap="round"/><path d="M672.7 635 L672.7 648.6" fill="none" stroke="rgb(103,103,103)" stroke-width="3.2" stroke-linecap="round"/><path d="M675 660 C673.7 662.0 669.5 668.3 667.0 672.0 C664.5 675.7 661.2 680.3 660.0 682.0" fill="none" stroke="rgb(154,154,154)" stroke-width="4.5" stroke-linecap="round"/><path d="M722.3 625 L722.3 642.7" fill="none" stroke="rgb(166,166,166)" stroke-width="3.2" stroke-linecap="round"/><path d="M786.5 625 L786.5 642.7" fill="none" stroke="rgb(158,158,158)" stroke-width="3" stroke-linecap="round"/><path d="M752.5 645 L752.5 660.5" fill="none" stroke="rgb(75,75,75)" stroke-width="2" stroke-linecap="round"/><path d="M763 645 L763 660.5" fill="none" stroke="rgb(63,63,63)" stroke-width="1.5" stroke-linecap="round"/><ellipse cx="196" cy="667.3" rx="2.5" ry="2.5" fill="rgb(46,46,46)"/></g></g><path d="M121.3 574 C121.3 585.0 121.3 624.8 121.3 640.0 C121.3 655.2 120.6 658.8 121.3 665.4 C122.0 672.0 123.7 675.2 125.3 679.7 C126.9 684.2 128.9 687.9 130.9 692.4 C132.9 696.9 134.8 702.2 137.2 706.7 C139.6 711.2 142.3 715.4 145.2 719.4 C148.1 723.4 151.3 727.1 154.7 730.5 C158.1 733.9 161.3 737.1 165.8 740.0 C170.3 742.9 176.4 745.6 181.7 748.0 C187.0 750.4 191.7 752.2 197.5 754.3 C203.3 756.4 211.2 758.9 216.6 760.6 C222.0 762.3 223.7 762.8 230.0 764.4 C236.3 766.0 246.2 768.5 254.4 770.5 C262.6 772.5 270.8 775.0 278.9 776.7 C287.0 778.5 295.1 779.6 303.3 781.0 C311.5 782.4 319.7 783.9 327.8 785.2 C335.9 786.5 344.1 787.8 352.2 788.9 C360.3 790.0 368.5 790.9 376.6 791.8 C384.7 792.7 392.9 793.5 401.0 794.3 C409.1 795.1 417.3 795.9 425.5 796.7 C433.7 797.6 442.6 798.7 450.0 799.4 C457.4 800.1 463.3 800.4 470.0 800.8 C476.7 801.2 486.7 801.5 490.0 801.6 L490 802 L119.3 802 L119.3 574 Z" fill="#FBF9F9"/><path d="M500 801.6 C503.3 801.0 511.4 799.5 520.0 798.0 C528.6 796.5 540.2 794.1 551.6 792.6 C563.0 791.1 576.1 790.5 588.3 789.0 C600.5 787.5 614.7 785.3 625.0 783.5 C635.3 781.7 642.4 779.9 649.9 778.4 C657.4 776.9 663.1 775.9 669.7 774.4 C676.3 772.9 683.0 770.9 689.6 769.4 C696.2 767.9 702.8 767.1 709.4 765.5 C716.0 763.9 722.7 761.7 729.3 759.5 C735.9 757.3 742.5 755.1 749.1 752.5 C755.7 749.9 763.0 746.6 769.0 743.6 C775.0 740.6 780.3 738.0 784.9 734.7 C789.5 731.4 793.5 727.4 796.8 723.8 C800.1 720.2 802.4 716.3 804.7 713.0 C807.0 709.7 808.9 707.1 810.4 703.9 C811.9 700.7 812.7 697.1 813.8 693.7 C814.9 690.3 816.1 686.6 817.2 683.5 C818.3 680.4 819.5 677.8 820.3 675.0 C821.1 672.2 821.6 671.2 822.0 667.0 C822.4 662.8 822.3 655.3 822.4 650.0 C822.5 644.7 822.4 637.5 822.4 635.0 L822 635 L822 802 L500 802 Z" fill="#FBF9F9"/><path d="M121.3 574 C121.3 585.0 121.3 624.8 121.3 640.0 C121.3 655.2 120.6 658.8 121.3 665.4 C122.0 672.0 123.7 675.2 125.3 679.7 C126.9 684.2 128.9 687.9 130.9 692.4 C132.9 696.9 134.8 702.2 137.2 706.7 C139.6 711.2 142.3 715.4 145.2 719.4 C148.1 723.4 151.3 727.1 154.7 730.5 C158.1 733.9 161.3 737.1 165.8 740.0 C170.3 742.9 176.4 745.6 181.7 748.0 C187.0 750.4 191.7 752.2 197.5 754.3 C203.3 756.4 211.2 758.9 216.6 760.6 C222.0 762.3 223.7 762.8 230.0 764.4 C236.3 766.0 246.2 768.5 254.4 770.5 C262.6 772.5 270.8 775.0 278.9 776.7 C287.0 778.5 295.1 779.6 303.3 781.0 C311.5 782.4 319.7 783.9 327.8 785.2 C335.9 786.5 344.1 787.8 352.2 788.9 C360.3 790.0 368.5 790.9 376.6 791.8 C384.7 792.7 392.9 793.5 401.0 794.3 C409.1 795.1 417.3 795.9 425.5 796.7 C433.7 797.6 442.6 798.7 450.0 799.4 C457.4 800.1 463.3 800.4 470.0 800.8 C476.7 801.2 486.7 801.5 490.0 801.6" fill="none" stroke="#0d0d0d" stroke-width="2"/><path d="M500 801.6 C503.3 801.0 511.4 799.5 520.0 798.0 C528.6 796.5 540.2 794.1 551.6 792.6 C563.0 791.1 576.1 790.5 588.3 789.0 C600.5 787.5 614.7 785.3 625.0 783.5 C635.3 781.7 642.4 779.9 649.9 778.4 C657.4 776.9 663.1 775.9 669.7 774.4 C676.3 772.9 683.0 770.9 689.6 769.4 C696.2 767.9 702.8 767.1 709.4 765.5 C716.0 763.9 722.7 761.7 729.3 759.5 C735.9 757.3 742.5 755.1 749.1 752.5 C755.7 749.9 763.0 746.6 769.0 743.6 C775.0 740.6 780.3 738.0 784.9 734.7 C789.5 731.4 793.5 727.4 796.8 723.8 C800.1 720.2 802.4 716.3 804.7 713.0 C807.0 709.7 808.9 707.1 810.4 703.9 C811.9 700.7 812.7 697.1 813.8 693.7 C814.9 690.3 816.1 686.6 817.2 683.5 C818.3 680.4 819.5 677.8 820.3 675.0 C821.1 672.2 821.6 671.2 822.0 667.0 C822.4 662.8 822.3 655.3 822.4 650.0 C822.5 644.7 822.4 637.5 822.4 635.0" fill="none" stroke="#0d0d0d" stroke-width="2"/><path d="M120 574 L123 574 L123 637 L127 638 L127.3 660 L124.5 669 L120 665 Z" fill="#0d0d0d"/><rect x="118" y="573.2" width="704.2" height="228.6" fill="none" stroke="#231F20" stroke-width="1.4"/><text x="108.6" y="573.5" font-size="18.3" text-anchor="end" transform="translate(108.6 0) scale(1.03 1) translate(-108.6 0)">4</text><text x="108.6" y="598.9" font-size="18.3" text-anchor="end" transform="translate(108.6 0) scale(1.03 1) translate(-108.6 0)">2</text><text x="108.6" y="626.2" font-size="18.3" text-anchor="end" transform="translate(108.6 0) scale(1.03 1) translate(-108.6 0)">1</text><text x="108.6" y="652.1" font-size="18.3" text-anchor="end" transform="translate(108.6 0) scale(1.03 1) translate(-108.6 0)">0.5</text><text x="108.6" y="678.6" font-size="18.3" text-anchor="end" transform="translate(108.6 0) scale(1.03 1) translate(-108.6 0)">0.25</text><text x="108.6" y="705.2" font-size="18.3" text-anchor="end" transform="translate(108.6 0) scale(1.03 1) translate(-108.6 0)">0.125</text><text x="108.6" y="731.3" font-size="18.3" text-anchor="end" transform="translate(108.6 0) scale(1.03 1) translate(-108.6 0)">0.063</text><text x="108.6" y="758.4" font-size="18.3" text-anchor="end" transform="translate(108.6 0) scale(1.03 1) translate(-108.6 0)">0.031</text><text x="108.6" y="781.6" font-size="18.3" text-anchor="end" transform="translate(108.6 0) scale(1.03 1) translate(-108.6 0)">0.016</text><text x="108.6" y="808.6" font-size="18.3" text-anchor="end" transform="translate(108.6 0) scale(1.03 1) translate(-108.6 0)">0.008</text><text x="117.9" y="823.5" font-size="19.3" text-anchor="middle" textLength="11" lengthAdjust="spacingAndGlyphs">0</text><text x="245.5" y="821.6" font-size="19.3" text-anchor="middle" textLength="34" lengthAdjust="spacingAndGlyphs">100</text><text x="369.1" y="823.8" font-size="19.3" text-anchor="middle" textLength="35" lengthAdjust="spacingAndGlyphs">200</text><text x="480.3" y="826.3" font-size="19.3" text-anchor="middle" textLength="35" lengthAdjust="spacingAndGlyphs">300</text><text x="585" y="824" font-size="19.3" text-anchor="middle" textLength="35.5" lengthAdjust="spacingAndGlyphs">400</text><text x="703.8" y="824" font-size="19.3" text-anchor="middle" textLength="35.5" lengthAdjust="spacingAndGlyphs">500</text><text x="820.5" y="824" font-size="19.3" text-anchor="middle" textLength="35.5" lengthAdjust="spacingAndGlyphs">600</text><text x="497.2" y="853" font-size="23.2" text-anchor="middle" textLength="87" lengthAdjust="spacingAndGlyphs">Time (s)</text><text transform="translate(40.5 678.2) rotate(-90)" font-size="24" text-anchor="middle" textLength="165" lengthAdjust="spacingAndGlyphs">Frequency (Hz)</text><defs><linearGradient id="cb" x1="0" x2="0" y1="0" y2="1"><stop offset="0.000" stop-color="rgb(126,21,24)"/><stop offset="0.025" stop-color="rgb(151,24,30)"/><stop offset="0.050" stop-color="rgb(176,28,36)"/><stop offset="0.075" stop-color="rgb(198,31,41)"/><stop offset="0.100" stop-color="rgb(211,30,39)"/><stop offset="0.125" stop-color="rgb(224,29,37)"/><stop offset="0.150" stop-color="rgb(237,28,36)"/><stop offset="0.175" stop-color="rgb(239,61,34)"/><stop offset="0.200" stop-color="rgb(242,95,33)"/><stop offset="0.225" stop-color="rgb(244,127,34)"/><stop offset="0.250" stop-color="rgb(247,149,48)"/><stop offset="0.275" stop-color="rgb(250,171,61)"/><stop offset="0.300" stop-color="rgb(250,196,58)"/><stop offset="0.325" stop-color="rgb(249,220,52)"/><stop offset="0.350" stop-color="rgb(241,233,48)"/><stop offset="0.375" stop-color="rgb(222,225,47)"/><stop offset="0.400" stop-color="rgb(203,218,46)"/><stop offset="0.425" stop-color="rgb(183,211,67)"/><stop offset="0.450" stop-color="rgb(164,205,89)"/><stop offset="0.475" stop-color="rgb(148,202,113)"/><stop offset="0.500" stop-color="rgb(134,200,138)"/><stop offset="0.525" stop-color="rgb(121,198,163)"/><stop offset="0.550" stop-color="rgb(110,198,184)"/><stop offset="0.575" stop-color="rgb(104,198,200)"/><stop offset="0.600" stop-color="rgb(98,199,217)"/><stop offset="0.625" stop-color="rgb(89,197,229)"/><stop offset="0.650" stop-color="rgb(67,185,227)"/><stop offset="0.675" stop-color="rgb(45,173,226)"/><stop offset="0.700" stop-color="rgb(48,158,216)"/><stop offset="0.725" stop-color="rgb(57,143,205)"/><stop offset="0.750" stop-color="rgb(62,129,195)"/><stop offset="0.775" stop-color="rgb(61,119,187)"/><stop offset="0.800" stop-color="rgb(60,108,179)"/><stop offset="0.825" stop-color="rgb(59,97,172)"/><stop offset="0.850" stop-color="rgb(56,87,165)"/><stop offset="0.875" stop-color="rgb(53,77,157)"/><stop offset="0.900" stop-color="rgb(51,67,150)"/><stop offset="0.925" stop-color="rgb(49,63,144)"/><stop offset="0.950" stop-color="rgb(47,60,139)"/><stop offset="0.975" stop-color="rgb(45,56,133)"/><stop offset="1.000" stop-color="rgb(44,53,128)"/></linearGradient></defs><rect x="834.6" y="575" width="44.8" height="225.4" fill="url(#cb)" stroke="#231F20" stroke-width="0.8"/><text x="886.2" y="598.7" font-size="20" transform="translate(886.2 0) scale(1.085 1) translate(-886.2 0)">1024</text><text x="886.2" y="637.5" font-size="20" transform="translate(886.2 0) scale(1.085 1) translate(-886.2 0)">512</text><text x="886.2" y="675.0" font-size="20" transform="translate(886.2 0) scale(1.085 1) translate(-886.2 0)">256</text><text x="886.2" y="713.7" font-size="20" transform="translate(886.2 0) scale(1.085 1) translate(-886.2 0)">128</text><text x="886.2" y="756.5" font-size="20" transform="translate(886.2 0) scale(1.085 1) translate(-886.2 0)">64</text><text x="886.2" y="793.0" font-size="20" transform="translate(886.2 0) scale(1.085 1) translate(-886.2 0)">32</text><text transform="translate(937.5 679) rotate(90)" font-size="28" text-anchor="middle">Power</text></svg></body></html>
